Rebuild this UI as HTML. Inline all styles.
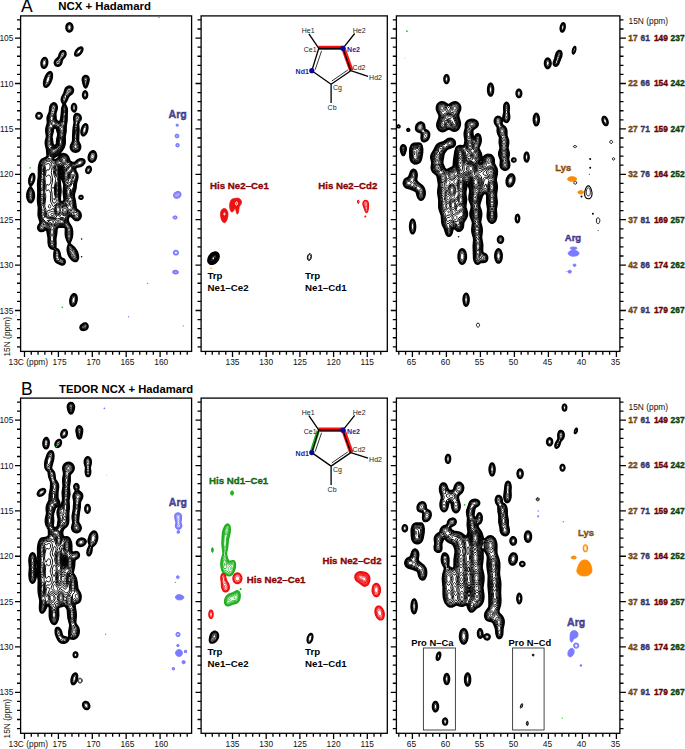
<!DOCTYPE html><html><head><meta charset="utf-8"><style>html,body{margin:0;padding:0;background:#fff;overflow:hidden}svg{display:block}.t{font-family:"Liberation Sans", sans-serif;font-size:8.4px;fill:#111}.tb{font-family:"Liberation Sans", sans-serif;font-size:8.4px;font-weight:bold}.h{font-family:"Liberation Sans", sans-serif;font-size:11.4px;font-weight:bold;fill:#000}.L{font-family:"Liberation Sans", sans-serif;font-size:17.5px;fill:#000}.lab{font-family:"Liberation Sans", sans-serif;font-size:10.5px;font-weight:bold}.lab2{font-family:"Liberation Sans", sans-serif;font-size:9.5px;font-weight:bold}.lab3{font-family:"Liberation Sans", sans-serif;font-size:9.4px;font-weight:bold;fill:#000}.lab4{font-family:"Liberation Sans", sans-serif;font-size:9.7px;font-weight:bold}.sm{font-family:"Liberation Sans", sans-serif;font-size:7px;fill:#222}.smb{font-family:"Liberation Sans", sans-serif;font-size:7px;font-weight:bold;fill:#1a1aa8}</style></head><body>
<svg width="685" height="749" viewBox="0 0 685 749">
<rect width="685" height="749" fill="#fff"/>
<rect x="20.60" y="15.90" width="171.00" height="335.50" fill="none" stroke="#000" stroke-width="1.3"/>
<rect x="201.10" y="15.90" width="186.20" height="335.50" fill="none" stroke="#000" stroke-width="1.3"/>
<rect x="396.40" y="15.90" width="223.50" height="335.50" fill="none" stroke="#000" stroke-width="1.3"/>
<path d="M17.00 19.94H20.60M17.00 29.02H20.60M15.00 38.10H20.60M17.00 47.18H20.60M17.00 56.26H20.60M17.00 65.34H20.60M17.00 74.42H20.60M15.00 83.50H20.60M17.00 92.58H20.60M17.00 101.66H20.60M17.00 110.74H20.60M17.00 119.82H20.60M15.00 128.90H20.60M17.00 137.98H20.60M17.00 147.06H20.60M17.00 156.14H20.60M17.00 165.22H20.60M15.00 174.30H20.60M17.00 183.38H20.60M17.00 192.46H20.60M17.00 201.54H20.60M17.00 210.62H20.60M15.00 219.70H20.60M17.00 228.78H20.60M17.00 237.86H20.60M17.00 246.94H20.60M17.00 256.02H20.60M15.00 265.10H20.60M17.00 274.18H20.60M17.00 283.26H20.60M17.00 292.34H20.60M17.00 301.42H20.60M15.00 310.50H20.60M17.00 319.58H20.60M17.00 328.66H20.60M17.00 337.74H20.60M17.00 346.82H20.60M197.50 19.94H201.10M197.50 29.02H201.10M195.50 38.10H201.10M197.50 47.18H201.10M197.50 56.26H201.10M197.50 65.34H201.10M197.50 74.42H201.10M195.50 83.50H201.10M197.50 92.58H201.10M197.50 101.66H201.10M197.50 110.74H201.10M197.50 119.82H201.10M195.50 128.90H201.10M197.50 137.98H201.10M197.50 147.06H201.10M197.50 156.14H201.10M197.50 165.22H201.10M195.50 174.30H201.10M197.50 183.38H201.10M197.50 192.46H201.10M197.50 201.54H201.10M197.50 210.62H201.10M195.50 219.70H201.10M197.50 228.78H201.10M197.50 237.86H201.10M197.50 246.94H201.10M197.50 256.02H201.10M195.50 265.10H201.10M197.50 274.18H201.10M197.50 283.26H201.10M197.50 292.34H201.10M197.50 301.42H201.10M195.50 310.50H201.10M197.50 319.58H201.10M197.50 328.66H201.10M197.50 337.74H201.10M197.50 346.82H201.10M392.80 19.94H396.40M392.80 29.02H396.40M390.80 38.10H396.40M392.80 47.18H396.40M392.80 56.26H396.40M392.80 65.34H396.40M392.80 74.42H396.40M390.80 83.50H396.40M392.80 92.58H396.40M392.80 101.66H396.40M392.80 110.74H396.40M392.80 119.82H396.40M390.80 128.90H396.40M392.80 137.98H396.40M392.80 147.06H396.40M392.80 156.14H396.40M392.80 165.22H396.40M390.80 174.30H396.40M392.80 183.38H396.40M392.80 192.46H396.40M392.80 201.54H396.40M392.80 210.62H396.40M390.80 219.70H396.40M392.80 228.78H396.40M392.80 237.86H396.40M392.80 246.94H396.40M392.80 256.02H396.40M390.80 265.10H396.40M392.80 274.18H396.40M392.80 283.26H396.40M392.80 292.34H396.40M392.80 301.42H396.40M390.80 310.50H396.40M392.80 319.58H396.40M392.80 328.66H396.40M392.80 337.74H396.40M392.80 346.82H396.40M619.90 19.94H623.50M619.90 29.02H623.50M619.90 38.10H625.90M619.90 47.18H623.50M619.90 56.26H623.50M619.90 65.34H623.50M619.90 74.42H623.50M619.90 83.50H625.90M619.90 92.58H623.50M619.90 101.66H623.50M619.90 110.74H623.50M619.90 119.82H623.50M619.90 128.90H625.90M619.90 137.98H623.50M619.90 147.06H623.50M619.90 156.14H623.50M619.90 165.22H623.50M619.90 174.30H625.90M619.90 183.38H623.50M619.90 192.46H623.50M619.90 201.54H623.50M619.90 210.62H623.50M619.90 219.70H625.90M619.90 228.78H623.50M619.90 237.86H623.50M619.90 246.94H623.50M619.90 256.02H623.50M619.90 265.10H625.90M619.90 274.18H623.50M619.90 283.26H623.50M619.90 292.34H623.50M619.90 301.42H623.50M619.90 310.50H625.90M619.90 319.58H623.50M619.90 328.66H623.50M619.90 337.74H623.50M619.90 346.82H623.50M187.22 351.40V354.80M180.44 351.40V354.80M173.66 351.40V354.80M166.88 351.40V354.80M160.10 351.40V357.00M153.32 351.40V354.80M146.54 351.40V354.80M139.76 351.40V354.80M132.98 351.40V354.80M126.20 351.40V357.00M119.42 351.40V354.80M112.64 351.40V354.80M105.86 351.40V354.80M99.08 351.40V354.80M92.30 351.40V357.00M85.52 351.40V354.80M78.74 351.40V354.80M71.96 351.40V354.80M65.18 351.40V354.80M58.40 351.40V357.00M51.62 351.40V354.80M44.84 351.40V354.80M38.06 351.40V354.80M31.28 351.40V354.80M24.50 351.40V357.00M380.78 351.40V354.80M374.04 351.40V354.80M367.30 351.40V357.00M360.56 351.40V354.80M353.82 351.40V354.80M347.08 351.40V354.80M340.34 351.40V354.80M333.60 351.40V357.00M326.86 351.40V354.80M320.12 351.40V354.80M313.38 351.40V354.80M306.64 351.40V354.80M299.90 351.40V357.00M293.16 351.40V354.80M286.42 351.40V354.80M279.68 351.40V354.80M272.94 351.40V354.80M266.20 351.40V357.00M259.46 351.40V354.80M252.72 351.40V354.80M245.98 351.40V354.80M239.24 351.40V354.80M232.50 351.40V357.00M225.76 351.40V354.80M219.02 351.40V354.80M212.28 351.40V354.80M205.54 351.40V354.80M616.40 351.40V357.00M609.60 351.40V354.80M602.80 351.40V354.80M596.00 351.40V354.80M589.20 351.40V354.80M582.40 351.40V357.00M575.60 351.40V354.80M568.80 351.40V354.80M562.00 351.40V354.80M555.20 351.40V354.80M548.40 351.40V357.00M541.60 351.40V354.80M534.80 351.40V354.80M528.00 351.40V354.80M521.20 351.40V354.80M514.40 351.40V357.00M507.60 351.40V354.80M500.80 351.40V354.80M494.00 351.40V354.80M487.20 351.40V354.80M480.40 351.40V357.00M473.60 351.40V354.80M466.80 351.40V354.80M460.00 351.40V354.80M453.20 351.40V354.80M446.40 351.40V357.00M439.60 351.40V354.80M432.80 351.40V354.80M426.00 351.40V354.80M419.20 351.40V354.80M412.40 351.40V357.00M405.60 351.40V354.80M398.80 351.40V354.80" stroke="#000" stroke-width="1.3" fill="none"/>
<text x="13.4" y="41.20" text-anchor="end" class="t">105</text>
<text x="13.4" y="86.60" text-anchor="end" class="t">110</text>
<text x="13.4" y="132.00" text-anchor="end" class="t">115</text>
<text x="13.4" y="177.40" text-anchor="end" class="t">120</text>
<text x="13.4" y="222.80" text-anchor="end" class="t">125</text>
<text x="13.4" y="268.20" text-anchor="end" class="t">130</text>
<text x="13.4" y="313.60" text-anchor="end" class="t">135</text>
<text x="8.5" y="365.20" class="t">13C (ppm)</text>
<text x="59.60" y="365.20" text-anchor="middle" class="t">175</text>
<text x="93.50" y="365.20" text-anchor="middle" class="t">170</text>
<text x="127.40" y="365.20" text-anchor="middle" class="t">165</text>
<text x="161.30" y="365.20" text-anchor="middle" class="t">160</text>
<text x="232.50" y="365.20" text-anchor="middle" class="t">135</text>
<text x="266.20" y="365.20" text-anchor="middle" class="t">130</text>
<text x="299.90" y="365.20" text-anchor="middle" class="t">125</text>
<text x="333.60" y="365.20" text-anchor="middle" class="t">120</text>
<text x="367.30" y="365.20" text-anchor="middle" class="t">115</text>
<text x="411.50" y="365.20" text-anchor="middle" class="t">65</text>
<text x="445.50" y="365.20" text-anchor="middle" class="t">60</text>
<text x="479.50" y="365.20" text-anchor="middle" class="t">55</text>
<text x="513.50" y="365.20" text-anchor="middle" class="t">50</text>
<text x="547.50" y="365.20" text-anchor="middle" class="t">45</text>
<text x="581.50" y="365.20" text-anchor="middle" class="t">40</text>
<text x="615.50" y="365.20" text-anchor="middle" class="t">35</text>
<text transform="translate(9.5,356.60) rotate(-90)" class="t">15N (ppm)</text>
<text x="628.5" y="23.90" class="t">15N (ppm)</text>
<text x="628.3" y="41.00" class="tb" fill="#b06408" stroke="#3a2000" stroke-width="0.35">17</text>
<text x="640.5" y="41.00" class="tb" fill="#50509e" stroke="#15153a" stroke-width="0.35">61</text>
<text x="653.9" y="41.00" class="tb" fill="#a00000" stroke="#2a0000" stroke-width="0.35">149</text>
<text x="670.6" y="41.00" class="tb" fill="#0a640a" stroke="#002000" stroke-width="0.35">237</text>
<text x="628.3" y="86.40" class="tb" fill="#b06408" stroke="#3a2000" stroke-width="0.35">22</text>
<text x="640.5" y="86.40" class="tb" fill="#50509e" stroke="#15153a" stroke-width="0.35">66</text>
<text x="653.9" y="86.40" class="tb" fill="#a00000" stroke="#2a0000" stroke-width="0.35">154</text>
<text x="670.6" y="86.40" class="tb" fill="#0a640a" stroke="#002000" stroke-width="0.35">242</text>
<text x="628.3" y="131.80" class="tb" fill="#b06408" stroke="#3a2000" stroke-width="0.35">27</text>
<text x="640.5" y="131.80" class="tb" fill="#50509e" stroke="#15153a" stroke-width="0.35">71</text>
<text x="653.9" y="131.80" class="tb" fill="#a00000" stroke="#2a0000" stroke-width="0.35">159</text>
<text x="670.6" y="131.80" class="tb" fill="#0a640a" stroke="#002000" stroke-width="0.35">247</text>
<text x="628.3" y="177.20" class="tb" fill="#b06408" stroke="#3a2000" stroke-width="0.35">32</text>
<text x="640.5" y="177.20" class="tb" fill="#50509e" stroke="#15153a" stroke-width="0.35">76</text>
<text x="653.9" y="177.20" class="tb" fill="#a00000" stroke="#2a0000" stroke-width="0.35">164</text>
<text x="670.6" y="177.20" class="tb" fill="#0a640a" stroke="#002000" stroke-width="0.35">252</text>
<text x="628.3" y="222.60" class="tb" fill="#b06408" stroke="#3a2000" stroke-width="0.35">37</text>
<text x="640.5" y="222.60" class="tb" fill="#50509e" stroke="#15153a" stroke-width="0.35">81</text>
<text x="653.9" y="222.60" class="tb" fill="#a00000" stroke="#2a0000" stroke-width="0.35">169</text>
<text x="670.6" y="222.60" class="tb" fill="#0a640a" stroke="#002000" stroke-width="0.35">257</text>
<text x="628.3" y="268.00" class="tb" fill="#b06408" stroke="#3a2000" stroke-width="0.35">42</text>
<text x="640.5" y="268.00" class="tb" fill="#50509e" stroke="#15153a" stroke-width="0.35">86</text>
<text x="653.9" y="268.00" class="tb" fill="#a00000" stroke="#2a0000" stroke-width="0.35">174</text>
<text x="670.6" y="268.00" class="tb" fill="#0a640a" stroke="#002000" stroke-width="0.35">262</text>
<text x="628.3" y="313.40" class="tb" fill="#b06408" stroke="#3a2000" stroke-width="0.35">47</text>
<text x="640.5" y="313.40" class="tb" fill="#50509e" stroke="#15153a" stroke-width="0.35">91</text>
<text x="653.9" y="313.40" class="tb" fill="#a00000" stroke="#2a0000" stroke-width="0.35">179</text>
<text x="670.6" y="313.40" class="tb" fill="#0a640a" stroke="#002000" stroke-width="0.35">267</text>
<rect x="20.60" y="398.10" width="171.00" height="335.20" fill="none" stroke="#000" stroke-width="1.3"/>
<rect x="201.10" y="398.10" width="186.20" height="335.20" fill="none" stroke="#000" stroke-width="1.3"/>
<rect x="396.40" y="398.10" width="223.50" height="335.20" fill="none" stroke="#000" stroke-width="1.3"/>
<path d="M17.00 402.06H20.60M17.00 411.13H20.60M15.00 420.20H20.60M17.00 429.27H20.60M17.00 438.34H20.60M17.00 447.41H20.60M17.00 456.48H20.60M15.00 465.55H20.60M17.00 474.62H20.60M17.00 483.69H20.60M17.00 492.76H20.60M17.00 501.83H20.60M15.00 510.90H20.60M17.00 519.97H20.60M17.00 529.04H20.60M17.00 538.11H20.60M17.00 547.18H20.60M15.00 556.25H20.60M17.00 565.32H20.60M17.00 574.39H20.60M17.00 583.46H20.60M17.00 592.53H20.60M15.00 601.60H20.60M17.00 610.67H20.60M17.00 619.74H20.60M17.00 628.81H20.60M17.00 637.88H20.60M15.00 646.95H20.60M17.00 656.02H20.60M17.00 665.09H20.60M17.00 674.16H20.60M17.00 683.23H20.60M15.00 692.30H20.60M17.00 701.37H20.60M17.00 710.44H20.60M17.00 719.51H20.60M17.00 728.58H20.60M197.50 402.06H201.10M197.50 411.13H201.10M195.50 420.20H201.10M197.50 429.27H201.10M197.50 438.34H201.10M197.50 447.41H201.10M197.50 456.48H201.10M195.50 465.55H201.10M197.50 474.62H201.10M197.50 483.69H201.10M197.50 492.76H201.10M197.50 501.83H201.10M195.50 510.90H201.10M197.50 519.97H201.10M197.50 529.04H201.10M197.50 538.11H201.10M197.50 547.18H201.10M195.50 556.25H201.10M197.50 565.32H201.10M197.50 574.39H201.10M197.50 583.46H201.10M197.50 592.53H201.10M195.50 601.60H201.10M197.50 610.67H201.10M197.50 619.74H201.10M197.50 628.81H201.10M197.50 637.88H201.10M195.50 646.95H201.10M197.50 656.02H201.10M197.50 665.09H201.10M197.50 674.16H201.10M197.50 683.23H201.10M195.50 692.30H201.10M197.50 701.37H201.10M197.50 710.44H201.10M197.50 719.51H201.10M197.50 728.58H201.10M392.80 402.06H396.40M392.80 411.13H396.40M390.80 420.20H396.40M392.80 429.27H396.40M392.80 438.34H396.40M392.80 447.41H396.40M392.80 456.48H396.40M390.80 465.55H396.40M392.80 474.62H396.40M392.80 483.69H396.40M392.80 492.76H396.40M392.80 501.83H396.40M390.80 510.90H396.40M392.80 519.97H396.40M392.80 529.04H396.40M392.80 538.11H396.40M392.80 547.18H396.40M390.80 556.25H396.40M392.80 565.32H396.40M392.80 574.39H396.40M392.80 583.46H396.40M392.80 592.53H396.40M390.80 601.60H396.40M392.80 610.67H396.40M392.80 619.74H396.40M392.80 628.81H396.40M392.80 637.88H396.40M390.80 646.95H396.40M392.80 656.02H396.40M392.80 665.09H396.40M392.80 674.16H396.40M392.80 683.23H396.40M390.80 692.30H396.40M392.80 701.37H396.40M392.80 710.44H396.40M392.80 719.51H396.40M392.80 728.58H396.40M619.90 402.06H623.50M619.90 411.13H623.50M619.90 420.20H625.90M619.90 429.27H623.50M619.90 438.34H623.50M619.90 447.41H623.50M619.90 456.48H623.50M619.90 465.55H625.90M619.90 474.62H623.50M619.90 483.69H623.50M619.90 492.76H623.50M619.90 501.83H623.50M619.90 510.90H625.90M619.90 519.97H623.50M619.90 529.04H623.50M619.90 538.11H623.50M619.90 547.18H623.50M619.90 556.25H625.90M619.90 565.32H623.50M619.90 574.39H623.50M619.90 583.46H623.50M619.90 592.53H623.50M619.90 601.60H625.90M619.90 610.67H623.50M619.90 619.74H623.50M619.90 628.81H623.50M619.90 637.88H623.50M619.90 646.95H625.90M619.90 656.02H623.50M619.90 665.09H623.50M619.90 674.16H623.50M619.90 683.23H623.50M619.90 692.30H625.90M619.90 701.37H623.50M619.90 710.44H623.50M619.90 719.51H623.50M619.90 728.58H623.50M187.22 733.30V736.70M180.44 733.30V736.70M173.66 733.30V736.70M166.88 733.30V736.70M160.10 733.30V738.90M153.32 733.30V736.70M146.54 733.30V736.70M139.76 733.30V736.70M132.98 733.30V736.70M126.20 733.30V738.90M119.42 733.30V736.70M112.64 733.30V736.70M105.86 733.30V736.70M99.08 733.30V736.70M92.30 733.30V738.90M85.52 733.30V736.70M78.74 733.30V736.70M71.96 733.30V736.70M65.18 733.30V736.70M58.40 733.30V738.90M51.62 733.30V736.70M44.84 733.30V736.70M38.06 733.30V736.70M31.28 733.30V736.70M24.50 733.30V738.90M380.78 733.30V736.70M374.04 733.30V736.70M367.30 733.30V738.90M360.56 733.30V736.70M353.82 733.30V736.70M347.08 733.30V736.70M340.34 733.30V736.70M333.60 733.30V738.90M326.86 733.30V736.70M320.12 733.30V736.70M313.38 733.30V736.70M306.64 733.30V736.70M299.90 733.30V738.90M293.16 733.30V736.70M286.42 733.30V736.70M279.68 733.30V736.70M272.94 733.30V736.70M266.20 733.30V738.90M259.46 733.30V736.70M252.72 733.30V736.70M245.98 733.30V736.70M239.24 733.30V736.70M232.50 733.30V738.90M225.76 733.30V736.70M219.02 733.30V736.70M212.28 733.30V736.70M205.54 733.30V736.70M616.40 733.30V738.90M609.60 733.30V736.70M602.80 733.30V736.70M596.00 733.30V736.70M589.20 733.30V736.70M582.40 733.30V738.90M575.60 733.30V736.70M568.80 733.30V736.70M562.00 733.30V736.70M555.20 733.30V736.70M548.40 733.30V738.90M541.60 733.30V736.70M534.80 733.30V736.70M528.00 733.30V736.70M521.20 733.30V736.70M514.40 733.30V738.90M507.60 733.30V736.70M500.80 733.30V736.70M494.00 733.30V736.70M487.20 733.30V736.70M480.40 733.30V738.90M473.60 733.30V736.70M466.80 733.30V736.70M460.00 733.30V736.70M453.20 733.30V736.70M446.40 733.30V738.90M439.60 733.30V736.70M432.80 733.30V736.70M426.00 733.30V736.70M419.20 733.30V736.70M412.40 733.30V738.90M405.60 733.30V736.70M398.80 733.30V736.70" stroke="#000" stroke-width="1.3" fill="none"/>
<text x="13.4" y="423.30" text-anchor="end" class="t">105</text>
<text x="13.4" y="468.65" text-anchor="end" class="t">110</text>
<text x="13.4" y="514.00" text-anchor="end" class="t">115</text>
<text x="13.4" y="559.35" text-anchor="end" class="t">120</text>
<text x="13.4" y="604.70" text-anchor="end" class="t">125</text>
<text x="13.4" y="650.05" text-anchor="end" class="t">130</text>
<text x="13.4" y="695.40" text-anchor="end" class="t">135</text>
<text x="8.5" y="747.10" class="t">13C (ppm)</text>
<text x="59.60" y="747.10" text-anchor="middle" class="t">175</text>
<text x="93.50" y="747.10" text-anchor="middle" class="t">170</text>
<text x="127.40" y="747.10" text-anchor="middle" class="t">165</text>
<text x="161.30" y="747.10" text-anchor="middle" class="t">160</text>
<text x="232.50" y="747.10" text-anchor="middle" class="t">135</text>
<text x="266.20" y="747.10" text-anchor="middle" class="t">130</text>
<text x="299.90" y="747.10" text-anchor="middle" class="t">125</text>
<text x="333.60" y="747.10" text-anchor="middle" class="t">120</text>
<text x="367.30" y="747.10" text-anchor="middle" class="t">115</text>
<text x="411.50" y="747.10" text-anchor="middle" class="t">65</text>
<text x="445.50" y="747.10" text-anchor="middle" class="t">60</text>
<text x="479.50" y="747.10" text-anchor="middle" class="t">55</text>
<text x="513.50" y="747.10" text-anchor="middle" class="t">50</text>
<text x="547.50" y="747.10" text-anchor="middle" class="t">45</text>
<text x="581.50" y="747.10" text-anchor="middle" class="t">40</text>
<text x="615.50" y="747.10" text-anchor="middle" class="t">35</text>
<text transform="translate(9.5,738.50) rotate(-90)" class="t">15N (ppm)</text>
<text x="628.5" y="409.90" class="t">15N (ppm)</text>
<text x="628.3" y="423.10" class="tb" fill="#b06408" stroke="#3a2000" stroke-width="0.35">17</text>
<text x="640.5" y="423.10" class="tb" fill="#50509e" stroke="#15153a" stroke-width="0.35">61</text>
<text x="653.9" y="423.10" class="tb" fill="#a00000" stroke="#2a0000" stroke-width="0.35">149</text>
<text x="670.6" y="423.10" class="tb" fill="#0a640a" stroke="#002000" stroke-width="0.35">237</text>
<text x="628.3" y="468.45" class="tb" fill="#b06408" stroke="#3a2000" stroke-width="0.35">22</text>
<text x="640.5" y="468.45" class="tb" fill="#50509e" stroke="#15153a" stroke-width="0.35">66</text>
<text x="653.9" y="468.45" class="tb" fill="#a00000" stroke="#2a0000" stroke-width="0.35">154</text>
<text x="670.6" y="468.45" class="tb" fill="#0a640a" stroke="#002000" stroke-width="0.35">242</text>
<text x="628.3" y="513.80" class="tb" fill="#b06408" stroke="#3a2000" stroke-width="0.35">27</text>
<text x="640.5" y="513.80" class="tb" fill="#50509e" stroke="#15153a" stroke-width="0.35">71</text>
<text x="653.9" y="513.80" class="tb" fill="#a00000" stroke="#2a0000" stroke-width="0.35">159</text>
<text x="670.6" y="513.80" class="tb" fill="#0a640a" stroke="#002000" stroke-width="0.35">247</text>
<text x="628.3" y="559.15" class="tb" fill="#b06408" stroke="#3a2000" stroke-width="0.35">32</text>
<text x="640.5" y="559.15" class="tb" fill="#50509e" stroke="#15153a" stroke-width="0.35">76</text>
<text x="653.9" y="559.15" class="tb" fill="#a00000" stroke="#2a0000" stroke-width="0.35">164</text>
<text x="670.6" y="559.15" class="tb" fill="#0a640a" stroke="#002000" stroke-width="0.35">252</text>
<text x="628.3" y="604.50" class="tb" fill="#b06408" stroke="#3a2000" stroke-width="0.35">37</text>
<text x="640.5" y="604.50" class="tb" fill="#50509e" stroke="#15153a" stroke-width="0.35">81</text>
<text x="653.9" y="604.50" class="tb" fill="#a00000" stroke="#2a0000" stroke-width="0.35">169</text>
<text x="670.6" y="604.50" class="tb" fill="#0a640a" stroke="#002000" stroke-width="0.35">257</text>
<text x="628.3" y="649.85" class="tb" fill="#b06408" stroke="#3a2000" stroke-width="0.35">42</text>
<text x="640.5" y="649.85" class="tb" fill="#50509e" stroke="#15153a" stroke-width="0.35">86</text>
<text x="653.9" y="649.85" class="tb" fill="#a00000" stroke="#2a0000" stroke-width="0.35">174</text>
<text x="670.6" y="649.85" class="tb" fill="#0a640a" stroke="#002000" stroke-width="0.35">262</text>
<text x="628.3" y="695.20" class="tb" fill="#b06408" stroke="#3a2000" stroke-width="0.35">47</text>
<text x="640.5" y="695.20" class="tb" fill="#50509e" stroke="#15153a" stroke-width="0.35">91</text>
<text x="653.9" y="695.20" class="tb" fill="#a00000" stroke="#2a0000" stroke-width="0.35">179</text>
<text x="670.6" y="695.20" class="tb" fill="#0a640a" stroke="#002000" stroke-width="0.35">267</text>
<text x="20.9" y="11.8" class="L">A</text>
<text x="58.2" y="10.3" class="h">NCX + Hadamard</text>
<text x="20.9" y="394.5" class="L">B</text>
<text x="59.1" y="392.6" class="h" style="font-size:11.25px">TEDOR NCX + Hadamard</text>
<g fill="none" stroke="#000" stroke-linejoin="round">
<path d="M70.5 31.5 69.0 31.8 68.0 31.4 66.7 30.0 66.2 28.5 66.2 26.5 66.6 25.0 67.5 23.8 69.0 23.0 70.5 23.3 71.5 24.0 72.2 25.0 72.6 26.5 72.7 28.0 72.3 29.5 71.5 30.8 70.5 31.5ZM78.0 55.6 76.5 55.9 75.4 55.5 75.0 55.0 74.9 54.0 75.4 52.0 76.6 50.0 78.5 48.2 80.5 47.3 81.5 47.3 82.0 47.5 82.5 48.1 82.7 49.0 82.6 50.0 82.1 51.5 81.1 53.0 80.3 54.0 79.0 55.0 78.0 55.6ZM58.0 66.1 56.5 65.9 55.2 65.0 54.6 63.5 54.5 62.5 54.8 61.5 55.6 60.0 58.3 57.5 58.8 56.5 59.7 53.5 60.7 52.0 61.5 51.3 62.5 50.8 64.0 50.9 65.0 51.5 65.6 52.5 65.8 54.0 65.5 55.5 64.6 57.0 62.5 59.5 62.0 60.5 61.5 63.0 60.7 64.5 59.5 65.5 58.0 66.1ZM44.5 68.0 43.5 68.1 43.0 67.9 42.0 67.0 41.3 65.0 41.2 63.0 41.6 61.0 42.5 59.1 43.5 58.1 44.0 57.9 45.0 57.7 46.0 58.2 47.0 59.5 47.4 61.0 47.5 62.5 47.2 64.5 46.5 66.2 45.5 67.5 44.5 68.0ZM46.0 87.1 45.0 86.9 44.6 86.5 43.9 85.0 43.8 82.5 44.4 79.5 45.8 76.0 47.4 73.5 49.0 72.1 50.0 71.8 50.5 71.9 51.5 72.6 51.9 73.5 52.2 74.5 52.1 77.0 51.6 79.5 50.4 82.5 49.0 84.8 47.5 86.4 46.0 87.1ZM86.0 87.6 85.5 87.8 85.0 87.5 84.2 86.5 83.2 83.5 82.5 80.0 82.6 78.5 83.3 77.0 84.5 76.0 85.5 75.7 87.0 76.0 88.0 76.8 88.7 78.0 88.9 79.5 88.7 81.5 87.4 85.5 86.6 87.0 86.0 87.6ZM63.0 264.7 62.0 264.8 61.0 264.6 57.0 262.7 56.0 262.0 55.0 260.5 54.4 258.5 54.1 256.5 54.1 254.0 54.5 250.5 54.4 249.5 54.0 249.1 52.0 248.8 51.0 248.4 50.0 247.5 49.0 245.9 48.4 243.0 48.3 237.5 47.0 230.5 46.5 229.5 46.0 229.4 45.5 229.7 43.0 231.1 41.5 231.4 40.5 231.2 39.5 230.8 38.7 230.0 38.1 229.0 37.9 228.0 38.1 226.5 38.5 225.5 39.9 223.5 40.2 222.5 40.1 221.5 38.7 217.0 38.3 214.5 38.6 207.5 37.8 202.0 37.7 199.5 38.1 192.5 37.8 184.0 38.6 176.0 38.7 167.5 39.1 165.0 39.6 163.0 40.5 161.1 41.5 159.8 42.5 159.1 45.8 157.5 46.9 156.5 47.2 156.0 47.2 155.0 46.7 149.0 45.8 145.5 45.5 143.5 45.6 141.0 46.5 137.5 46.7 136.0 46.0 131.5 46.0 129.5 46.3 127.5 47.6 123.0 47.3 119.0 47.4 117.5 47.8 116.0 49.5 112.0 49.9 108.0 50.2 106.5 50.7 105.5 51.5 104.3 53.0 103.2 54.0 103.0 55.0 103.3 56.3 104.5 56.9 106.0 57.1 107.5 56.8 109.5 55.6 113.5 55.9 119.0 56.5 120.3 57.5 121.3 58.0 121.6 59.0 121.7 60.0 121.3 60.5 120.5 61.0 118.2 61.5 114.5 61.9 108.5 63.2 104.5 63.0 103.5 62.0 102.0 61.6 101.0 61.5 99.5 61.7 98.0 62.3 96.5 64.0 93.5 65.0 90.0 65.6 88.5 66.5 87.5 67.5 86.8 68.5 86.4 69.5 86.3 71.0 86.7 72.1 87.5 73.0 89.0 73.3 90.5 72.9 92.0 72.4 93.0 71.4 94.0 69.4 95.5 68.5 96.5 67.0 100.0 65.0 103.5 65.1 104.5 66.3 106.5 66.8 108.0 67.2 111.0 66.9 115.0 66.8 120.5 66.0 125.5 65.8 131.5 64.9 136.5 65.1 142.0 64.7 145.0 64.2 146.5 63.3 148.5 60.0 153.2 57.5 155.4 53.8 157.5 53.4 158.0 53.3 158.5 53.4 159.0 53.9 159.5 54.5 159.7 55.5 159.6 56.5 159.3 58.0 158.3 59.8 155.5 60.5 154.7 62.0 154.0 64.0 153.8 66.0 154.5 67.4 155.5 68.6 157.5 69.9 161.0 70.5 161.6 72.0 162.3 73.5 162.8 74.5 162.7 78.0 159.8 79.5 159.2 81.0 158.9 82.5 159.0 83.6 159.5 84.5 160.5 84.7 161.5 84.6 162.5 84.1 163.5 82.9 165.0 80.5 166.4 76.5 167.1 76.0 167.5 75.7 168.0 75.4 169.5 75.7 171.0 77.3 174.0 77.6 175.5 77.7 177.0 77.4 179.0 76.4 182.5 75.7 188.5 74.2 194.0 74.1 196.5 75.2 201.5 76.0 208.0 76.5 209.0 76.9 209.5 79.0 211.0 80.3 212.5 80.9 214.5 81.0 216.0 80.8 217.0 80.1 218.5 79.5 219.3 78.5 220.0 77.5 220.4 76.0 220.3 74.5 219.6 71.5 216.5 70.5 216.0 69.5 216.3 69.0 216.7 68.5 217.5 68.0 219.0 68.1 220.5 68.6 222.5 71.4 227.0 72.0 229.0 72.4 231.5 72.4 234.5 72.1 237.0 71.3 239.5 69.7 243.0 69.8 243.5 70.6 244.5 74.5 247.8 76.4 250.5 77.4 252.5 78.1 255.0 78.3 257.0 78.2 258.5 77.6 260.0 77.0 260.8 76.0 261.3 75.0 261.3 74.0 261.1 72.5 260.2 71.0 258.8 69.7 257.0 68.4 254.5 67.6 251.5 67.4 249.5 67.5 248.0 68.8 243.5 67.0 240.3 65.9 237.0 65.5 234.0 65.6 229.0 65.4 228.0 65.0 227.4 64.0 227.1 59.5 227.0 58.5 227.1 57.8 227.5 57.3 228.0 56.8 229.5 56.5 233.5 55.6 238.5 55.8 243.5 55.6 247.5 55.7 248.0 56.0 248.3 58.0 249.5 59.0 250.9 59.8 253.0 60.4 256.5 60.9 257.5 61.5 258.0 63.7 259.0 64.2 259.5 64.8 260.5 65.0 262.0 64.8 263.0 64.0 264.1 63.0 264.7ZM85.5 98.5 84.5 98.5 83.9 98.0 83.2 97.0 82.8 95.5 82.9 94.0 83.4 92.5 84.0 91.6 85.0 91.0 86.0 91.3 86.5 91.9 87.1 93.0 87.4 94.5 87.3 96.0 87.0 97.0 86.3 98.0 85.5 98.5ZM74.5 111.7 73.5 111.5 72.5 110.6 71.9 109.5 71.6 108.0 71.7 106.5 72.2 105.0 73.0 104.0 74.0 103.7 75.0 104.0 75.8 105.0 76.2 106.0 76.4 107.5 76.3 109.0 75.8 110.5 75.0 111.5 74.5 111.7ZM75.5 152.0 73.5 151.6 71.9 150.5 70.9 149.0 70.5 147.0 70.9 145.0 72.5 142.0 72.9 140.5 72.9 136.5 73.4 128.0 74.4 122.5 73.9 119.0 74.0 117.0 74.5 115.5 75.1 114.5 76.0 113.8 77.0 113.7 78.5 114.1 79.8 115.0 80.5 116.0 81.0 117.5 80.9 119.0 80.6 120.0 78.9 122.5 78.4 124.0 78.8 129.5 78.3 140.5 78.6 142.0 80.0 144.5 80.4 146.0 80.5 147.0 80.1 149.0 79.0 150.6 77.5 151.6 75.5 152.0ZM84.0 135.5 83.5 135.6 82.7 135.5 81.7 134.5 81.2 132.5 81.3 130.5 82.2 127.5 83.3 125.5 84.5 124.3 85.5 123.9 86.0 124.0 87.0 124.7 87.5 125.9 87.7 127.5 87.5 129.5 87.0 131.5 86.1 133.5 85.0 134.8 84.0 135.5ZM56.1 145.0 56.6 144.0 56.9 140.0 57.9 135.5 58.0 134.0 56.5 128.5 56.0 127.9 55.0 127.7 54.0 128.2 53.4 129.0 52.8 132.5 51.9 136.0 51.8 137.5 53.0 144.6 53.5 145.1 54.5 145.4 55.5 145.3 56.1 145.0ZM92.5 162.0 91.0 162.0 89.6 161.0 88.7 159.5 88.4 157.5 88.9 155.0 89.9 153.0 90.5 152.2 91.5 151.5 93.0 151.0 94.5 151.5 95.5 152.5 96.1 154.0 96.4 156.0 96.0 158.0 95.1 160.0 94.0 161.2 92.5 162.0ZM30.5 186.1 29.5 184.3 29.1 183.0 29.0 181.0 29.2 178.5 29.9 176.5 31.0 174.6 32.0 173.7 33.0 173.6 33.5 173.8 34.0 174.4 34.4 175.5 34.6 177.5 34.4 179.5 33.8 181.5 33.0 183.2 31.5 185.4 31.0 185.9 30.5 186.1ZM63.1 201.5 64.0 200.5 64.2 199.5 63.4 192.0 64.0 186.0 64.0 184.5 63.6 183.0 62.2 180.0 61.0 177.0 60.5 176.6 60.0 177.7 59.8 179.5 60.8 189.5 60.7 192.5 60.1 198.0 60.1 199.5 60.5 201.0 61.0 201.6 62.0 202.0 63.1 201.5ZM31.5 202.3 31.0 202.5 30.0 202.4 29.0 201.8 28.5 201.2 27.5 199.0 27.0 196.5 27.1 193.5 27.8 191.0 29.0 188.7 30.0 187.4 30.5 187.0 31.0 187.3 31.5 187.9 33.2 190.5 33.9 192.5 34.2 194.5 34.2 197.0 33.6 199.5 32.5 201.5 31.5 202.3ZM73.0 306.1 72.0 306.0 71.5 305.7 70.6 304.5 70.1 302.5 70.1 300.0 70.7 297.5 71.7 295.5 73.0 294.2 74.0 293.9 74.5 293.9 75.5 294.3 76.5 295.8 76.9 297.5 76.9 300.0 76.3 302.5 75.5 304.2 74.5 305.4 73.0 306.1ZM84.5 330.1 83.0 330.2 81.5 329.8 80.5 328.8 80.2 327.5 80.5 326.2 81.5 324.9 83.5 323.4 85.0 323.1 86.0 323.3 87.0 324.0 87.6 325.0 87.9 326.5 87.7 327.5 87.0 328.8 86.0 329.6 84.5 330.1Z" stroke-width="1.9"/>
<path d="M39.5 119.1 38.5 119.1 37.2 118.5 36.3 117.5 36.0 116.5 36.0 115.0 36.4 114.0 37.4 113.0 38.5 112.5 40.0 112.7 41.0 113.3 41.9 114.5 42.1 115.5 42.1 116.5 41.5 117.8 40.5 118.7 39.5 119.1ZM89.0 173.2 88.0 173.4 86.8 173.0 86.0 172.0 85.8 170.5 86.1 169.0 87.0 167.4 88.0 166.6 89.5 166.3 90.5 166.8 90.9 167.5 91.2 168.5 91.3 169.5 91.1 170.5 90.5 171.8 89.9 172.5 89.0 173.2ZM61.6 170.0 62.0 169.2 62.1 168.0 62.0 167.5 61.5 167.1 61.0 167.6 60.9 169.0 61.0 170.0 61.5 170.3 61.6 170.0ZM82.0 199.0 81.5 199.2 80.5 199.2 79.4 198.5 79.1 198.0 79.0 197.0 79.5 196.0 80.0 195.6 80.5 195.4 81.5 195.4 82.5 196.0 82.8 196.5 83.0 197.0 82.9 198.0 82.0 199.0Z" stroke-width="1.52"/>
<path d="M70.0 31.1 69.0 31.2 67.8 30.5 67.0 29.5 66.6 28.0 66.6 26.5 67.2 25.0 68.0 24.1 69.0 23.6 70.0 23.7 71.0 24.2 71.6 25.0 72.2 26.5 72.2 28.0 71.8 29.5 71.0 30.6 70.0 31.1ZM78.0 55.1 76.5 55.3 76.0 55.1 75.5 54.5 75.5 53.0 76.1 51.5 77.5 49.6 79.0 48.4 80.5 47.9 81.5 48.0 82.0 48.5 82.2 49.5 81.6 51.5 80.0 53.7 78.0 55.1ZM58.0 65.6 56.5 65.3 55.5 64.5 55.0 63.0 55.2 61.5 56.2 60.0 58.2 58.5 59.0 57.6 59.9 54.0 61.0 52.3 62.5 51.3 63.5 51.3 64.0 51.4 64.7 52.0 65.2 53.0 65.4 54.0 65.0 55.5 64.1 57.0 61.7 59.5 61.2 62.5 60.5 64.0 59.5 65.0 58.0 65.6ZM45.0 67.1 44.0 67.4 42.9 67.0 42.0 65.8 41.6 64.0 41.7 62.0 42.2 60.5 43.3 59.0 44.5 58.4 45.5 58.6 46.4 59.5 46.8 60.5 47.0 62.0 46.9 63.5 46.5 65.0 46.0 66.0 45.0 67.1ZM47.0 86.0 46.0 86.3 45.5 86.2 45.0 85.8 44.5 85.0 44.2 83.0 44.7 80.0 45.8 77.0 47.5 74.1 49.0 72.9 50.0 72.7 50.5 72.8 51.2 73.5 51.7 75.0 51.7 77.0 51.3 79.0 50.7 81.0 49.5 83.4 48.3 85.0 47.0 86.0ZM86.0 87.1 85.5 87.2 85.0 87.0 84.3 86.0 83.4 83.0 82.8 80.0 83.0 78.5 83.5 77.4 84.5 76.5 85.5 76.2 86.5 76.3 87.5 77.0 88.2 78.0 88.5 79.5 88.3 81.5 87.3 85.0 86.6 86.5 86.0 87.1ZM64.5 102.6 64.0 102.8 63.5 102.7 62.7 102.0 62.1 101.0 61.9 99.5 62.2 97.5 64.5 93.5 65.4 90.0 66.1 88.5 67.0 87.6 68.0 87.0 69.5 86.8 70.5 87.0 71.5 87.5 72.6 89.0 72.8 90.5 72.5 91.9 71.4 93.5 69.0 95.2 68.2 96.0 66.5 100.2 65.5 101.7 64.5 102.6ZM53.5 248.0 52.0 248.1 51.0 247.7 50.0 246.8 49.1 245.0 48.7 243.0 48.7 237.5 47.8 233.0 47.5 229.3 47.0 228.2 46.5 228.1 46.0 228.3 44.2 230.0 43.4 230.5 42.5 230.9 41.5 231.0 40.5 230.8 39.5 230.3 38.7 229.5 38.3 228.5 38.2 227.5 38.4 226.5 38.9 225.5 40.4 223.5 40.7 222.5 40.5 221.5 39.1 217.5 38.7 215.5 38.6 213.0 38.9 208.0 38.1 202.0 37.9 199.0 38.4 192.5 38.0 183.5 38.8 176.0 38.8 169.5 39.2 166.0 40.2 162.5 41.5 160.5 42.5 159.8 45.0 158.9 46.7 158.0 48.1 157.0 48.3 156.5 47.4 153.0 47.1 149.0 46.1 145.5 45.8 143.5 46.0 141.0 47.2 136.5 47.1 135.0 46.4 131.5 46.3 129.0 46.7 127.0 47.9 124.0 48.1 123.0 47.7 119.0 47.8 117.5 48.2 116.0 49.9 112.0 50.5 107.0 51.1 105.5 52.0 104.4 53.0 103.7 54.0 103.6 55.0 103.9 55.8 104.5 56.3 105.5 56.6 106.5 56.6 109.0 55.4 112.5 55.2 114.0 55.5 119.0 55.9 120.0 56.5 120.9 58.0 122.1 59.0 122.2 60.0 121.9 60.7 121.0 61.0 120.0 61.7 115.0 62.2 108.5 63.0 106.3 64.0 105.2 64.5 105.1 65.5 106.0 66.4 107.5 66.8 109.0 66.9 111.0 66.6 115.0 66.6 119.0 65.7 125.5 65.6 131.5 64.6 136.5 64.8 143.0 64.1 146.0 62.5 149.0 60.0 152.3 58.0 154.3 56.5 155.4 52.1 157.5 51.8 158.0 52.1 159.0 53.0 160.2 54.0 160.8 55.0 160.7 57.0 160.0 57.9 159.5 58.5 158.9 59.9 156.5 61.0 155.3 62.5 154.5 64.0 154.3 65.5 154.7 67.0 155.7 68.2 157.5 69.6 161.5 70.5 162.3 72.5 163.0 73.5 163.3 74.5 163.4 75.0 163.2 77.0 161.1 78.0 160.3 79.0 159.7 80.5 159.3 82.0 159.4 83.0 159.7 83.8 160.5 84.2 161.5 84.1 162.5 83.6 163.5 82.8 164.5 81.5 165.5 79.5 166.3 76.0 166.6 75.3 167.5 74.9 169.5 75.1 171.0 76.5 173.1 77.1 174.5 77.4 177.0 77.2 178.5 76.1 182.5 75.5 188.5 73.8 194.0 73.7 196.5 75.1 202.5 75.7 208.5 76.5 209.8 78.9 211.5 80.0 212.9 80.6 215.0 80.3 217.0 79.9 218.0 79.0 219.1 78.0 219.7 77.0 219.9 75.5 219.6 74.5 219.0 72.0 216.0 71.0 215.3 70.5 215.1 69.5 215.4 68.5 216.4 67.8 217.5 67.5 218.5 67.5 219.5 68.0 223.0 68.4 224.0 70.0 225.7 71.2 227.5 71.8 229.5 72.2 232.0 72.1 235.0 71.6 237.5 70.5 240.0 69.5 241.1 69.0 241.3 68.0 240.7 67.0 239.1 66.3 237.0 65.8 234.0 66.0 228.5 65.9 227.5 65.7 227.0 65.0 226.7 62.0 226.8 59.0 226.6 58.0 226.8 57.0 227.5 56.4 229.0 56.1 233.5 55.2 238.0 55.4 243.0 55.1 245.5 54.5 247.3 53.5 248.0ZM76.0 151.5 74.0 151.3 72.5 150.5 71.4 149.0 70.9 147.0 71.3 145.0 72.7 142.5 73.2 141.0 73.1 136.5 73.7 127.5 74.8 122.5 74.3 119.0 74.4 117.0 74.7 116.0 75.5 114.9 76.0 114.5 77.0 114.3 78.5 114.6 79.5 115.2 80.4 116.5 80.6 117.5 80.6 118.5 80.4 119.5 79.9 120.5 78.3 122.5 77.9 124.0 78.5 129.0 77.9 141.0 78.4 142.5 79.5 144.5 80.0 146.0 80.1 147.0 79.8 148.5 78.9 150.0 77.5 151.1 76.0 151.5ZM84.5 134.5 83.5 134.9 82.5 134.4 81.8 133.0 81.7 131.0 82.1 129.0 83.0 126.8 84.0 125.5 85.0 124.8 85.5 124.7 86.0 124.8 86.5 125.2 87.0 126.0 87.3 127.5 87.2 129.0 86.8 131.0 86.1 132.5 85.5 133.5 84.5 134.5ZM55.9 145.5 56.5 145.0 56.8 144.0 57.2 139.5 58.4 134.5 58.2 133.0 56.8 128.5 56.5 127.8 56.0 127.4 55.5 127.3 54.0 127.7 53.2 128.5 52.4 132.5 51.4 136.0 51.3 137.0 52.1 141.0 52.4 144.0 52.7 145.0 53.3 145.5 54.0 145.7 55.0 145.7 55.9 145.5ZM93.0 161.2 91.5 161.4 90.5 161.0 90.0 160.6 89.1 159.0 88.9 157.5 89.2 155.5 90.1 153.5 91.5 152.0 93.0 151.6 94.2 152.0 95.2 153.0 95.8 154.5 96.0 156.0 95.6 158.0 95.0 159.4 94.0 160.6 93.0 161.2ZM62.6 202.5 64.1 201.5 64.5 200.9 64.8 200.0 63.7 192.5 63.8 190.0 64.4 186.0 64.5 184.5 64.1 183.0 62.2 179.0 61.7 177.5 61.3 175.0 61.4 173.0 62.7 169.0 62.9 167.5 62.5 166.7 62.0 166.2 61.5 165.9 61.0 165.9 60.5 167.0 60.4 173.5 59.5 177.5 59.4 179.0 60.3 186.0 60.5 189.5 60.4 193.0 59.7 199.5 60.0 201.0 60.6 202.0 61.5 202.6 62.6 202.5ZM31.0 184.6 30.5 184.5 30.0 184.0 29.5 182.8 29.3 181.0 29.4 179.0 30.0 176.9 31.0 175.1 32.0 174.3 33.0 174.2 33.8 175.0 34.2 176.0 34.3 177.5 34.1 179.5 33.0 182.5 32.0 183.9 31.0 184.6ZM31.5 201.7 31.0 201.8 30.0 201.8 28.9 201.0 27.8 199.0 27.3 196.5 27.4 194.0 28.0 191.5 29.0 189.6 30.0 188.6 30.5 188.5 31.5 189.0 32.7 190.5 33.5 192.5 33.9 194.5 33.8 197.0 33.4 199.0 32.5 200.7 31.5 201.7ZM76.0 260.5 74.5 260.6 73.5 260.2 72.5 259.6 70.5 257.5 69.1 255.0 68.1 252.0 67.9 249.5 68.4 247.0 69.0 246.0 69.5 245.6 70.0 245.5 71.0 245.8 73.5 247.5 75.3 249.5 76.7 252.0 77.7 255.0 77.8 257.5 77.2 259.5 76.0 260.5ZM63.5 264.0 62.5 264.4 61.0 264.1 59.0 262.9 56.5 261.7 55.5 260.5 54.6 258.0 54.4 255.0 55.0 251.3 55.5 250.2 56.0 249.8 56.5 249.6 57.5 249.9 58.2 250.5 58.8 251.5 59.5 253.3 60.0 256.5 60.5 257.8 61.0 258.3 63.5 259.3 64.4 260.5 64.7 261.5 64.6 262.5 64.0 263.5 63.5 264.0ZM74.0 305.1 73.0 305.5 72.5 305.5 71.5 304.9 70.7 303.5 70.4 301.0 70.7 298.5 71.5 296.6 72.5 295.3 73.0 294.9 74.0 294.5 75.0 294.7 76.0 295.8 76.5 297.3 76.6 299.0 76.4 301.0 75.9 302.5 75.0 304.2 74.0 305.1Z" stroke-width="1.3"/>
<path d="M85.5 98.0 84.5 98.0 84.0 97.6 83.4 96.5 83.1 95.5 83.2 94.0 83.5 93.0 84.2 92.0 85.0 91.6 86.0 92.0 86.4 92.5 86.9 93.5 87.1 94.5 87.0 96.0 86.6 97.0 86.0 97.8 85.5 98.0ZM74.0 111.0 73.0 110.5 72.5 109.8 72.0 108.5 71.9 107.5 72.0 106.5 72.5 105.2 73.0 104.6 74.0 104.2 75.0 104.6 75.5 105.2 76.0 106.5 76.1 107.5 75.9 109.0 75.5 110.0 75.0 110.7 74.0 111.0ZM39.5 118.6 38.5 118.6 37.5 118.2 36.8 117.5 36.4 116.5 36.3 115.5 36.6 114.5 37.4 113.5 38.5 113.0 39.5 113.0 40.6 113.5 41.4 114.5 41.7 115.5 41.6 116.5 41.2 117.5 40.5 118.2 39.5 118.6ZM89.0 172.7 88.0 172.9 87.0 172.6 86.3 171.5 86.1 170.5 86.4 169.0 87.0 168.0 88.0 167.1 89.0 166.8 89.8 167.0 90.4 167.5 90.8 168.5 90.9 169.5 90.7 170.5 90.3 171.5 89.0 172.7ZM81.0 199.0 80.5 199.0 79.7 198.5 79.3 197.5 79.4 196.5 79.9 196.0 81.0 195.6 82.1 196.0 82.5 196.5 82.7 197.5 82.2 198.5 81.5 199.0 81.0 199.0ZM85.0 329.6 83.5 329.9 82.0 329.8 80.9 329.0 80.6 328.5 80.4 327.5 80.6 326.5 81.5 325.3 83.0 324.1 84.5 323.5 85.5 323.6 86.5 324.1 87.2 325.0 87.5 326.0 87.4 327.0 87.0 328.1 86.2 329.0 85.0 329.6Z" stroke-width="1.04"/>
<path d="M58.0 65.0 57.0 64.9 56.3 64.5 55.9 64.0 55.5 63.0 55.8 61.5 57.0 60.0 59.8 58.5 60.0 58.0 60.2 55.0 60.4 54.0 61.0 53.0 61.5 52.5 62.5 51.9 63.7 52.0 64.4 52.5 64.8 53.5 64.8 54.5 64.5 55.5 63.5 56.9 61.1 58.5 60.7 59.0 60.8 61.5 60.5 63.0 59.5 64.4 58.0 65.0ZM47.0 85.2 46.0 85.4 45.5 85.1 45.0 84.3 44.7 82.5 45.1 80.0 46.0 77.5 47.5 75.0 49.0 73.7 50.0 73.6 50.5 73.9 50.9 74.5 51.2 75.5 51.2 77.0 50.9 79.0 50.2 81.0 49.2 83.0 48.0 84.5 47.0 85.2ZM86.0 86.6 85.5 86.7 85.0 86.5 84.4 85.5 83.8 83.5 83.3 80.5 83.4 79.0 83.7 78.0 84.5 77.1 85.5 76.8 86.5 76.9 87.3 77.5 87.9 78.5 88.1 79.5 88.0 81.0 87.2 84.5 86.6 86.0 86.0 86.6ZM64.5 101.7 63.5 101.7 62.8 101.0 62.4 100.0 62.4 98.5 63.0 96.8 65.2 93.5 65.7 90.5 66.1 89.5 67.0 88.2 68.0 87.6 69.5 87.3 70.5 87.5 71.5 88.2 72.2 89.5 72.3 90.5 72.0 91.9 71.0 93.2 68.5 94.8 67.8 95.5 66.1 100.0 65.5 100.8 64.5 101.7ZM52.0 156.5 51.0 156.6 50.0 156.3 49.0 155.4 48.2 154.0 47.7 152.0 47.5 148.8 46.5 145.5 46.1 142.5 46.4 140.5 47.7 136.5 47.7 135.5 46.8 132.0 46.6 130.0 47.0 127.5 48.5 123.5 48.5 122.0 48.1 119.0 48.3 117.0 48.8 115.5 50.3 112.5 50.5 111.5 50.7 108.0 51.1 106.5 51.6 105.5 52.5 104.6 53.0 104.3 54.0 104.2 54.9 104.5 55.5 105.0 56.0 106.0 56.2 107.0 56.1 109.0 54.9 112.5 54.7 113.5 55.1 119.0 55.4 120.0 56.0 121.0 57.5 122.4 58.5 122.8 60.0 122.5 60.5 122.2 61.0 121.5 61.3 120.0 62.0 114.7 62.4 109.0 63.0 107.2 63.5 106.5 64.0 106.1 64.5 106.0 65.0 106.2 65.5 106.7 66.0 107.5 66.5 109.0 66.6 111.0 66.3 115.0 66.4 119.0 66.2 121.0 65.4 125.5 65.3 131.5 64.3 136.5 64.6 141.0 64.5 143.0 63.8 146.0 62.7 148.0 61.3 150.0 57.5 154.1 55.0 155.7 52.0 156.5ZM76.0 151.1 75.0 151.1 74.0 150.8 72.7 150.0 71.7 148.5 71.4 147.0 71.6 145.5 73.2 142.5 73.6 141.0 73.4 136.5 73.8 132.0 73.9 128.0 74.2 126.0 75.4 122.5 74.7 119.0 74.7 117.5 75.0 116.5 75.6 115.5 76.5 114.9 77.5 114.8 78.5 115.1 79.5 115.9 80.1 117.0 80.2 118.0 80.1 119.0 79.7 120.0 77.6 122.5 77.4 123.5 78.2 128.5 77.5 141.0 77.9 142.5 79.4 145.5 79.6 147.0 79.3 148.5 78.5 149.8 77.5 150.6 76.0 151.1ZM84.5 133.6 83.5 133.9 82.8 133.5 82.3 132.5 82.3 130.5 82.8 128.5 83.5 127.0 84.5 125.9 85.5 125.7 86.0 125.9 86.5 126.7 86.7 127.5 86.7 129.0 86.0 131.7 85.5 132.6 84.5 133.6ZM55.5 146.0 56.5 145.5 57.0 144.6 57.4 139.5 58.8 134.5 58.6 133.0 57.0 127.8 56.5 127.1 55.5 126.9 54.0 127.2 52.9 128.0 52.6 129.0 52.1 132.5 50.8 136.0 50.7 137.0 51.7 141.0 52.2 145.0 52.5 145.5 53.4 146.0 55.5 146.0ZM93.0 160.6 92.5 160.7 91.5 160.7 90.5 160.1 89.7 159.0 89.4 157.5 89.7 155.5 90.5 153.7 91.5 152.7 93.0 152.3 94.0 152.6 94.9 153.5 95.3 154.5 95.5 156.0 95.3 157.5 94.7 159.0 94.0 159.9 93.0 160.6ZM53.5 247.1 52.5 247.4 51.0 247.0 50.0 245.9 49.4 244.5 49.1 242.5 49.3 238.0 48.2 233.0 48.2 228.5 47.9 227.5 47.0 226.9 46.0 227.0 44.5 229.0 43.5 229.9 42.5 230.4 41.5 230.6 40.5 230.4 39.5 229.8 38.9 229.0 38.6 228.0 38.7 227.0 39.0 226.2 41.1 223.5 41.2 222.5 41.0 221.5 39.6 218.0 39.0 215.5 38.9 213.0 39.2 207.5 38.2 200.5 38.2 198.0 38.7 192.5 38.2 184.0 39.1 176.5 39.1 170.0 39.3 167.0 39.8 164.5 40.5 162.6 41.5 161.2 42.5 160.5 45.0 159.9 47.5 158.8 49.0 158.5 50.0 158.8 50.5 159.1 53.5 162.0 54.5 162.0 58.5 160.3 60.3 157.0 61.5 155.6 63.0 154.9 64.5 154.9 66.0 155.5 67.4 157.0 68.1 158.5 68.9 161.5 69.5 162.4 73.0 163.8 75.0 164.9 76.7 162.0 77.7 161.0 79.0 160.2 80.5 159.8 82.0 159.9 83.0 160.5 83.5 161.5 83.5 162.5 82.7 164.0 81.5 165.0 80.5 165.5 79.5 165.8 78.0 165.9 77.0 165.7 75.5 165.0 75.0 165.5 74.4 169.5 74.4 170.5 74.6 171.5 76.0 173.2 76.7 174.5 77.0 175.5 77.1 177.0 76.8 178.5 75.9 182.0 75.2 188.5 73.4 194.0 73.3 196.5 74.7 202.5 75.1 208.0 75.5 209.5 76.3 210.5 78.0 211.5 79.1 212.5 79.9 214.0 80.1 216.0 79.6 217.5 79.0 218.4 78.0 219.1 77.0 219.3 76.0 219.2 74.8 218.5 73.8 217.5 72.0 214.9 71.0 214.3 70.0 214.3 69.0 214.9 68.0 216.0 67.1 217.5 66.9 219.0 67.3 225.0 67.5 225.3 69.5 226.2 70.5 227.3 71.3 229.0 71.8 231.5 71.8 234.0 71.4 236.5 70.5 238.8 69.5 239.9 69.0 240.1 68.5 239.9 67.9 239.5 67.0 237.9 66.4 236.0 66.2 234.0 66.2 232.0 66.8 226.0 66.5 225.7 66.0 225.7 62.0 226.4 58.5 226.1 57.5 226.4 56.7 227.0 56.0 228.5 55.8 233.0 54.7 238.0 54.9 242.5 54.8 244.5 54.4 246.0 53.5 247.1ZM63.1 203.0 64.6 202.0 65.1 201.5 65.4 200.5 65.3 199.0 64.3 195.0 64.1 192.5 64.2 189.5 65.0 184.5 64.7 183.0 62.6 179.0 62.2 177.5 61.9 175.5 62.1 172.5 63.5 168.5 63.6 167.0 63.0 166.0 62.0 165.3 61.0 164.8 60.4 165.0 60.1 166.0 59.9 173.0 58.9 178.5 59.0 180.5 60.1 186.5 60.3 189.5 60.2 193.0 59.3 198.5 59.3 200.0 59.7 201.5 60.8 203.0 61.5 203.3 62.0 203.4 63.1 203.0ZM31.5 183.5 31.0 183.7 30.5 183.5 30.0 182.8 29.7 181.5 29.7 179.5 30.1 177.5 30.9 176.0 31.5 175.2 32.5 174.8 33.1 175.0 33.7 176.0 34.0 177.0 33.9 178.5 33.7 180.0 33.1 181.5 32.5 182.6 31.5 183.5ZM31.0 201.2 30.0 201.1 28.8 200.0 28.0 198.2 27.7 196.0 27.8 193.5 28.5 191.5 29.5 189.9 30.5 189.5 31.5 189.8 32.5 191.0 33.3 193.0 33.6 195.0 33.5 197.0 32.9 199.0 32.0 200.5 31.0 201.2ZM76.0 259.6 75.5 259.8 74.5 259.9 73.5 259.6 72.5 258.9 71.0 257.4 69.5 255.0 68.7 252.5 68.4 250.0 68.5 249.0 69.0 247.7 69.5 247.0 70.0 246.7 70.5 246.7 71.5 246.9 73.5 248.2 75.0 249.9 76.3 252.0 77.1 254.5 77.3 256.5 76.9 258.5 76.0 259.6ZM63.0 263.8 62.0 263.9 61.0 263.6 59.0 262.0 56.5 260.9 55.5 259.6 54.8 257.0 54.8 254.5 55.5 251.7 56.0 251.0 56.5 250.7 57.5 250.8 58.6 252.0 59.1 253.5 59.8 257.5 60.2 258.5 61.0 259.0 63.0 259.5 64.0 260.5 64.3 261.5 64.1 262.5 63.5 263.4 63.0 263.8ZM73.5 304.6 72.5 304.7 71.5 303.9 70.9 302.5 70.8 300.5 71.2 298.5 72.0 296.7 73.0 295.6 74.0 295.3 75.0 295.6 75.7 296.5 76.2 298.0 76.2 299.5 76.0 301.0 75.5 302.5 74.5 303.9 73.5 304.6ZM47.0 84.2 46.5 84.3 46.0 84.1 45.5 83.3 45.3 82.0 45.6 80.0 46.3 78.0 47.4 76.0 48.5 75.0 49.5 74.7 50.1 75.0 50.6 76.0 50.6 77.5 50.4 79.0 49.9 80.5 49.0 82.3 48.0 83.6 47.0 84.2ZM86.0 86.0 85.5 86.2 85.0 85.9 84.5 85.0 84.1 83.5 83.7 81.0 83.8 79.5 84.1 78.5 84.5 78.0 85.5 77.5 86.5 77.7 87.0 78.1 87.5 79.0 87.6 80.0 87.0 84.0 86.5 85.4 86.0 86.0ZM64.5 100.7 64.0 100.8 63.4 100.5 63.0 99.6 63.0 98.5 63.3 97.5 64.0 96.4 66.0 94.5 66.1 91.5 66.5 89.9 67.0 89.0 68.0 88.2 69.5 87.9 70.5 88.2 71.0 88.5 71.6 89.5 71.8 90.5 71.5 91.7 70.9 92.5 70.0 93.3 67.3 94.5 66.7 95.0 66.4 97.5 66.0 98.9 65.4 100.0 64.5 100.7ZM54.0 155.6 52.5 155.9 51.0 155.8 50.0 155.3 48.8 154.0 48.1 152.0 48.0 148.5 46.9 145.5 46.5 143.0 46.6 141.5 47.0 140.1 48.8 136.5 47.3 132.5 47.0 130.0 47.4 127.5 48.9 124.5 49.2 123.5 49.2 122.5 48.6 119.5 48.6 117.5 49.3 115.5 51.0 112.5 51.2 111.5 51.1 108.5 51.5 106.8 52.5 105.4 53.2 105.0 54.0 104.9 55.1 105.5 55.6 106.5 55.8 107.5 55.5 109.5 54.1 113.0 54.7 119.5 55.5 121.0 57.0 122.7 58.0 123.4 59.0 123.4 60.0 123.2 61.0 122.6 61.3 122.0 61.6 121.0 62.4 114.5 62.7 109.5 63.0 108.2 63.5 107.3 64.0 106.9 64.5 106.8 65.0 107.0 65.5 107.5 66.1 109.0 66.3 111.0 66.0 115.0 66.0 120.0 65.1 125.5 65.1 130.5 63.9 136.5 64.3 141.5 63.9 144.5 62.8 147.0 59.9 151.0 56.5 154.3 55.0 155.2 54.0 155.6ZM76.0 150.5 74.5 150.4 73.0 149.5 72.3 148.5 71.9 147.0 72.2 145.5 73.8 142.5 74.1 141.5 73.7 136.5 74.2 132.0 74.2 128.0 74.5 126.4 75.0 125.1 75.5 124.3 76.0 123.9 76.5 124.0 77.0 124.7 77.5 126.2 77.8 128.0 77.4 137.0 77.0 141.5 77.3 142.5 78.8 145.5 79.1 147.0 78.7 148.5 78.0 149.5 77.0 150.2 76.0 150.5ZM56.5 146.0 57.2 145.0 57.7 139.5 59.2 135.0 59.3 134.0 57.1 127.0 56.5 126.4 56.0 126.3 53.5 126.9 52.6 127.5 52.2 128.5 51.6 132.5 49.7 136.5 51.2 140.5 51.5 142.0 51.7 145.0 52.0 145.8 52.5 146.2 53.5 146.4 55.5 146.4 56.5 146.0ZM52.5 246.6 51.5 246.5 51.0 246.2 50.4 245.5 49.8 244.0 49.6 242.0 49.9 238.0 48.7 233.0 48.7 231.0 49.0 228.0 48.5 226.7 48.0 226.3 47.0 225.8 46.0 225.8 45.5 226.0 45.0 226.5 43.7 229.0 43.0 229.6 42.0 230.0 41.0 230.0 40.0 229.6 39.5 229.0 39.1 228.0 39.2 227.0 39.5 226.3 40.1 225.5 41.7 224.0 42.0 223.0 41.8 222.0 40.0 218.0 39.4 215.5 39.3 213.0 39.6 208.0 38.5 200.5 38.5 198.0 39.0 192.5 38.5 184.0 39.4 176.5 39.3 170.0 39.6 167.0 40.0 165.0 40.5 163.5 41.5 162.0 42.5 161.3 45.0 161.0 48.0 159.9 49.0 159.9 50.5 160.5 53.0 163.5 53.5 163.7 56.5 162.0 57.5 161.8 59.0 162.0 60.1 158.5 61.0 157.0 62.5 155.7 63.5 155.4 64.5 155.5 66.0 156.1 67.2 157.5 67.8 159.0 68.3 162.0 68.7 163.0 69.5 163.4 72.0 164.0 73.0 164.5 73.9 165.5 74.2 167.0 73.8 172.0 74.1 172.5 75.5 173.5 76.0 174.0 76.6 175.5 76.6 177.5 75.5 182.0 75.1 187.0 74.5 189.5 73.0 193.5 72.8 195.0 72.8 196.5 74.4 203.0 74.7 208.5 74.9 210.0 75.6 211.0 77.5 212.0 78.7 213.0 79.4 214.5 79.5 216.0 79.2 217.0 78.5 218.0 77.5 218.5 76.2 218.5 75.2 218.0 74.5 217.3 72.9 214.5 72.0 213.6 71.0 213.2 70.0 213.3 68.5 214.5 66.9 216.5 66.4 217.5 66.2 218.5 66.5 222.5 66.4 223.5 65.9 224.5 65.0 225.2 63.5 225.7 61.5 225.9 58.5 225.5 57.5 225.7 56.4 226.5 55.7 227.5 55.4 228.5 55.3 233.0 54.2 237.5 54.1 239.0 54.4 242.5 54.3 244.0 54.0 245.2 53.5 246.0 52.5 246.6ZM62.5 204.0 65.5 202.4 66.0 202.0 66.4 201.0 66.2 200.0 64.8 195.5 64.4 192.5 64.6 189.5 65.6 185.0 65.6 183.5 63.1 179.0 62.6 177.5 62.3 175.5 62.3 174.0 62.7 172.0 64.7 167.0 64.6 166.5 64.3 166.0 60.0 163.3 59.7 163.5 59.5 164.5 59.7 170.0 59.6 172.5 58.4 178.5 58.5 180.0 59.7 185.5 60.0 189.5 59.8 193.5 58.7 200.0 59.0 201.5 60.0 203.1 61.2 204.0 62.0 204.1 62.5 204.0ZM31.5 200.1 30.5 200.4 29.5 200.0 28.6 198.5 28.1 196.5 28.1 194.5 28.6 192.5 29.5 190.9 30.5 190.4 31.5 190.8 32.1 191.5 32.8 193.0 33.1 194.5 33.1 196.5 32.8 198.0 32.1 199.5 31.5 200.1ZM69.5 238.8 69.0 239.0 68.5 238.8 67.5 237.7 66.9 236.0 66.6 234.0 66.6 231.5 67.0 229.1 67.5 227.8 68.0 227.1 68.5 226.9 69.5 227.2 70.5 228.4 71.1 230.0 71.4 232.0 71.4 234.5 71.0 236.4 70.5 237.7 69.5 238.8ZM75.0 259.0 73.5 258.8 72.3 258.0 71.0 256.5 69.9 254.5 69.1 252.0 69.1 250.0 69.5 248.6 70.0 248.0 70.5 247.8 71.0 247.7 72.0 248.0 73.5 249.0 75.0 250.8 76.0 252.7 76.6 255.0 76.6 257.0 76.0 258.4 75.0 259.0ZM63.0 263.1 62.5 263.3 61.5 263.2 61.0 262.9 60.2 262.0 59.5 260.5 59.0 260.4 57.5 260.5 56.5 259.9 56.0 259.3 55.4 257.5 55.2 255.0 55.6 253.0 56.0 252.3 56.5 251.8 57.0 251.7 57.5 251.8 58.0 252.3 58.6 253.5 59.0 255.0 59.5 259.9 60.0 260.0 62.0 259.8 63.0 260.2 63.5 260.8 63.7 262.0 63.5 262.6 63.0 263.1ZM74.0 303.5 73.0 303.9 72.2 303.5 71.5 302.5 71.3 301.0 71.4 299.5 72.0 297.8 73.0 296.5 74.0 296.1 74.5 296.2 75.2 297.0 75.6 298.0 75.7 299.0 75.3 301.5 74.8 302.5 74.0 303.5ZM54.0 155.1 52.5 155.3 51.0 155.1 50.0 154.5 49.0 153.2 48.6 151.5 48.7 148.0 47.5 145.6 47.0 144.0 47.0 142.5 47.2 141.0 47.9 139.5 48.5 138.9 49.0 138.6 49.5 138.8 50.2 139.5 50.8 141.0 51.1 142.5 51.1 145.5 51.5 146.4 52.0 146.7 53.0 146.9 55.5 146.7 56.5 146.5 57.2 146.0 57.5 145.4 57.9 139.5 58.5 137.7 59.9 135.0 59.9 134.0 58.4 130.0 57.5 126.0 57.0 125.4 53.0 126.4 52.0 127.0 51.7 128.0 51.5 131.0 51.0 132.7 50.5 133.6 50.0 134.1 49.5 134.4 49.0 134.2 48.5 133.8 48.0 132.9 47.6 131.5 47.5 129.0 48.2 127.0 49.7 125.0 50.1 123.5 49.9 122.0 49.1 119.5 49.1 117.5 49.5 116.2 50.3 115.0 51.5 113.7 52.5 113.1 53.0 113.7 53.9 116.0 54.2 119.5 54.5 120.5 57.5 124.4 58.5 124.3 61.0 123.6 61.5 123.0 62.0 121.5 62.2 118.0 62.8 114.5 63.1 109.5 63.5 108.3 64.0 107.8 64.5 107.6 65.0 107.8 65.5 108.5 65.8 109.5 66.0 111.0 65.6 114.5 65.7 120.0 64.7 125.0 64.8 130.5 64.4 132.5 63.3 136.0 63.9 141.0 63.7 144.0 63.2 145.5 62.5 146.7 59.6 150.5 56.5 153.8 55.5 154.5 54.0 155.1ZM76.5 149.7 75.0 149.8 74.0 149.5 73.0 148.5 72.6 147.0 72.7 146.0 73.0 145.1 74.7 142.5 75.0 141.5 74.3 138.5 74.2 137.0 74.6 132.0 74.6 128.5 75.0 126.4 75.5 125.6 76.0 125.3 76.5 125.5 77.0 126.3 77.4 128.5 77.0 133.0 76.9 137.5 76.0 141.5 76.4 142.5 78.2 145.5 78.4 147.0 78.0 148.5 77.5 149.1 76.5 149.7ZM66.5 164.6 66.0 164.8 65.0 164.9 63.5 164.5 61.9 163.5 60.7 162.0 60.4 160.5 60.8 158.5 61.8 157.0 63.0 156.2 64.5 156.1 65.5 156.5 66.5 157.4 67.1 158.5 67.5 160.0 67.5 162.0 67.2 163.5 66.5 164.6ZM52.5 245.5 51.5 245.5 51.0 245.0 50.5 244.1 50.2 243.0 50.3 241.5 50.7 238.0 49.5 234.0 49.2 232.0 49.9 228.0 49.8 227.0 49.2 226.0 48.0 225.3 46.0 224.8 44.0 224.8 43.5 224.5 43.1 223.0 40.9 219.0 40.1 217.0 39.8 215.5 39.6 213.5 40.0 207.5 39.0 203.0 38.7 200.5 38.8 198.0 39.3 192.5 38.8 186.5 38.8 184.0 39.7 176.5 39.6 169.5 40.1 166.0 41.0 163.5 42.0 162.4 43.0 162.1 45.5 162.3 47.5 161.4 48.5 161.3 49.5 161.5 50.0 161.8 51.0 162.9 51.7 164.5 52.1 166.5 52.1 167.5 51.5 170.5 51.3 172.5 51.5 174.0 52.5 177.5 52.6 180.0 52.3 182.5 51.3 186.5 51.2 188.5 52.1 194.0 52.2 200.0 52.8 202.0 53.5 203.1 54.0 203.3 55.0 202.9 56.1 201.5 56.4 200.5 54.8 195.5 54.3 192.5 54.6 186.0 55.7 179.5 55.5 178.5 54.2 175.5 53.8 174.0 53.2 168.5 53.6 166.5 54.6 164.5 56.0 163.2 57.0 162.9 57.5 162.9 58.0 163.2 58.5 163.9 59.0 165.7 59.3 169.0 59.2 172.0 58.8 174.5 57.7 178.0 57.6 179.0 57.7 180.0 58.8 183.0 59.4 185.5 59.7 188.0 59.8 191.0 59.3 195.0 57.8 200.5 58.1 201.5 58.8 202.5 60.0 204.0 61.0 204.8 61.5 205.0 62.5 204.8 64.5 203.8 67.0 203.1 67.6 202.5 67.7 201.0 65.7 197.0 64.9 194.0 64.8 191.0 65.5 187.5 66.5 184.9 67.5 183.1 69.0 183.1 69.5 182.8 70.5 181.5 72.0 178.8 73.2 175.5 73.7 174.5 74.5 174.0 75.0 174.2 75.8 175.0 76.2 176.0 76.2 177.0 75.1 181.5 74.7 187.0 74.2 189.0 72.4 193.5 72.1 196.5 72.4 198.0 73.5 201.1 74.0 203.5 74.2 206.0 74.0 211.9 74.5 212.2 76.5 212.5 77.5 213.0 78.5 214.0 78.8 215.0 78.7 216.0 78.3 217.0 77.5 217.6 76.5 217.7 75.5 217.2 74.6 216.0 74.1 214.5 73.7 212.5 71.5 212.0 70.0 212.1 69.0 212.8 65.6 217.0 65.3 218.0 65.9 222.0 65.6 223.5 65.0 224.3 64.0 225.0 62.5 225.4 61.0 225.4 58.5 224.9 57.6 225.0 56.5 225.6 55.5 226.5 54.7 228.0 54.7 233.0 53.3 238.0 53.8 242.0 53.8 243.5 53.2 245.0 52.5 245.5ZM67.5 182.9 67.0 182.7 65.5 181.6 64.5 180.5 63.6 179.0 63.1 177.5 62.8 176.0 62.9 173.0 64.0 170.1 67.5 165.2 69.0 164.4 71.0 164.3 72.5 165.0 73.3 166.0 73.6 167.5 73.4 169.5 72.6 171.5 71.0 173.0 70.3 174.0 69.0 179.5 67.5 182.9ZM30.5 199.5 29.6 199.0 29.0 198.1 28.7 197.0 28.5 195.5 29.0 192.9 29.5 192.0 30.0 191.5 30.5 191.4 31.0 191.5 31.5 191.8 32.0 192.5 32.5 194.0 32.7 195.5 32.5 197.0 32.0 198.5 31.5 199.1 30.5 199.5ZM69.5 237.6 69.0 237.8 68.5 237.6 68.0 237.2 67.3 235.5 67.0 233.5 67.1 231.5 67.5 229.6 68.0 228.7 68.5 228.2 69.0 228.2 69.6 228.5 70.3 229.5 70.8 231.0 71.0 232.5 70.7 235.5 70.1 237.0 69.5 237.6ZM74.5 258.0 73.5 257.9 72.0 256.8 71.0 255.5 70.3 254.0 69.8 252.0 69.8 250.5 70.2 249.5 71.0 248.9 72.0 249.0 73.5 249.9 74.5 251.1 75.5 253.0 76.0 255.0 75.9 256.5 75.4 257.5 74.5 258.0ZM54.0 154.6 52.0 154.7 51.0 154.4 50.3 154.0 49.9 153.5 49.4 152.5 49.2 151.5 49.3 150.0 50.0 148.0 50.5 147.6 56.5 147.0 57.5 146.5 57.8 146.0 58.0 145.0 57.9 141.5 58.4 139.0 59.5 136.9 61.2 135.0 60.7 133.5 58.9 130.0 58.5 128.5 58.4 126.5 58.5 126.0 59.0 125.3 61.5 124.3 62.3 123.5 62.6 122.5 62.6 118.5 63.3 114.5 63.4 110.5 63.9 109.0 64.5 108.7 65.0 109.0 65.4 110.5 65.1 114.5 65.3 119.5 65.0 121.2 64.2 123.5 64.0 124.5 64.4 129.0 64.3 131.0 63.7 133.0 62.3 135.5 63.5 140.5 63.6 142.0 63.4 143.5 63.0 144.9 62.4 146.0 58.5 151.0 56.1 153.5 54.0 154.6ZM54.0 125.5 52.5 125.5 51.6 125.0 51.4 124.5 50.9 122.0 49.8 119.5 49.6 118.0 49.9 117.0 50.5 115.9 51.5 115.1 52.0 115.0 52.5 115.2 53.0 115.8 53.5 117.5 53.6 120.5 53.9 121.0 55.5 122.7 56.0 123.5 56.0 124.5 55.5 125.0 54.0 125.5ZM75.5 138.9 74.9 138.0 74.7 136.0 75.4 132.5 75.2 128.5 75.5 127.2 76.0 126.8 76.5 127.2 76.7 129.0 76.1 132.5 76.4 137.0 76.0 138.4 75.5 138.9ZM52.5 236.1 52.0 236.3 51.5 236.1 51.0 235.5 50.4 234.5 50.0 233.0 50.0 231.0 51.2 227.5 50.9 226.5 50.1 225.5 49.4 225.0 45.5 223.5 44.0 222.4 41.3 218.5 40.5 216.7 40.1 215.0 40.1 212.5 40.5 208.0 40.3 206.5 39.4 203.0 39.1 200.5 39.1 198.0 39.7 192.5 39.1 186.5 39.1 184.0 40.1 176.5 39.9 170.5 40.1 167.5 40.5 165.8 41.0 164.5 41.5 163.8 42.5 163.1 43.5 163.2 46.0 164.4 48.0 163.5 48.8 163.5 49.5 164.0 50.1 165.0 50.2 167.0 49.6 169.0 49.0 169.9 48.5 170.1 47.0 169.8 46.5 170.2 46.0 171.5 45.6 175.0 46.0 176.5 46.5 176.6 47.6 175.5 48.5 175.0 49.0 175.0 49.7 175.5 50.5 176.9 51.0 178.5 51.0 181.2 50.5 183.1 49.5 184.7 48.5 185.1 47.0 184.5 46.5 184.7 46.0 186.0 45.9 189.5 46.0 190.3 46.5 190.7 48.5 189.9 49.5 190.7 50.0 191.6 50.5 193.2 50.7 195.0 50.5 200.0 50.6 201.0 51.1 202.5 52.5 205.4 53.0 206.3 53.5 206.6 56.0 203.7 57.0 202.9 57.5 202.9 58.0 203.1 60.5 205.5 61.5 206.0 62.5 205.7 65.0 204.6 67.5 204.7 68.0 204.6 68.5 204.1 69.1 202.5 69.1 201.0 68.8 200.0 66.5 197.2 65.6 195.0 65.2 192.0 65.6 189.0 66.1 187.5 67.0 186.0 68.0 185.2 69.5 184.7 70.5 183.5 72.8 179.5 74.0 176.1 74.5 175.6 75.0 175.7 75.4 176.5 75.4 177.5 74.5 181.0 74.5 185.0 74.3 187.0 73.7 189.0 72.1 192.5 71.4 196.5 71.5 198.5 73.0 201.6 73.5 204.0 73.5 207.0 73.0 209.3 72.5 210.1 72.0 210.3 70.0 210.6 69.5 210.9 67.0 214.2 66.0 215.1 65.0 215.7 64.0 215.9 62.0 214.6 61.5 214.5 60.5 215.0 59.8 216.0 59.8 217.0 60.5 217.5 63.0 217.6 64.0 218.1 64.6 219.0 65.1 220.5 65.2 222.0 65.0 223.0 64.0 224.2 62.5 224.8 61.0 224.8 58.5 224.1 57.5 224.2 56.5 224.7 54.4 226.5 53.7 227.5 53.6 228.0 54.1 231.0 54.0 233.1 53.5 234.6 52.5 236.1ZM57.0 176.8 56.5 176.9 56.0 176.6 55.0 174.8 54.3 172.0 54.2 169.5 54.4 167.5 55.0 165.5 56.0 164.3 57.0 163.9 57.8 164.5 58.4 165.5 58.8 167.5 59.0 170.0 58.8 172.0 58.4 174.0 57.9 175.5 57.0 176.8ZM67.0 180.6 66.5 180.8 65.5 180.5 64.5 179.5 63.9 178.5 63.2 176.0 63.2 174.5 63.4 173.0 63.9 171.5 64.5 170.5 65.5 169.3 67.0 168.0 68.6 166.0 69.5 165.3 71.0 165.1 72.0 165.6 72.7 166.5 73.0 167.5 72.9 169.0 72.5 170.0 72.0 170.9 69.9 173.0 69.5 174.1 68.5 178.5 67.7 180.0 67.0 180.6ZM57.5 198.0 57.0 198.1 56.5 197.7 55.8 196.5 55.2 194.5 54.9 191.5 54.9 188.5 55.4 185.0 56.0 182.9 56.5 182.0 57.0 181.7 57.5 181.9 58.0 182.5 58.6 184.0 59.2 186.5 59.5 189.5 59.4 192.0 59.0 194.7 58.5 196.4 58.0 197.5 57.5 198.0ZM55.9 217.5 56.5 217.0 56.4 216.0 53.5 208.7 53.0 208.4 50.6 210.0 48.0 210.5 47.5 210.8 46.9 212.0 46.6 214.0 46.9 215.5 47.6 216.5 49.0 217.2 51.0 217.6 54.5 217.7 55.9 217.5ZM62.5 133.5 62.0 133.6 61.5 133.2 59.8 131.0 59.0 129.0 58.9 127.5 59.1 126.5 59.5 125.9 62.5 124.9 63.0 124.9 63.5 125.7 64.0 127.8 64.1 129.5 63.7 132.0 63.0 133.2 62.5 133.5ZM54.5 154.1 52.5 154.4 51.5 154.2 50.5 153.5 49.8 152.5 49.6 151.5 50.0 149.5 50.5 148.8 51.5 148.1 53.5 147.7 57.0 147.4 57.7 147.0 58.3 146.0 58.2 141.5 58.7 139.0 59.2 138.0 60.0 137.0 61.0 136.6 61.5 136.7 62.0 137.1 62.5 137.9 63.1 140.0 63.3 142.5 62.8 144.5 62.0 146.0 59.8 148.5 57.1 152.0 56.0 153.1 54.5 154.1ZM53.5 226.2 52.5 226.3 49.5 224.3 46.1 223.0 45.0 222.3 43.5 220.7 41.8 218.5 41.0 217.0 40.5 215.1 40.4 212.5 41.0 208.0 40.8 206.5 39.7 203.0 39.3 200.5 39.3 198.0 40.0 192.5 39.4 186.5 39.3 184.0 40.4 177.0 40.1 170.5 40.4 167.5 41.2 165.0 42.0 164.0 42.5 163.8 43.5 164.0 44.5 165.0 45.3 166.5 45.4 167.5 45.4 169.5 44.7 176.0 45.4 182.5 44.7 190.5 44.9 192.5 45.7 195.5 45.8 197.0 44.7 206.0 44.9 207.0 45.9 209.5 46.0 215.0 46.3 216.0 46.9 217.0 47.5 217.5 50.0 218.2 54.0 218.4 57.5 218.8 61.5 218.5 63.0 218.7 64.0 219.4 64.7 221.0 64.7 222.0 64.4 223.0 64.0 223.5 63.0 224.2 61.5 224.4 58.5 223.4 57.5 223.4 53.5 226.2ZM57.0 175.6 56.5 175.7 56.2 175.5 55.5 174.5 54.9 172.5 54.6 170.0 54.8 168.0 55.4 166.0 56.0 165.1 56.5 164.8 57.0 164.8 57.5 165.1 58.2 166.5 58.5 168.0 58.7 170.0 58.5 172.0 58.2 173.5 57.5 175.1 57.0 175.6ZM67.0 179.7 66.5 179.9 65.5 179.7 64.8 179.0 64.1 178.0 63.5 175.5 63.8 173.0 64.4 171.5 65.1 170.5 67.5 168.7 69.5 166.1 70.0 165.9 71.0 165.8 72.0 166.4 72.3 167.0 72.5 168.0 72.3 169.0 71.5 170.5 70.0 171.8 69.5 172.5 68.3 177.5 67.6 179.0 67.0 179.7ZM69.5 198.6 68.5 198.3 67.5 197.6 66.7 196.5 66.2 195.5 65.7 194.0 65.6 192.5 65.8 189.5 66.4 188.0 67.0 187.0 68.0 186.2 69.5 185.7 70.0 185.4 72.5 181.4 73.0 180.9 73.5 180.9 73.9 182.0 74.1 183.5 74.1 185.5 73.9 187.0 73.5 188.3 71.7 192.0 70.4 197.5 70.0 198.4 69.5 198.6ZM57.5 196.9 57.0 197.0 56.5 196.5 56.0 195.5 55.4 193.5 55.2 191.0 55.3 188.0 55.7 185.5 56.4 183.5 57.0 182.9 57.5 183.0 58.0 183.6 58.5 184.6 59.1 187.0 59.3 189.5 59.2 192.0 58.9 194.0 58.2 196.0 57.5 196.9ZM58.5 215.6 58.0 215.7 57.5 215.5 56.5 214.4 55.6 212.5 54.8 210.0 54.6 208.5 54.7 207.5 55.3 206.0 56.0 204.9 57.0 204.0 58.0 204.0 59.0 204.7 60.5 206.3 61.5 206.8 62.0 206.8 64.0 205.6 65.0 205.3 66.0 205.3 68.5 206.1 69.0 205.8 69.3 205.0 70.5 200.9 71.0 200.5 71.5 200.7 72.5 202.1 73.1 204.0 73.1 206.5 72.4 208.5 72.0 209.0 71.5 209.2 70.0 209.1 69.5 209.2 67.0 213.4 65.5 214.7 64.5 214.8 64.0 214.7 62.0 213.4 61.5 213.3 60.5 213.8 58.5 215.6ZM59.0 147.6 58.4 143.0 58.5 140.5 59.0 139.0 59.5 138.2 60.0 137.7 61.0 137.4 61.5 137.6 62.0 138.1 62.6 139.5 63.0 141.5 62.9 143.0 62.4 144.5 61.5 145.9 60.5 146.9 59.0 147.6ZM54.5 153.6 53.5 153.9 52.5 154.0 51.5 153.7 50.7 153.0 50.1 151.5 50.2 150.5 50.7 149.5 52.0 148.5 53.5 148.1 58.5 147.8 58.7 148.0 58.5 149.0 57.4 151.0 56.0 152.6 54.5 153.6ZM53.5 225.1 53.0 225.2 52.0 224.9 49.5 223.4 47.0 222.5 45.5 221.6 42.0 217.8 41.3 216.5 40.9 215.0 40.8 213.5 40.9 212.0 41.8 208.0 41.6 207.0 40.1 203.5 39.6 201.0 39.6 198.0 40.4 192.5 39.7 187.0 39.6 184.5 39.8 182.0 40.8 177.0 40.4 171.0 40.5 168.5 41.2 166.0 41.8 165.0 42.5 164.6 43.5 165.0 44.0 165.6 44.5 167.0 44.7 168.5 44.6 171.0 44.0 176.5 44.7 183.5 44.0 191.5 44.1 193.0 44.7 196.5 44.8 199.0 44.6 201.5 43.5 207.0 45.2 211.0 45.4 215.5 45.7 217.0 46.5 218.0 47.5 218.5 50.0 219.1 53.0 219.0 54.5 219.2 56.0 219.8 57.5 220.9 58.0 221.0 60.0 219.7 62.0 219.3 63.0 219.6 63.5 220.0 64.0 221.0 63.9 222.5 63.0 223.5 62.0 223.8 60.5 223.5 59.6 223.0 58.0 221.6 57.5 221.8 55.0 224.3 53.5 225.1ZM56.5 174.5 56.0 174.0 55.5 172.9 55.2 171.5 55.1 169.5 55.2 168.0 55.8 166.5 56.5 165.7 57.0 165.7 57.5 166.1 58.0 167.2 58.3 169.0 58.3 170.5 58.1 172.5 57.7 173.5 57.0 174.5 56.5 174.5ZM66.5 179.0 65.5 178.9 65.0 178.4 64.4 177.5 63.9 175.5 64.0 174.0 64.2 173.0 64.7 172.0 65.5 171.0 68.0 169.8 69.5 167.3 70.0 166.8 70.5 166.6 71.0 166.7 71.5 167.0 71.7 167.5 71.8 168.0 71.6 169.0 71.0 169.9 69.5 170.8 69.0 171.4 68.0 177.0 67.5 178.1 66.5 179.0ZM69.0 197.1 68.5 197.1 67.5 196.6 66.5 195.0 65.9 192.5 66.0 191.0 66.3 189.5 67.0 188.0 67.5 187.5 68.5 187.0 70.0 186.7 70.5 186.4 72.0 183.5 72.5 182.9 73.0 182.8 73.5 184.0 73.5 186.5 73.0 187.9 71.5 190.5 70.0 196.1 69.5 196.8 69.0 197.1ZM57.5 195.9 57.0 195.9 56.6 195.5 56.1 194.5 55.7 193.0 55.5 191.0 55.6 188.5 55.8 186.5 56.5 184.5 57.0 184.0 57.5 184.0 58.0 184.6 58.4 185.5 59.0 189.0 59.0 191.5 58.7 193.5 58.0 195.4 57.5 195.9ZM58.0 214.5 57.0 213.9 56.5 213.2 55.8 211.5 55.3 209.5 55.4 208.0 55.6 207.0 56.1 206.0 57.0 205.0 57.5 204.8 58.5 205.1 61.0 207.8 61.5 208.0 62.0 207.9 64.0 206.3 65.0 206.0 66.0 206.1 67.3 207.0 68.1 208.5 68.0 210.0 67.3 212.0 66.0 213.5 65.0 214.0 64.0 213.8 62.0 212.1 61.5 211.9 61.0 212.1 59.0 214.2 58.0 214.5ZM60.0 146.1 59.5 145.9 59.0 144.7 58.7 142.5 58.7 141.0 59.0 139.9 59.5 138.9 60.0 138.4 61.0 138.2 61.9 139.0 62.3 140.0 62.6 141.0 62.6 142.5 62.2 144.0 61.6 145.0 61.0 145.7 60.0 146.1ZM42.5 205.4 42.0 205.5 41.5 205.2 40.5 203.5 40.0 201.5 39.8 199.5 40.0 197.2 40.9 192.5 40.8 191.0 40.0 187.2 39.9 185.0 40.1 182.0 41.4 177.0 40.8 171.5 40.8 169.0 41.0 167.7 41.5 166.3 42.0 165.7 42.5 165.5 43.0 165.7 43.6 166.5 44.0 167.5 44.2 169.0 44.0 172.0 43.2 176.5 43.2 178.0 43.9 181.5 44.1 184.0 43.9 187.0 43.2 192.0 44.1 197.0 44.3 199.0 44.1 201.0 43.7 203.0 43.0 204.8 42.5 205.4ZM57.5 194.9 57.0 194.8 56.3 193.5 56.0 192.0 55.9 190.0 56.0 187.9 56.5 186.0 57.0 185.2 57.5 185.1 58.0 185.7 58.4 187.0 58.7 190.0 58.4 193.0 58.0 194.3 57.5 194.9ZM69.0 195.7 68.5 195.9 67.5 195.5 66.7 194.0 66.4 192.5 66.5 190.8 67.0 189.3 67.5 188.6 68.5 188.1 70.0 188.5 70.4 189.0 70.6 190.0 70.4 192.0 70.0 194.0 69.5 195.2 69.0 195.7ZM59.0 213.1 58.0 213.5 57.5 213.3 56.5 212.0 56.1 210.5 55.9 209.0 56.2 207.5 56.7 206.5 57.5 205.9 58.0 205.9 59.0 206.5 60.0 208.0 60.5 209.5 60.4 211.0 59.9 212.0 59.0 213.1ZM44.0 217.9 43.5 217.9 42.5 217.2 41.7 216.0 41.3 214.5 41.3 213.0 41.5 211.5 42.0 210.4 42.5 209.8 43.0 209.6 43.5 209.9 44.0 210.5 44.6 212.5 44.7 214.5 44.5 217.0 44.4 217.5 44.0 217.9ZM53.5 224.1 53.0 224.2 52.0 223.8 50.0 222.3 47.6 221.0 47.4 220.5 50.0 220.3 53.0 219.9 54.0 220.0 55.0 220.5 55.7 221.5 55.5 222.5 54.7 223.5 53.5 224.1ZM42.5 174.4 42.0 174.4 41.5 173.2 41.1 170.5 41.5 167.7 42.0 166.9 42.5 166.7 43.0 167.0 43.4 168.0 43.6 170.0 43.3 172.5 43.0 173.6 42.5 174.4ZM42.0 190.8 41.5 190.5 40.9 189.0 40.4 187.0 40.2 185.0 40.3 183.0 40.7 181.5 41.5 179.5 42.0 179.0 42.5 179.3 43.0 180.5 43.5 182.5 43.6 184.5 43.5 186.5 43.1 188.5 42.5 190.2 42.0 190.8ZM42.0 204.1 41.5 203.9 41.1 203.5 40.6 202.5 40.2 201.0 40.1 199.5 40.3 197.5 40.7 196.0 41.5 194.1 42.0 193.7 42.5 194.1 43.1 195.5 43.5 197.0 43.7 199.0 43.6 201.0 43.2 202.5 42.5 203.9 42.0 204.1Z" stroke-width="0.95"/>
<path d="M69.5 30.5 68.5 30.3 67.7 29.5 67.2 28.5 67.1 27.5 67.3 26.0 67.9 25.0 68.5 24.5 69.5 24.3 70.5 24.7 71.0 25.1 71.5 26.1 71.7 27.5 71.6 28.5 71.0 29.7 70.5 30.1 69.5 30.5ZM78.0 54.5 77.0 54.6 76.5 54.5 76.2 54.0 76.0 53.0 76.6 51.5 77.7 50.0 79.0 49.0 80.0 48.6 81.0 48.7 81.5 49.3 81.6 50.0 81.1 51.5 79.6 53.5 78.0 54.5ZM44.0 66.6 43.0 66.2 42.5 65.5 42.1 64.0 42.1 62.5 42.5 61.2 43.2 60.0 44.0 59.4 45.0 59.3 45.5 59.6 46.2 60.5 46.5 61.5 46.5 63.0 46.2 64.5 45.5 65.7 45.0 66.2 44.0 66.6ZM85.0 97.5 84.5 97.3 84.0 96.8 83.6 96.0 83.5 95.0 83.6 94.0 84.0 93.0 84.5 92.5 85.0 92.3 85.5 92.3 86.2 93.0 86.6 94.0 86.7 95.0 86.6 96.0 86.1 97.0 85.5 97.4 85.0 97.5ZM74.5 110.2 74.0 110.3 73.5 110.2 73.0 109.7 72.6 109.0 72.3 108.0 72.3 107.0 72.6 106.0 73.0 105.3 73.5 104.9 74.0 104.8 74.5 104.9 75.0 105.3 75.4 106.0 75.7 107.0 75.5 109.0 75.0 109.8 74.5 110.2ZM39.5 118.1 38.5 118.1 38.0 117.9 37.5 117.5 36.9 116.5 36.8 115.5 37.2 114.5 37.6 114.0 38.5 113.5 39.5 113.5 40.4 114.0 40.8 114.5 41.2 115.5 40.9 117.0 40.5 117.5 39.5 118.1ZM89.0 172.2 88.0 172.4 87.5 172.3 86.8 171.5 86.6 170.5 86.7 169.5 87.2 168.5 88.0 167.7 89.0 167.4 89.5 167.6 90.0 168.0 90.5 169.5 90.1 171.0 89.0 172.2ZM81.5 198.6 80.5 198.6 79.8 198.0 79.6 197.0 79.8 196.5 80.5 196.0 81.5 196.0 82.2 196.5 82.4 197.0 82.2 198.0 81.5 198.6ZM84.0 329.5 82.5 329.6 81.5 329.2 81.0 328.7 80.7 328.0 80.7 327.0 81.5 325.7 83.0 324.6 84.5 324.0 85.5 324.1 86.1 324.5 86.9 325.5 87.0 327.0 86.5 328.0 86.1 328.5 85.0 329.2 84.0 329.5ZM69.5 29.6 69.0 29.5 68.3 29.0 68.0 28.5 67.8 27.5 68.1 26.0 68.6 25.5 69.5 25.2 70.0 25.4 70.7 26.0 71.0 27.5 70.5 29.0 70.0 29.4 69.5 29.6ZM78.5 53.5 77.5 53.7 77.1 53.5 76.9 53.0 77.0 52.0 77.6 51.0 78.5 50.0 79.5 49.5 80.2 49.5 80.7 50.0 80.7 50.5 80.5 51.5 79.5 52.8 78.5 53.5ZM62.5 56.8 61.5 56.9 61.1 56.5 60.8 55.0 61.1 54.0 61.5 53.4 62.0 52.9 63.0 52.6 63.5 52.8 64.0 53.3 64.2 54.5 63.5 56.0 62.5 56.8ZM45.0 65.0 44.0 65.5 43.5 65.3 43.0 64.6 42.7 63.5 42.8 62.5 43.1 61.5 44.0 60.5 44.5 60.3 45.0 60.4 45.5 61.0 45.8 62.0 45.8 63.5 45.0 65.0ZM58.5 64.2 57.5 64.3 56.9 64.0 56.4 63.5 56.2 62.5 56.5 61.5 57.0 60.9 58.0 60.2 59.0 60.1 59.7 60.5 59.9 61.0 60.0 62.0 59.5 63.4 58.5 64.2ZM85.5 96.6 85.0 96.7 84.5 96.5 84.0 95.4 84.1 94.0 84.5 93.3 85.0 93.1 85.5 93.2 85.8 93.5 86.2 94.5 86.0 96.0 85.5 96.6ZM74.5 109.3 74.0 109.5 73.5 109.3 73.0 108.6 72.8 108.0 73.0 106.5 73.5 105.8 74.0 105.6 74.7 106.0 75.1 107.0 75.1 108.5 74.5 109.3ZM40.0 117.1 39.0 117.4 37.9 117.0 37.6 116.5 37.5 115.5 38.1 114.5 39.0 114.2 40.0 114.5 40.5 115.4 40.5 116.0 40.0 117.1ZM77.0 121.7 76.5 121.8 76.0 121.3 75.6 120.5 75.2 119.0 75.1 118.0 75.3 117.0 75.9 116.0 76.5 115.6 77.5 115.4 78.5 115.7 79.3 116.5 79.7 117.5 79.7 118.5 79.0 120.1 78.0 121.1 77.0 121.7ZM84.5 132.5 84.0 132.7 83.4 132.5 83.0 131.8 82.9 130.5 83.5 128.3 84.1 127.5 85.0 126.9 85.5 127.0 85.9 127.5 86.1 129.0 85.5 131.2 84.5 132.5ZM93.0 159.8 92.0 160.0 91.0 159.6 90.3 158.5 90.0 157.5 90.1 156.0 90.7 154.5 91.5 153.6 92.5 153.1 93.5 153.2 94.0 153.5 94.6 154.5 94.9 155.5 94.9 156.5 94.5 158.0 93.9 159.0 93.0 159.8ZM80.0 165.1 78.5 165.3 77.5 165.0 76.9 164.5 76.7 164.0 76.9 163.0 77.9 161.5 79.0 160.8 80.5 160.3 81.8 160.5 82.5 161.0 82.8 161.5 82.9 162.0 82.7 163.0 81.5 164.4 80.0 165.1ZM88.5 171.7 88.0 171.7 87.5 171.4 87.1 170.5 87.2 170.0 87.5 169.0 88.0 168.5 89.0 168.2 89.5 168.5 89.8 169.0 89.9 170.0 89.4 171.0 88.5 171.7ZM70.7 178.5 71.0 178.4 71.5 177.6 72.0 176.2 72.2 174.5 72.0 174.0 71.5 174.1 71.0 174.6 70.5 176.0 70.4 178.0 70.5 178.6 70.7 178.5ZM31.5 182.7 31.0 182.7 30.3 182.0 30.1 181.0 30.0 179.5 30.4 178.0 31.0 176.6 31.5 176.0 32.0 175.6 32.5 175.6 33.1 176.0 33.5 177.0 33.5 179.0 33.1 180.5 32.6 181.5 32.0 182.3 31.5 182.7ZM53.1 188.5 53.3 187.0 53.0 186.8 52.9 188.0 53.0 188.7 53.1 188.5ZM81.5 198.1 81.0 198.3 80.5 198.2 80.0 197.5 80.0 197.0 80.5 196.4 81.0 196.3 81.5 196.4 81.9 197.0 82.0 197.5 81.5 198.1ZM54.5 200.0 54.5 199.3 54.0 198.2 54.0 199.9 54.5 200.0ZM53.4 215.5 53.8 215.0 53.8 214.5 53.5 213.6 53.0 213.2 52.0 213.2 50.9 214.0 50.7 214.5 51.0 215.1 52.0 215.6 53.4 215.5ZM84.0 329.2 82.5 329.3 81.7 329.0 80.9 328.0 80.9 327.0 81.5 326.1 82.5 325.3 84.0 324.7 85.0 324.6 85.8 325.0 86.2 325.5 86.4 326.0 86.4 327.0 85.5 328.3 84.0 329.2ZM62.5 55.2 62.2 55.0 62.2 54.5 62.5 54.1 63.0 54.5 62.5 55.2ZM58.0 63.1 57.5 62.8 57.5 62.0 58.0 61.6 58.5 61.6 58.8 62.0 58.7 62.5 58.5 62.9 58.0 63.1ZM47.5 82.8 47.0 82.9 46.4 82.5 46.1 81.5 46.3 80.0 46.8 78.5 47.5 77.2 48.5 76.2 49.0 76.1 49.5 76.3 49.8 77.0 49.7 79.0 49.0 81.0 48.3 82.0 47.5 82.8ZM86.0 85.3 85.5 85.5 85.0 85.0 84.5 83.7 84.3 82.0 84.5 79.5 85.0 78.7 85.5 78.4 86.0 78.4 86.5 78.8 86.9 79.5 87.1 80.5 86.8 83.5 86.5 84.5 86.0 85.3ZM68.5 93.0 67.8 93.0 67.2 92.5 66.9 91.5 67.0 90.5 67.5 89.5 68.0 89.0 68.5 88.7 69.5 88.6 70.4 89.0 70.8 89.5 71.0 90.0 71.0 91.0 70.5 92.0 70.0 92.4 68.5 93.0ZM64.5 99.2 64.1 99.0 64.0 98.4 64.5 97.5 65.0 97.4 65.1 98.5 64.5 99.2ZM53.0 111.8 52.5 111.7 52.0 110.6 51.7 109.0 51.8 108.0 52.5 106.4 53.0 106.0 54.0 105.8 54.5 106.1 55.0 106.9 55.1 108.5 54.5 110.1 53.0 111.8ZM74.0 107.6 74.0 107.4 74.0 107.6ZM77.0 120.5 76.5 120.3 76.0 119.6 75.8 118.0 76.0 117.1 76.4 116.5 77.5 116.1 78.4 116.5 78.8 117.0 79.0 117.5 79.1 118.5 78.7 119.5 78.2 120.0 77.5 120.4 77.0 120.5ZM93.0 158.7 92.0 158.9 91.5 158.7 91.0 158.0 90.7 157.0 90.9 156.0 91.3 155.0 92.0 154.3 92.5 154.1 93.0 154.1 93.6 154.5 94.0 155.0 94.2 156.0 94.0 157.5 93.0 158.7ZM79.5 164.6 78.5 164.5 77.9 164.0 77.7 163.5 78.0 162.5 78.5 161.9 79.5 161.3 80.5 161.0 81.5 161.3 82.0 162.0 81.8 163.0 80.9 164.0 79.5 164.6ZM88.5 170.2 88.5 169.8 88.5 170.2ZM31.5 181.6 31.0 181.5 30.7 181.0 30.5 180.0 30.6 179.0 31.0 177.7 31.5 177.0 32.0 176.6 32.5 176.7 33.0 177.5 33.0 179.1 32.5 180.6 32.0 181.3 31.5 181.6ZM54.6 216.5 55.0 216.0 55.1 215.5 55.0 214.5 54.0 212.2 53.5 211.6 53.0 211.3 52.0 211.4 49.0 212.4 48.5 212.8 48.0 213.5 48.0 215.0 49.1 216.0 50.4 216.5 52.0 216.8 53.5 216.8 54.6 216.5ZM42.5 229.2 41.5 229.5 40.3 229.0 39.7 228.0 39.8 227.0 40.4 226.0 41.0 225.5 43.5 224.5 43.8 225.0 43.8 227.5 43.3 228.5 42.5 229.2ZM57.5 259.1 57.0 259.0 56.5 258.6 56.0 257.6 55.8 256.5 56.0 254.1 56.5 253.2 57.0 252.9 57.5 253.1 58.0 253.7 58.5 255.7 58.4 258.0 58.0 258.9 57.5 259.1ZM62.5 262.4 62.0 262.4 61.4 262.0 61.2 261.5 61.5 260.9 62.0 260.8 62.6 261.0 62.9 261.5 62.8 262.0 62.5 262.4ZM73.5 302.7 73.0 302.7 72.5 302.4 72.2 302.0 72.0 301.0 72.0 300.0 72.2 299.0 72.7 298.0 73.5 297.3 74.0 297.3 74.5 297.6 75.0 298.5 75.0 300.0 74.5 301.7 73.5 302.7ZM83.0 329.0 82.0 328.8 81.5 328.4 81.2 327.5 81.5 326.6 82.0 326.1 83.0 325.6 84.0 325.3 85.0 325.5 85.5 326.0 85.7 326.5 85.4 327.5 84.4 328.5 83.0 329.0ZM86.0 84.1 85.5 84.4 85.0 83.5 84.9 83.0 85.0 81.0 85.5 80.0 86.0 80.2 86.4 81.5 86.3 83.0 86.0 84.1ZM69.0 91.6 68.5 91.5 68.2 91.0 68.5 90.2 69.0 89.9 69.5 90.0 69.8 90.5 69.5 91.3 69.0 91.6ZM53.5 109.1 53.0 109.0 52.9 108.5 53.0 107.9 53.5 107.4 54.0 108.0 53.9 108.5 53.5 109.1ZM77.5 119.0 77.0 118.9 76.8 118.5 77.0 117.6 77.5 117.4 78.0 118.0 78.0 118.5 77.5 119.0ZM50.0 132.7 49.5 132.9 49.0 132.8 48.5 132.2 48.1 131.0 48.0 130.0 48.5 128.0 49.0 127.3 50.0 126.8 50.5 127.1 50.7 127.5 51.0 129.5 50.7 131.5 50.0 132.7ZM49.5 146.3 49.0 146.2 48.3 145.5 47.8 144.5 47.6 143.5 47.6 142.5 48.0 141.0 48.5 140.3 49.0 140.1 49.5 140.2 50.0 140.8 50.5 142.5 50.5 144.0 50.1 145.5 49.5 146.3ZM76.0 149.0 75.0 149.0 74.0 148.5 73.5 147.7 73.3 147.0 73.5 146.0 74.0 144.9 75.0 143.9 75.5 143.8 76.0 143.9 77.0 144.9 77.6 146.5 77.3 148.0 77.0 148.5 76.0 149.0ZM92.5 156.6 92.5 156.4 92.5 156.6ZM65.0 163.7 64.0 163.7 62.5 163.0 61.6 162.0 61.2 161.0 61.2 159.5 61.5 158.5 62.5 157.3 63.5 156.8 64.5 156.8 65.5 157.3 66.4 158.5 66.7 159.5 66.8 161.0 66.5 162.3 66.0 163.1 65.0 163.7ZM32.0 179.0 32.0 178.9 32.0 179.0ZM31.0 198.2 30.5 198.3 29.9 198.0 29.5 197.4 29.2 196.0 29.2 195.0 29.5 193.6 30.0 192.9 30.5 192.6 31.0 192.7 31.5 193.2 32.1 195.0 31.8 197.0 31.5 197.8 31.0 198.2ZM77.0 216.2 76.5 216.2 75.9 215.5 75.9 214.5 76.5 214.2 77.0 214.3 77.5 215.0 77.5 215.7 77.0 216.2ZM41.5 228.6 41.0 228.4 40.7 228.0 40.6 227.5 41.0 226.7 41.5 226.4 42.0 226.4 42.5 226.6 42.7 227.5 42.5 228.0 42.0 228.5 41.5 228.6ZM69.5 236.1 69.0 236.4 68.4 236.0 67.9 235.0 67.6 233.5 67.6 232.0 68.0 230.6 68.5 229.8 69.0 229.6 69.5 229.9 70.0 230.6 70.4 232.5 70.3 234.5 70.0 235.4 69.5 236.1ZM52.0 244.0 51.5 243.7 51.2 242.5 51.5 240.8 52.0 240.4 52.5 240.8 52.9 242.5 52.5 243.8 52.0 244.0ZM74.5 256.5 74.0 256.7 73.0 256.4 72.0 255.5 71.4 254.5 70.9 253.5 70.7 252.0 70.9 251.0 71.5 250.3 72.0 250.3 73.0 250.7 73.8 251.5 74.5 252.6 75.0 254.0 75.1 255.0 74.9 256.0 74.5 256.5ZM57.0 256.5 57.0 255.4 57.2 256.0 57.0 256.5ZM83.0 328.6 82.2 328.5 81.7 328.0 81.6 327.5 81.7 327.0 82.5 326.3 83.5 326.1 84.0 326.2 84.5 326.5 84.6 327.0 84.5 327.5 84.0 328.1 83.0 328.6ZM64.5 112.9 64.0 112.4 63.9 111.5 64.0 110.5 64.5 110.0 64.9 111.0 64.5 112.9ZM63.5 122.1 63.0 120.5 63.0 118.9 63.5 116.4 64.0 115.3 64.5 115.8 64.9 119.0 64.5 121.2 64.0 122.0 63.5 122.1ZM52.0 121.1 50.8 120.0 50.5 119.5 50.2 118.5 50.5 117.0 51.0 116.4 51.5 116.1 52.0 116.1 52.5 116.5 52.8 117.5 52.9 118.5 52.5 120.8 52.0 121.1ZM55.0 124.6 54.5 124.9 53.5 125.0 52.5 124.4 52.2 124.0 52.1 123.0 52.1 122.0 52.5 121.1 54.5 122.4 55.0 123.0 55.3 124.0 55.0 124.6ZM49.5 131.7 49.0 131.5 48.6 130.0 49.0 128.6 49.5 128.2 50.1 128.5 50.4 130.0 50.0 131.4 49.5 131.7ZM49.5 144.5 49.0 144.7 48.7 144.5 48.2 143.5 48.3 142.0 48.5 141.6 49.0 141.3 49.5 141.5 49.9 142.5 49.9 143.5 49.5 144.5ZM76.0 148.2 75.5 148.3 74.7 148.0 74.1 147.0 74.1 146.5 74.5 145.5 75.0 145.1 75.5 144.9 76.0 145.1 76.5 145.5 76.9 146.5 76.7 147.5 76.0 148.2ZM65.5 162.5 64.5 163.0 63.5 162.9 62.5 162.2 62.0 161.5 61.7 160.5 61.8 159.5 62.2 158.5 63.0 157.7 63.5 157.4 64.5 157.4 65.4 158.0 66.0 158.8 66.3 160.0 66.3 161.0 66.0 161.8 65.5 162.5ZM30.5 197.1 30.0 196.6 29.8 195.5 30.0 194.4 30.5 193.9 31.0 194.1 31.4 195.5 31.0 196.9 30.5 197.1ZM50.0 208.0 49.0 207.9 48.5 207.5 48.4 207.0 48.6 205.5 49.0 204.8 49.5 204.5 50.0 204.8 50.5 205.4 50.8 206.5 50.6 207.5 50.0 208.0ZM52.0 234.7 51.5 234.5 51.0 233.8 50.6 232.0 51.0 230.4 51.5 229.7 52.0 229.3 52.5 229.4 53.0 230.0 53.4 232.0 53.0 233.9 52.5 234.5 52.0 234.7ZM69.0 234.9 68.5 234.5 68.2 233.0 68.5 231.5 69.0 231.1 69.5 231.5 69.8 233.0 69.5 234.5 69.0 234.9ZM73.5 255.3 72.8 255.0 72.0 254.0 71.7 252.5 72.0 251.8 72.5 251.7 73.0 252.0 73.5 252.5 74.0 253.5 74.0 254.9 73.5 255.3ZM83.0 328.2 82.2 328.0 82.0 327.5 82.2 327.0 83.0 326.6 83.5 326.7 83.8 327.0 83.8 327.5 83.4 328.0 83.0 328.2ZM64.0 119.3 64.0 118.7 64.0 119.3ZM63.0 132.1 62.5 132.4 62.0 132.4 61.5 132.0 59.9 130.0 59.5 128.7 59.5 127.6 60.0 126.7 60.5 126.4 61.5 126.2 62.5 126.2 63.2 127.0 63.6 128.0 63.7 129.5 63.5 131.0 63.0 132.1ZM64.5 162.1 63.5 162.0 63.0 161.6 62.4 160.5 62.5 159.5 62.7 159.0 63.5 158.3 64.0 158.2 64.9 158.5 65.5 159.5 65.5 161.1 65.0 161.8 64.5 162.1ZM71.5 207.3 70.8 207.0 70.6 206.5 70.5 205.5 70.9 203.5 71.5 203.0 72.0 203.4 72.4 205.0 72.2 206.5 72.0 206.9 71.5 207.3ZM62.5 131.0 62.0 131.0 61.5 130.7 61.0 130.0 60.5 129.0 60.6 128.0 61.2 127.5 62.0 127.4 62.5 127.7 63.0 128.5 63.0 130.0 62.5 131.0ZM53.0 153.5 51.5 153.1 50.8 152.0 50.8 150.5 51.5 149.5 53.0 148.7 54.5 148.4 56.5 148.5 57.3 149.0 57.4 149.5 57.1 150.5 56.0 152.0 54.5 153.2 53.0 153.5ZM64.0 160.4 63.9 160.0 64.0 159.8 64.2 160.0 64.0 160.4ZM57.0 173.2 56.5 173.2 56.0 172.5 55.6 170.0 56.0 167.5 56.5 166.9 57.0 166.9 57.5 167.4 57.7 168.0 58.0 170.0 57.7 172.0 57.5 172.6 57.0 173.2ZM66.5 178.0 66.0 178.1 65.5 177.9 65.0 177.3 64.5 176.0 64.4 175.0 64.5 173.9 65.0 172.6 65.5 172.0 66.5 171.4 67.1 171.5 67.6 172.0 67.9 174.0 67.5 176.7 67.0 177.6 66.5 178.0ZM65.0 213.0 64.0 212.7 63.2 212.0 62.6 211.0 62.4 210.0 62.6 209.0 63.2 208.0 64.0 207.3 65.0 206.9 65.8 207.0 66.5 207.5 67.1 208.5 67.2 209.5 67.0 210.9 66.5 212.0 66.0 212.6 65.0 213.0ZM62.5 222.8 61.5 223.0 60.6 222.5 60.2 222.0 60.1 221.5 60.3 221.0 61.0 220.5 61.5 220.3 62.5 220.5 63.0 221.0 63.2 221.5 63.0 222.3 62.5 222.8ZM60.5 145.1 60.0 145.1 59.5 144.5 59.2 143.5 59.0 142.0 59.5 139.8 60.0 139.2 60.5 139.0 61.0 139.1 61.8 140.0 62.2 142.0 62.0 143.0 61.6 144.0 61.0 144.8 60.5 145.1ZM54.5 152.6 53.0 152.9 52.0 152.6 51.5 152.0 51.4 151.0 52.0 150.0 53.0 149.3 54.5 148.9 55.6 149.0 56.3 149.5 56.4 150.5 55.8 151.5 54.5 152.6ZM57.0 171.3 56.5 171.2 56.3 170.0 56.5 168.8 57.0 168.7 57.3 170.0 57.0 171.3ZM66.5 176.6 66.0 176.8 65.5 176.5 65.1 175.5 65.2 174.0 65.5 173.4 66.0 172.9 66.6 173.0 67.0 173.4 67.1 174.0 67.1 175.5 66.5 176.6ZM57.5 193.6 57.0 193.5 56.5 192.5 56.3 190.0 56.6 187.5 57.0 186.6 57.5 186.5 58.1 187.5 58.4 190.0 58.1 192.5 57.5 193.6ZM68.5 194.4 68.0 194.4 67.5 193.9 67.1 192.0 67.5 190.2 68.0 189.7 68.5 189.6 69.2 190.0 69.6 191.5 69.2 193.5 69.0 194.0 68.5 194.4ZM58.5 212.1 58.0 212.2 57.5 212.0 57.0 211.3 56.7 210.0 56.6 209.0 57.0 207.7 57.5 207.2 58.0 207.1 58.5 207.3 59.0 207.9 59.5 209.5 59.3 211.0 58.5 212.1ZM65.5 211.6 65.0 211.8 64.5 211.7 64.0 211.2 63.7 210.5 63.7 209.5 63.8 209.0 64.5 208.3 65.0 208.1 65.9 208.5 66.3 209.5 66.0 211.0 65.5 211.6ZM43.0 215.7 42.5 215.4 42.3 215.0 42.0 213.5 42.4 212.0 43.0 211.8 43.6 212.5 43.8 214.0 43.5 215.4 43.0 215.7ZM53.5 222.6 53.0 222.6 52.5 222.2 52.5 221.5 53.0 221.3 53.7 221.5 54.0 222.0 53.5 222.6ZM60.5 144.0 60.0 143.9 59.8 143.5 59.4 142.0 59.8 140.5 60.5 140.0 61.0 140.2 61.2 140.5 61.6 142.0 61.1 143.5 60.5 144.0ZM53.5 152.1 52.9 152.0 52.4 151.5 52.4 151.0 52.7 150.5 53.3 150.0 54.0 149.8 55.0 149.9 55.3 150.5 55.1 151.0 54.5 151.7 53.5 152.1ZM42.5 171.7 42.0 171.5 41.8 170.0 42.0 168.9 42.5 168.7 42.8 170.0 42.5 171.7ZM42.0 188.5 41.5 188.4 41.0 187.4 40.7 185.0 41.0 182.4 41.5 181.4 42.0 181.1 42.6 182.0 43.1 184.5 42.8 187.0 42.5 187.8 42.0 188.5ZM57.5 191.6 57.0 191.2 56.9 190.0 57.0 188.9 57.5 188.5 57.8 190.0 57.5 191.6ZM42.0 202.8 41.5 202.6 41.0 201.9 40.6 199.5 41.0 197.0 41.5 196.1 42.0 195.9 42.5 196.3 43.0 197.5 43.2 199.5 42.9 201.5 42.5 202.3 42.0 202.8ZM42.0 185.2 41.8 185.0 41.8 184.5 42.0 184.3 42.0 185.2ZM42.0 200.7 41.5 200.6 41.3 199.5 41.5 198.4 42.0 198.2 42.3 199.5 42.0 200.7Z" stroke-width="0.76"/>
</g>
<g fill="none" stroke="#7b7bff" stroke-linejoin="round">
<path d="M177.5 126.1 176.6 126.0 176.3 125.5 176.2 125.0 176.5 124.5 177.0 124.2 177.9 124.5 178.2 125.0 178.0 125.8 177.5 126.1ZM177.5 137.7 176.5 137.7 176.0 137.5 175.3 136.5 175.3 135.5 175.5 135.0 176.5 134.3 177.5 134.3 178.0 134.5 178.7 135.5 178.7 136.5 178.5 137.0 177.5 137.7ZM178.0 146.7 177.5 146.8 176.6 146.5 175.9 145.5 176.1 144.5 176.5 144.0 177.0 143.7 178.0 143.7 178.6 144.0 179.0 144.7 179.1 145.5 178.9 146.0 178.0 146.7ZM177.5 198.1 176.0 198.1 174.5 197.4 173.8 196.5 173.6 195.0 174.3 193.5 175.4 192.5 177.0 191.7 178.5 191.6 179.5 192.0 180.5 193.0 180.9 194.0 180.8 195.0 180.5 196.0 179.7 197.0 178.5 197.8 177.5 198.1ZM176.5 218.5 175.5 219.0 174.5 218.9 173.9 218.5 173.5 218.0 173.5 217.0 173.9 216.5 174.5 216.1 175.5 216.0 176.0 216.2 176.5 216.5 177.0 217.5 176.9 218.0 176.5 218.5ZM177.0 254.8 175.5 255.0 174.5 254.6 173.8 254.0 173.6 253.5 173.4 252.5 173.8 251.5 174.5 250.8 175.5 250.4 176.5 250.5 177.5 250.9 178.0 251.5 178.4 252.5 178.2 253.5 178.0 254.0 177.0 254.8ZM177.0 273.7 175.5 273.9 174.0 273.5 173.2 273.0 172.9 272.5 173.0 271.5 173.5 270.9 174.5 270.5 175.5 270.4 177.0 270.7 178.0 271.5 178.2 272.5 178.0 273.0 177.0 273.7Z" stroke-width="1.2"/>
<path d="M177.5 125.8 177.0 125.8 176.6 125.5 176.5 125.0 177.0 124.5 177.5 124.6 177.8 125.0 177.8 125.5 177.5 125.8ZM178.0 137.1 177.0 137.5 175.9 137.0 175.5 136.0 176.0 134.9 177.0 134.5 178.1 135.0 178.5 136.0 178.0 137.1ZM177.5 146.5 177.0 146.4 176.5 146.0 176.2 145.0 176.5 144.4 177.0 144.0 177.5 143.9 178.0 144.0 178.5 144.4 178.8 145.0 178.5 146.0 178.0 146.4 177.5 146.5ZM178.0 197.6 176.5 197.8 175.4 197.5 174.3 196.5 174.0 195.5 174.4 194.0 175.3 193.0 176.5 192.2 178.0 191.9 179.0 192.0 180.0 192.7 180.5 193.5 180.6 194.5 180.4 195.5 179.8 196.5 179.0 197.1 178.0 197.6ZM176.0 218.5 175.0 218.7 174.4 218.5 173.9 218.0 173.7 217.5 174.0 216.8 175.0 216.3 176.0 216.5 176.5 217.0 176.7 217.5 176.5 218.0 176.0 218.5ZM176.0 254.6 175.0 254.4 174.4 254.0 174.0 253.3 173.9 252.5 174.0 252.0 174.5 251.3 175.0 251.0 176.0 250.8 176.7 251.0 177.5 251.5 177.9 252.5 177.7 253.5 177.4 254.0 176.5 254.5 176.0 254.6ZM176.5 273.6 175.0 273.7 174.0 273.3 173.2 272.5 173.1 272.0 173.2 271.5 174.0 270.8 175.0 270.6 176.0 270.6 177.1 271.0 177.6 271.5 177.9 272.5 177.5 273.1 176.5 273.6Z" stroke-width="0.88"/>
<path d="M177.0 137.0 176.5 136.9 176.1 136.5 176.0 136.0 176.1 135.5 176.5 135.1 177.0 135.0 177.5 135.1 177.9 135.5 178.0 136.0 177.9 136.5 177.5 136.9 177.0 137.0ZM177.5 146.1 177.0 146.0 176.6 145.5 176.6 145.0 177.0 144.4 177.5 144.3 178.0 144.4 178.4 145.0 178.4 145.5 178.0 146.0 177.5 146.1ZM178.5 197.0 177.0 197.4 176.0 197.2 174.9 196.5 174.5 195.5 174.6 194.5 175.3 193.5 176.5 192.6 177.5 192.2 178.5 192.2 179.3 192.5 179.8 193.0 180.3 194.0 180.3 195.0 180.0 195.6 179.5 196.3 178.5 197.0ZM176.0 218.0 175.5 218.3 174.5 218.1 174.2 217.5 174.4 217.0 175.0 216.7 176.0 217.0 176.2 217.5 176.0 218.0ZM176.0 254.0 175.0 253.7 174.5 253.0 174.7 252.0 175.5 251.4 176.5 251.5 177.1 252.0 177.3 252.5 177.0 253.5 176.0 254.0ZM175.5 273.5 174.0 273.1 173.5 272.5 173.4 272.0 173.5 271.6 174.0 271.1 175.5 270.8 176.5 271.0 177.3 271.5 177.5 272.0 177.5 272.5 177.2 273.0 176.5 273.4 175.5 273.5ZM178.5 196.6 177.5 196.9 176.5 196.9 175.7 196.5 175.3 196.0 175.0 195.0 175.4 194.0 176.0 193.3 177.0 192.7 178.5 192.6 179.4 193.0 179.8 193.5 179.9 194.0 179.9 195.0 179.3 196.0 178.5 196.6ZM176.5 273.1 175.5 273.3 174.4 273.0 173.8 272.5 173.7 272.0 173.9 271.5 175.0 271.0 176.5 271.3 177.1 272.0 177.1 272.5 176.5 273.1ZM178.5 196.1 177.0 196.4 176.1 196.0 175.8 195.5 175.7 195.0 176.0 194.1 177.0 193.2 177.5 193.0 178.5 193.0 179.0 193.2 179.5 194.0 179.5 195.0 178.5 196.1ZM176.5 272.5 176.0 272.8 175.0 272.9 174.3 272.5 174.1 272.0 174.5 271.5 175.5 271.3 176.1 271.5 176.5 271.9 176.5 272.5ZM178.0 195.6 177.0 195.6 176.5 195.0 176.6 194.5 176.9 194.0 177.5 193.6 178.0 193.5 178.5 193.6 178.9 194.0 179.0 194.5 178.5 195.4 178.0 195.6ZM175.5 272.2 174.9 272.0 175.5 271.9 175.7 272.0 175.5 272.2ZM178.0 194.7 177.5 194.5 178.0 194.4 178.0 194.7Z" stroke-width="0.72"/>
</g>
<circle cx="81.6" cy="239" r="0.8" fill="#000"/>
<circle cx="81.6" cy="256.8" r="0.8" fill="#000"/>
<circle cx="147.5" cy="283.4" r="0.7" fill="#7b7bff"/>
<circle cx="183.2" cy="325.9" r="0.7" fill="#7b7bff"/>
<circle cx="128.5" cy="316.7" r="0.7" fill="#7b7bff"/>
<circle cx="159" cy="17.5" r="0.7" fill="#7b7bff"/>
<circle cx="172.5" cy="217" r="0.5" fill="#7b7bff"/>
<circle cx="80.3" cy="121.2" r="0.8" fill="#22cc22"/>
<circle cx="30.1" cy="167.9" r="0.8" fill="#22cc22"/>
<circle cx="54" cy="170" r="0.8" fill="#22cc22"/>
<circle cx="62.3" cy="307.4" r="0.8" fill="#22cc22"/>
<circle cx="16" cy="315.5" r="0.6" fill="#ff8c00"/>
<text x="168.6" y="118.2" class="lab" fill="#5a4ac0" stroke="#202050" stroke-width="0.35">Arg</text>
<g fill="none" stroke="#000" stroke-linejoin="round">
<path d="M563.0 31.5 562.0 31.8 561.5 31.7 561.0 31.1 560.5 29.7 560.4 28.0 560.8 26.0 561.5 24.3 562.5 23.2 563.5 23.0 564.3 23.5 564.8 24.5 565.0 27.0 564.4 29.5 563.9 30.5 563.0 31.5ZM555.5 66.0 554.5 65.7 553.7 64.5 553.5 63.5 553.7 62.0 555.0 58.5 555.8 55.0 556.5 53.0 557.2 52.0 558.0 51.2 559.0 50.7 560.0 50.7 561.1 51.5 561.7 53.0 561.7 54.5 561.4 56.5 558.4 64.0 557.0 65.5 555.5 66.0ZM548.5 68.1 548.0 68.3 547.0 68.2 546.0 67.4 545.2 66.0 544.7 64.0 544.8 62.0 545.4 60.0 546.5 58.7 547.5 58.3 548.5 58.5 549.7 59.5 550.4 61.0 550.9 63.0 550.8 64.5 550.3 66.0 549.5 67.3 548.5 68.1ZM447.5 83.0 446.5 83.4 445.5 83.0 444.5 81.5 444.2 80.0 444.2 78.0 444.6 76.5 445.5 75.2 446.5 74.8 447.5 75.2 448.0 75.7 448.5 76.7 448.8 78.0 448.9 79.5 448.7 81.0 448.3 82.0 447.5 83.0ZM491.5 95.6 491.0 95.8 490.0 95.8 489.0 94.8 488.2 93.0 487.8 90.5 487.9 88.0 488.5 85.5 489.5 83.8 490.5 83.3 491.5 83.6 492.5 85.0 493.0 86.5 493.4 88.5 493.3 91.0 493.0 92.8 492.4 94.5 491.5 95.6ZM520.0 97.0 519.0 97.4 518.0 97.2 517.0 96.1 516.4 94.5 516.3 93.0 516.6 91.5 517.5 90.0 518.5 89.4 519.5 89.5 520.3 90.0 521.0 91.0 521.3 92.0 521.5 93.5 521.3 95.0 520.9 96.0 520.0 97.0ZM442.5 131.5 440.5 131.1 439.0 130.0 437.9 128.5 437.1 126.5 437.0 125.0 437.2 123.0 439.0 118.0 439.3 116.0 439.0 114.5 437.4 111.5 436.6 109.5 436.6 107.0 437.2 105.0 438.0 103.9 439.0 103.0 440.0 102.4 441.5 102.0 443.0 102.1 444.0 102.3 447.5 104.4 448.5 104.7 449.5 104.4 452.0 102.8 453.5 102.2 455.5 102.0 457.5 102.7 458.6 103.5 459.5 104.6 460.2 106.0 460.5 107.5 460.3 110.0 458.8 113.5 458.4 115.0 458.6 117.0 459.8 121.0 460.2 123.0 460.1 125.0 459.3 127.5 458.5 128.8 457.5 129.9 456.5 130.5 455.5 130.9 454.5 131.0 453.0 130.8 449.5 129.0 448.5 128.8 447.5 129.3 444.5 131.1 442.5 131.5ZM507.0 122.1 506.0 122.2 504.5 121.5 503.2 120.0 502.8 119.0 503.2 116.5 504.1 112.0 503.9 107.5 504.1 105.5 504.4 104.5 505.0 103.4 505.5 102.9 506.5 102.5 507.5 102.9 508.0 103.4 508.6 104.5 508.9 105.5 509.1 107.5 508.8 112.0 509.5 116.5 509.4 118.5 508.9 120.0 508.0 121.4 507.0 122.1ZM537.0 125.3 536.0 125.5 535.5 125.3 534.8 124.5 534.0 122.9 533.5 120.5 533.6 118.0 534.0 116.0 535.0 114.2 536.0 113.5 537.0 113.7 538.0 114.7 538.7 116.5 539.1 118.5 539.1 120.5 538.7 122.5 538.0 124.3 537.0 125.3ZM505.5 170.0 503.5 169.7 502.0 168.8 500.9 167.5 500.3 165.5 500.7 160.5 500.5 159.5 499.2 156.0 498.9 154.0 499.1 152.0 500.0 149.0 500.2 147.5 499.4 142.5 499.7 137.5 499.4 136.5 498.1 134.0 497.6 132.5 497.4 131.0 497.5 128.0 497.3 127.0 495.3 124.0 494.8 123.0 494.5 121.5 494.6 120.0 495.1 118.5 496.0 117.3 497.5 116.5 499.0 116.6 500.0 117.1 501.5 118.5 502.1 119.5 502.2 120.5 501.9 123.0 502.0 124.1 502.5 125.0 505.0 127.0 506.2 129.0 506.7 131.0 506.7 135.5 508.4 140.5 508.5 143.0 507.8 147.5 508.0 149.0 509.0 153.0 509.0 155.0 508.4 158.5 508.4 159.5 509.4 163.0 509.5 165.5 509.2 167.0 508.4 168.5 507.0 169.6 505.5 170.0ZM607.0 125.1 606.0 125.4 605.0 125.0 603.9 124.0 602.8 122.0 602.3 120.0 602.3 118.5 602.7 117.5 603.5 116.7 604.5 116.7 605.5 117.2 606.5 118.3 607.4 120.0 607.8 121.5 607.9 123.0 607.5 124.5 607.0 125.1ZM478.0 264.0 476.5 263.8 475.5 263.0 474.4 261.0 473.8 258.5 473.4 246.0 473.9 239.5 473.6 237.5 472.3 233.0 472.0 230.5 472.1 228.0 472.6 224.5 472.7 223.0 472.4 221.5 470.6 217.0 470.2 215.0 470.2 212.5 471.4 208.0 471.5 206.5 471.2 205.0 469.8 201.5 469.2 199.5 469.2 196.5 469.9 192.0 469.9 190.5 469.5 188.4 468.5 185.7 468.0 184.8 467.5 184.3 467.0 185.1 465.9 190.0 465.6 192.5 465.6 194.0 466.4 199.5 465.6 206.5 465.9 208.0 467.2 212.5 467.3 215.0 466.9 216.5 466.3 218.0 463.8 222.0 463.5 223.4 463.2 226.5 462.8 228.0 462.0 229.4 461.0 230.4 460.0 230.9 459.0 231.1 458.0 231.0 457.0 230.6 454.5 228.6 453.5 228.2 452.9 229.0 451.9 233.0 450.9 235.0 450.0 235.8 449.0 236.1 448.0 235.9 447.5 235.5 446.6 234.5 446.1 233.5 444.5 228.7 442.7 225.0 442.1 223.0 441.5 215.5 439.5 210.0 439.0 207.0 439.0 200.0 437.9 192.5 438.1 190.0 438.7 185.5 438.5 183.0 437.5 177.2 437.0 175.7 436.0 174.5 433.0 172.0 432.3 171.0 431.7 169.5 431.4 167.5 432.0 162.5 430.9 157.5 431.1 155.5 431.7 154.0 434.1 150.0 436.0 146.1 437.5 144.3 439.5 143.1 443.5 141.9 447.0 139.4 448.5 138.7 450.5 138.4 452.5 138.9 454.0 140.0 454.9 141.5 455.2 143.5 454.9 145.0 454.2 146.0 453.0 146.9 448.5 148.5 447.5 149.0 446.5 149.9 445.5 151.2 444.3 153.0 443.7 154.5 442.5 162.0 442.9 164.0 444.5 167.9 445.2 169.0 446.0 169.7 446.5 169.8 447.5 169.7 452.5 167.0 453.0 166.5 453.5 165.0 453.8 160.5 455.1 151.5 456.1 148.0 457.0 146.8 458.5 146.0 460.0 145.8 462.5 146.0 463.5 145.8 464.0 145.4 464.6 144.0 465.1 142.0 465.2 140.5 464.5 135.5 464.4 133.5 464.7 131.5 465.6 128.0 465.5 124.5 465.9 123.0 466.9 121.5 468.0 120.6 469.5 119.9 471.5 119.5 474.0 119.7 475.8 120.5 477.4 122.0 478.0 123.5 477.9 125.0 477.1 126.5 476.0 127.5 473.5 129.2 473.0 129.8 472.7 130.5 472.6 132.0 473.0 136.0 473.5 137.7 474.0 137.9 474.5 137.3 475.6 135.5 476.5 134.5 477.0 134.2 478.0 133.9 479.0 134.3 479.7 135.0 480.4 136.5 480.8 138.0 481.0 140.0 480.8 142.5 480.1 144.5 478.9 147.0 478.7 148.0 478.9 149.0 480.9 153.0 481.4 155.0 481.9 158.0 481.8 158.5 479.7 161.5 479.5 162.5 479.6 163.0 480.5 163.4 481.7 163.0 482.0 162.5 482.2 161.5 482.2 158.5 483.5 157.0 485.0 155.7 486.5 154.9 488.0 154.5 489.5 154.6 491.0 155.0 492.5 156.2 493.6 158.0 494.0 159.5 494.2 163.5 494.6 164.5 496.7 168.5 497.2 171.5 497.1 174.0 496.0 179.0 496.0 180.5 496.8 184.0 497.1 186.5 497.0 189.0 496.2 194.5 497.0 202.0 496.9 204.0 496.0 209.5 496.5 214.5 496.5 216.5 496.2 218.5 495.5 220.5 494.5 221.8 493.5 222.6 492.5 223.0 491.5 223.0 490.5 222.6 489.5 221.8 488.5 220.5 487.9 219.0 487.5 217.5 487.4 215.5 487.9 209.0 486.9 202.5 487.0 196.0 486.6 194.5 486.0 193.5 485.5 193.2 484.5 193.3 483.5 194.0 482.5 195.4 481.8 197.0 479.7 204.0 479.5 205.5 479.8 207.0 481.2 211.0 481.5 213.5 481.4 216.0 480.4 221.5 480.6 223.0 481.7 227.0 482.0 229.5 482.0 232.0 481.3 237.5 482.5 244.5 482.4 251.5 483.0 252.8 485.5 254.0 486.5 254.9 487.3 256.5 487.5 258.0 487.4 259.0 487.0 260.2 486.5 261.0 485.5 261.8 484.0 262.2 481.5 262.0 480.5 262.5 479.0 263.6 478.0 264.0ZM424.5 141.5 423.5 141.5 422.5 141.2 421.7 140.0 421.3 138.0 421.5 134.0 421.3 133.0 420.7 132.5 418.5 131.9 417.5 131.4 416.5 130.5 415.8 129.0 415.8 127.0 416.5 125.0 418.0 123.3 419.0 122.7 420.0 122.3 421.0 122.2 422.0 122.4 423.5 123.5 424.3 125.0 424.8 128.5 425.0 129.2 425.5 129.7 428.0 131.0 428.8 132.0 429.4 133.5 429.4 136.0 428.5 138.5 427.5 139.9 426.5 140.7 425.5 141.3 424.5 141.5ZM417.0 163.6 415.0 163.8 413.5 163.3 412.0 162.1 411.0 160.6 410.4 159.0 410.1 157.0 409.9 152.0 410.0 149.5 410.4 147.5 411.0 146.0 411.6 145.0 412.5 144.1 414.0 143.5 419.5 143.3 420.5 143.6 421.0 144.1 421.9 146.0 422.5 149.0 422.4 152.5 421.4 158.5 420.7 160.5 420.1 161.5 419.2 162.5 418.0 163.2 417.0 163.6ZM404.0 155.1 403.5 155.4 403.0 155.3 402.2 154.5 401.3 152.5 400.6 149.5 400.7 148.0 401.1 146.5 402.0 145.4 403.0 145.0 404.0 145.1 405.0 145.8 405.7 147.0 406.0 148.0 406.0 149.5 405.7 151.0 404.7 154.0 404.0 155.1ZM527.5 161.5 526.5 161.9 525.5 161.3 524.8 160.0 524.3 158.0 524.4 156.0 524.8 154.0 525.5 152.9 526.5 152.3 527.5 152.7 528.0 153.3 528.5 154.5 528.8 156.0 528.9 158.0 528.6 159.5 528.0 160.9 527.5 161.5ZM421.0 200.0 419.5 199.5 418.2 198.0 417.4 196.0 416.5 192.5 416.0 191.5 415.5 191.1 411.0 189.1 407.5 188.2 406.0 187.6 404.5 186.2 403.7 184.5 403.5 183.5 403.6 182.0 404.4 180.0 405.5 178.8 408.0 177.5 409.0 176.6 410.8 171.5 412.0 170.0 413.0 169.5 414.0 169.5 415.0 170.0 416.0 171.1 416.6 172.5 417.0 175.0 416.4 179.5 416.7 181.0 418.0 182.4 422.5 186.0 423.9 188.0 424.6 190.0 424.9 191.5 425.0 193.5 424.7 195.5 424.3 197.0 423.0 199.1 422.0 199.8 421.0 200.0ZM510.0 186.6 508.5 186.5 507.5 185.7 507.0 185.0 506.4 183.0 506.4 180.5 507.1 178.0 508.5 175.7 510.0 174.4 511.0 174.1 512.0 174.1 513.4 175.0 514.3 176.5 514.7 178.5 514.6 180.5 514.0 182.5 512.9 184.5 511.5 186.0 510.0 186.6ZM518.0 222.4 517.5 222.5 517.0 222.4 516.5 222.0 515.8 220.5 515.5 219.0 515.6 217.5 516.0 215.9 516.5 215.0 517.5 214.5 518.0 214.6 518.8 215.5 519.2 216.5 519.5 218.0 519.2 220.5 518.8 221.5 518.0 222.4ZM413.0 233.6 412.0 233.5 411.5 233.1 410.8 232.0 410.2 230.0 409.8 227.0 409.9 224.5 410.5 221.7 411.5 219.9 412.5 219.3 413.5 219.7 414.5 221.2 415.1 223.5 415.4 226.0 415.3 228.5 414.8 231.0 414.0 232.7 413.0 233.6ZM499.5 262.7 499.0 262.9 498.0 262.9 497.2 262.5 496.5 261.7 495.5 259.5 495.0 257.0 495.1 254.0 495.8 251.5 497.0 249.7 497.5 249.3 498.5 249.0 499.5 249.3 500.7 250.5 501.5 252.5 502.0 255.0 501.9 257.5 501.5 259.6 500.7 261.5 499.5 262.7ZM463.5 263.6 462.0 264.0 461.0 263.7 460.2 263.0 459.0 261.0 458.3 258.0 458.3 255.0 459.0 252.0 459.8 250.5 460.5 249.7 461.0 249.3 462.0 249.0 463.5 249.4 464.6 250.5 465.6 252.5 466.1 255.0 466.2 257.5 465.7 260.0 464.9 262.0 463.5 263.6ZM467.0 305.7 466.0 306.0 465.5 305.9 464.6 305.0 463.9 303.5 463.4 301.0 463.3 298.5 463.8 296.0 464.9 294.0 466.0 293.4 467.0 293.7 468.0 295.0 468.5 296.5 468.9 298.5 468.8 301.0 468.5 303.0 467.9 304.5 467.0 305.7Z" stroke-width="1.9"/>
<path d="M574.0 53.5 573.5 53.9 573.0 53.8 572.7 53.5 572.4 52.5 572.4 51.0 572.9 49.0 573.5 47.7 574.5 46.6 575.0 46.5 575.5 46.9 575.7 47.5 575.8 49.5 575.0 52.0 574.0 53.5ZM399.0 127.7 398.0 127.7 397.3 127.0 397.3 126.0 397.5 125.5 398.0 125.1 399.0 125.1 399.5 125.3 399.9 126.0 399.9 127.0 399.5 127.5 399.0 127.7ZM409.0 131.1 408.0 131.3 407.5 131.1 407.0 130.5 407.0 129.5 407.5 128.8 408.5 128.5 409.0 128.7 409.5 129.2 409.7 130.0 409.6 130.5 409.0 131.1ZM514.0 162.1 513.0 161.9 512.3 161.5 511.8 161.0 511.6 160.0 512.0 159.0 512.4 158.5 513.0 158.1 514.0 157.9 515.3 158.5 515.7 159.0 516.0 160.0 515.7 161.0 515.3 161.5 514.0 162.1ZM501.0 243.2 499.5 243.1 498.6 242.5 497.9 241.5 497.5 240.0 497.5 239.0 498.0 237.5 499.0 236.5 500.0 236.0 501.0 236.0 502.0 236.5 503.0 237.5 503.5 239.0 503.4 240.5 503.0 241.5 502.0 242.7 501.0 243.2Z" stroke-width="1.52"/>
<path d="M562.5 31.2 562.0 31.2 561.5 31.0 561.0 30.2 560.7 29.0 560.8 27.5 561.1 26.0 561.8 24.5 562.5 23.8 563.0 23.6 563.5 23.6 564.1 24.0 564.5 25.0 564.6 27.5 564.2 29.0 563.8 30.0 563.0 30.9 562.5 31.2ZM556.0 65.5 555.0 65.4 554.2 64.5 553.9 63.0 554.2 61.5 555.4 58.5 556.3 54.5 556.9 53.0 557.6 52.0 558.5 51.3 559.5 51.1 560.0 51.2 560.9 52.0 561.3 53.0 561.4 54.5 561.2 56.0 558.3 63.5 557.1 65.0 556.0 65.5ZM548.5 67.6 547.5 67.8 547.0 67.6 546.2 67.0 545.4 65.5 545.0 64.0 545.1 62.0 545.6 60.5 546.5 59.3 547.5 58.8 548.5 59.0 549.5 60.0 550.0 61.0 550.4 62.5 550.5 64.0 550.1 65.5 549.5 66.7 548.5 67.6ZM491.0 95.2 490.0 95.1 489.0 93.9 488.3 92.0 488.1 90.0 488.2 88.0 488.7 86.0 489.5 84.5 490.5 84.0 491.5 84.3 492.3 85.5 492.8 87.0 493.1 89.0 493.0 91.0 492.6 93.0 492.0 94.3 491.0 95.2ZM443.0 131.0 441.0 130.8 439.5 129.9 438.4 128.5 437.6 126.5 437.4 125.0 437.6 123.0 439.5 118.0 439.8 116.0 439.5 114.2 437.7 111.0 437.1 109.5 437.0 107.5 437.5 105.5 438.1 104.5 439.1 103.5 440.5 102.8 441.5 102.5 443.0 102.6 444.2 103.0 445.5 103.7 447.5 105.4 448.5 105.7 449.5 105.4 452.0 103.4 453.5 102.7 455.5 102.5 457.0 103.0 458.0 103.6 459.0 104.7 459.7 106.0 460.0 107.5 459.8 110.0 458.2 113.5 457.8 115.0 458.0 116.5 459.3 121.0 459.7 123.0 459.6 125.5 458.8 127.5 457.5 129.3 456.5 130.0 455.5 130.4 454.5 130.5 453.0 130.3 452.0 129.8 449.5 128.2 448.5 128.0 447.5 128.5 445.0 130.4 443.0 131.0ZM506.5 121.6 505.5 121.4 504.4 120.5 503.6 119.0 503.5 117.5 504.5 112.0 504.2 107.5 504.4 105.5 504.7 104.5 505.4 103.5 506.0 103.1 506.5 103.0 507.5 103.4 508.0 104.0 508.7 106.0 508.8 108.0 508.5 112.0 509.1 115.5 509.2 117.0 509.0 118.5 508.5 120.0 507.5 121.2 506.5 121.6ZM537.0 124.7 536.0 124.8 535.0 124.1 534.2 122.5 533.8 120.5 533.8 118.5 534.2 116.5 535.0 114.9 536.0 114.2 537.0 114.3 537.7 115.0 538.4 116.5 538.8 118.5 538.8 120.5 538.4 122.5 537.7 124.0 537.0 124.7ZM505.5 169.6 504.0 169.5 502.3 168.5 501.2 167.0 500.8 165.5 500.8 164.0 501.2 160.5 501.0 159.5 499.6 156.0 499.3 154.0 499.5 152.0 500.7 148.0 500.6 146.5 499.8 142.5 500.2 137.5 499.9 136.5 498.4 133.5 497.9 132.0 497.8 130.5 498.0 127.5 497.8 126.5 495.7 124.0 495.2 123.0 494.9 121.5 495.0 120.0 495.5 118.6 496.5 117.5 497.5 117.0 499.0 117.1 500.0 117.8 500.7 118.5 501.3 119.5 501.5 120.5 501.3 124.0 501.5 124.9 502.0 125.5 504.5 127.1 505.8 129.0 506.3 131.5 506.2 135.5 507.7 139.5 508.1 141.0 508.1 143.0 507.3 147.5 507.5 149.0 508.5 152.0 508.7 154.0 507.8 159.5 509.0 163.5 509.1 165.5 508.8 167.0 508.0 168.3 507.0 169.1 505.5 169.6ZM606.5 124.7 605.5 124.7 604.5 124.1 603.2 122.0 602.7 120.5 602.7 119.0 603.0 118.0 603.5 117.4 604.5 117.2 605.5 117.8 606.5 119.0 607.0 120.0 607.5 121.5 607.5 123.0 607.2 124.0 606.5 124.7ZM478.5 263.3 477.0 263.4 475.7 262.5 474.8 261.0 474.1 258.5 474.1 251.5 473.8 246.0 474.3 239.0 474.1 237.5 472.8 233.5 472.3 230.5 472.5 228.0 473.2 223.0 472.9 221.5 471.1 217.0 470.6 214.5 470.8 212.0 471.9 208.0 472.0 206.5 471.7 205.0 470.2 201.5 469.7 199.5 469.6 196.5 470.3 192.0 470.4 190.0 470.0 188.4 468.0 182.3 467.5 181.4 467.0 181.1 466.5 182.0 466.2 186.5 465.1 192.5 465.2 194.0 465.9 199.5 465.2 206.5 465.4 208.0 466.7 212.0 466.9 213.5 466.8 215.0 466.4 216.5 465.8 218.0 463.8 221.0 463.3 222.0 462.9 226.0 462.6 227.5 461.8 229.0 461.0 229.9 460.0 230.5 459.0 230.7 458.0 230.5 457.0 230.1 454.0 227.4 453.5 227.2 453.0 227.3 452.5 228.1 451.9 232.0 451.1 234.0 450.0 235.3 449.5 235.5 448.5 235.5 447.5 235.0 446.4 233.5 444.7 228.0 442.9 224.0 442.3 221.5 442.0 215.5 441.6 214.0 440.1 210.5 439.5 208.0 439.2 205.5 439.4 199.5 438.6 195.0 438.3 192.5 438.4 190.5 439.1 186.0 439.2 184.5 437.8 176.5 437.4 175.5 436.7 174.5 434.1 172.5 433.0 171.3 432.3 170.0 431.9 168.0 432.0 166.5 432.6 163.0 432.5 162.0 431.4 158.0 431.5 156.0 432.1 154.0 434.5 150.3 436.2 146.5 437.5 144.9 439.0 143.8 443.5 142.4 447.5 139.5 448.5 139.1 450.0 138.8 452.0 139.1 453.0 139.7 453.8 140.5 454.4 141.5 454.6 142.5 454.7 143.5 454.4 144.5 453.8 145.5 452.5 146.6 451.0 147.3 448.0 148.2 447.0 148.8 446.0 149.8 444.4 152.0 443.5 153.5 443.2 154.5 442.7 158.0 442.1 161.0 442.0 162.5 442.4 164.0 444.2 168.5 445.0 169.8 446.0 170.5 446.5 170.6 447.5 170.4 450.5 168.6 452.8 167.5 453.4 167.0 453.9 165.5 454.2 160.0 455.4 152.0 456.0 149.5 457.0 147.7 458.5 146.6 460.5 146.3 463.5 146.7 464.0 146.5 464.5 145.9 465.1 144.0 465.7 141.0 465.6 139.5 464.9 136.0 464.8 134.0 465.0 132.0 466.1 128.0 466.0 125.0 466.2 123.5 467.0 122.0 468.1 121.0 469.5 120.3 471.5 119.9 474.0 120.2 475.7 121.0 477.1 122.5 477.5 124.0 477.1 125.5 476.5 126.4 475.5 127.3 473.0 128.9 472.3 130.0 472.2 131.5 472.5 136.5 473.0 138.7 473.5 139.3 474.0 139.4 476.2 135.5 477.0 134.7 478.0 134.5 479.0 134.9 479.6 135.5 480.3 137.0 480.6 138.5 480.7 141.0 480.3 143.0 479.5 145.0 477.9 147.5 477.9 148.0 478.3 149.0 480.3 152.5 480.8 154.0 481.0 156.0 480.9 157.5 480.5 158.5 478.4 162.0 478.2 163.0 478.5 163.5 479.0 164.2 480.0 164.8 481.0 164.7 482.0 164.3 483.0 163.0 483.3 159.0 483.7 158.0 484.4 157.0 486.0 155.6 487.5 155.0 489.0 154.9 490.5 155.3 492.0 156.3 493.2 158.0 493.5 159.5 493.6 163.0 493.8 164.0 496.3 168.5 496.7 170.0 496.9 171.5 496.7 174.0 495.5 179.0 495.6 180.5 496.4 184.0 496.8 186.5 496.7 189.0 495.7 194.5 495.8 196.0 496.5 200.0 496.7 202.0 496.5 204.0 495.6 209.0 496.2 214.5 496.2 216.5 495.9 218.5 495.3 220.0 494.5 221.2 493.5 222.0 492.5 222.4 491.5 222.4 490.5 222.0 489.5 221.2 488.3 219.0 487.9 217.5 487.7 215.5 488.4 209.0 487.4 204.0 487.2 202.0 487.6 195.5 487.0 193.4 486.0 192.1 485.5 191.9 484.5 192.0 483.5 192.7 482.5 194.0 481.5 196.3 479.1 204.5 479.0 205.5 479.2 207.0 480.6 210.5 481.2 213.5 481.1 216.0 479.9 221.5 480.1 223.0 481.3 227.0 481.7 229.5 481.6 232.0 480.8 237.5 481.0 239.0 481.9 243.0 482.1 245.0 481.9 252.0 482.5 253.2 483.0 253.5 485.0 254.2 486.1 255.0 487.0 256.5 487.2 258.0 486.7 260.0 486.0 261.0 485.5 261.4 484.0 261.8 482.0 261.4 481.1 261.5 478.5 263.3ZM425.5 140.7 424.5 140.9 423.5 140.8 423.0 140.5 422.2 139.5 421.8 137.5 422.2 133.0 422.0 132.0 421.5 131.8 419.0 131.5 418.0 131.1 417.0 130.3 416.3 129.0 416.2 127.5 416.7 125.5 418.0 123.9 419.5 123.0 420.5 122.7 421.5 122.8 422.5 123.3 423.0 123.7 423.5 124.5 424.0 126.0 424.1 130.0 424.5 130.3 426.5 130.9 427.5 131.4 428.2 132.0 428.8 133.0 429.1 135.0 428.6 137.5 427.3 139.5 426.5 140.2 425.5 140.7ZM417.0 163.2 415.0 163.3 414.0 163.0 413.0 162.5 412.0 161.5 411.4 160.5 410.6 158.0 410.2 152.0 410.3 150.0 410.6 148.0 411.2 146.5 412.0 145.2 413.0 144.4 414.0 144.0 418.5 144.0 420.0 144.3 420.8 145.0 421.4 146.0 422.1 148.5 422.2 150.0 422.1 152.0 420.7 159.5 419.9 161.0 419.1 162.0 418.0 162.8 417.0 163.2ZM403.5 155.0 403.0 155.0 402.5 154.6 401.9 153.5 401.2 151.0 400.9 149.0 401.1 147.5 401.5 146.5 402.5 145.6 403.5 145.4 404.5 145.8 405.1 146.5 405.5 147.5 405.7 149.0 405.3 151.5 404.7 153.5 404.0 154.7 403.5 155.0ZM527.0 161.2 526.5 161.3 526.0 161.1 525.5 160.6 525.0 159.5 524.6 157.5 524.7 156.0 525.0 154.5 525.6 153.5 526.5 152.9 527.0 153.0 527.5 153.4 527.9 154.0 528.3 155.0 528.6 156.5 528.5 158.0 528.2 159.5 527.7 160.5 527.0 161.2ZM422.0 199.1 421.5 199.3 420.5 199.3 419.5 198.8 418.7 198.0 417.8 196.0 416.8 192.0 416.0 190.8 415.0 190.2 411.0 188.7 406.5 187.4 405.0 186.2 404.1 184.5 403.9 182.5 404.6 180.5 405.9 179.0 408.5 177.8 409.3 177.0 410.9 172.0 412.0 170.5 413.0 170.0 414.0 170.0 415.0 170.5 415.8 171.5 416.4 173.0 416.7 175.5 416.0 179.5 416.1 181.0 417.4 182.5 422.5 186.7 423.5 188.2 424.3 190.0 424.7 193.0 424.4 195.5 423.5 197.7 422.9 198.5 422.0 199.1ZM509.5 186.0 508.5 185.7 508.0 185.3 507.1 184.0 506.7 182.0 506.9 180.0 507.8 177.5 509.0 175.9 510.5 174.9 512.0 174.9 513.1 175.5 513.9 177.0 514.3 179.0 514.0 181.0 513.3 183.0 512.3 184.5 511.0 185.6 509.5 186.0ZM413.5 232.5 413.0 232.9 412.5 232.9 411.5 232.3 410.6 230.5 410.2 228.0 410.2 225.0 410.6 222.5 411.5 220.7 412.5 220.1 413.0 220.1 413.5 220.5 414.0 221.2 414.7 223.0 415.0 225.0 415.1 227.5 414.8 229.5 414.2 231.5 413.5 232.5ZM463.0 263.0 462.5 263.2 461.5 263.1 460.2 262.0 459.1 260.0 458.7 257.5 458.8 254.5 459.5 252.1 460.5 250.6 461.0 250.2 462.0 249.8 463.0 250.0 463.5 250.2 464.5 251.4 465.3 253.0 465.7 255.5 465.7 258.0 465.1 260.5 464.0 262.3 463.0 263.0ZM499.0 262.2 498.0 262.2 497.5 261.9 496.5 260.8 495.8 259.0 495.4 256.5 495.5 254.0 496.1 252.0 497.0 250.5 497.5 250.1 498.5 249.7 499.5 250.1 500.7 251.5 501.4 253.5 501.6 255.5 501.5 257.5 501.0 259.8 500.0 261.5 499.0 262.2ZM466.5 305.3 465.5 305.2 464.5 304.0 463.9 302.5 463.6 300.5 463.7 298.0 464.2 296.0 465.0 294.6 466.0 294.1 467.0 294.4 467.8 295.5 468.3 297.0 468.6 299.0 468.5 301.0 468.1 303.0 467.5 304.4 466.5 305.3Z" stroke-width="1.3"/>
<path d="M573.5 53.2 573.0 53.0 572.8 52.5 572.7 51.5 572.9 50.0 573.4 48.5 574.0 47.7 574.5 47.3 575.0 47.2 575.5 48.5 575.3 50.5 574.5 52.3 574.0 52.9 573.5 53.2ZM447.0 82.7 446.0 82.7 445.5 82.4 444.7 81.0 444.4 79.5 444.5 78.0 445.0 76.5 445.5 75.8 446.5 75.4 447.5 75.8 448.0 76.5 448.6 78.5 448.5 80.0 448.3 81.0 447.8 82.0 447.0 82.7ZM519.5 96.7 518.5 96.8 517.5 96.1 516.9 95.0 516.7 94.0 516.7 92.5 517.0 91.5 517.7 90.5 518.5 90.0 519.5 90.1 520.0 90.4 520.8 91.5 521.1 92.5 521.1 94.0 520.9 95.0 520.4 96.0 519.5 96.7ZM398.5 127.5 398.0 127.4 397.5 126.5 397.5 126.0 397.9 125.5 398.5 125.3 399.3 125.5 399.7 126.0 399.7 126.5 399.5 127.1 399.0 127.5 398.5 127.5ZM408.5 131.0 408.0 131.0 407.5 130.7 407.2 130.0 407.5 129.1 408.0 128.8 409.0 129.0 409.4 129.5 409.5 130.0 409.3 130.5 408.5 131.0ZM514.5 161.6 513.5 161.7 513.0 161.5 512.4 161.0 512.2 160.5 512.2 159.5 513.0 158.6 513.5 158.4 514.5 158.4 515.0 158.7 515.5 159.4 515.6 160.5 515.0 161.3 514.5 161.6ZM518.0 221.8 517.5 222.0 517.0 221.8 516.5 221.3 516.0 220.2 515.8 219.0 515.8 217.5 516.1 216.5 516.7 215.5 517.5 215.0 518.0 215.2 518.5 215.7 519.0 216.8 519.2 218.0 519.0 220.2 518.5 221.3 518.0 221.8ZM501.5 242.5 500.5 242.8 499.5 242.6 498.5 241.8 497.9 240.5 497.8 239.0 498.1 238.0 499.0 236.9 500.0 236.4 501.0 236.4 502.0 236.9 502.6 237.5 503.0 238.5 503.2 240.0 502.9 241.0 502.2 242.0 501.5 242.5Z" stroke-width="1.04"/>
<path d="M556.0 65.0 555.0 64.8 554.5 64.1 554.3 63.0 554.4 62.0 555.7 58.5 556.5 55.0 557.0 53.5 558.0 52.2 558.5 51.8 559.5 51.6 560.3 52.0 560.9 53.0 561.1 54.5 560.9 56.0 558.0 63.4 557.0 64.6 556.0 65.0ZM548.0 67.1 547.0 67.0 546.0 66.0 545.6 65.0 545.4 63.5 545.5 62.0 546.0 60.7 546.5 60.0 547.5 59.4 548.5 59.7 549.3 60.5 549.8 61.5 550.1 63.0 550.0 64.5 549.5 65.8 549.0 66.5 548.0 67.1ZM491.5 94.0 491.0 94.4 490.5 94.5 490.0 94.3 489.5 93.8 488.9 92.5 488.5 90.5 488.5 88.5 488.9 86.5 489.5 85.4 490.0 84.9 490.5 84.7 491.0 84.8 491.5 85.2 492.0 85.9 492.4 87.0 492.7 88.5 492.7 90.5 492.5 91.9 492.0 93.3 491.5 94.0ZM442.5 130.5 441.0 130.2 439.5 129.2 438.5 127.8 437.9 126.0 437.8 124.5 438.1 123.0 440.1 118.0 440.5 116.0 440.4 115.0 440.2 114.0 438.3 111.0 437.7 109.5 437.5 107.5 438.1 105.5 439.0 104.4 440.2 103.5 441.5 103.1 443.0 103.2 444.5 103.8 445.5 104.5 448.0 107.3 448.5 107.5 449.0 107.3 451.5 104.5 453.0 103.5 455.0 103.1 456.0 103.2 457.0 103.6 458.0 104.4 458.9 105.5 459.3 106.5 459.5 108.0 459.2 110.0 457.5 113.5 457.2 114.5 457.4 116.5 458.9 121.0 459.2 123.0 459.1 125.5 458.3 127.5 457.5 128.5 456.5 129.3 455.5 129.8 454.0 129.9 452.5 129.5 449.5 127.3 448.5 127.0 447.5 127.6 445.0 129.8 444.0 130.3 442.5 130.5ZM507.5 120.5 506.5 121.0 506.0 120.9 505.2 120.5 504.2 119.0 504.0 117.5 504.1 116.0 504.9 112.0 504.5 108.0 504.6 106.0 505.0 104.8 505.5 104.0 506.5 103.5 507.0 103.6 507.9 104.5 508.3 105.5 508.5 107.0 508.1 112.0 508.8 115.5 508.8 117.5 508.5 119.0 507.5 120.5ZM536.5 124.1 536.0 124.1 535.5 123.8 534.9 123.0 534.3 121.5 534.1 119.5 534.3 117.5 534.9 116.0 535.5 115.2 536.0 114.9 536.5 114.9 537.4 115.5 538.0 116.5 538.4 118.0 538.5 119.5 538.4 121.0 538.0 122.5 537.4 123.5 536.5 124.1ZM505.5 169.1 504.0 169.0 502.5 168.0 501.7 167.0 501.2 165.5 501.2 164.0 501.8 161.0 501.8 160.0 500.2 156.5 499.7 154.0 500.0 152.0 501.2 148.0 501.2 147.0 500.3 142.5 500.3 141.0 500.8 138.0 500.7 137.0 500.3 136.0 498.8 133.5 498.3 132.0 498.2 130.0 498.9 127.0 498.8 126.0 496.3 124.0 495.7 123.0 495.3 121.5 495.4 120.0 495.8 119.0 496.5 118.1 497.5 117.6 498.5 117.6 499.5 118.0 500.0 118.5 500.7 119.5 501.0 121.5 500.3 125.0 500.5 125.5 504.0 127.4 505.3 129.0 505.8 130.5 505.9 131.5 505.5 135.0 505.7 136.0 507.1 139.0 507.6 141.0 507.6 143.5 506.7 147.5 507.0 149.0 508.0 152.0 508.3 154.0 508.1 155.5 507.3 158.5 507.2 159.5 507.4 160.5 508.4 163.0 508.7 165.0 508.5 166.5 508.0 167.5 507.0 168.5 505.5 169.1ZM478.5 262.6 477.5 262.8 477.0 262.7 476.0 262.0 475.1 260.5 474.5 258.5 474.4 256.5 474.5 251.5 474.2 246.0 474.9 239.0 474.6 237.5 473.1 233.0 472.7 230.0 472.9 227.5 473.7 224.0 473.8 222.5 473.3 221.0 471.7 217.5 471.1 214.5 471.3 212.0 472.4 208.0 472.6 206.5 472.3 205.0 470.7 201.5 470.1 199.5 470.0 196.5 470.8 192.0 470.8 190.0 468.5 181.2 468.0 179.9 467.5 179.3 467.0 179.2 466.3 179.5 465.8 180.5 465.7 186.5 464.7 192.5 464.7 194.0 465.4 198.0 465.5 200.0 465.4 202.0 464.7 205.5 464.7 207.0 466.2 212.0 466.4 213.5 466.3 215.0 465.5 217.5 463.0 221.5 462.7 222.5 462.5 226.0 462.2 227.5 461.5 228.8 460.5 229.7 459.5 230.1 458.5 230.2 457.5 229.9 456.5 229.2 454.0 226.5 453.0 226.1 452.5 226.4 452.0 227.4 451.7 231.0 451.0 233.4 450.0 234.7 449.5 234.9 448.5 235.0 447.5 234.3 446.6 233.0 445.1 227.5 443.3 223.5 442.8 221.0 442.7 216.5 442.5 215.0 440.4 210.0 439.9 208.0 439.6 205.5 439.8 199.5 438.9 194.5 438.7 192.0 438.8 190.0 439.6 186.0 439.7 184.5 438.2 176.0 437.4 174.5 434.5 172.2 433.4 171.0 432.6 169.5 432.4 168.0 433.1 162.5 432.0 158.5 432.0 156.0 432.7 154.0 435.0 150.5 436.8 146.5 437.6 145.5 439.0 144.3 440.5 143.7 444.0 142.8 447.5 140.0 448.5 139.6 450.0 139.2 451.0 139.3 452.0 139.6 453.2 140.5 454.0 142.0 454.2 143.0 454.0 144.0 453.1 145.5 452.0 146.3 450.5 146.9 447.5 147.8 446.5 148.4 443.8 152.0 443.0 153.4 442.7 154.5 442.2 158.0 441.4 161.5 441.4 162.5 441.8 164.0 444.0 169.5 445.0 170.8 446.0 171.3 446.5 171.4 447.5 171.2 450.5 169.2 453.0 168.2 453.9 167.5 454.3 166.0 454.6 160.0 455.8 152.0 456.3 150.0 456.7 149.0 457.5 148.0 459.0 147.0 460.0 146.9 461.0 146.9 464.0 147.8 464.5 147.6 464.8 147.0 465.5 144.5 466.1 141.0 466.1 139.5 465.3 136.0 465.2 134.0 465.4 132.0 466.7 128.0 466.7 124.0 467.3 122.5 468.3 121.5 470.0 120.6 471.5 120.3 473.5 120.5 475.5 121.4 476.5 122.5 476.9 124.0 476.7 125.0 476.2 126.0 475.1 127.0 472.5 128.6 472.0 129.2 471.7 130.0 472.1 137.5 472.5 139.4 473.5 140.8 474.0 140.9 474.5 140.5 476.0 136.5 477.0 135.4 478.0 135.0 479.0 135.5 479.5 136.1 480.0 137.2 480.3 138.5 480.4 141.0 479.8 143.5 478.5 145.5 476.8 146.5 476.4 147.0 476.7 148.0 478.6 150.5 479.6 152.0 480.2 153.5 480.5 155.0 480.4 156.5 480.0 158.0 479.5 159.0 477.3 162.0 477.2 163.0 477.6 164.0 478.5 165.2 479.0 165.6 480.0 166.0 481.5 165.8 483.0 165.0 483.5 164.4 483.9 163.5 483.9 159.5 484.2 158.5 484.7 157.5 485.6 156.5 487.0 155.7 488.5 155.4 490.0 155.6 491.6 156.5 492.6 158.0 493.1 160.0 493.0 163.0 493.1 164.0 495.8 168.5 496.3 170.0 496.5 171.5 496.3 174.0 495.1 179.0 495.2 180.5 496.3 185.0 496.4 187.0 496.2 189.5 495.3 194.5 495.3 196.0 496.1 200.0 496.3 202.0 496.1 204.0 495.2 209.0 495.2 210.5 495.8 214.5 495.9 216.5 495.6 218.0 495.0 219.7 494.5 220.5 493.5 221.4 492.5 221.9 491.5 221.9 490.5 221.4 490.0 221.0 489.2 220.0 488.5 218.5 488.2 217.0 488.1 215.0 488.8 209.0 487.8 204.0 487.6 201.5 488.2 196.5 488.2 195.0 487.5 192.8 487.0 191.9 486.0 190.6 485.5 190.4 484.5 190.6 483.0 191.9 482.0 193.2 481.3 195.0 480.1 200.0 478.5 204.5 478.4 205.5 478.7 207.0 480.2 210.5 480.8 213.5 480.7 216.0 479.5 220.5 479.3 222.0 479.7 223.5 480.9 227.0 481.3 229.5 481.2 232.0 480.2 237.5 480.4 239.0 481.4 243.0 481.7 245.0 481.4 252.5 481.8 253.5 482.2 254.0 485.0 254.7 486.0 255.5 486.6 256.5 486.8 258.0 486.5 259.6 486.0 260.4 485.3 261.0 484.0 261.3 482.0 260.8 481.0 260.8 478.5 262.6ZM421.5 130.7 420.0 130.9 418.5 130.6 417.5 129.9 416.8 128.5 416.8 127.0 417.5 125.2 418.5 124.1 420.0 123.4 421.5 123.4 422.4 124.0 423.1 125.0 423.4 126.0 423.5 127.5 423.1 129.0 422.5 130.1 421.5 130.7ZM425.5 140.1 424.0 140.1 423.0 139.5 422.5 138.5 422.3 137.0 422.5 134.9 423.4 132.5 424.5 131.7 425.5 131.5 427.0 131.8 427.8 132.5 428.4 133.5 428.6 135.0 428.4 136.5 427.8 138.0 427.0 139.1 425.5 140.1ZM417.0 162.6 415.0 162.8 414.0 162.5 413.0 161.9 412.2 161.0 411.6 160.0 410.9 157.5 410.5 152.0 410.9 148.5 411.4 147.0 412.0 145.9 413.0 145.0 414.0 144.7 418.5 144.7 419.5 144.9 420.7 146.0 421.2 147.0 421.6 148.5 421.8 150.0 421.7 152.0 420.3 159.0 419.7 160.5 419.0 161.4 418.0 162.2 417.0 162.6ZM403.5 154.6 403.0 154.6 402.5 154.1 402.0 153.2 401.4 151.0 401.2 149.0 401.5 147.5 402.0 146.6 402.5 146.1 403.5 145.9 404.5 146.4 404.9 147.0 405.3 148.0 405.4 149.0 405.2 151.0 404.7 153.0 404.0 154.3 403.5 154.6ZM421.5 198.6 420.5 198.6 420.0 198.4 419.4 198.0 418.7 197.0 418.0 195.4 417.1 191.5 416.5 190.5 415.5 189.9 411.0 188.2 406.8 187.0 405.4 186.0 404.6 184.5 404.3 182.5 405.0 180.6 405.5 180.0 406.5 179.2 409.0 178.1 409.5 177.7 410.0 176.8 411.1 172.5 412.0 171.2 413.0 170.6 414.0 170.6 415.0 171.2 415.6 172.0 416.2 173.5 416.3 176.0 415.4 180.0 415.5 181.0 415.7 181.5 416.7 182.5 422.0 187.0 423.0 188.2 423.8 190.0 424.3 192.5 423.9 195.5 423.0 197.5 422.5 198.1 421.5 198.6ZM510.5 185.1 509.5 185.2 509.0 185.1 508.0 184.3 507.4 183.0 507.3 181.0 507.7 179.0 508.8 177.0 510.0 175.9 511.5 175.5 512.5 176.0 513.3 177.0 513.7 178.5 513.7 180.0 513.2 182.0 512.5 183.4 511.5 184.5 510.5 185.1ZM412.5 232.1 412.0 231.9 411.5 231.3 411.0 230.3 410.6 228.5 410.4 226.5 410.6 224.5 411.0 222.7 411.5 221.7 412.0 221.1 412.5 220.9 413.0 221.0 413.5 221.4 414.1 222.5 414.6 224.5 414.8 226.5 414.6 228.5 414.1 230.5 413.5 231.6 413.0 232.0 412.5 232.1ZM463.0 262.1 462.5 262.3 461.5 262.2 460.5 261.4 459.5 259.5 459.1 257.5 459.2 255.0 459.7 253.0 460.6 251.5 461.5 250.8 462.0 250.7 463.0 250.9 464.0 251.8 464.9 253.5 465.3 255.5 465.3 257.5 464.9 259.5 464.0 261.2 463.0 262.1ZM499.5 261.0 499.0 261.3 498.0 261.3 497.0 260.5 496.2 259.0 495.8 257.0 495.9 254.5 496.4 252.5 497.5 251.0 498.5 250.6 499.5 251.0 500.3 252.0 500.9 253.5 501.2 255.0 501.2 257.0 500.9 258.5 500.3 260.0 499.5 261.0ZM466.0 304.6 465.1 304.0 464.5 303.0 464.1 301.5 463.9 299.5 464.1 298.0 464.5 296.4 465.0 295.5 465.5 295.0 466.0 294.8 466.5 294.9 467.0 295.3 467.5 296.0 468.0 297.5 468.3 299.5 468.1 301.5 467.5 303.4 467.0 304.1 466.5 304.5 466.0 304.6ZM556.5 64.3 556.0 64.4 555.2 64.0 554.8 63.0 554.9 62.0 556.2 58.5 556.7 55.5 557.2 54.0 557.8 53.0 558.4 52.5 559.5 52.2 560.0 52.5 560.6 53.5 560.7 54.5 560.5 55.9 558.9 59.5 558.0 62.5 557.4 63.5 556.5 64.3ZM490.5 93.6 490.0 93.3 489.4 92.5 488.9 91.0 488.8 89.5 489.3 87.0 489.9 86.0 490.5 85.6 491.3 86.0 491.9 87.0 492.4 89.5 492.2 91.0 491.8 92.5 491.0 93.5 490.5 93.6ZM444.0 129.6 443.0 129.9 442.0 129.9 440.5 129.3 439.2 128.0 438.4 126.0 438.3 124.5 438.6 123.0 440.8 118.0 441.2 115.5 441.2 114.5 440.8 113.5 439.0 111.0 438.3 109.5 438.1 107.5 438.6 106.0 439.5 104.8 441.0 103.9 442.5 103.8 444.0 104.3 445.0 105.0 446.2 106.5 447.5 110.4 448.5 110.8 449.3 110.5 449.7 110.0 450.6 107.0 451.1 106.0 452.0 105.0 453.0 104.3 454.0 103.9 455.5 103.8 456.5 104.1 457.5 104.8 458.1 105.5 458.6 106.5 458.9 107.5 458.9 108.5 458.6 110.0 456.9 113.0 456.5 114.5 456.8 116.5 458.2 120.5 458.7 122.5 458.7 124.5 458.2 126.5 457.5 127.7 456.5 128.6 455.5 129.1 454.0 129.3 453.0 129.0 452.1 128.5 449.5 126.1 448.5 125.7 447.5 126.4 445.5 128.7 444.0 129.6ZM507.0 120.1 506.0 120.2 505.1 119.5 504.6 118.5 504.4 117.0 504.6 115.5 505.5 112.0 504.9 108.5 504.9 106.5 505.5 104.8 506.0 104.3 506.5 104.1 507.0 104.3 507.6 105.0 508.2 107.0 508.1 108.5 507.5 112.0 508.3 115.5 508.4 117.5 508.0 119.0 507.0 120.1ZM536.5 123.3 536.0 123.2 535.5 122.9 535.0 122.1 534.7 121.0 534.5 119.5 534.7 118.0 535.0 116.9 535.5 116.1 536.0 115.8 536.5 115.7 537.0 116.0 537.6 117.0 538.1 119.5 537.6 122.0 537.0 123.0 536.5 123.3ZM477.5 262.0 476.5 261.6 475.9 261.0 475.2 259.5 474.9 258.0 475.0 252.0 474.7 245.5 475.7 239.0 475.4 237.5 473.6 233.0 473.2 230.0 473.4 227.5 474.4 224.0 474.6 222.5 474.3 221.5 472.2 217.5 471.8 216.0 471.5 214.0 471.8 211.5 473.3 207.5 473.4 206.5 473.0 205.0 471.2 201.5 470.6 199.5 470.5 196.5 471.3 192.0 471.4 190.0 469.8 184.5 469.0 180.5 468.5 179.0 468.0 178.2 467.5 177.9 466.5 177.9 465.5 178.7 465.0 180.0 465.2 186.5 464.2 193.0 465.0 198.0 465.1 200.5 464.2 205.5 464.1 207.0 464.3 208.0 465.7 212.0 465.9 214.5 465.6 216.0 465.0 217.5 462.8 220.5 462.3 221.5 462.2 225.5 461.7 227.5 461.0 228.7 460.0 229.4 459.0 229.7 458.0 229.5 456.4 228.5 454.0 225.6 453.0 225.1 452.5 225.1 452.0 225.3 451.5 226.2 451.3 231.0 450.7 233.0 450.0 233.9 449.5 234.3 448.5 234.3 448.0 234.1 447.1 233.0 446.7 232.0 445.5 227.0 443.7 223.0 443.3 220.5 443.1 215.0 442.6 213.5 440.9 210.0 440.2 207.5 440.1 205.0 440.4 199.5 439.3 194.5 439.1 192.0 439.4 189.5 440.2 186.0 440.3 184.5 439.2 180.0 438.6 175.5 437.9 174.0 434.5 171.5 433.7 170.5 433.2 169.5 432.9 168.5 432.9 167.0 433.8 163.5 433.8 162.5 432.7 159.0 432.4 157.5 432.5 156.0 433.0 154.5 435.4 151.0 437.1 147.0 438.3 145.5 439.5 144.7 440.5 144.3 444.2 143.5 445.0 143.0 447.0 141.0 448.0 140.3 449.0 139.9 450.5 139.7 452.0 140.2 453.2 141.5 453.6 143.0 453.1 144.5 452.3 145.5 451.0 146.2 447.5 147.1 446.5 147.5 445.5 148.6 443.1 152.0 442.2 154.0 441.8 157.5 440.9 161.0 440.7 162.5 443.3 169.5 443.8 170.5 444.5 171.4 446.0 172.3 447.0 172.3 448.0 171.8 450.5 169.8 453.5 168.9 454.0 168.6 454.5 168.0 454.8 166.5 454.8 161.0 456.3 151.5 456.8 150.0 457.4 149.0 458.0 148.3 459.0 147.7 460.0 147.5 461.0 147.6 462.1 148.0 463.6 149.0 464.8 150.5 466.0 154.9 467.4 157.5 468.0 158.2 469.0 158.8 470.0 159.0 470.5 158.8 470.9 158.0 470.9 157.0 470.5 155.0 470.1 154.0 469.3 153.0 466.4 150.5 465.7 149.0 465.8 146.0 466.7 140.5 466.5 139.0 465.7 136.0 465.6 134.0 466.0 131.6 467.5 128.0 467.2 125.0 467.5 123.5 468.0 122.5 469.0 121.6 470.0 121.1 471.5 120.8 473.0 120.9 474.5 121.4 475.7 122.5 476.2 123.5 476.1 125.0 475.5 125.9 474.5 126.7 471.6 128.5 471.2 129.0 471.0 130.0 471.5 133.5 471.5 138.0 471.8 139.5 472.5 140.8 474.8 144.0 474.9 146.5 475.3 148.0 476.0 148.8 478.0 150.6 478.7 151.5 479.5 153.0 479.9 154.5 479.9 156.5 479.4 158.0 478.5 159.3 476.8 161.0 476.2 162.0 476.3 163.0 476.7 164.0 478.0 166.1 478.5 166.6 479.5 167.1 481.0 167.1 483.6 166.0 484.5 165.2 484.9 164.5 484.9 163.0 484.5 160.0 484.7 159.0 485.1 158.0 486.0 156.9 487.5 156.1 489.0 155.9 490.0 156.2 491.3 157.0 492.3 158.5 492.6 160.0 492.3 164.0 492.8 165.0 494.5 167.1 495.3 168.5 495.8 170.0 496.1 171.5 495.9 174.0 494.5 179.0 494.6 180.5 495.8 184.5 496.0 187.0 495.8 189.5 494.7 194.5 494.8 196.0 495.7 200.0 495.8 202.0 495.7 204.0 494.6 209.0 495.5 215.5 495.3 217.5 494.6 219.5 494.0 220.3 493.0 221.1 491.5 221.2 490.5 220.8 490.0 220.3 489.4 219.5 488.8 218.0 488.5 216.5 488.5 215.0 489.4 209.0 488.3 204.0 488.1 201.5 488.9 195.0 488.5 193.5 488.0 192.2 486.6 189.5 486.0 188.9 485.5 188.6 485.0 188.6 484.0 189.2 482.5 190.9 481.4 192.5 480.7 194.5 479.6 200.0 477.7 205.0 477.7 206.0 477.9 207.0 479.7 210.5 480.4 213.5 480.1 216.5 478.8 220.5 478.6 222.0 478.7 223.0 480.4 227.0 480.8 229.5 480.7 232.5 479.7 236.5 479.5 238.0 479.7 239.5 480.9 243.0 481.2 245.0 481.3 247.0 480.8 251.0 480.8 253.0 481.3 254.5 481.9 255.0 484.0 255.0 485.0 255.3 485.5 255.7 486.1 256.5 486.4 258.0 486.1 259.5 485.0 260.6 484.5 260.7 483.5 260.7 481.5 259.8 481.0 259.8 478.5 261.8 477.5 262.0ZM505.5 168.5 504.5 168.5 503.5 168.1 502.7 167.5 502.0 166.4 501.7 165.5 501.7 164.0 502.5 161.0 502.5 160.0 502.1 159.0 500.7 156.5 500.2 154.5 500.4 152.0 502.0 148.0 502.0 147.0 501.0 144.0 500.8 142.5 500.9 140.5 501.5 137.0 501.2 136.0 499.2 133.0 498.8 132.0 498.7 130.5 499.0 129.0 499.5 127.9 500.0 127.3 501.0 127.0 502.5 127.2 503.5 127.7 504.4 128.5 505.0 129.5 505.3 130.5 505.4 132.0 504.8 135.0 504.8 136.0 506.7 139.5 507.2 141.5 507.1 143.5 506.0 147.5 506.1 148.5 507.6 152.0 507.8 154.5 507.6 156.0 506.6 158.5 506.4 159.5 506.7 160.5 508.0 163.3 508.2 165.0 508.1 166.0 507.5 167.3 506.5 168.2 505.5 168.5ZM477.5 145.1 476.5 144.9 475.3 144.0 475.1 143.5 475.0 142.0 475.4 139.5 476.0 137.5 477.0 136.1 478.0 135.7 479.0 136.2 479.5 137.0 480.0 138.5 480.1 140.5 479.9 142.0 479.4 143.5 478.5 144.6 477.5 145.1ZM417.0 162.1 416.0 162.3 415.0 162.2 413.4 161.5 412.1 160.0 411.3 157.5 410.9 152.5 411.1 149.0 411.6 147.5 412.2 146.5 413.0 145.7 414.0 145.3 418.5 145.5 419.5 145.8 420.6 147.0 421.2 149.0 421.2 152.0 419.8 159.0 419.4 160.0 418.6 161.0 417.0 162.1ZM403.5 154.2 403.0 154.1 402.2 153.0 401.8 151.5 401.6 149.5 401.6 148.5 402.0 147.4 402.5 146.8 403.5 146.5 404.0 146.7 404.7 147.5 405.0 148.5 405.1 149.5 404.6 152.5 404.0 153.7 403.5 154.2ZM422.0 197.6 421.5 197.9 420.5 197.9 419.5 197.2 419.0 196.5 418.4 195.0 417.6 191.0 417.0 190.0 416.2 189.5 413.5 188.7 411.0 187.6 407.0 186.5 406.0 185.8 405.1 184.5 404.8 183.5 404.8 182.5 405.4 181.0 406.5 179.8 409.5 178.6 410.0 178.3 410.5 177.1 410.9 174.5 411.3 173.0 412.0 171.9 413.0 171.2 414.0 171.2 415.0 171.9 415.6 173.0 415.9 174.0 415.9 176.5 414.6 180.0 414.6 181.0 414.9 181.5 419.5 185.9 422.0 187.9 422.8 189.0 423.5 190.5 423.8 192.5 423.7 194.5 423.0 196.5 422.0 197.6ZM511.0 184.0 510.0 184.4 509.0 184.1 508.1 183.0 507.8 181.5 508.1 179.5 508.8 178.0 510.0 176.8 511.0 176.4 512.0 176.7 512.5 177.2 513.0 178.2 513.2 179.5 513.0 181.0 512.5 182.2 512.0 183.0 511.0 184.0ZM412.5 231.0 412.0 230.8 411.3 229.5 410.9 228.0 410.8 226.5 410.9 225.0 411.3 223.5 412.0 222.2 412.5 222.0 413.0 222.1 413.4 222.5 413.9 223.5 414.4 226.5 413.9 229.5 413.4 230.5 413.0 230.9 412.5 231.0ZM463.0 261.0 462.0 261.2 461.0 260.7 460.3 259.5 459.7 257.5 459.7 255.5 460.3 253.5 461.0 252.3 462.0 251.8 463.0 252.0 463.6 252.5 464.3 254.0 464.7 255.5 464.7 257.5 464.3 259.0 463.9 260.0 463.0 261.0ZM499.0 260.3 498.0 260.3 497.2 259.5 496.5 258.0 496.3 256.5 496.4 254.5 496.9 253.0 497.5 252.1 498.5 251.6 499.4 252.0 500.0 252.8 500.5 254.0 500.7 255.5 500.7 257.0 500.3 258.5 499.8 259.5 499.0 260.3ZM466.5 303.6 466.0 303.7 465.5 303.4 465.0 302.8 464.4 300.5 464.4 299.0 464.6 297.5 465.1 296.5 465.5 296.0 466.0 295.7 466.5 295.8 467.1 296.5 467.6 297.5 467.8 299.0 467.8 300.5 467.5 302.0 467.0 303.1 466.5 303.6ZM556.5 63.4 556.0 63.4 555.6 63.0 555.5 62.0 556.8 59.0 557.4 55.0 557.8 54.0 558.5 53.2 559.0 53.0 559.5 53.1 560.1 54.0 560.0 55.9 558.2 59.5 557.5 62.1 557.0 63.0 556.5 63.4ZM443.5 129.1 442.0 129.2 440.5 128.5 439.6 127.5 439.0 126.0 438.9 124.5 439.2 123.0 441.4 118.5 441.9 116.5 442.2 114.5 442.1 113.5 441.8 113.0 440.0 111.1 439.1 109.5 438.8 108.0 439.1 106.5 440.0 105.3 441.0 104.7 442.5 104.5 443.7 105.0 444.9 106.0 445.4 107.0 445.8 108.5 445.8 110.5 446.2 111.5 447.2 112.0 449.0 112.1 450.5 111.6 450.9 111.0 451.4 107.5 451.8 106.5 452.6 105.5 453.5 104.9 454.5 104.5 455.5 104.6 456.5 104.9 457.6 106.0 458.1 107.0 458.2 108.0 457.8 110.0 455.8 113.0 455.5 114.0 455.9 116.0 457.6 120.5 458.1 122.5 458.2 124.5 457.5 126.5 456.8 127.5 456.0 128.2 455.0 128.6 453.5 128.5 451.9 127.5 449.5 124.4 448.5 123.8 448.0 124.0 447.5 124.4 446.1 127.0 445.3 128.0 444.5 128.7 443.5 129.1ZM478.0 261.0 477.0 260.9 476.1 260.0 475.6 258.5 475.4 257.0 475.6 252.0 475.2 247.0 475.3 245.0 475.7 243.0 476.9 239.5 477.1 238.5 474.5 234.0 474.0 232.5 473.7 230.5 473.8 228.5 474.1 227.0 476.0 222.5 475.9 222.0 474.0 219.6 473.0 218.0 472.4 216.5 472.0 214.5 472.1 212.5 472.5 211.0 473.1 209.5 474.5 207.0 474.7 206.0 472.0 202.1 471.1 199.5 470.9 196.5 471.9 192.0 472.0 190.0 470.3 184.5 469.5 179.5 469.0 178.0 468.0 176.9 467.5 176.7 466.5 176.7 465.8 177.0 465.0 177.8 464.5 178.5 464.2 179.5 464.8 186.0 464.6 188.0 463.8 191.5 463.6 193.0 464.5 198.0 464.7 200.0 464.5 202.0 463.6 205.5 463.4 207.0 463.7 208.5 465.2 212.0 465.4 214.5 465.1 216.0 464.5 217.2 462.3 220.0 461.7 221.0 461.6 222.0 461.7 225.5 461.4 227.0 460.9 228.0 460.0 228.8 459.0 229.1 458.0 228.9 456.5 227.8 454.0 224.6 452.5 223.9 451.5 224.2 450.8 225.0 450.6 226.0 450.9 230.0 450.5 232.0 450.0 233.0 449.5 233.5 448.5 233.5 447.8 233.0 447.2 232.0 446.8 230.5 446.1 226.5 444.7 223.5 444.1 222.0 443.9 219.5 444.0 215.5 443.7 214.0 441.5 210.0 440.7 207.5 440.6 205.0 441.0 199.5 439.9 194.5 439.6 192.0 439.8 190.0 440.9 186.0 441.0 185.0 440.8 183.5 439.6 179.5 439.2 175.0 438.9 174.0 438.5 173.5 435.0 171.2 433.8 169.5 433.5 168.5 433.5 167.0 434.6 163.5 434.7 162.5 434.4 161.5 433.3 159.0 433.0 157.5 433.1 156.0 433.5 154.8 436.3 151.0 437.6 147.5 438.7 146.0 440.5 144.9 442.0 144.7 444.0 144.6 445.0 144.3 446.8 142.0 448.0 141.0 449.0 140.5 450.5 140.3 452.0 141.0 452.8 142.0 452.9 143.5 452.4 144.5 451.5 145.3 450.5 145.8 449.0 146.1 447.0 146.2 446.0 146.6 445.5 147.1 444.1 149.5 442.3 152.0 441.5 153.7 441.1 158.0 439.9 161.5 439.9 162.5 440.1 163.5 441.8 167.0 442.8 170.5 443.9 172.0 445.5 173.1 446.5 173.4 447.0 173.4 448.0 172.8 450.5 170.6 452.0 170.0 454.0 169.7 454.5 169.5 455.0 169.0 455.4 167.5 455.1 163.0 455.2 161.0 456.7 152.5 457.5 149.9 458.2 149.0 459.0 148.5 460.0 148.2 461.0 148.3 462.0 148.8 463.0 149.7 463.8 151.0 465.0 154.6 466.0 156.9 467.0 158.6 467.9 159.5 468.7 160.0 470.0 160.3 471.5 160.2 472.2 160.0 472.4 159.5 472.4 159.0 471.0 153.5 470.3 152.5 467.8 150.5 466.8 149.0 466.5 148.0 466.4 145.5 467.3 141.5 467.4 140.0 466.3 136.0 466.1 134.5 466.3 132.5 466.9 131.0 468.0 129.6 469.2 128.5 469.0 128.3 468.1 125.5 468.0 124.5 468.2 123.5 468.9 122.5 469.5 122.1 470.5 121.6 471.5 121.4 473.0 121.5 474.2 122.0 475.2 123.0 475.5 124.0 475.3 125.0 474.4 126.0 473.5 126.6 469.6 128.5 469.5 129.0 470.5 131.4 471.0 133.5 470.8 139.0 471.2 140.0 473.4 144.0 474.1 147.5 474.5 148.7 475.2 149.5 477.0 150.6 478.0 151.5 479.0 153.0 479.4 155.0 479.3 156.5 478.5 158.2 477.0 159.7 474.9 161.0 474.8 161.5 475.3 163.0 477.5 166.9 478.5 168.1 479.0 168.5 480.0 168.6 482.0 168.0 485.2 166.5 486.3 165.5 486.5 164.5 485.6 162.0 485.3 160.5 485.4 159.0 485.9 158.0 487.0 157.0 488.0 156.6 489.0 156.5 490.0 156.8 491.3 158.0 491.9 159.5 491.9 161.0 491.3 163.5 491.3 164.5 494.5 168.1 495.2 169.5 495.6 171.5 495.6 173.0 495.3 174.5 493.8 179.0 494.0 180.5 495.3 184.5 495.6 187.0 495.4 189.5 494.2 193.5 494.0 195.0 494.2 196.5 495.2 200.0 495.3 202.0 495.0 204.5 494.1 207.5 493.8 209.0 495.0 215.0 494.9 217.0 494.2 219.0 493.0 220.3 492.5 220.5 491.5 220.5 490.5 220.0 490.0 219.4 489.2 217.5 489.0 216.0 489.0 214.5 490.1 210.0 490.2 209.0 488.8 204.0 488.6 201.5 489.7 195.0 489.3 193.5 486.8 187.5 486.0 184.0 485.5 184.2 483.7 187.5 480.7 192.0 480.2 193.5 479.6 197.5 479.1 200.0 478.3 202.0 476.4 205.5 476.3 206.0 476.8 207.0 478.0 208.5 479.2 210.5 479.7 212.0 479.9 213.5 479.8 215.5 479.5 217.0 478.9 218.5 477.1 222.0 477.2 222.5 479.0 225.2 479.6 226.5 480.1 228.0 480.3 229.5 480.3 231.0 480.0 233.0 478.3 237.5 478.1 238.5 479.8 242.0 480.6 244.5 480.7 247.0 480.1 251.5 480.2 254.0 481.0 256.8 481.5 257.1 482.9 256.0 483.5 255.8 484.5 255.8 485.5 256.6 485.9 258.0 485.7 259.0 485.4 259.5 484.6 260.0 484.0 260.1 482.8 259.5 481.9 258.5 481.5 257.9 481.0 257.7 479.3 260.0 478.0 261.0ZM503.0 135.6 502.0 135.3 501.0 134.5 500.0 133.3 499.4 132.0 499.3 130.5 499.5 129.5 500.1 128.5 501.0 127.9 502.5 127.9 503.5 128.5 504.3 129.5 504.7 130.5 504.8 132.0 504.5 133.3 503.5 135.3 503.0 135.6ZM478.0 144.0 477.0 143.9 476.5 143.5 476.0 142.5 475.8 141.0 476.0 139.0 476.5 137.7 477.0 136.9 477.5 136.6 478.0 136.5 478.5 136.6 479.2 137.5 479.6 138.5 479.8 140.0 479.6 141.5 479.3 142.5 478.7 143.5 478.0 144.0ZM506.0 167.7 505.0 167.9 504.0 167.7 503.1 167.0 502.5 166.0 502.3 165.0 502.4 163.5 503.9 160.0 503.7 159.5 501.5 156.9 501.0 155.8 500.7 154.5 500.7 153.0 501.0 151.9 501.5 150.8 503.2 148.0 503.3 147.5 502.0 144.9 501.5 143.5 501.4 141.0 501.8 139.5 502.5 138.0 503.0 137.4 503.5 137.2 504.5 137.7 505.5 138.7 506.2 140.0 506.6 141.5 506.6 143.0 506.4 144.0 504.7 147.5 504.8 148.0 506.8 151.5 507.3 153.5 507.3 155.0 507.0 156.0 505.1 159.5 505.1 160.0 507.2 163.0 507.7 164.5 507.6 165.5 507.3 166.5 506.5 167.4 506.0 167.7ZM416.5 161.6 415.0 161.6 413.5 160.9 412.4 159.5 411.7 157.0 411.3 152.5 411.5 149.5 412.0 148.0 412.5 147.1 413.0 146.6 414.0 146.1 418.0 146.4 419.0 146.6 420.0 147.4 420.6 149.0 420.7 151.5 419.1 159.0 418.6 160.0 418.0 160.7 416.5 161.6ZM421.0 197.0 420.0 196.6 419.2 195.5 418.7 194.0 418.2 190.5 418.0 189.8 417.5 189.1 417.0 188.9 414.0 188.2 411.0 186.9 407.5 186.1 406.5 185.5 405.5 184.0 405.4 183.0 405.5 182.0 406.5 180.6 407.5 180.0 410.0 179.5 410.9 179.0 411.2 178.0 411.2 175.5 411.5 174.0 412.0 172.8 413.0 171.9 414.0 171.9 414.5 172.2 415.1 173.0 415.5 174.5 415.5 175.8 415.2 177.0 413.3 180.5 413.6 181.5 414.5 182.5 417.2 184.5 419.2 187.0 421.5 188.5 422.5 189.7 423.0 190.8 423.3 193.0 423.0 195.0 422.5 196.0 422.0 196.6 421.0 197.0ZM444.0 128.1 442.5 128.5 441.0 128.0 440.0 126.8 439.5 125.0 439.9 123.0 442.1 119.0 443.2 115.5 443.9 114.0 444.5 113.4 445.5 113.1 449.9 113.0 453.0 112.5 453.5 112.8 457.2 121.5 457.5 124.0 457.0 126.1 456.3 127.0 455.5 127.5 454.5 127.8 453.5 127.6 452.0 126.5 449.8 123.0 449.0 122.4 448.0 122.3 447.3 122.5 446.8 123.0 445.5 126.5 444.7 127.5 444.0 128.1ZM469.0 139.1 468.5 138.7 467.5 137.2 467.0 136.0 466.7 134.5 467.0 132.5 467.5 131.7 468.5 131.0 469.0 131.0 469.5 131.5 470.1 132.5 470.4 134.0 470.3 135.5 470.0 137.2 469.5 138.5 469.0 139.1ZM476.0 159.1 474.5 159.1 473.5 158.3 472.6 156.5 471.6 152.0 471.2 151.5 469.5 150.6 468.5 149.8 467.8 149.0 467.3 148.0 467.1 146.5 467.2 144.5 468.0 142.1 469.0 140.0 469.5 140.0 470.5 141.0 471.5 142.1 472.4 143.5 473.0 145.5 473.4 149.0 473.8 150.0 477.0 151.5 478.0 152.5 478.5 153.5 478.8 155.0 478.4 157.0 477.5 158.3 476.0 159.1ZM449.0 232.6 448.5 232.5 448.0 232.0 447.6 231.0 447.1 226.0 445.4 223.0 444.8 221.0 444.7 219.0 445.3 214.5 445.1 213.5 442.5 210.3 441.6 208.5 441.2 207.0 441.2 204.5 441.9 199.5 441.6 198.0 440.5 194.5 440.2 191.5 440.7 189.0 442.1 186.0 442.4 185.0 442.1 184.0 440.7 181.0 440.2 179.5 440.0 177.5 440.0 173.6 439.7 173.0 439.0 172.5 436.5 171.4 435.5 170.7 434.6 169.5 434.2 168.0 434.5 166.0 435.8 163.5 436.0 162.5 435.9 162.0 434.5 159.9 433.9 158.5 433.7 157.0 433.9 155.5 434.8 154.0 437.1 151.5 438.0 148.5 438.8 147.0 440.0 146.0 441.5 145.6 442.5 145.6 443.5 146.0 443.9 146.5 444.0 147.5 443.2 149.5 440.8 152.5 440.6 153.5 440.6 156.5 440.4 158.0 439.8 159.5 438.7 161.5 438.5 162.5 438.6 163.0 440.3 165.5 441.0 167.0 441.4 168.5 441.7 171.0 442.0 171.7 442.8 172.5 446.5 174.9 447.0 175.0 447.5 174.9 449.5 172.4 451.0 171.2 452.5 170.8 455.0 170.8 455.5 170.4 455.7 170.0 456.0 168.0 455.6 164.0 455.6 161.5 457.2 152.5 457.7 151.0 458.3 150.0 459.0 149.4 460.0 149.0 461.5 149.4 462.6 150.5 463.3 152.0 465.0 156.6 467.0 160.2 467.5 160.6 468.5 161.1 472.0 161.6 473.5 162.2 474.5 163.3 475.4 164.5 477.5 168.9 478.5 170.3 479.5 170.6 480.5 170.4 486.3 167.5 488.5 166.2 489.5 165.8 491.5 166.3 493.5 167.8 494.6 169.5 495.1 171.5 495.1 173.0 494.7 174.5 492.9 178.5 492.7 179.5 493.0 180.5 494.7 184.0 495.2 187.0 494.8 190.0 492.8 195.0 493.0 196.0 494.4 199.5 494.7 201.5 494.7 203.0 494.4 204.5 492.4 209.0 494.0 212.7 494.5 215.0 494.4 217.0 494.1 218.0 493.5 219.0 492.5 219.7 491.5 219.7 491.0 219.4 490.0 218.2 489.5 216.5 489.5 215.0 489.8 213.5 491.6 209.0 489.8 205.0 489.2 202.5 489.5 199.5 490.8 196.0 490.9 195.0 490.6 194.0 488.5 190.0 487.7 187.0 487.8 184.5 488.9 180.5 488.7 179.5 487.5 178.7 486.5 178.5 485.5 178.8 484.5 179.7 484.0 180.9 483.3 184.5 482.7 186.5 481.9 188.0 480.2 190.5 479.6 192.0 479.3 193.5 479.1 197.5 478.3 200.5 477.5 202.2 476.5 203.4 476.0 203.8 475.0 204.0 474.0 203.5 473.0 202.5 472.1 201.0 471.6 199.5 471.4 198.0 471.5 196.5 472.6 192.0 472.7 190.5 472.4 189.0 470.7 184.0 469.9 178.0 469.5 177.0 468.6 176.0 467.5 175.5 466.5 175.5 465.5 176.0 464.4 177.0 463.5 178.5 463.3 179.5 464.2 184.0 464.3 186.0 464.1 188.0 463.1 191.5 462.9 193.0 463.1 194.5 464.0 198.0 464.2 200.0 463.9 202.5 462.4 206.5 462.3 207.5 464.5 212.0 464.8 214.0 464.6 215.5 463.6 217.5 461.6 219.5 461.0 220.5 460.8 221.5 461.1 224.5 461.1 226.0 460.8 227.0 460.0 228.0 459.0 228.4 458.0 228.2 457.5 227.9 456.6 227.0 454.6 224.0 453.0 222.9 451.5 222.7 450.8 223.0 450.2 223.5 449.6 224.5 449.4 225.5 450.2 229.0 450.2 230.5 449.7 232.0 449.0 232.6ZM417.0 160.5 415.5 160.9 414.0 160.3 413.0 159.2 412.4 157.5 411.8 153.0 411.9 150.0 412.7 148.0 413.2 147.5 414.0 147.1 415.0 147.1 418.5 147.7 419.5 148.5 419.9 149.5 419.9 151.5 419.1 154.5 418.5 158.5 418.0 159.6 417.0 160.5ZM505.0 157.7 504.0 157.9 503.0 157.5 501.8 156.0 501.3 154.5 501.3 153.0 502.0 151.3 503.0 150.1 504.0 149.7 505.0 150.1 505.8 151.0 506.5 152.3 506.7 153.5 506.7 155.0 506.3 156.0 505.7 157.0 505.0 157.7ZM447.6 188.0 450.0 184.9 451.5 183.7 452.0 183.7 453.0 184.0 455.5 185.9 456.0 186.1 456.5 185.7 458.4 181.0 458.8 179.5 458.5 178.1 457.6 177.0 457.0 176.7 456.5 176.6 456.0 176.9 453.5 179.6 452.5 180.2 452.0 180.4 451.0 180.1 448.5 178.5 448.0 178.4 447.5 178.6 444.3 184.0 444.1 185.0 444.4 186.0 446.0 187.9 447.0 188.4 447.6 188.0ZM416.0 187.6 414.5 187.5 411.0 185.9 408.5 185.6 407.5 185.3 406.6 184.5 406.1 183.5 406.2 182.5 406.5 181.7 407.5 180.8 408.5 180.6 409.5 180.6 410.7 181.0 412.5 182.6 415.1 184.0 416.4 185.0 417.0 186.0 417.1 186.5 417.0 187.0 416.0 187.6ZM448.8 202.0 449.5 201.2 450.6 199.5 451.0 198.5 451.1 197.5 450.6 196.5 449.0 194.7 448.0 194.0 447.5 194.0 446.9 194.5 446.0 196.3 445.6 198.0 445.7 199.0 446.0 200.0 447.0 201.6 448.0 202.3 448.8 202.0ZM477.0 219.8 476.0 220.0 475.5 219.8 474.5 219.0 473.2 217.0 472.6 215.0 472.6 213.0 473.1 211.0 474.5 208.8 475.5 208.2 476.5 208.3 478.0 209.7 478.8 211.0 479.3 213.0 479.4 215.0 479.0 216.7 478.0 218.7 477.0 219.8ZM477.5 235.6 476.5 235.4 475.5 234.3 474.6 232.5 474.3 230.5 474.4 228.5 475.0 226.6 476.0 225.2 477.0 224.9 478.0 225.4 479.0 226.8 479.6 228.5 479.8 230.0 479.6 232.0 479.1 233.5 478.5 234.7 477.5 235.6ZM478.0 259.7 477.5 259.8 477.0 259.5 476.5 258.9 476.1 257.5 476.1 256.0 476.4 252.0 475.9 246.5 476.0 245.0 476.5 243.2 477.3 242.0 478.0 241.7 478.5 242.0 479.0 242.5 479.5 243.4 479.9 245.0 480.0 246.5 479.2 252.0 479.5 256.5 479.5 257.5 479.0 258.7 478.0 259.7ZM443.5 127.6 442.0 127.8 441.0 127.2 440.2 126.0 440.1 124.5 440.7 122.5 442.8 119.5 443.6 116.5 444.4 115.0 445.5 114.2 448.0 113.7 451.5 113.8 453.0 114.4 454.5 116.5 456.7 121.5 457.0 123.0 457.0 124.0 456.8 125.0 456.3 126.0 455.9 126.5 455.0 127.0 454.0 127.1 453.5 126.9 452.9 126.5 452.0 125.5 450.7 123.0 450.0 122.1 449.0 121.5 447.5 121.4 447.0 121.5 446.3 122.0 445.8 123.0 445.1 126.0 444.4 127.0 443.5 127.6ZM471.0 150.1 470.0 149.9 469.0 149.3 468.3 148.5 467.7 147.0 467.6 145.5 468.0 143.8 468.5 142.7 469.0 142.1 469.5 141.8 470.5 142.1 471.4 143.0 472.0 144.1 472.4 145.5 472.6 147.5 472.3 149.0 472.0 149.6 471.0 150.1ZM438.0 160.7 437.5 160.9 436.5 160.9 435.0 159.5 434.3 158.0 434.2 157.0 434.4 156.0 434.8 155.0 435.5 154.2 438.3 152.0 438.6 151.0 438.7 149.0 439.3 147.5 440.5 146.5 442.0 146.4 442.8 147.0 443.0 148.0 442.6 149.0 442.0 149.9 439.6 152.0 439.5 153.0 440.0 156.0 439.9 157.5 439.1 159.5 438.0 160.7ZM416.5 160.0 415.0 160.2 414.0 159.6 413.2 158.5 412.8 157.0 412.2 153.0 412.3 150.5 413.0 148.6 414.0 147.9 415.0 147.9 418.0 148.7 418.5 149.0 419.1 150.0 419.0 151.5 418.1 154.5 418.0 158.0 417.5 159.1 416.5 160.0ZM459.5 227.6 458.5 227.8 457.5 227.2 455.0 223.5 454.0 222.7 452.5 221.9 451.5 221.7 450.5 221.8 448.0 223.8 447.0 223.5 446.0 222.3 445.5 221.0 445.4 219.5 445.5 218.1 446.0 216.5 446.5 215.8 447.0 215.4 449.0 215.1 450.0 214.7 450.9 213.5 451.1 212.0 450.8 211.0 450.0 209.7 449.0 208.3 448.5 207.9 448.0 208.1 446.5 210.3 445.5 211.2 445.0 211.2 444.0 210.9 443.0 209.9 442.5 209.2 441.8 207.5 441.6 205.0 442.0 202.6 442.8 200.0 442.9 199.0 441.0 194.5 440.7 192.0 441.0 190.0 441.5 188.7 442.0 187.9 443.0 187.1 443.5 187.1 444.5 187.8 446.3 190.0 446.8 191.0 446.8 192.0 444.6 197.5 444.4 199.0 444.8 200.0 446.5 202.5 447.5 203.8 448.0 204.1 448.5 204.0 451.0 200.2 452.5 198.7 453.5 198.8 455.5 199.7 456.0 199.7 456.5 199.5 457.0 198.9 458.6 195.5 459.2 194.0 459.3 192.5 457.3 188.5 457.2 187.0 457.9 184.0 459.8 179.5 459.8 178.5 459.5 178.0 458.0 176.0 457.0 175.1 456.5 174.9 456.0 175.1 454.4 177.5 453.5 178.5 452.5 179.1 451.5 179.2 450.5 178.7 449.6 178.0 448.9 177.0 448.6 176.0 448.8 175.0 449.5 173.5 450.3 172.5 451.0 171.9 452.5 171.5 455.5 172.3 456.0 171.9 456.4 170.5 456.6 169.0 455.8 163.5 456.0 160.5 458.0 151.5 459.0 150.1 460.0 149.7 461.0 149.9 462.2 151.0 462.7 152.0 464.6 157.0 466.0 159.9 467.0 161.3 468.0 161.8 472.0 162.3 473.0 162.7 474.4 164.0 475.9 166.5 477.5 171.0 478.5 172.2 479.5 172.6 480.5 172.3 482.8 170.5 484.4 169.5 488.5 167.3 489.5 166.9 490.5 166.9 492.0 167.3 493.5 168.5 494.3 170.0 494.7 172.0 494.6 173.5 494.0 175.3 493.0 176.9 491.5 178.6 491.0 178.9 490.5 178.8 488.0 177.5 486.0 177.1 484.5 177.4 483.5 178.2 483.0 179.6 482.6 183.5 482.2 185.5 481.3 187.5 479.6 190.0 478.9 191.5 478.7 193.0 478.7 197.0 478.2 199.5 477.6 201.0 477.0 202.0 476.0 202.9 475.5 203.1 474.5 203.0 473.5 202.3 472.5 200.8 471.9 199.0 471.8 197.5 471.9 196.0 473.1 192.0 473.3 190.5 472.9 189.0 471.7 186.0 471.0 184.0 470.7 182.0 470.5 178.0 470.0 176.5 469.5 175.9 468.5 175.2 467.5 174.8 466.5 174.7 465.0 175.5 462.8 178.0 462.3 179.0 462.3 179.5 463.6 183.5 463.9 186.0 463.6 188.5 462.3 192.0 462.1 193.0 462.3 194.0 463.4 197.0 463.7 198.5 463.8 200.5 463.6 202.0 462.5 204.7 461.5 205.9 461.0 206.2 460.5 206.3 458.5 205.6 458.0 205.6 457.5 205.9 456.8 207.5 456.3 209.5 456.5 210.6 457.0 211.0 457.5 211.1 458.5 210.7 460.5 209.2 461.5 209.0 462.5 209.6 463.2 210.5 464.0 212.0 464.3 213.0 464.2 215.0 463.6 216.5 462.8 217.5 460.6 219.5 460.1 220.5 460.1 221.5 460.6 224.0 460.7 225.5 460.2 227.0 459.5 227.6ZM440.0 171.3 438.5 171.4 437.0 171.0 435.6 170.0 435.0 169.0 434.7 167.5 435.0 166.4 436.0 164.8 437.0 164.0 438.0 164.1 439.0 164.8 439.9 166.0 440.4 167.0 440.7 168.0 440.8 169.5 440.5 170.8 440.0 171.3ZM443.5 182.8 443.0 182.9 442.0 182.2 441.0 180.5 440.6 179.0 440.5 177.5 440.7 175.5 441.3 174.0 442.0 173.6 443.0 173.7 444.5 174.5 445.6 175.5 446.4 177.0 446.3 178.5 445.5 180.5 444.5 182.0 443.5 182.8ZM492.5 193.1 492.0 193.3 491.5 193.3 491.0 192.9 490.0 191.8 489.0 189.9 488.3 187.5 488.3 185.5 488.8 183.5 490.0 181.3 491.0 180.4 491.5 180.4 492.0 180.7 493.5 182.5 494.3 184.0 494.8 186.0 494.8 188.0 494.4 190.0 493.5 191.8 492.5 193.1ZM452.5 196.1 451.5 195.9 450.0 194.6 448.3 192.5 447.6 191.5 447.6 191.0 448.2 189.0 449.5 186.5 451.0 185.0 452.0 184.7 453.0 185.0 454.3 186.0 455.4 187.5 455.8 189.0 455.4 191.5 454.6 193.5 453.5 195.4 452.5 196.1ZM492.0 206.6 491.5 206.5 490.5 205.2 490.0 204.0 489.7 202.0 489.9 200.0 490.5 198.5 491.5 197.2 492.0 197.1 492.5 197.3 493.5 198.7 494.0 200.0 494.3 202.0 494.0 203.9 493.5 205.2 493.0 206.0 492.5 206.5 492.0 206.6ZM476.5 219.0 475.5 218.9 474.3 218.0 473.5 216.5 473.0 214.5 473.1 212.5 473.9 210.5 475.0 209.3 476.0 209.1 477.0 209.5 478.0 210.5 478.7 212.0 479.0 213.5 478.9 215.5 478.4 217.0 477.5 218.4 476.5 219.0ZM492.0 219.1 491.0 218.7 490.5 218.0 490.1 217.0 489.9 215.5 490.0 214.5 490.5 212.9 491.0 212.0 491.5 211.5 492.0 211.3 492.5 211.5 493.0 212.0 493.5 212.9 494.0 214.5 494.1 215.5 493.9 217.0 493.5 218.0 493.0 218.7 492.0 219.1ZM478.0 234.0 477.5 234.3 477.0 234.4 476.0 233.8 475.2 232.5 474.8 231.0 474.8 229.0 475.3 227.5 476.0 226.4 477.0 226.0 478.0 226.5 478.5 227.1 479.0 228.3 479.2 229.5 479.1 232.0 478.5 233.4 478.0 234.0ZM478.0 251.1 477.5 250.8 477.0 249.4 476.6 246.5 477.0 244.3 477.5 243.6 478.0 243.4 478.5 243.6 479.0 244.4 479.3 246.5 479.0 248.8 478.0 251.1ZM442.5 127.0 441.5 126.6 441.0 126.0 440.7 125.0 440.8 124.0 441.3 123.0 442.0 122.1 444.1 120.5 444.2 117.5 444.5 116.5 445.0 115.7 445.5 115.2 446.5 114.7 448.5 114.4 451.0 114.5 452.5 115.2 453.9 117.0 456.0 121.5 456.4 123.0 456.3 124.0 455.8 125.5 455.2 126.0 454.5 126.2 453.5 126.0 452.6 125.0 451.4 122.5 450.5 121.4 449.5 120.8 448.5 120.5 446.2 120.5 444.7 121.0 444.8 124.0 444.5 125.5 443.5 126.7 442.5 127.0ZM416.0 159.2 415.0 159.2 414.5 158.9 413.8 158.0 413.3 156.5 412.9 153.5 412.8 151.5 413.1 150.0 413.5 149.3 414.0 148.9 415.0 149.0 415.9 149.5 416.8 150.5 417.0 151.0 416.8 154.0 417.1 157.5 416.8 158.5 416.0 159.2ZM475.5 202.2 474.5 202.1 473.5 201.4 472.9 200.5 472.4 199.0 472.2 197.5 472.4 196.0 473.9 192.0 474.1 190.5 473.8 189.5 472.1 186.0 471.4 184.0 471.1 181.5 471.0 177.5 470.6 176.0 470.0 175.3 468.8 174.5 467.5 174.0 466.5 173.9 465.0 174.6 462.0 177.2 461.0 177.5 460.0 176.9 458.7 175.5 457.6 174.0 457.3 173.0 457.0 168.5 456.2 163.5 456.2 161.0 458.5 152.0 459.0 151.1 460.0 150.6 461.0 150.8 462.0 152.0 463.7 156.5 465.8 161.0 466.4 162.0 467.5 162.5 471.5 162.8 472.5 163.1 473.7 164.0 474.9 165.5 475.6 167.0 476.1 169.0 476.6 171.5 477.0 172.7 478.0 173.8 480.6 175.5 481.3 176.5 481.6 178.0 481.8 181.0 481.6 184.5 480.6 187.0 478.5 190.0 477.9 191.5 478.2 196.5 478.1 198.0 477.7 199.5 476.6 201.5 475.5 202.2ZM491.5 177.1 490.5 177.3 489.5 177.0 486.5 175.6 484.0 174.9 483.4 174.5 483.1 174.0 483.1 173.5 483.4 172.5 484.7 171.0 488.2 168.5 490.0 167.8 491.5 167.8 492.7 168.5 493.8 170.0 494.2 171.5 494.1 173.5 493.6 175.0 492.5 176.4 491.5 177.1ZM461.0 191.8 460.5 191.7 460.0 191.3 458.7 189.5 458.2 188.0 458.0 186.5 458.3 184.5 459.0 182.8 460.0 181.3 461.0 180.7 461.5 180.8 462.0 181.3 462.7 182.5 463.3 184.0 463.5 186.0 463.2 188.0 462.7 189.5 462.0 190.8 461.0 191.8ZM492.0 192.1 491.0 191.8 490.0 190.7 489.2 189.0 488.8 187.0 488.9 185.5 489.5 183.6 490.5 182.3 491.5 181.9 492.5 182.3 493.5 183.5 494.1 185.0 494.4 186.5 494.3 188.5 493.8 190.0 493.0 191.4 492.0 192.1ZM452.5 194.7 451.5 194.7 450.0 193.5 449.1 192.0 448.8 190.5 449.2 188.5 450.0 187.0 451.0 186.0 452.0 185.6 453.0 185.9 454.1 187.0 454.7 188.0 455.0 189.5 454.7 191.5 454.1 193.0 453.5 194.0 452.5 194.7ZM443.5 196.3 443.0 196.2 442.0 195.1 441.5 193.9 441.3 192.5 441.4 191.0 441.7 190.0 442.4 189.0 443.0 188.6 443.5 188.6 444.5 189.3 445.2 190.5 445.5 191.5 445.4 193.0 445.0 194.3 444.4 195.5 443.5 196.3ZM459.5 226.7 459.0 227.0 458.0 226.7 457.3 226.0 455.7 223.0 454.5 222.1 452.0 220.6 451.0 220.2 450.0 220.1 448.5 221.2 447.5 221.5 446.9 221.0 446.5 219.5 446.7 218.5 447.5 217.6 449.5 217.3 450.5 216.5 452.2 214.0 452.8 212.5 452.6 211.5 450.4 208.5 449.6 206.5 449.6 204.5 450.5 202.2 451.5 200.8 452.5 200.1 453.0 200.0 454.0 200.2 456.5 201.5 457.0 201.2 459.0 196.3 460.0 194.8 460.5 194.3 461.0 194.3 462.0 195.3 463.2 198.0 463.4 200.5 462.9 202.5 462.0 204.2 461.0 204.9 460.0 204.8 457.5 203.6 457.1 204.0 454.8 211.0 454.9 211.5 455.5 212.1 456.5 212.6 457.5 212.6 458.5 212.2 460.5 210.6 461.5 210.4 462.5 210.9 463.1 211.5 463.5 212.5 463.7 214.5 463.2 216.0 462.4 217.0 460.0 218.7 459.2 220.0 459.1 221.5 460.1 225.0 459.9 226.0 459.5 226.7ZM445.0 209.7 444.0 209.6 443.3 209.0 442.5 207.6 442.2 206.5 442.2 205.0 442.5 203.5 443.0 202.3 443.5 201.7 444.0 201.6 444.5 201.7 445.5 202.7 446.3 204.0 446.8 205.5 446.8 206.5 446.4 208.0 445.9 209.0 445.0 209.7ZM476.5 218.1 475.5 218.0 474.5 217.2 473.8 216.0 473.5 214.5 473.5 213.0 474.0 211.5 475.0 210.3 476.0 210.0 477.0 210.4 477.6 211.0 478.2 212.0 478.5 213.5 478.5 215.0 478.0 216.5 477.5 217.4 476.5 218.1ZM455.0 124.6 454.5 124.9 454.0 124.8 453.5 124.5 452.2 121.5 451.2 120.5 450.0 120.0 447.0 119.3 446.0 118.9 445.5 118.2 445.4 117.5 445.7 116.5 446.1 116.0 447.5 115.3 449.0 115.1 450.5 115.3 452.0 116.1 453.1 117.5 455.2 122.0 455.4 123.5 455.0 124.6ZM476.5 190.3 476.0 190.5 475.0 189.7 473.5 187.6 472.2 185.0 471.7 183.5 471.5 181.5 471.7 176.5 471.4 175.5 470.9 175.0 467.5 173.1 466.0 172.9 465.0 173.5 462.5 175.7 461.5 176.1 461.0 176.1 459.5 175.2 458.4 173.5 458.0 172.0 457.6 168.5 456.6 164.5 456.5 162.0 456.8 160.0 458.9 153.0 459.5 152.1 460.0 151.8 460.8 152.0 461.5 152.8 464.2 159.0 465.5 162.4 466.0 163.2 467.0 163.6 470.0 163.2 471.5 163.4 473.0 164.1 474.0 165.1 474.8 166.5 475.3 168.0 475.6 169.5 475.7 172.5 476.0 173.5 476.8 174.5 479.2 176.5 480.2 178.0 480.7 179.5 481.0 181.5 480.9 183.5 480.6 185.0 480.0 186.5 479.0 187.9 476.5 190.3ZM491.5 176.0 490.5 176.2 488.8 175.5 486.9 174.0 486.4 173.0 486.4 172.0 487.3 170.5 489.0 169.0 490.5 168.5 491.5 168.6 492.5 169.2 493.2 170.0 493.7 171.5 493.7 173.0 493.1 174.5 492.5 175.4 491.5 176.0ZM461.0 190.1 460.5 190.0 460.0 189.7 459.5 189.1 459.0 188.0 458.7 186.5 458.9 185.0 459.4 183.5 460.0 182.7 461.0 182.2 461.5 182.3 462.0 182.7 462.5 183.5 462.8 184.5 463.0 186.0 462.4 188.5 461.8 189.5 461.0 190.1ZM492.5 190.7 491.5 190.9 490.5 190.1 489.8 189.0 489.5 187.5 489.5 186.0 489.9 184.5 490.5 183.6 491.5 183.1 492.5 183.4 493.0 183.9 493.6 185.0 493.9 186.5 493.9 188.0 493.6 189.0 493.0 190.2 492.5 190.7ZM476.0 201.0 475.0 201.3 474.0 200.9 473.1 199.5 472.7 197.5 473.1 195.5 474.0 193.6 475.0 192.3 475.5 191.9 476.0 191.9 476.5 192.5 477.2 194.0 477.6 195.5 477.7 197.0 477.5 198.4 477.1 199.5 476.6 200.5 476.0 201.0ZM461.0 203.7 460.0 203.6 459.1 203.0 458.5 202.0 458.3 201.0 458.5 199.5 459.2 197.5 460.0 196.4 460.5 196.0 461.0 196.0 461.8 196.5 462.4 197.5 462.7 198.5 462.9 200.0 462.7 201.5 462.3 202.5 461.5 203.5 461.0 203.7ZM453.5 209.5 452.5 209.4 451.5 208.5 450.6 207.0 450.3 205.5 450.5 204.0 451.2 202.5 452.0 201.5 453.0 201.1 454.0 201.3 454.9 202.0 455.5 203.0 455.8 204.0 455.7 205.5 455.1 207.5 454.5 208.6 453.5 209.5ZM457.0 221.8 456.0 221.6 454.5 221.0 452.5 219.5 452.2 219.0 451.9 218.0 452.0 217.0 452.4 216.0 453.0 215.0 454.0 214.1 455.0 213.9 457.0 214.1 458.0 214.0 458.5 213.8 460.5 212.0 461.5 211.7 462.0 211.9 462.6 212.5 463.0 213.5 462.9 214.5 462.6 215.5 461.5 216.5 460.0 217.1 459.0 217.9 458.3 219.0 457.5 221.2 457.0 221.8ZM476.5 188.5 475.5 188.4 474.0 187.2 473.0 185.7 472.3 184.0 472.0 182.0 472.0 180.2 473.0 175.5 473.0 175.0 472.5 174.5 469.5 173.2 467.0 171.9 466.0 171.6 465.0 172.0 462.7 174.5 461.5 175.0 460.5 174.8 460.0 174.4 459.1 173.0 458.2 168.5 457.0 164.5 456.9 162.0 457.6 159.0 459.5 154.7 460.0 154.1 460.5 154.0 461.0 154.5 463.3 158.5 464.3 161.0 465.0 164.2 465.5 165.1 466.0 165.2 466.5 165.1 469.0 164.0 471.0 163.9 472.0 164.2 473.0 164.8 474.2 166.5 474.8 168.0 474.9 169.5 474.8 171.0 474.2 174.0 474.4 174.5 477.0 176.0 478.7 177.5 479.7 179.5 480.1 181.5 480.0 184.0 479.3 186.0 478.0 187.7 476.5 188.5ZM462.0 173.5 461.0 173.6 460.5 173.3 459.9 172.5 458.9 168.5 457.6 165.0 457.3 163.5 457.4 161.5 458.0 159.4 459.5 157.0 460.0 156.6 460.5 156.5 461.5 157.2 462.8 159.0 463.5 161.0 463.9 163.0 464.2 170.0 463.4 172.0 462.7 173.0 462.0 173.5ZM473.0 172.5 472.5 172.8 471.5 173.0 470.0 172.6 468.1 171.5 466.7 170.0 466.3 169.0 466.5 167.5 467.4 166.0 468.5 165.1 470.0 164.6 471.5 164.7 472.5 165.2 473.6 166.5 474.1 168.0 474.3 169.5 473.8 171.5 473.0 172.5ZM477.0 187.1 476.0 187.3 475.5 187.2 474.5 186.6 473.5 185.4 472.7 183.5 472.5 181.5 472.7 179.5 473.5 177.6 474.5 176.7 475.0 176.6 476.0 176.8 477.3 177.5 478.5 178.9 479.1 180.5 479.4 182.5 479.0 184.5 478.3 186.0 477.0 187.1ZM461.5 171.2 461.0 170.9 458.5 165.7 458.0 164.3 457.8 163.0 457.9 161.5 458.5 159.8 459.5 158.5 460.5 158.2 461.5 158.7 462.1 159.5 462.8 161.0 463.1 162.5 463.0 164.5 462.2 170.0 462.0 170.7 461.5 171.2ZM476.5 186.0 475.5 186.0 474.5 185.4 473.8 184.5 473.3 183.0 473.2 181.0 473.5 179.6 474.0 178.7 475.0 178.0 476.0 178.0 477.0 178.6 478.0 180.0 478.5 181.5 478.5 183.0 478.0 184.5 477.5 185.3 476.5 186.0Z" stroke-width="0.95"/>
<path d="M562.5 30.5 562.0 30.5 561.5 30.0 561.1 29.0 561.1 27.5 561.5 26.0 562.0 25.0 562.5 24.5 563.0 24.3 563.5 24.4 564.0 24.9 564.3 26.0 564.3 27.0 564.0 28.5 563.6 29.5 563.0 30.2 562.5 30.5ZM574.0 52.2 573.5 52.3 573.3 52.0 573.2 50.5 573.7 49.0 574.0 48.4 574.5 48.1 575.0 48.5 575.0 50.0 574.5 51.5 574.0 52.2ZM447.0 82.0 446.5 82.1 446.0 82.0 445.5 81.6 445.0 80.5 444.8 79.5 444.9 78.0 445.3 77.0 446.0 76.2 446.5 76.1 447.0 76.2 447.5 76.6 447.9 77.5 448.2 78.5 448.0 80.5 447.5 81.5 447.0 82.0ZM519.5 96.1 518.5 96.2 518.0 95.9 517.4 95.0 517.1 94.0 517.1 93.0 517.3 92.0 517.9 91.0 518.5 90.6 519.0 90.6 519.8 91.0 520.6 92.5 520.6 94.5 520.1 95.5 519.5 96.1ZM606.0 124.1 605.5 124.1 604.5 123.4 603.4 121.5 603.1 119.5 603.4 118.5 604.0 117.9 604.5 117.9 605.5 118.4 606.3 119.5 606.8 120.5 607.1 122.0 607.0 123.0 606.5 123.9 606.0 124.1ZM399.0 127.1 398.5 127.2 398.0 126.9 397.8 126.5 398.0 125.9 398.5 125.6 399.0 125.7 399.3 126.0 399.4 126.5 399.0 127.1ZM408.5 130.7 408.0 130.6 407.5 130.0 407.6 129.5 408.0 129.2 408.5 129.1 409.0 129.5 409.0 130.3 408.5 130.7ZM469.3 156.5 469.4 155.5 469.0 154.6 468.4 154.0 467.5 153.6 467.2 154.0 467.6 155.5 468.5 156.6 469.0 156.8 469.3 156.5ZM527.0 160.4 526.5 160.5 526.0 160.3 525.5 159.6 525.0 157.5 525.1 156.0 525.3 155.0 526.0 154.0 526.5 153.7 527.0 153.8 527.5 154.3 528.0 155.4 528.2 156.5 528.0 158.8 527.5 159.9 527.0 160.4ZM514.5 161.1 513.5 161.2 512.7 160.5 512.8 159.5 513.2 159.0 514.0 158.8 514.5 158.9 515.1 159.5 515.1 160.5 514.5 161.1ZM518.0 221.1 517.5 221.3 516.9 221.0 516.5 220.5 516.1 219.0 516.2 217.5 516.5 216.5 517.0 215.9 517.5 215.7 518.0 215.9 518.5 216.5 518.9 218.0 518.7 220.0 518.0 221.1ZM501.5 242.0 500.5 242.4 499.5 242.1 498.8 241.5 498.3 240.5 498.1 239.5 498.5 238.1 499.0 237.4 500.0 236.9 501.0 236.9 501.5 237.1 502.1 237.5 502.7 238.5 502.8 239.5 502.7 240.5 502.1 241.5 501.5 242.0ZM562.5 29.6 562.0 29.4 561.7 29.0 561.6 27.5 562.0 26.0 562.5 25.4 563.0 25.2 563.5 25.5 563.7 26.0 563.8 27.5 563.2 29.0 562.5 29.6ZM548.5 66.2 548.0 66.4 547.0 66.2 546.3 65.5 545.9 64.0 545.9 62.5 546.2 61.5 546.8 60.5 547.5 60.2 548.5 60.4 549.0 61.0 549.6 62.5 549.5 64.5 549.1 65.5 548.5 66.2ZM447.0 81.1 446.5 81.2 446.0 81.1 445.5 80.3 445.3 79.5 445.5 77.9 446.0 77.2 446.5 77.0 447.0 77.2 447.3 77.5 447.6 78.5 447.6 80.0 447.0 81.1ZM519.5 95.2 519.0 95.4 518.5 95.3 518.0 94.8 517.7 94.0 517.8 92.5 518.0 92.0 518.5 91.5 519.0 91.4 519.5 91.6 520.1 92.5 520.1 94.0 519.5 95.2ZM499.5 124.0 499.0 124.4 498.5 124.5 497.5 124.2 496.5 123.3 496.0 122.3 495.8 121.0 496.0 119.8 496.5 118.9 497.5 118.2 498.5 118.2 499.0 118.4 499.7 119.0 500.2 120.0 500.3 122.0 500.0 123.2 499.5 124.0ZM606.0 123.1 605.5 123.2 605.0 123.0 604.5 122.5 604.0 121.5 603.7 120.5 603.8 119.5 604.0 119.1 604.5 118.8 605.0 118.9 605.5 119.3 606.2 120.5 606.5 122.0 606.0 123.1ZM420.5 130.1 419.0 130.1 418.0 129.5 417.4 128.5 417.3 127.5 417.7 126.0 418.4 125.0 419.5 124.2 420.5 124.0 421.5 124.2 422.4 125.0 422.8 126.0 422.8 127.0 422.7 128.0 422.2 129.0 421.5 129.7 420.5 130.1ZM426.0 139.1 425.0 139.4 424.0 139.2 423.3 138.5 422.9 137.0 423.0 135.5 423.5 134.0 424.5 132.8 425.5 132.4 426.5 132.5 427.3 133.0 427.9 134.0 428.1 135.0 428.0 136.0 427.5 137.4 427.0 138.2 426.0 139.1ZM527.0 159.3 526.5 159.5 526.0 159.1 525.5 157.5 525.5 156.5 525.8 155.5 526.0 155.1 526.5 154.7 527.1 155.0 527.5 155.6 527.7 156.5 527.5 158.5 527.0 159.3ZM514.0 160.3 513.6 160.0 514.0 159.7 514.2 160.0 514.0 160.3ZM518.0 220.2 517.5 220.5 517.0 220.2 516.5 219.0 516.7 217.5 517.0 216.8 517.5 216.5 518.0 216.8 518.5 218.0 518.5 219.0 518.0 220.2ZM501.0 241.7 500.0 241.8 499.5 241.5 499.0 241.0 498.6 240.0 498.8 238.5 499.5 237.6 500.0 237.4 501.0 237.4 501.5 237.6 502.0 238.2 502.4 239.0 502.2 240.5 501.5 241.5 501.0 241.7ZM547.5 65.5 546.9 65.0 546.4 63.5 546.6 62.0 547.0 61.4 547.5 61.1 548.0 61.1 548.5 61.5 549.0 62.5 549.1 63.5 548.5 65.1 548.0 65.5 547.5 65.5ZM491.0 92.3 490.5 92.4 490.0 92.1 489.5 91.0 489.4 90.0 489.6 88.0 490.0 87.1 490.5 86.8 491.0 86.9 491.4 87.5 491.8 89.0 491.7 91.0 491.0 92.3ZM506.5 110.6 506.0 110.2 505.5 109.1 505.3 107.5 505.5 105.9 506.0 105.1 506.5 104.9 507.0 105.1 507.5 105.9 507.7 107.5 507.5 109.1 507.0 110.2 506.5 110.6ZM507.0 119.1 506.5 119.3 505.8 119.0 505.4 118.5 505.1 117.5 505.0 116.5 505.4 115.0 506.0 113.8 506.5 113.5 507.0 113.9 507.5 114.8 507.9 116.5 507.7 118.0 507.0 119.1ZM536.5 122.1 536.0 122.1 535.5 121.6 535.1 119.5 535.5 117.4 536.0 116.9 536.5 116.9 537.0 117.3 537.3 118.0 537.5 119.5 537.3 121.0 537.0 121.7 536.5 122.1ZM499.0 123.1 498.5 123.4 497.5 123.2 497.0 122.7 496.6 122.0 496.5 120.4 496.9 119.5 497.5 119.1 498.5 119.1 499.1 119.5 499.5 120.1 499.7 121.5 499.5 122.3 499.0 123.1ZM420.5 129.1 419.5 129.2 418.9 129.0 418.4 128.5 418.1 127.5 418.3 126.5 418.9 125.5 419.5 125.1 420.5 124.9 421.0 125.0 421.6 125.5 421.9 126.0 422.0 127.0 421.5 128.4 420.5 129.1ZM426.0 138.1 425.0 138.4 424.5 138.3 424.0 137.9 423.7 137.0 423.6 136.0 424.0 134.8 424.6 134.0 425.5 133.5 426.5 133.6 427.0 134.2 427.3 135.0 427.3 136.0 427.0 136.8 426.0 138.1ZM403.5 153.6 403.0 153.6 402.5 152.9 402.1 151.5 401.9 150.0 402.0 149.0 402.3 148.0 403.0 147.2 403.5 147.2 404.0 147.5 404.5 148.4 404.7 150.0 404.3 152.5 404.0 153.1 403.5 153.6ZM510.5 183.1 509.5 183.1 509.0 182.6 508.7 181.5 508.7 180.5 508.9 179.5 509.5 178.5 510.0 178.0 511.0 177.6 511.5 177.7 512.0 178.2 512.3 179.0 512.4 180.0 512.2 181.0 511.7 182.0 511.0 182.8 510.5 183.1ZM456.3 183.5 457.1 182.0 457.5 180.0 457.2 179.0 456.5 178.7 455.5 179.2 454.8 180.0 454.0 181.0 453.7 182.0 454.1 183.0 455.0 183.8 455.5 184.0 456.0 183.8 456.3 183.5ZM447.6 186.0 449.0 184.5 450.1 182.5 449.9 181.5 449.5 181.0 448.5 180.5 448.0 180.5 447.0 181.5 446.2 183.0 445.9 184.0 445.9 185.0 446.4 186.0 447.0 186.3 447.6 186.0ZM448.7 200.0 449.5 198.8 449.5 197.5 449.0 196.6 448.5 196.2 448.0 196.1 447.5 196.4 447.1 197.0 446.9 198.0 447.0 198.9 447.6 200.0 448.0 200.2 448.7 200.0ZM413.0 229.5 412.5 229.7 412.0 229.3 411.5 228.0 411.4 227.0 411.6 224.5 412.0 223.7 412.5 223.3 413.0 223.5 413.5 224.3 413.8 226.0 413.7 228.0 413.5 228.7 413.0 229.5ZM501.0 241.0 500.0 241.1 499.5 240.7 499.2 240.0 499.2 239.0 499.5 238.5 500.0 238.1 501.0 238.1 501.5 238.5 501.8 239.0 501.8 240.0 501.5 240.6 501.0 241.0ZM498.5 259.1 498.0 259.0 497.5 258.4 497.0 257.0 496.9 256.0 497.0 255.0 497.5 253.6 498.0 253.0 498.5 252.9 499.0 253.0 499.5 253.6 500.0 255.0 500.1 256.0 500.0 257.0 499.5 258.4 499.0 259.0 498.5 259.1ZM463.0 259.5 462.5 259.8 462.0 259.8 461.5 259.6 461.0 259.0 460.5 257.5 460.4 256.0 460.8 254.5 461.4 253.5 462.0 253.2 462.5 253.2 463.0 253.5 463.5 254.2 463.9 255.5 463.9 257.5 463.5 258.8 463.0 259.5ZM466.0 302.5 465.5 302.2 465.2 301.5 464.9 299.5 465.1 298.0 465.5 297.2 466.0 296.9 466.5 297.0 467.0 297.8 467.3 299.5 467.0 301.6 466.5 302.4 466.0 302.5ZM558.5 56.7 558.1 56.5 558.0 55.5 558.5 54.5 559.0 54.4 559.3 55.0 559.2 55.5 559.0 56.2 558.5 56.7ZM443.5 111.3 442.5 111.4 441.5 111.0 440.5 110.2 439.9 109.0 439.7 108.0 440.0 106.9 440.7 106.0 441.5 105.6 442.5 105.6 443.5 106.0 444.0 106.5 444.5 107.5 444.6 108.5 444.5 109.7 444.0 110.9 443.5 111.3ZM454.0 112.0 453.5 112.1 453.0 111.4 452.7 110.5 452.3 109.0 452.5 107.5 453.0 106.5 453.5 106.0 454.5 105.6 455.5 105.6 456.5 106.2 457.1 107.0 457.3 108.0 457.2 109.0 456.7 110.0 456.0 110.8 455.0 111.6 454.0 112.0ZM506.5 108.6 506.1 108.0 506.0 107.5 506.0 106.9 506.5 106.3 507.0 106.9 507.0 107.5 506.9 108.0 506.5 108.6ZM506.5 117.6 506.0 117.0 506.0 116.5 506.5 115.9 506.9 116.5 506.9 117.0 506.5 117.6ZM498.0 121.6 497.7 121.0 498.0 120.6 498.4 121.0 498.0 121.6ZM471.5 126.5 470.5 126.6 469.5 126.1 469.0 125.0 469.0 124.0 469.6 123.0 470.5 122.4 472.0 122.1 473.0 122.3 474.1 123.0 474.4 123.5 474.4 124.5 473.5 125.7 471.5 126.5ZM420.0 127.4 419.8 127.0 420.0 126.7 420.3 127.0 420.0 127.4ZM503.0 133.8 502.5 134.0 501.5 133.7 500.7 133.0 500.2 132.0 500.0 131.0 500.2 130.0 500.5 129.4 501.5 128.8 502.5 128.8 503.0 129.1 503.5 129.6 504.0 130.5 504.1 131.5 503.9 132.5 503.5 133.3 503.0 133.8ZM425.5 136.3 425.2 136.0 425.5 135.5 425.7 136.0 425.5 136.3ZM478.5 142.6 478.0 142.9 477.5 142.9 477.0 142.6 476.4 141.0 476.5 139.6 476.8 138.5 477.5 137.6 478.0 137.4 478.7 138.0 479.2 139.5 479.1 141.5 478.5 142.6ZM504.5 145.1 504.0 145.3 503.5 145.1 503.0 144.7 502.5 144.0 502.1 142.5 502.3 140.5 502.9 139.5 503.5 139.1 504.0 139.0 505.0 139.6 505.6 140.5 505.9 141.5 505.9 142.5 505.7 143.5 505.0 144.7 504.5 145.1ZM450.5 145.0 449.5 145.3 448.5 145.3 447.6 145.0 447.0 144.5 447.0 143.5 447.5 142.5 448.0 141.9 449.0 141.3 450.0 141.0 451.0 141.3 451.5 141.6 452.0 142.4 452.1 143.0 451.8 144.0 450.5 145.0ZM403.5 152.9 403.0 152.8 402.8 152.5 402.5 151.7 402.3 150.5 402.5 149.0 403.0 148.2 403.5 148.2 404.1 149.0 404.3 150.5 404.0 152.0 403.5 152.9ZM489.0 163.5 488.0 163.3 487.0 162.5 486.4 161.5 486.1 160.5 486.1 159.5 486.5 158.5 487.5 157.6 488.5 157.3 489.5 157.5 490.3 158.0 491.0 159.0 491.2 160.0 491.0 161.1 490.5 162.3 489.5 163.4 489.0 163.5ZM505.5 167.0 504.5 167.0 504.0 166.8 503.3 166.0 503.0 165.0 503.1 164.0 503.5 163.0 504.0 162.4 504.5 162.1 505.0 162.0 506.0 162.6 506.6 163.5 506.9 164.5 506.7 166.0 506.3 166.5 505.5 167.0ZM413.5 178.1 413.0 178.2 412.5 178.0 412.2 177.5 411.9 175.5 412.0 174.5 412.4 173.5 413.0 172.9 413.5 172.7 414.0 172.9 414.5 173.4 415.0 175.0 414.9 176.0 414.5 177.0 413.5 178.1ZM421.5 195.7 421.0 195.9 420.2 195.5 419.4 194.0 419.2 192.5 419.2 191.0 419.5 189.8 420.0 189.3 420.5 189.3 421.5 189.8 422.0 190.5 422.5 191.7 422.6 193.0 422.5 194.0 422.0 195.3 421.5 195.7ZM456.3 198.0 457.5 196.2 458.0 195.0 458.3 193.5 458.0 191.9 457.5 191.1 457.0 190.9 456.5 191.2 456.0 192.1 454.2 196.5 454.4 197.5 454.9 198.0 455.5 198.3 456.3 198.0ZM449.2 212.5 449.3 212.0 449.3 211.5 449.0 211.0 448.5 210.9 447.9 211.5 448.0 212.5 448.5 212.8 449.2 212.5ZM500.5 239.8 500.3 239.5 500.5 239.3 500.7 239.5 500.5 239.8ZM484.5 259.0 484.0 259.0 483.5 258.6 483.2 258.0 483.5 257.1 484.0 256.9 484.5 256.9 485.0 257.5 485.0 258.4 484.5 259.0ZM443.0 109.8 442.5 110.0 442.0 110.0 441.5 109.7 440.9 109.0 440.7 108.0 440.8 107.5 441.5 106.7 442.5 106.6 443.0 106.9 443.4 107.5 443.6 108.0 443.5 109.0 443.0 109.8ZM455.0 110.1 454.5 110.1 454.0 109.9 453.5 109.2 453.3 108.5 453.5 107.6 453.9 107.0 454.5 106.6 455.0 106.5 456.0 107.0 456.4 108.0 456.0 109.3 455.0 110.1ZM472.0 125.6 471.0 125.7 470.5 125.5 470.1 125.0 470.0 124.0 470.3 123.5 471.0 123.0 472.5 122.9 473.0 123.2 473.5 123.9 473.5 124.5 473.1 125.0 472.0 125.6ZM503.0 132.5 502.5 132.9 502.0 132.9 501.5 132.7 500.9 132.0 500.7 131.0 500.8 130.5 501.5 129.7 502.0 129.6 502.5 129.7 503.2 130.5 503.4 131.5 503.0 132.5ZM469.0 136.7 468.5 136.8 468.0 136.4 467.5 135.5 467.3 134.5 467.6 133.0 468.0 132.4 468.5 132.2 469.0 132.3 469.5 133.0 469.8 134.0 469.7 135.5 469.5 136.1 469.0 136.7ZM478.0 141.9 477.5 141.8 477.0 140.5 477.3 139.0 477.5 138.6 478.0 138.4 478.5 138.8 478.8 140.0 478.5 141.4 478.0 141.9ZM504.5 143.7 504.0 143.9 503.5 143.7 503.0 143.1 502.8 142.5 503.0 141.0 503.5 140.4 504.0 140.3 504.5 140.5 505.1 141.5 505.0 143.0 504.5 143.7ZM449.5 144.5 448.9 144.5 448.2 144.0 448.0 143.5 448.1 143.0 449.0 142.0 450.0 141.8 450.5 141.9 451.2 142.5 451.2 143.5 450.5 144.2 449.5 144.5ZM403.5 152.1 403.0 152.0 402.7 150.5 403.0 149.3 403.5 149.2 403.9 150.5 403.5 152.1ZM504.5 157.0 503.5 157.0 502.5 156.2 501.9 155.0 501.7 154.0 502.0 152.5 502.5 151.6 503.1 151.0 504.0 150.6 504.9 151.0 505.5 151.6 506.0 152.5 506.3 153.5 506.2 154.5 506.0 155.5 505.3 156.5 504.5 157.0ZM476.5 158.2 475.5 158.4 474.5 158.1 473.8 157.5 473.3 156.5 472.9 155.0 472.9 153.0 473.2 152.0 473.8 151.5 475.0 151.4 476.5 151.9 477.3 152.5 478.0 153.5 478.4 155.0 478.1 156.5 477.5 157.5 476.5 158.2ZM489.0 162.2 488.0 162.0 487.5 161.7 486.9 160.5 486.9 159.5 487.1 159.0 487.5 158.5 488.5 158.0 489.0 158.1 489.8 158.5 490.2 159.0 490.4 160.0 490.0 161.4 489.5 161.9 489.0 162.2ZM505.5 166.1 504.5 166.1 503.9 165.5 503.8 165.0 503.9 164.0 504.5 163.3 505.0 163.2 505.5 163.3 506.0 164.0 506.2 165.0 506.0 165.6 505.5 166.1ZM414.0 176.5 413.5 176.9 413.0 176.9 412.5 176.0 412.6 174.5 413.0 173.9 413.5 173.7 414.1 174.0 414.4 175.0 414.0 176.5ZM411.0 184.5 409.0 185.0 407.5 184.5 406.9 183.5 407.0 182.2 407.5 181.7 408.0 181.4 409.5 181.5 410.3 182.0 411.0 183.0 411.4 184.0 411.0 184.5ZM415.5 186.1 415.0 186.5 414.0 186.2 413.2 185.5 413.1 185.0 414.0 184.8 414.8 185.0 415.4 185.5 415.5 186.1ZM421.0 194.6 420.5 194.4 419.9 193.0 420.0 191.6 420.5 190.9 421.0 190.9 421.5 191.3 421.9 192.5 421.7 194.0 421.5 194.4 421.0 194.6ZM449.0 231.4 448.5 231.2 448.1 230.0 448.1 229.0 448.5 228.0 449.0 228.1 449.5 229.5 449.5 230.7 449.0 231.4ZM478.0 258.2 477.5 258.3 477.2 258.0 476.8 257.0 477.0 255.0 477.5 253.6 478.0 253.6 478.5 255.5 478.6 257.0 478.0 258.2ZM471.0 148.7 470.5 148.8 469.5 148.6 468.9 148.0 468.4 147.0 468.2 146.0 468.5 144.5 469.0 143.6 469.5 143.2 470.0 143.1 470.5 143.3 471.1 144.0 471.6 145.0 471.8 147.0 471.5 148.2 471.0 148.7ZM440.5 149.1 440.3 148.5 440.5 148.2 441.0 147.9 441.2 148.0 441.3 148.5 441.0 148.9 440.5 149.1ZM504.5 156.1 503.5 156.0 503.0 155.6 502.6 155.0 502.4 154.0 502.7 152.5 503.5 151.8 504.0 151.6 505.0 152.1 505.6 153.5 505.4 155.0 505.0 155.7 504.5 156.1ZM476.0 157.5 475.0 157.4 474.5 157.1 474.0 156.4 473.7 155.5 473.6 154.5 473.7 153.5 474.0 152.9 475.0 152.4 476.0 152.5 476.9 153.0 477.5 153.9 477.7 154.5 477.7 155.5 477.4 156.5 477.0 157.0 476.0 157.5ZM437.5 159.7 436.5 159.6 435.7 159.0 435.1 158.0 434.9 157.0 435.1 156.0 436.0 154.7 437.0 154.1 438.0 154.0 438.5 154.2 439.0 155.0 439.3 156.0 439.3 157.0 438.8 158.5 438.0 159.4 437.5 159.7ZM489.0 160.2 488.5 160.4 488.3 160.0 488.5 159.5 489.0 159.7 489.0 160.2ZM439.5 170.0 439.0 170.3 438.0 170.5 437.0 170.2 436.0 169.3 435.6 168.5 435.5 167.5 435.8 166.5 436.5 165.6 437.0 165.3 438.0 165.3 438.5 165.6 439.4 166.5 439.8 167.5 440.0 168.5 439.8 169.5 439.5 170.0ZM452.5 178.0 451.5 178.1 451.0 177.9 450.1 177.0 449.7 176.0 449.7 175.0 450.4 173.5 451.0 172.8 452.0 172.4 453.0 172.4 453.9 173.0 454.3 173.5 454.6 174.5 454.5 175.5 454.1 176.5 453.3 177.5 452.5 178.0ZM444.0 181.1 443.0 181.5 442.5 181.3 441.8 180.5 441.2 179.0 441.1 177.5 441.4 176.0 442.0 175.1 442.5 174.9 443.0 174.8 444.0 175.2 444.8 176.0 445.3 177.0 445.5 178.0 445.3 179.0 444.9 180.0 444.0 181.1ZM408.5 183.1 408.5 183.1ZM492.0 205.1 491.5 205.0 491.0 204.4 490.5 203.3 490.3 202.0 490.5 200.5 490.9 199.5 491.5 198.8 492.0 198.7 492.5 198.9 493.0 199.5 493.5 200.7 493.6 202.0 493.5 203.2 493.0 204.4 492.5 205.0 492.0 205.1ZM492.5 218.1 492.0 218.2 491.5 218.1 491.0 217.6 490.5 216.0 490.5 215.0 491.0 213.5 491.5 212.9 492.0 212.7 492.5 212.9 493.0 213.5 493.5 215.0 493.5 216.0 493.3 217.0 492.5 218.1ZM477.5 233.0 477.0 233.1 476.5 232.9 476.1 232.5 475.6 231.5 475.4 230.5 475.5 229.0 475.9 228.0 476.5 227.3 477.0 227.2 477.5 227.4 478.0 227.8 478.6 229.5 478.5 231.5 478.0 232.5 477.5 233.0ZM442.5 125.6 442.0 125.1 441.9 124.5 442.5 123.6 443.0 123.6 443.3 124.0 443.4 124.5 443.0 125.4 442.5 125.6ZM470.0 147.1 469.5 146.7 469.3 146.0 469.5 145.2 470.0 144.9 470.5 145.3 470.7 146.0 470.5 147.0 470.0 147.1ZM414.5 154.9 414.0 153.5 413.8 152.0 414.0 151.2 414.5 151.1 414.8 151.5 415.0 152.5 414.5 154.9ZM504.0 154.6 503.5 154.0 503.6 153.5 504.0 153.2 504.4 153.5 504.5 154.0 504.0 154.6ZM476.5 156.1 476.0 156.4 475.5 156.3 475.0 156.0 474.6 155.0 474.6 154.5 475.0 153.8 475.5 153.5 476.0 153.6 476.5 154.0 476.9 155.0 476.5 156.1ZM415.0 156.3 415.0 155.9 415.0 156.3ZM437.5 158.1 437.0 158.2 436.5 158.0 436.0 157.0 436.4 156.0 437.0 155.6 437.5 155.6 438.0 156.0 438.2 156.5 438.1 157.5 437.5 158.1ZM438.0 169.1 437.5 169.1 437.0 168.8 436.6 168.0 437.0 167.0 437.5 166.8 438.2 167.0 438.7 168.0 438.5 168.9 438.0 169.1ZM452.5 176.6 452.0 176.7 451.5 176.6 451.0 176.1 450.8 175.5 451.0 174.5 451.5 173.8 452.0 173.6 452.5 173.7 453.0 174.0 453.3 174.5 453.2 175.5 453.0 176.1 452.5 176.6ZM443.5 179.8 443.0 179.9 442.5 179.6 442.0 178.5 442.2 177.0 442.5 176.5 443.0 176.3 443.6 176.5 444.3 177.5 444.2 179.0 443.5 179.8ZM452.5 193.6 451.5 193.6 450.5 192.8 450.0 192.0 449.6 190.5 449.8 189.0 450.2 188.0 451.0 187.0 452.0 186.6 453.0 187.0 453.5 187.5 454.0 188.5 454.2 189.5 454.1 191.0 453.8 192.0 453.2 193.0 452.5 193.6ZM443.5 194.1 443.0 194.1 442.5 193.6 442.2 192.5 442.4 191.0 443.0 190.4 443.5 190.4 444.0 190.9 444.3 192.0 444.0 193.5 443.5 194.1ZM492.0 203.0 491.5 202.5 491.4 202.0 491.5 201.4 492.0 200.9 492.5 201.5 492.5 202.0 492.4 202.5 492.0 203.0ZM444.5 208.0 444.0 207.9 443.5 207.5 443.0 206.0 443.3 204.5 443.5 204.0 444.0 203.6 444.5 203.7 445.0 204.2 445.5 205.5 445.4 207.0 445.0 207.7 444.5 208.0ZM476.5 217.1 475.5 217.0 475.0 216.7 474.5 216.0 474.1 214.5 474.2 213.0 474.5 212.0 475.0 211.4 476.0 210.9 476.5 211.1 477.1 211.5 477.7 212.5 477.9 213.5 477.9 215.0 477.5 216.0 477.0 216.7 476.5 217.1ZM492.0 216.7 491.5 216.2 491.4 215.5 491.5 215.0 492.0 214.6 492.5 215.0 492.6 215.5 492.5 216.2 492.0 216.7ZM458.5 225.2 458.0 224.6 458.0 223.9 458.5 223.9 458.7 224.5 458.7 225.0 458.5 225.2ZM477.0 231.0 476.6 230.5 476.5 230.0 477.0 229.3 477.5 230.0 477.5 230.5 477.0 231.0ZM450.5 118.6 449.0 118.5 448.0 118.2 447.3 117.5 447.3 117.0 447.8 116.5 448.5 116.3 449.5 116.3 450.3 116.5 451.0 117.0 451.3 118.0 451.0 118.5 450.5 118.6ZM491.0 175.0 490.0 174.8 489.0 174.2 488.4 173.5 488.1 172.5 488.2 171.5 488.9 170.5 489.5 169.9 491.0 169.5 492.0 169.9 492.5 170.4 493.1 172.0 493.0 173.0 492.5 174.0 492.0 174.6 491.0 175.0ZM461.0 188.6 460.5 188.5 460.0 188.0 459.6 187.0 459.5 186.0 460.0 184.3 460.5 183.8 461.0 183.6 461.5 183.8 462.0 184.5 462.3 186.0 462.0 187.5 461.5 188.3 461.0 188.6ZM492.0 189.7 491.5 189.7 491.0 189.3 490.5 188.6 490.2 187.5 490.2 186.5 490.4 185.5 491.0 184.6 491.5 184.3 492.0 184.3 492.5 184.7 493.0 185.4 493.3 186.5 493.3 187.5 493.0 188.7 492.5 189.4 492.0 189.7ZM452.5 192.2 452.0 192.4 451.2 192.0 450.8 191.5 450.5 190.5 450.5 189.5 450.9 188.5 451.5 188.0 452.0 187.9 452.5 188.0 453.0 188.5 453.4 189.5 453.3 191.0 453.0 191.6 452.5 192.2ZM475.5 200.2 474.5 200.1 474.0 199.6 473.5 198.5 473.4 197.5 473.5 196.5 474.0 195.3 474.5 194.6 475.0 194.2 475.5 194.1 476.0 194.3 476.5 195.0 477.0 197.0 476.6 199.0 476.0 199.8 475.5 200.2ZM461.5 202.0 461.0 202.4 460.5 202.4 459.9 202.0 459.4 201.0 459.3 200.0 459.5 199.0 460.0 198.0 460.5 197.5 461.0 197.5 461.5 197.8 462.1 199.0 462.1 201.0 461.5 202.0ZM453.0 208.0 452.5 207.9 451.7 207.0 451.3 206.0 451.2 205.0 451.4 204.0 452.0 203.0 452.5 202.5 453.0 202.4 453.5 202.4 454.3 203.0 454.7 204.0 454.8 205.0 454.3 207.0 453.5 207.9 453.0 208.0ZM476.5 215.6 476.0 215.8 475.5 215.6 474.9 214.5 475.1 213.0 475.5 212.5 476.0 212.3 476.5 212.5 477.1 213.5 477.0 214.9 476.5 215.6ZM456.0 219.5 455.5 219.7 454.5 219.4 454.0 219.0 453.5 218.0 453.5 217.4 453.8 216.5 454.5 215.8 455.0 215.7 455.5 215.6 456.5 216.0 456.9 216.5 457.1 217.0 456.8 218.5 456.0 219.5ZM491.5 173.1 491.0 173.3 490.5 173.2 490.0 172.6 489.9 172.0 490.5 171.2 491.0 171.1 491.7 171.5 491.8 172.5 491.5 173.1ZM492.0 187.2 491.5 187.0 492.0 186.8 492.0 187.2ZM475.5 198.1 475.0 198.3 474.8 198.0 474.6 197.5 475.0 196.5 475.5 196.6 475.7 197.0 475.5 198.1ZM472.0 171.7 471.0 171.9 469.5 171.4 468.5 170.5 467.9 169.5 467.7 168.0 468.0 167.0 468.8 166.0 469.5 165.5 470.5 165.3 471.5 165.5 472.5 166.2 473.3 167.5 473.5 168.5 473.4 170.0 472.9 171.0 472.0 171.7ZM461.0 166.4 460.5 166.5 459.5 165.7 459.0 164.9 458.5 163.5 458.5 162.0 458.8 161.0 459.5 160.0 460.0 159.7 460.5 159.6 461.0 159.9 461.5 160.4 462.1 162.0 462.2 163.5 462.0 164.6 461.5 165.8 461.0 166.4ZM471.5 170.6 471.0 170.7 470.0 170.4 469.5 170.0 468.9 169.0 469.0 167.5 469.5 166.8 470.0 166.5 471.0 166.4 471.5 166.6 472.0 167.0 472.5 167.9 472.5 169.5 472.0 170.2 471.5 170.6ZM476.0 184.6 475.5 184.6 474.7 184.0 474.2 183.0 474.0 182.3 474.1 181.0 474.5 180.0 475.0 179.6 475.5 179.5 476.5 179.9 477.0 180.5 477.5 182.0 477.4 183.0 477.0 183.9 476.5 184.5 476.0 184.6ZM460.5 163.7 460.0 163.7 459.7 163.0 459.7 162.5 460.0 161.9 460.5 161.9 460.8 162.5 460.8 163.0 460.5 163.7Z" stroke-width="0.76"/>
</g>
<g fill="none" stroke="#000" stroke-linejoin="round">
<path d="M589.5 198.6 588.0 198.8 586.5 198.3 585.7 197.5 585.1 196.5 584.6 194.5 584.8 191.5 585.7 188.5 586.9 186.5 588.0 185.8 589.0 185.9 589.5 186.3 590.4 187.5 591.3 189.5 592.0 192.5 592.0 194.5 591.5 196.5 590.5 198.0 589.5 198.6Z" stroke-width="1.1"/>
<path d="M612.0 143.2 611.0 143.4 610.2 143.0 609.8 142.5 609.8 141.5 610.0 141.0 610.5 140.6 611.5 140.4 612.0 140.6 612.5 141.2 612.7 142.0 612.6 142.5 612.0 143.2ZM575.5 147.6 574.5 147.6 574.0 147.4 573.5 147.0 573.4 146.5 573.7 146.0 575.0 145.5 576.3 146.0 576.6 146.5 576.5 147.0 575.5 147.6ZM613.5 160.1 613.0 160.0 612.5 159.6 612.3 159.0 612.4 158.5 612.7 158.0 613.5 157.7 614.3 158.0 614.6 158.5 614.7 159.0 614.5 159.6 614.0 160.0 613.5 160.1ZM576.0 184.0 575.0 184.2 574.5 184.0 574.0 183.5 573.8 182.5 574.0 182.0 574.5 181.4 575.5 181.2 576.2 181.5 576.6 182.0 576.8 183.0 576.5 183.6 576.0 184.0ZM598.5 223.6 597.5 223.5 597.0 223.1 596.5 222.1 596.3 221.0 596.6 219.0 597.3 218.0 598.0 217.7 598.5 217.8 599.3 218.5 599.7 219.5 599.9 220.5 599.5 222.5 599.0 223.3 598.5 223.6ZM478.0 327.1 477.5 327.0 476.9 326.5 476.5 325.8 476.4 325.0 476.5 324.4 477.0 323.5 478.0 323.1 479.0 323.5 479.5 324.4 479.6 325.0 479.5 325.8 479.1 326.5 478.5 327.0 478.0 327.1Z" stroke-width="0.88"/>
<path d="M589.0 195.8 588.0 196.0 587.2 195.5 586.6 194.5 586.2 193.0 586.3 191.0 586.7 189.5 587.2 188.5 588.0 187.8 588.5 187.8 588.9 188.0 589.5 188.6 590.0 189.7 590.3 191.0 590.4 192.5 590.2 194.0 589.8 195.0 589.0 195.8Z" stroke-width="0.8"/>
</g>
<circle cx="590.2" cy="158.9" r="1" fill="#000"/>
<circle cx="590.2" cy="167.8" r="1" fill="#000"/>
<circle cx="589.3" cy="174.3" r="0.5" fill="#000"/>
<circle cx="581.5" cy="196.6" r="1" fill="#000"/>
<circle cx="592.9" cy="213.7" r="1" fill="#000"/>
<circle cx="598.1" cy="230.4" r="0.5" fill="#000"/>
<circle cx="458.6" cy="236.8" r="0.8" fill="#000"/>
<path d="M574.5 181.0 572.0 181.4 569.5 181.0 567.9 180.0 567.6 179.5 567.6 178.5 568.5 177.5 570.5 176.7 572.5 176.6 574.6 177.0 576.3 178.0 576.7 179.0 576.3 180.0 575.5 180.6 574.5 181.0ZM582.5 193.7 580.5 194.0 579.0 193.7 578.1 193.0 577.8 192.5 577.8 192.0 578.5 191.2 579.5 190.8 581.0 190.6 582.5 190.9 583.4 191.5 583.8 192.0 583.8 192.5 583.5 193.0 582.5 193.7Z" fill="#ff8c00" stroke="#ff8c00" stroke-width="0.8"/>
<path d="M575.5 256.1 573.0 256.3 571.0 255.9 569.1 255.0 568.3 254.0 568.1 253.0 568.3 252.5 569.2 251.5 570.5 250.8 573.1 250.0 571.0 249.1 570.2 248.5 570.2 248.0 570.6 247.5 572.5 247.0 574.5 247.0 576.0 247.3 576.6 247.5 577.0 248.0 576.9 248.5 576.5 248.9 574.1 250.0 576.5 250.7 578.0 251.5 578.9 252.5 579.1 253.5 578.6 254.5 578.1 255.0 577.0 255.7 575.5 256.1ZM574.5 266.5 574.0 266.4 573.3 266.0 573.0 265.5 573.0 265.0 573.5 264.2 574.5 263.9 575.5 264.2 576.0 265.0 576.0 265.5 575.7 266.0 575.0 266.4 574.5 266.5ZM570.5 273.0 570.0 273.2 569.0 273.1 568.2 272.5 567.9 271.5 568.5 270.6 569.0 270.3 570.0 270.2 570.8 270.5 571.3 271.0 571.5 272.0 571.2 272.5 570.5 273.0Z" fill="#7b7bff" stroke="#7b7bff" stroke-width="0.8"/>
<circle cx="566.6" cy="271.3" r="0.5" fill="#7b7bff"/>
<circle cx="406.9" cy="31.2" r="0.9" fill="#22cc22"/>
<circle cx="404.8" cy="58" r="0.6" fill="#9e9"/>
<text x="555.2" y="170.8" class="lab2" fill="#c87010" stroke="#402000" stroke-width="0.35">Lys</text>
<text x="564.8" y="240.7" class="lab2" fill="#5a4ac0" stroke="#202050" stroke-width="0.35">Arg</text>
<g fill="none" stroke="#000" stroke-linejoin="round">
<path d="M71.5 413.6 70.5 413.7 70.0 413.4 69.2 412.5 68.3 410.5 67.6 407.5 67.6 406.0 68.1 404.5 69.0 403.4 70.5 402.7 72.0 402.9 73.0 403.6 73.9 405.0 74.3 406.5 74.1 408.5 73.3 411.5 72.5 412.9 71.5 413.6ZM80.0 438.6 79.0 438.7 78.5 438.4 77.7 437.5 77.2 436.0 76.2 431.0 76.4 429.0 77.0 427.5 78.0 426.4 79.0 426.0 80.0 426.1 81.2 427.0 82.1 428.5 82.4 430.0 82.3 432.0 81.4 436.5 80.7 438.0 80.0 438.6ZM64.0 437.5 62.5 437.7 61.6 437.0 61.1 435.5 61.0 434.0 61.5 432.3 62.5 430.8 63.5 430.0 65.0 429.7 66.0 430.1 66.7 431.0 67.1 432.0 67.1 433.5 66.7 435.0 66.1 436.0 65.0 437.0 64.0 437.5ZM46.5 448.6 46.0 448.6 45.0 448.3 44.0 447.3 43.3 445.5 43.1 443.5 43.3 441.5 44.0 439.5 45.0 438.3 45.5 437.9 46.5 437.7 47.5 438.2 48.4 439.5 48.9 441.0 49.0 443.0 48.8 445.0 48.2 447.0 47.5 448.0 46.5 448.6ZM58.5 447.0 57.0 447.2 56.0 446.8 55.3 445.5 55.2 444.0 55.6 442.5 56.6 441.0 58.0 440.0 59.5 439.7 60.4 440.0 60.8 440.5 61.1 441.5 61.2 443.0 61.0 444.0 60.3 445.5 59.5 446.4 58.5 447.0ZM73.5 639.1 71.5 638.9 69.1 638.0 68.9 632.0 69.9 626.5 70.0 625.0 68.2 618.0 67.5 610.0 66.7 608.0 65.5 606.5 64.5 605.8 63.5 605.8 59.2 607.0 58.6 607.5 58.3 609.0 58.5 615.5 58.0 619.0 57.4 621.0 56.5 622.8 55.5 623.9 54.5 624.3 53.0 623.9 52.0 623.1 51.0 621.7 50.3 620.0 49.7 617.5 49.5 615.5 49.6 608.0 49.1 606.5 48.5 605.7 48.0 605.4 47.5 605.5 47.0 606.0 44.5 611.0 43.5 612.2 42.5 612.9 41.5 612.8 41.0 612.5 40.3 611.5 39.8 609.5 39.7 607.0 40.1 600.5 38.9 595.0 38.5 592.5 38.3 589.0 38.5 580.5 37.3 572.0 38.1 560.0 37.8 552.5 37.8 548.0 38.2 545.0 38.7 542.5 39.5 540.5 40.5 539.1 42.0 538.1 45.0 537.8 47.0 537.1 48.5 536.0 48.8 535.0 48.6 529.5 46.6 526.0 46.0 524.5 45.6 522.5 45.5 520.5 45.7 518.5 46.8 513.5 46.4 509.0 46.6 506.5 47.2 504.5 48.7 501.5 49.2 500.0 49.5 494.5 50.7 488.5 50.9 483.0 50.7 481.5 49.0 477.0 48.3 472.0 47.8 471.0 46.5 469.9 45.5 468.5 45.0 466.5 44.9 464.5 45.1 462.0 45.5 460.0 47.2 455.0 48.0 453.4 49.0 452.0 50.0 451.2 51.0 451.0 52.0 451.2 53.0 452.2 53.5 454.0 53.7 456.0 53.4 459.5 51.5 466.5 51.3 467.5 51.4 468.5 52.0 469.5 53.5 471.3 54.2 472.5 54.7 474.5 55.2 479.0 55.6 480.0 57.4 482.5 58.2 484.5 58.4 487.0 57.7 492.0 57.7 497.5 58.0 499.0 59.4 502.0 59.6 503.5 59.4 505.0 58.8 506.0 56.0 507.2 55.2 508.0 53.4 513.5 53.1 515.5 53.5 521.0 53.0 526.0 53.1 526.5 53.5 527.1 54.5 527.5 56.0 527.6 57.0 527.1 57.5 526.3 58.5 519.5 57.4 514.0 57.3 512.5 57.6 510.5 58.3 508.5 59.0 507.2 60.7 506.0 61.5 504.7 62.7 500.5 62.8 498.5 62.4 492.5 63.3 486.0 62.9 480.0 63.1 478.0 63.9 473.5 63.0 469.0 63.0 467.5 63.2 466.5 64.0 464.8 65.5 463.4 67.0 462.7 69.0 462.5 70.8 463.0 72.3 464.0 73.4 465.5 74.0 467.5 73.9 469.0 73.4 470.5 72.5 471.9 70.5 474.0 69.9 475.5 70.0 481.0 69.1 487.0 69.7 494.0 68.7 500.5 69.1 507.5 68.5 513.5 68.6 519.5 68.4 522.5 67.8 524.5 67.0 525.9 66.0 526.9 64.4 528.0 63.5 529.0 62.8 530.5 62.4 532.5 62.6 534.5 63.0 535.6 63.5 536.5 64.5 537.1 66.5 536.9 68.0 537.2 69.1 538.0 70.1 539.5 70.9 541.5 71.4 543.5 71.6 545.5 71.6 550.5 72.1 552.0 72.5 552.4 73.0 552.5 75.5 551.8 77.0 551.9 78.0 552.4 78.5 552.9 79.2 554.5 79.1 556.0 78.5 557.3 77.5 558.2 75.5 559.3 75.0 560.0 74.7 561.0 74.3 566.5 73.0 572.5 73.2 573.5 75.0 576.1 76.1 578.5 76.8 581.5 77.6 588.5 78.0 589.6 80.1 593.0 80.6 594.5 80.9 596.0 80.7 599.0 80.3 600.5 79.7 601.5 78.5 602.7 75.5 603.8 75.0 604.5 74.8 605.5 74.9 607.0 75.8 611.5 76.0 614.0 76.0 616.5 75.5 622.5 76.0 624.0 77.7 626.5 78.5 628.0 79.0 630.0 79.0 632.0 78.8 633.5 78.3 635.0 77.1 637.0 75.5 638.4 73.5 639.1ZM89.0 476.1 88.5 476.4 87.5 476.4 86.5 475.6 85.9 474.5 85.5 472.0 85.8 467.5 84.7 464.0 84.5 462.5 84.6 460.5 85.2 459.0 86.0 457.8 86.5 457.4 87.5 457.0 89.0 457.3 90.0 458.3 90.7 459.5 91.1 461.5 91.0 463.5 90.0 467.5 90.5 471.5 90.4 473.5 89.9 475.0 89.0 476.1ZM76.5 532.5 74.5 532.1 73.1 531.0 72.2 529.5 71.8 527.5 73.0 522.5 72.4 518.0 72.4 516.0 73.5 509.5 74.0 502.5 74.0 501.0 73.3 497.5 73.2 496.0 73.8 494.0 75.4 491.5 75.5 491.0 75.5 490.5 74.2 488.0 74.0 486.5 74.2 485.5 74.8 484.5 75.5 484.0 76.5 483.8 77.2 484.0 77.9 484.5 78.7 486.0 78.8 487.5 78.2 490.0 78.3 490.5 81.5 493.1 82.3 494.5 82.5 496.0 82.2 498.0 80.6 501.0 80.2 502.5 80.0 507.5 79.0 513.4 78.3 521.0 78.5 522.5 80.4 525.5 80.8 526.5 81.0 528.5 80.5 530.0 79.5 531.4 78.0 532.3 76.5 532.5ZM41.5 495.6 39.5 496.0 38.2 495.5 37.8 495.0 37.5 494.0 37.9 492.5 38.8 491.0 40.5 489.6 42.5 488.8 44.0 488.9 44.9 489.5 45.2 490.0 45.4 491.0 45.1 492.0 44.6 493.0 43.8 494.0 42.6 495.0 41.5 495.6ZM87.5 513.0 86.5 512.7 85.9 512.0 85.2 510.5 85.0 509.0 85.1 507.5 85.6 506.0 86.5 504.9 87.5 504.6 88.5 504.9 89.4 506.0 89.9 507.5 90.0 509.0 89.8 510.5 89.1 512.0 88.5 512.7 87.5 513.0ZM89.0 555.6 88.5 555.6 87.8 555.0 87.3 554.0 87.2 552.5 87.3 551.0 87.7 549.5 89.1 546.5 89.3 545.5 89.3 544.5 88.3 541.5 88.4 539.5 89.6 535.5 91.0 533.1 92.5 531.7 93.5 531.3 94.5 531.3 95.5 531.7 96.0 532.2 96.6 533.0 97.2 534.5 97.5 537.0 97.2 540.0 96.5 542.0 95.5 543.8 94.5 544.9 92.6 546.5 92.2 547.0 92.0 548.0 91.7 551.0 91.2 553.0 90.0 555.0 89.0 555.6ZM82.0 546.0 80.0 546.3 78.5 545.9 77.4 545.0 76.7 543.5 76.7 542.5 76.9 541.5 77.9 540.0 79.5 538.8 81.0 538.3 82.5 538.4 84.2 539.0 85.3 540.0 85.7 540.5 86.0 541.5 85.8 542.5 84.9 544.0 83.5 545.3 82.0 546.0ZM32.5 583.0 31.5 582.6 30.5 581.4 29.8 579.5 29.4 577.5 29.2 574.0 29.7 567.5 29.1 560.5 29.3 558.0 30.0 555.4 31.0 553.8 31.5 553.3 32.5 553.0 33.5 553.3 34.5 554.2 35.2 555.5 35.9 557.5 36.2 561.0 35.5 567.5 36.3 574.0 35.8 578.0 35.0 580.5 34.0 582.2 33.5 582.7 32.5 583.0ZM64.1 565.5 64.5 563.3 64.8 559.5 64.7 558.0 64.5 557.2 64.0 557.8 63.4 563.5 63.5 565.6 64.0 565.7 64.1 565.5ZM64.0 643.0 63.0 643.0 61.5 642.8 59.5 641.7 58.2 640.0 56.5 636.5 55.6 634.0 55.4 631.0 55.6 629.5 56.0 628.6 56.5 627.9 57.0 627.6 57.5 627.6 58.5 627.8 59.5 628.6 60.3 629.5 61.3 631.5 62.1 635.0 62.9 636.0 64.0 636.6 68.5 638.0 68.8 638.5 68.4 640.0 67.4 641.5 65.9 642.5 64.0 643.0ZM74.0 684.2 73.0 684.4 72.5 684.3 71.8 683.5 71.3 682.0 71.3 679.5 71.9 677.0 72.9 675.0 74.0 673.8 75.0 673.2 75.5 673.2 76.5 673.6 77.0 674.5 77.4 676.0 77.3 678.0 76.9 680.0 76.0 682.0 75.0 683.4 74.0 684.2ZM88.0 709.1 87.0 709.4 85.5 709.1 84.5 708.5 83.4 707.0 82.9 705.5 82.9 704.0 83.5 702.7 84.5 701.9 85.5 701.6 87.0 702.0 88.0 702.6 89.0 704.0 89.5 705.5 89.5 707.0 89.0 708.1 88.0 709.1Z" stroke-width="1.9"/>
<path d="M76.0 657.6 75.0 657.6 74.0 657.0 73.4 656.0 73.2 655.0 73.3 654.0 73.7 653.0 74.5 652.2 75.5 651.9 76.5 652.2 77.0 652.6 77.6 653.5 77.8 654.5 77.7 655.5 77.4 656.5 77.0 657.0 76.0 657.6Z" stroke-width="1.52"/>
<path d="M72.0 413.1 71.5 413.4 70.5 413.4 69.4 412.5 68.7 411.0 67.9 407.5 67.9 406.0 68.5 404.5 69.5 403.5 70.5 403.1 71.5 403.2 72.5 403.6 73.3 404.5 73.9 406.0 73.9 408.0 73.4 410.5 72.8 412.0 72.0 413.1ZM80.0 438.3 79.0 438.4 78.4 438.0 77.7 437.0 77.3 435.5 76.6 431.5 76.5 430.0 77.0 428.3 77.9 427.0 79.0 426.5 80.0 426.6 81.0 427.3 81.7 428.5 82.1 430.0 82.1 431.5 81.4 436.0 80.8 437.5 80.0 438.3ZM46.5 447.7 45.5 447.7 44.5 447.0 43.7 445.5 43.5 444.0 43.6 442.0 44.0 440.5 45.0 439.0 46.0 438.4 47.0 438.6 47.8 439.5 48.4 441.0 48.6 442.5 48.4 444.5 48.0 446.0 47.4 447.0 46.5 447.7ZM74.5 638.2 73.0 638.4 71.5 638.1 70.5 637.4 69.7 636.0 69.4 634.0 69.3 632.0 69.6 630.0 70.5 626.5 70.6 625.0 70.2 623.5 69.0 620.0 68.5 618.0 68.2 615.5 68.1 611.0 67.8 609.5 67.0 607.6 65.5 605.7 64.5 605.1 64.0 605.0 61.5 605.9 58.5 606.1 58.0 606.5 57.6 608.0 58.2 614.0 57.9 618.0 57.2 620.5 56.5 621.8 55.5 623.0 54.5 623.4 53.5 623.4 52.2 622.5 51.1 621.0 50.5 619.5 50.0 617.5 49.8 615.0 50.1 609.0 50.0 607.5 49.5 605.8 48.5 604.5 48.0 604.3 47.5 604.3 47.0 604.9 44.7 610.0 44.0 611.1 43.0 612.1 42.0 612.4 41.5 612.2 41.0 611.8 40.4 610.5 40.1 609.0 40.0 606.5 40.5 600.5 40.2 599.0 39.2 595.0 38.7 592.0 38.6 588.5 38.9 580.5 37.8 571.5 37.9 568.0 38.6 560.0 38.1 552.5 38.1 548.0 38.4 545.5 39.0 542.8 39.7 541.0 40.8 539.5 41.5 539.0 42.5 538.7 45.0 538.7 46.0 538.5 49.5 537.0 50.0 536.5 50.0 536.0 49.4 533.0 49.2 529.0 47.3 526.5 46.5 524.8 45.9 522.5 45.8 520.5 46.1 518.0 47.2 513.5 46.8 509.0 46.9 507.0 47.5 504.7 49.3 501.5 49.6 500.5 49.8 495.0 51.1 489.0 51.4 482.5 51.1 481.0 49.7 478.0 49.2 476.0 49.1 474.0 49.3 470.5 49.1 470.0 47.0 469.0 46.1 468.0 45.5 466.2 45.3 464.0 45.9 460.0 47.5 455.5 49.0 453.1 50.0 452.3 51.0 452.0 52.0 452.4 52.8 453.5 53.1 455.0 53.2 457.5 52.7 461.0 50.2 469.0 50.2 469.5 52.5 470.9 53.7 472.5 54.3 474.5 54.8 479.5 55.3 480.5 57.0 482.6 57.8 484.5 58.0 487.0 57.3 492.0 57.3 497.5 57.6 499.0 58.8 501.5 59.2 503.0 58.9 504.5 58.3 505.5 55.6 507.0 54.7 508.0 52.9 513.5 52.7 515.5 53.2 519.5 53.2 521.5 52.4 526.5 52.5 527.0 53.0 527.5 54.5 527.9 56.0 528.0 57.0 527.7 57.6 527.0 57.9 526.0 58.8 519.5 58.6 518.0 57.7 514.0 57.8 511.0 58.3 509.5 59.0 508.3 61.0 506.8 61.5 506.1 63.0 501.0 63.2 499.0 62.7 492.5 63.7 486.0 63.2 481.5 63.2 479.5 64.4 473.5 63.5 469.0 63.5 467.5 63.7 466.5 64.5 465.0 66.0 463.6 67.5 463.1 69.0 463.0 70.5 463.4 72.0 464.4 73.1 466.0 73.5 467.5 73.4 469.0 72.9 470.5 72.0 471.7 70.0 473.8 69.5 475.0 69.8 480.5 68.7 487.0 69.3 492.0 69.4 494.0 68.3 500.5 68.8 507.0 68.1 514.0 68.3 519.5 68.1 522.0 67.6 524.0 66.7 525.5 66.0 526.3 64.0 527.6 63.0 528.9 62.3 530.5 62.0 532.5 62.1 534.0 62.5 535.5 63.5 537.4 64.0 537.8 64.5 537.8 66.5 537.5 68.0 537.8 69.3 539.0 70.2 540.5 70.9 542.5 71.2 544.5 71.2 550.5 71.6 552.5 72.0 553.0 73.0 553.3 75.5 552.3 77.0 552.3 78.0 553.0 78.8 554.5 78.7 556.0 78.0 557.3 77.0 558.0 75.5 558.7 74.7 559.5 74.3 561.0 74.0 566.0 73.0 570.0 72.0 572.3 71.5 572.9 70.0 573.4 69.5 573.7 69.1 575.0 69.5 576.7 70.0 576.7 71.5 574.7 72.0 574.5 72.5 574.6 74.0 575.7 75.0 577.1 75.8 579.0 76.3 581.0 77.3 589.0 77.7 590.0 79.9 593.5 80.5 596.0 80.6 597.5 80.3 599.0 79.5 601.0 79.0 601.7 78.0 602.4 75.5 602.8 75.0 603.0 74.5 603.7 74.3 604.5 74.3 606.5 75.3 611.0 75.7 614.0 75.6 617.0 75.0 621.5 75.0 623.0 75.5 624.5 77.1 626.5 78.0 628.0 78.5 629.5 78.6 631.0 78.3 633.5 77.5 635.5 76.0 637.4 74.5 638.2ZM89.0 475.5 88.5 475.9 87.5 475.9 86.6 475.0 86.1 474.0 85.8 472.0 86.2 467.5 85.1 464.0 84.8 462.5 85.0 460.5 85.5 459.2 86.5 458.0 87.5 457.6 88.5 457.7 89.6 458.5 90.4 460.0 90.7 461.5 90.6 463.5 89.6 467.5 90.1 471.5 90.1 473.0 89.7 474.5 89.0 475.5ZM77.5 532.0 76.5 532.1 75.5 532.0 74.0 531.3 72.8 530.0 72.2 528.0 72.4 526.5 73.3 523.5 73.5 522.5 72.8 518.5 72.7 516.0 73.8 510.0 74.4 502.0 74.3 500.5 73.7 497.5 73.7 496.0 74.1 494.5 74.6 493.5 76.0 491.9 77.0 491.1 79.0 491.8 80.8 493.0 81.8 494.5 82.1 496.0 81.7 498.0 80.4 500.5 79.9 502.0 79.7 507.5 78.7 513.0 77.8 521.5 78.3 523.0 80.2 526.0 80.6 527.5 80.6 528.5 80.3 529.5 79.5 530.8 78.5 531.6 77.5 532.0ZM89.0 555.1 88.5 555.0 87.9 554.5 87.5 553.5 87.4 552.5 87.6 551.0 88.0 549.5 89.0 547.7 90.3 546.0 90.2 545.0 89.1 541.5 89.0 540.0 89.3 538.0 90.2 535.5 91.5 533.4 93.0 532.2 94.5 532.1 95.3 532.5 96.0 533.2 96.8 535.0 97.1 537.5 96.7 540.0 96.0 542.0 95.0 543.5 94.0 544.5 91.7 546.0 91.4 546.5 91.5 550.0 91.2 552.0 90.4 554.0 89.5 554.9 89.0 555.1ZM82.0 545.6 80.5 545.9 79.0 545.6 78.0 544.9 77.2 543.5 77.2 542.0 78.0 540.5 79.5 539.2 81.0 538.8 82.5 538.8 84.0 539.5 84.9 540.5 85.2 541.5 85.1 542.5 84.3 544.0 83.2 545.0 82.0 545.6ZM33.0 582.2 32.0 582.2 31.5 581.9 30.5 580.5 29.7 578.0 29.5 575.0 30.1 567.5 29.5 561.5 29.6 558.0 30.0 556.4 30.6 555.0 31.5 554.0 32.5 553.6 33.6 554.0 34.8 555.5 35.5 557.5 35.8 560.0 35.7 562.0 35.1 567.5 35.8 573.5 35.7 576.5 35.3 578.5 34.6 580.5 33.9 581.5 33.0 582.2ZM64.3 568.0 64.7 567.0 65.0 565.5 65.6 558.0 65.3 556.0 64.5 555.0 64.0 554.9 63.5 555.5 63.4 556.0 62.6 566.0 63.0 568.1 63.5 568.5 64.0 568.3 64.3 568.0ZM64.5 642.5 62.5 642.6 61.0 642.1 59.5 641.0 58.4 639.5 56.4 635.5 55.7 633.0 55.7 631.5 55.9 630.0 56.4 629.0 57.0 628.4 57.5 628.3 58.5 628.4 60.0 629.7 60.9 631.5 61.9 635.5 62.5 636.3 63.5 636.9 66.5 638.0 67.2 638.5 67.5 639.0 67.6 640.0 67.1 641.0 65.9 642.0 64.5 642.5ZM74.0 683.7 73.0 683.8 72.5 683.6 72.0 683.0 71.6 681.5 71.6 679.5 72.1 677.5 73.0 675.5 74.0 674.3 75.0 673.8 75.5 673.8 76.0 673.9 76.5 674.5 76.9 675.5 77.1 677.0 76.9 678.5 76.6 680.0 75.9 681.5 75.0 682.9 74.0 683.7Z" stroke-width="1.3"/>
<path d="M63.5 437.1 62.5 436.9 61.7 436.0 61.5 435.0 61.5 433.5 62.1 432.0 62.9 431.0 64.0 430.3 65.0 430.3 66.0 430.8 66.5 431.5 66.7 432.5 66.6 434.0 66.2 435.0 65.5 436.0 64.5 436.8 63.5 437.1ZM58.5 446.5 57.5 446.7 56.5 446.4 55.8 445.5 55.6 444.0 56.0 442.5 56.7 441.5 58.0 440.5 59.0 440.2 59.9 440.5 60.4 441.0 60.8 442.0 60.8 443.0 60.6 444.0 60.0 445.3 59.4 446.0 58.5 446.5ZM77.0 490.2 76.5 490.2 75.5 489.5 74.8 488.5 74.4 487.5 74.3 486.5 74.6 485.5 75.0 484.8 76.0 484.2 77.0 484.3 77.5 484.6 78.2 485.5 78.5 486.5 78.2 488.5 77.5 489.8 77.0 490.2ZM40.0 495.5 39.0 495.3 38.5 495.0 38.2 494.5 38.0 493.5 38.6 492.0 39.5 490.9 41.0 489.8 42.5 489.3 44.0 489.6 44.5 490.0 44.8 491.0 44.6 492.0 44.1 493.0 43.3 494.0 42.0 494.9 41.0 495.3 40.0 495.5ZM88.5 512.0 87.5 512.4 86.5 512.0 85.8 511.0 85.4 509.5 85.4 508.0 85.8 506.5 86.5 505.6 87.5 505.2 88.0 505.3 88.9 506.0 89.4 507.0 89.6 508.0 89.6 509.5 89.4 510.5 88.5 512.0ZM76.0 657.2 75.0 657.2 74.5 657.0 73.8 656.0 73.5 655.0 73.6 654.0 74.0 653.2 74.5 652.6 75.5 652.3 76.3 652.5 76.9 653.0 77.5 654.5 77.2 656.0 76.5 657.0 76.0 657.2ZM87.5 708.7 86.5 708.8 85.4 708.5 84.5 707.8 83.6 706.5 83.3 705.0 83.4 704.0 84.0 702.9 85.0 702.3 86.0 702.2 87.0 702.5 88.0 703.3 88.8 704.5 89.1 706.0 89.0 707.0 88.5 708.0 87.5 708.7Z" stroke-width="1.04"/>
<path d="M71.5 413.0 70.5 413.0 70.0 412.7 69.4 412.0 68.8 410.5 68.3 407.5 68.3 406.0 68.7 405.0 69.5 404.0 70.5 403.6 71.5 403.6 72.5 404.2 73.1 405.0 73.6 406.5 73.5 408.5 73.0 411.0 72.5 412.1 71.5 413.0ZM79.5 438.2 79.0 438.1 78.5 437.7 77.8 436.5 76.9 430.5 77.1 429.0 77.6 428.0 78.5 427.2 79.5 427.0 80.5 427.5 81.3 428.5 81.6 429.5 81.7 431.0 81.0 436.5 80.5 437.5 80.0 438.0 79.5 438.2ZM46.5 446.7 45.5 446.8 45.0 446.5 44.3 445.5 44.0 444.0 44.0 442.5 44.4 441.0 45.0 439.9 46.0 439.3 47.0 439.5 47.5 440.1 48.0 441.5 48.1 442.5 47.8 445.0 47.3 446.0 46.5 446.7ZM48.5 468.0 47.5 467.9 47.0 467.6 46.3 466.5 45.9 464.5 46.1 461.5 46.8 458.5 48.0 455.7 49.5 453.7 50.5 453.2 51.0 453.2 51.5 453.4 52.0 453.9 52.5 455.0 52.7 457.0 52.5 459.5 51.6 463.0 50.5 465.7 49.5 467.3 48.5 468.0ZM88.5 475.2 88.0 475.3 87.2 475.0 86.8 474.5 86.4 473.5 86.2 471.5 86.9 468.5 86.9 467.5 85.7 464.5 85.2 462.5 85.3 461.0 85.9 459.5 86.5 458.7 87.5 458.2 88.5 458.3 89.5 459.1 90.2 460.5 90.4 462.0 90.1 464.0 88.9 467.5 89.7 471.0 89.7 473.0 89.2 474.5 88.5 475.2ZM74.5 637.5 73.0 637.7 71.5 637.2 70.8 636.5 70.1 635.0 69.8 633.5 69.8 631.5 70.2 629.5 71.3 626.0 71.3 624.5 69.5 620.5 68.9 618.0 68.6 615.5 68.5 610.5 68.2 609.0 67.2 607.0 65.5 604.8 65.0 604.4 64.0 604.2 61.0 605.3 60.0 605.3 58.0 604.9 57.5 605.0 57.0 605.4 56.8 606.0 56.8 607.0 57.8 613.0 57.7 617.0 57.2 619.0 56.5 620.8 55.5 622.1 54.5 622.6 53.5 622.6 52.5 622.0 51.5 620.7 50.8 619.0 50.3 617.0 50.1 615.0 50.7 608.5 50.6 607.0 50.0 605.3 48.5 603.3 48.0 603.0 47.5 602.9 47.0 603.4 45.1 608.5 44.3 610.0 43.5 611.0 42.5 611.7 42.0 611.7 41.5 611.5 41.0 610.9 40.5 609.5 40.3 607.5 40.8 600.0 39.4 594.5 39.0 591.0 38.9 588.0 39.3 580.5 38.2 571.5 38.3 567.5 39.0 560.0 38.4 552.5 38.3 548.5 38.8 545.0 39.7 542.0 40.6 540.5 42.0 539.6 45.5 539.6 48.0 538.8 49.5 538.6 50.5 538.7 52.5 539.6 53.0 539.6 53.5 539.3 53.7 538.5 53.5 537.4 51.2 535.5 50.3 534.0 49.9 532.0 50.3 528.5 48.5 527.1 47.2 525.5 46.4 523.5 46.1 521.5 46.4 518.5 47.4 515.0 47.7 513.5 47.2 509.0 47.2 507.0 48.0 504.6 49.6 502.0 50.0 501.0 50.2 499.5 50.2 495.0 51.3 490.5 51.6 488.5 52.0 481.5 51.8 480.5 50.5 478.5 49.9 477.0 49.6 475.0 49.8 473.0 50.2 472.0 51.0 471.4 52.0 471.5 53.1 472.5 53.6 473.5 54.0 475.0 53.9 479.0 54.1 480.0 54.4 480.5 56.7 483.0 57.2 484.0 57.6 485.5 57.6 487.5 56.9 491.5 56.9 497.5 57.2 499.0 58.6 502.0 58.8 503.5 58.4 504.5 58.0 505.1 57.0 505.8 55.0 506.9 54.4 507.5 52.4 513.5 52.2 515.5 52.8 519.0 52.9 521.5 52.6 523.5 51.5 527.5 51.8 528.0 53.0 528.2 55.5 528.4 57.0 528.2 57.5 527.9 58.1 527.0 59.2 519.5 59.1 518.0 58.0 514.0 58.0 512.5 58.2 511.0 59.0 509.2 59.5 508.6 61.3 507.5 62.0 506.5 63.3 502.0 63.6 500.0 63.1 492.5 64.1 486.0 63.6 481.5 63.6 479.5 63.9 477.5 64.9 474.5 65.1 473.5 65.0 472.5 64.1 469.5 64.0 467.5 64.5 466.0 65.5 464.7 67.0 463.8 68.5 463.5 70.5 464.0 71.8 465.0 72.7 466.5 73.0 468.0 72.7 469.5 72.3 470.5 71.5 471.5 69.4 473.5 69.1 474.0 68.9 475.0 69.4 478.5 69.4 480.5 69.3 482.0 68.3 486.5 69.0 493.5 68.8 495.5 67.9 500.5 68.5 507.0 67.7 514.0 68.0 519.0 67.9 521.0 67.3 523.5 66.5 525.0 63.5 527.4 62.4 529.0 61.7 531.0 61.6 533.0 62.2 536.0 63.0 537.9 63.5 538.5 64.0 538.7 64.5 538.7 66.5 538.1 67.5 538.2 68.7 539.0 69.8 540.5 70.5 542.5 70.9 544.5 71.0 547.0 70.7 551.5 70.9 552.5 71.3 553.5 72.0 554.1 73.0 554.2 75.0 553.0 76.5 552.7 77.3 553.0 77.8 553.5 78.2 554.0 78.4 555.0 78.3 556.0 77.5 557.1 76.5 557.7 75.0 558.2 74.2 559.0 74.0 560.1 73.8 565.5 72.9 569.0 72.1 570.5 71.5 571.3 68.9 572.5 68.5 573.0 68.3 574.0 68.5 576.8 69.0 578.8 69.3 579.0 69.5 579.1 70.0 578.6 71.5 576.6 72.5 576.0 73.0 576.0 74.0 576.7 75.0 578.1 75.7 580.0 76.3 582.5 76.7 588.0 76.9 589.5 77.5 590.8 79.4 593.5 80.1 596.0 80.0 598.7 79.5 600.0 79.0 600.9 78.5 601.4 77.5 601.8 75.0 601.8 74.5 602.0 74.0 602.8 73.7 604.0 73.7 606.0 75.1 611.5 75.4 615.0 75.2 618.0 74.3 622.5 74.2 623.5 74.6 624.5 76.5 626.7 77.4 628.0 77.9 629.5 78.1 631.0 78.0 633.0 77.2 635.0 76.0 636.6 74.5 637.5ZM77.5 531.6 76.5 531.7 75.5 531.6 74.0 530.8 73.1 529.5 72.7 528.5 72.7 527.5 72.9 526.0 73.9 523.5 74.0 522.5 73.2 518.5 73.1 516.5 73.3 514.5 74.2 510.0 74.9 501.5 74.2 497.5 74.2 496.0 74.6 494.5 75.3 493.5 76.5 492.5 77.5 492.2 79.0 492.5 80.5 493.5 81.2 494.5 81.6 496.0 81.4 497.5 79.9 500.5 79.5 502.0 79.4 507.5 78.4 512.5 78.0 517.5 77.3 521.5 77.7 523.0 79.5 525.5 80.0 526.5 80.2 527.5 80.2 528.5 79.9 529.5 79.2 530.5 78.5 531.1 77.5 531.6ZM93.0 544.2 92.0 544.4 91.5 544.3 90.5 543.2 89.8 541.5 89.7 539.0 90.3 536.5 91.4 534.5 92.5 533.4 94.0 532.9 95.0 533.3 96.0 534.5 96.4 536.0 96.5 538.0 96.2 540.0 95.4 542.0 94.5 543.2 93.0 544.2ZM63.8 570.0 64.5 569.6 64.9 569.0 65.4 567.5 66.2 557.0 66.1 556.0 65.5 554.8 64.5 553.6 63.5 552.9 63.0 553.4 62.9 554.0 62.7 560.0 61.9 567.0 62.0 568.0 62.5 569.3 63.0 569.9 63.8 570.0ZM32.5 581.6 31.5 581.1 31.0 580.4 30.4 579.0 29.9 577.0 29.8 573.5 30.5 567.5 29.7 560.5 29.9 558.0 30.5 556.1 31.5 554.7 32.5 554.3 33.5 554.6 34.5 556.0 35.2 558.0 35.4 560.5 34.6 567.5 35.3 573.5 35.3 576.5 34.9 578.5 34.3 580.0 33.5 581.1 32.5 581.6ZM64.5 642.1 63.0 642.2 61.5 641.8 60.2 641.0 59.1 639.5 57.0 635.8 56.2 633.5 56.2 631.0 56.5 629.9 57.0 629.3 57.5 629.0 58.5 629.1 59.5 629.8 60.0 630.4 60.8 632.5 61.3 635.5 61.9 636.5 63.0 637.2 65.5 638.1 66.5 639.0 66.7 640.0 66.3 641.0 65.5 641.6 64.5 642.1ZM74.0 683.0 73.0 683.1 72.4 682.5 71.9 681.0 72.0 679.0 72.6 677.0 73.5 675.5 74.5 674.6 75.5 674.5 76.0 674.8 76.5 675.7 76.7 677.0 76.6 678.5 76.2 680.0 75.5 681.5 75.0 682.2 74.0 683.0ZM71.5 412.6 70.5 412.6 70.0 412.3 69.5 411.5 69.0 410.0 68.7 408.0 68.7 406.5 68.9 405.5 69.5 404.7 70.5 404.1 71.5 404.2 72.1 404.5 72.9 405.5 73.2 406.5 73.2 408.0 72.8 410.5 72.2 412.0 71.5 412.6ZM80.0 437.6 79.5 437.8 79.0 437.7 78.5 437.3 78.1 436.5 77.7 435.0 77.3 431.5 77.3 430.0 77.6 429.0 78.4 428.0 79.0 427.7 80.0 427.8 80.5 428.3 81.0 429.1 81.3 430.5 81.0 435.5 80.5 437.0 80.0 437.6ZM48.0 466.5 47.5 466.3 47.0 465.7 46.6 464.5 46.5 462.5 46.9 460.0 47.8 457.5 49.0 455.5 50.0 454.7 51.0 454.6 51.7 455.5 52.1 457.0 52.0 459.0 51.6 461.0 51.0 463.0 50.0 465.0 49.0 466.2 48.0 466.5ZM72.5 623.2 71.5 622.7 70.5 621.4 69.4 618.5 68.9 615.5 68.9 610.0 68.5 608.0 66.5 605.0 65.0 603.5 64.0 603.3 62.0 604.3 61.0 604.6 59.5 604.4 57.0 603.3 56.5 603.4 55.9 604.0 55.6 605.0 55.6 606.0 57.2 612.0 57.4 614.0 57.4 616.0 57.1 618.0 56.5 619.6 55.5 621.2 54.5 621.8 53.5 621.8 52.5 621.1 51.7 620.0 51.1 618.5 50.7 616.5 50.6 614.0 51.4 608.0 51.4 606.5 51.1 605.5 50.5 604.5 48.0 601.3 47.5 600.9 47.0 601.0 46.5 602.0 45.3 607.0 44.0 609.7 43.3 610.5 42.5 611.0 42.0 610.9 41.4 610.5 40.9 609.5 40.6 607.5 40.7 605.5 41.3 601.0 41.2 599.5 39.8 594.5 39.3 591.0 39.2 587.5 39.7 580.5 38.7 573.5 38.5 571.0 38.7 567.0 39.4 560.0 38.7 552.5 38.6 548.5 39.1 545.0 39.9 542.5 41.0 541.0 42.0 540.4 43.0 540.4 45.5 540.7 49.0 539.8 51.0 540.4 53.0 541.8 53.5 541.9 54.0 541.5 54.5 540.2 54.7 538.5 54.6 537.5 54.0 536.5 52.0 535.1 51.1 534.0 50.6 532.5 50.6 531.5 50.8 530.5 51.5 529.5 52.0 529.2 53.5 528.9 57.0 528.8 58.0 528.3 58.4 527.5 58.8 523.5 59.8 519.0 59.6 518.0 58.4 514.5 58.3 513.0 58.5 511.5 59.0 510.1 59.5 509.4 61.5 508.4 62.0 507.9 62.5 506.6 64.2 500.0 63.4 493.0 63.6 491.0 64.6 487.0 64.7 486.0 64.0 481.8 63.9 479.5 64.5 477.0 65.8 474.5 66.0 473.5 65.8 472.5 64.7 469.5 64.6 467.5 65.1 466.0 66.0 465.0 67.0 464.4 68.5 464.1 70.0 464.4 71.0 465.0 72.1 466.5 72.4 468.0 72.1 469.5 71.6 470.5 70.5 471.6 68.8 473.0 68.1 474.0 68.1 475.0 68.9 478.0 69.1 480.0 68.9 482.0 67.7 486.5 67.8 488.0 68.5 491.5 68.6 493.5 68.4 495.5 67.5 499.0 67.3 500.5 68.1 507.0 67.3 514.0 67.6 520.5 67.2 522.5 66.5 524.1 65.5 525.1 63.5 526.5 61.8 529.0 61.1 531.0 61.1 533.5 61.5 535.5 62.5 538.2 63.0 539.2 63.5 539.7 64.0 539.7 66.5 538.8 67.5 538.9 68.5 539.5 69.5 541.0 70.3 543.0 70.6 545.0 70.6 547.5 70.2 552.0 70.2 553.0 70.6 554.0 72.0 555.3 73.0 555.6 73.5 555.3 75.0 553.7 75.5 553.4 76.5 553.3 77.5 554.0 77.7 554.5 77.8 555.5 77.5 556.3 77.0 556.8 76.0 557.2 74.5 557.3 74.0 557.5 73.7 558.0 73.6 559.0 73.6 563.0 73.4 565.5 72.9 567.5 72.0 569.5 71.0 570.5 68.0 571.4 67.6 572.0 67.6 574.0 68.6 582.5 68.2 584.5 67.0 587.4 66.0 588.8 65.5 589.2 65.0 589.3 64.4 589.0 62.5 586.7 62.0 586.6 61.5 586.9 60.3 588.5 60.7 589.0 63.5 590.9 65.5 592.7 66.5 592.7 68.0 592.2 69.0 591.2 69.4 590.0 69.5 588.5 69.1 583.0 69.8 581.0 70.8 579.0 72.0 577.4 73.0 577.1 73.5 577.3 74.2 578.0 75.3 580.0 75.9 583.0 76.5 590.0 77.0 591.2 79.1 594.0 79.6 595.5 79.7 597.5 79.4 599.0 78.5 600.5 78.0 600.8 77.0 601.1 74.5 600.5 74.0 600.8 73.5 602.0 73.1 604.0 73.1 606.0 74.7 611.5 75.0 613.5 75.0 616.0 74.7 618.5 74.0 621.0 73.0 623.0 72.5 623.2ZM50.5 526.6 50.0 526.8 49.0 526.5 48.0 525.7 47.5 525.0 47.0 524.0 46.6 522.5 46.5 520.0 46.9 518.0 48.3 514.0 48.3 513.0 47.6 509.0 47.7 507.0 48.3 505.0 50.0 502.5 50.7 501.0 50.8 499.5 50.6 495.5 50.9 493.5 51.9 490.0 52.3 484.5 53.0 482.2 53.5 481.8 54.0 481.7 55.0 482.1 56.0 483.0 56.7 484.0 57.0 485.0 57.2 487.0 56.4 491.5 56.5 498.0 56.7 499.0 58.1 501.5 58.4 503.0 58.2 504.0 57.5 505.0 55.0 506.3 54.1 507.0 53.0 510.6 51.8 513.5 51.6 515.0 52.4 519.0 52.5 522.0 51.9 524.5 51.1 526.0 50.5 526.6ZM77.5 531.1 76.0 531.2 74.4 530.5 73.4 529.0 73.1 527.5 73.4 526.0 74.9 522.5 74.7 521.5 73.8 519.0 73.5 516.5 73.7 514.5 74.6 510.5 74.9 505.5 75.4 501.5 74.8 497.5 74.8 496.0 75.3 494.5 76.0 493.7 77.0 493.1 78.0 492.9 79.0 493.2 80.2 494.0 80.8 495.0 81.0 496.5 80.6 498.0 79.3 500.5 79.0 501.5 78.9 507.5 77.9 512.5 77.5 518.0 76.5 522.0 76.8 523.0 79.2 526.0 79.7 527.5 79.7 528.5 79.3 529.5 78.5 530.5 77.5 531.1ZM93.0 543.1 92.0 543.1 91.0 542.2 90.4 540.5 90.4 539.0 90.8 537.0 91.5 535.5 92.5 534.4 93.5 533.9 94.0 534.0 95.0 534.5 95.6 535.5 95.9 537.0 95.9 538.5 95.6 540.0 94.9 541.5 94.0 542.5 93.0 543.1ZM53.6 556.0 54.0 555.7 54.5 554.5 55.8 550.5 56.1 549.0 56.0 548.0 55.5 547.0 55.0 546.5 54.5 546.4 54.0 547.0 53.5 548.4 52.4 552.5 52.4 554.0 52.6 555.0 53.0 555.8 53.5 556.1 53.6 556.0ZM63.6 571.5 65.4 570.5 66.1 569.5 66.1 562.5 66.8 556.0 66.3 554.5 63.6 551.0 62.5 548.5 62.0 547.7 61.5 547.9 61.2 549.0 62.1 553.5 62.3 557.0 62.2 560.5 61.4 565.5 61.3 567.5 61.5 569.0 62.0 570.3 63.0 571.4 63.6 571.5ZM33.0 580.6 32.5 580.7 32.0 580.5 31.0 579.3 30.4 577.5 30.1 575.0 30.3 572.5 31.1 567.5 30.2 562.0 30.2 559.0 30.5 557.5 31.0 556.2 31.5 555.5 32.5 555.0 33.5 555.5 34.2 556.5 34.7 558.0 35.0 560.0 34.8 562.5 34.0 567.5 34.9 573.0 34.9 576.0 34.2 579.0 33.5 580.2 33.0 580.6ZM54.5 576.0 56.0 571.5 56.2 569.0 56.0 567.5 55.6 566.5 55.0 565.5 54.5 565.0 54.0 565.1 53.0 566.9 52.4 569.0 52.2 571.0 52.5 573.3 53.5 575.9 54.0 576.5 54.5 576.0ZM57.2 592.5 59.1 590.0 59.7 589.0 59.8 588.5 57.5 586.0 55.0 581.8 54.5 581.2 54.0 581.3 52.6 584.0 51.3 587.0 51.1 588.5 51.9 589.5 55.5 592.8 56.5 593.0 57.2 592.5ZM46.7 596.5 47.0 596.2 49.6 589.5 49.5 588.5 48.9 588.0 48.0 587.5 47.5 587.5 47.0 587.8 46.6 588.5 46.0 591.1 45.9 595.5 46.0 596.2 46.5 596.8 46.7 596.5ZM75.0 636.5 73.5 637.0 72.0 636.5 71.1 635.5 70.5 634.0 70.3 632.0 70.8 629.5 72.0 626.7 72.5 625.9 73.0 625.5 74.0 625.7 76.0 627.2 76.9 628.5 77.5 630.0 77.6 632.0 77.1 634.0 76.2 635.5 75.0 636.5ZM64.0 641.6 62.3 641.5 61.2 641.0 60.6 640.5 59.2 638.0 57.5 635.7 56.7 634.0 56.5 632.5 56.7 631.0 57.0 630.3 57.5 629.9 58.0 629.7 59.0 630.1 60.0 631.4 60.5 633.0 60.8 636.0 61.2 637.0 62.0 637.5 64.8 638.5 65.4 639.0 65.7 639.5 65.8 640.0 65.5 640.7 65.0 641.2 64.0 641.6ZM71.5 412.2 71.0 412.3 70.5 412.2 69.9 411.5 69.3 410.0 69.1 408.0 69.2 406.5 69.5 405.6 70.1 405.0 71.0 404.7 71.7 405.0 72.2 405.5 72.7 407.0 72.5 410.5 72.1 411.5 71.5 412.2ZM80.0 437.1 79.5 437.3 78.8 437.0 78.2 436.0 78.0 435.0 77.8 430.5 78.1 429.5 78.5 428.8 79.0 428.5 79.5 428.5 80.2 429.0 80.5 429.5 80.8 430.5 80.7 435.5 80.4 436.5 80.0 437.1ZM48.5 464.7 48.0 464.5 47.4 463.5 47.3 462.0 47.5 460.5 48.0 458.9 49.0 457.1 50.0 456.3 50.5 456.3 51.0 456.9 51.2 458.0 51.0 460.5 50.0 463.2 49.0 464.5 48.5 464.7ZM65.5 587.1 65.0 587.1 64.5 586.8 63.0 585.0 62.5 584.7 62.0 584.7 61.5 584.9 60.0 585.9 59.0 585.8 58.5 585.5 56.9 583.5 55.8 580.5 55.6 578.5 55.7 576.5 57.1 570.5 57.3 568.5 57.0 567.0 54.9 561.5 54.7 559.0 55.7 554.0 57.9 548.5 57.6 547.5 55.8 544.5 55.3 543.0 55.2 541.5 55.5 538.0 55.3 537.0 54.6 536.0 52.0 534.0 51.4 533.0 51.3 532.0 51.7 530.5 52.5 529.8 54.0 529.4 58.0 529.2 58.5 528.9 59.0 528.0 59.2 523.5 60.6 519.5 60.6 518.5 60.3 517.5 59.0 515.0 58.7 512.5 59.0 511.3 59.5 510.4 60.5 509.8 62.0 509.6 62.5 509.0 63.6 504.5 65.2 500.0 64.1 495.5 63.9 493.0 64.4 490.0 65.8 486.5 64.5 482.1 64.3 480.0 64.6 478.5 65.0 477.2 65.5 476.4 66.5 475.6 67.0 475.6 67.5 476.1 68.0 476.9 68.5 478.5 68.6 480.0 68.3 482.5 66.7 486.5 67.8 490.5 68.1 493.0 67.7 496.0 66.3 500.0 67.4 504.5 67.6 506.5 67.5 509.0 66.7 513.5 67.1 518.5 67.1 520.5 66.7 522.5 66.0 523.7 65.5 524.2 63.5 525.5 60.8 529.5 60.4 531.0 60.5 533.0 61.0 535.5 63.0 541.3 63.5 541.4 65.5 539.9 67.0 539.6 68.0 539.9 68.5 540.4 69.5 542.0 70.1 544.0 70.2 546.5 70.0 549.0 69.2 553.0 69.2 554.0 70.0 555.0 71.8 556.5 72.6 557.5 73.0 559.6 73.2 563.0 72.7 566.5 72.2 568.0 71.5 569.1 70.5 569.8 69.5 570.0 68.5 569.8 67.5 569.0 66.8 567.0 66.5 563.5 66.8 560.5 67.8 555.5 67.7 554.5 65.5 552.4 64.2 550.5 63.6 549.0 62.5 544.9 62.0 544.9 61.5 545.3 60.1 547.0 59.5 548.0 59.5 549.0 61.3 553.0 61.8 556.5 61.6 561.0 60.5 567.0 60.6 569.0 62.0 572.0 63.0 573.0 63.5 573.0 65.5 572.4 66.0 572.5 66.5 573.2 66.8 574.0 67.4 577.0 67.7 580.5 67.6 583.0 67.2 584.5 66.6 586.0 66.0 586.8 65.5 587.1ZM50.5 525.5 50.0 525.8 49.0 525.7 47.8 524.5 47.0 522.5 46.9 520.0 47.5 517.5 49.5 514.0 49.3 513.0 48.5 510.9 48.2 509.5 48.2 507.0 49.0 505.0 50.7 503.0 51.3 501.5 51.5 500.0 51.1 497.0 51.1 495.0 52.6 490.0 52.7 486.5 53.0 484.5 53.5 483.5 54.0 483.1 54.5 483.0 55.5 483.5 55.9 484.0 56.5 485.5 56.5 487.5 55.7 491.5 56.0 495.0 56.0 498.0 56.4 499.5 57.6 501.5 57.9 503.0 57.7 504.0 57.0 504.8 54.3 506.0 53.7 506.5 53.3 507.5 52.4 510.5 50.4 514.0 51.7 518.0 52.1 520.5 52.1 522.0 51.7 523.5 51.3 524.5 50.5 525.5ZM76.0 520.1 75.5 520.3 75.0 520.0 74.7 519.5 74.3 518.5 74.0 517.0 74.2 515.0 75.2 511.0 75.4 505.5 76.2 501.5 76.2 500.5 75.5 497.9 75.4 496.5 75.6 495.5 76.2 494.5 77.0 493.9 78.0 493.7 79.0 494.0 79.6 494.5 80.2 495.5 80.3 496.5 80.0 497.6 78.4 500.5 78.1 501.5 78.5 505.0 78.5 507.0 77.3 512.0 77.0 517.8 76.5 519.4 76.0 520.1ZM42.5 610.1 42.0 610.0 41.5 609.4 41.1 608.0 41.1 605.5 41.9 599.5 41.7 598.5 40.1 594.0 39.6 590.5 39.6 587.5 40.1 580.5 39.0 573.0 38.9 569.5 39.9 559.5 39.0 552.5 39.0 548.0 39.4 545.5 40.0 543.5 40.5 542.5 41.5 541.5 42.0 541.3 43.0 541.4 45.5 542.2 48.0 541.4 49.0 541.2 50.1 541.5 51.4 542.5 52.0 543.5 52.4 545.0 52.4 546.5 52.1 548.0 50.4 552.5 50.2 553.5 50.4 555.0 52.1 559.0 52.6 561.0 52.6 562.5 52.3 564.0 50.5 569.5 50.2 571.0 50.5 572.5 52.0 577.0 52.3 578.5 52.3 580.0 51.7 582.5 51.2 583.5 50.5 584.3 49.5 585.0 47.0 585.0 46.5 585.4 46.0 586.6 45.5 589.2 44.7 596.5 44.9 598.0 45.7 601.0 45.5 604.0 45.1 606.0 44.4 608.0 43.5 609.5 42.5 610.1ZM32.5 579.6 32.0 579.5 31.3 578.5 30.6 576.0 30.8 572.5 32.0 567.5 31.8 566.5 30.8 563.0 30.5 560.5 30.6 559.0 31.0 557.4 31.5 556.5 32.0 556.1 32.5 555.9 33.0 556.0 33.5 556.5 34.0 557.3 34.5 559.0 34.6 560.5 34.3 563.0 33.2 566.5 33.1 567.5 34.3 572.5 34.4 576.0 33.8 578.5 33.0 579.5 32.5 579.6ZM72.0 621.5 71.0 620.8 70.5 620.1 69.6 617.5 69.3 615.0 69.5 609.5 69.3 608.0 68.8 607.0 65.5 602.6 65.0 602.2 64.5 602.1 62.0 603.5 60.5 603.8 59.0 603.2 57.5 601.8 56.5 601.3 55.5 601.9 53.5 605.2 53.0 605.3 51.0 603.4 49.4 601.5 48.5 599.5 48.2 597.5 48.4 596.0 49.1 594.0 50.0 592.5 51.0 591.7 52.0 591.8 53.0 592.3 56.0 594.9 56.5 594.8 57.0 594.5 59.0 592.0 60.0 591.2 60.5 591.1 61.5 591.3 62.5 591.9 64.5 594.3 65.0 594.8 65.5 594.9 66.5 594.5 69.0 593.0 69.8 592.0 70.1 591.0 70.0 584.5 70.3 582.0 70.8 580.5 71.5 579.2 72.3 578.5 73.0 578.3 74.0 578.9 74.4 579.5 75.2 581.5 75.6 584.0 75.7 589.5 76.0 591.2 76.5 592.2 78.5 594.3 79.0 595.5 79.2 597.0 78.9 598.5 78.5 599.3 78.0 599.8 77.5 600.0 76.5 600.0 74.5 598.6 74.0 598.6 73.5 599.1 73.0 600.6 72.4 604.0 72.3 606.0 72.7 607.5 74.2 611.5 74.6 613.5 74.6 615.5 74.3 618.0 73.7 620.0 73.0 621.1 72.5 621.5 72.0 621.5ZM55.0 620.6 54.5 620.8 53.5 620.8 52.5 620.1 51.6 618.5 51.1 616.0 51.1 613.5 51.5 610.8 52.5 607.8 53.0 606.7 53.5 606.2 55.0 607.9 55.9 609.5 56.6 611.5 56.9 613.5 57.0 615.5 56.7 617.5 56.0 619.3 55.0 620.6ZM74.0 636.0 73.0 636.0 72.0 635.3 71.2 634.0 71.0 632.5 71.2 630.5 71.7 629.0 72.5 627.8 73.5 627.1 74.0 627.1 75.0 627.5 76.0 628.5 76.6 629.5 76.9 631.0 76.7 633.0 76.1 634.5 75.0 635.6 74.0 636.0ZM66.0 497.1 65.5 496.9 65.0 496.1 64.6 494.5 64.5 493.0 64.6 491.5 65.0 490.4 65.5 489.6 66.0 489.3 66.5 489.5 67.0 490.2 67.4 491.5 67.6 493.0 67.4 494.5 67.0 496.0 66.5 496.8 66.0 497.1ZM51.0 511.2 50.5 511.4 50.0 511.4 49.5 511.0 48.9 509.5 48.8 507.5 49.0 506.5 49.5 505.6 51.5 503.8 52.0 502.8 52.4 500.0 51.7 497.0 51.8 495.0 52.5 492.9 54.0 490.9 54.5 491.5 55.3 494.5 55.3 499.0 57.1 501.5 57.4 503.0 57.0 504.0 56.5 504.5 55.5 504.9 53.5 505.4 53.0 505.8 52.7 506.5 52.0 509.7 51.0 511.2ZM60.5 527.7 60.0 527.4 59.7 526.5 59.7 524.0 60.4 522.0 62.0 519.5 62.8 516.0 64.0 513.5 63.6 509.5 63.7 507.0 64.0 505.3 64.5 504.0 65.0 503.2 65.5 502.9 66.0 503.1 66.5 503.8 67.1 506.5 66.9 509.0 65.6 513.5 66.5 518.0 66.5 521.0 66.0 522.3 65.5 523.0 63.1 524.5 61.5 526.9 60.5 527.7ZM50.0 524.7 49.0 524.7 48.2 524.0 47.7 523.0 47.4 521.5 47.5 519.5 48.0 518.0 48.5 517.1 49.5 516.4 50.0 516.4 50.5 516.9 51.0 517.7 51.5 519.0 51.7 520.5 51.3 523.0 50.8 524.0 50.0 524.7ZM59.5 545.7 58.5 545.9 58.0 545.7 57.0 544.6 56.4 543.5 56.0 541.5 56.2 537.5 56.0 536.5 55.3 535.5 53.0 533.9 52.5 533.3 52.2 532.5 52.2 531.5 52.5 531.0 53.5 530.2 55.0 529.9 57.5 530.1 58.9 530.5 59.3 531.0 60.2 535.0 61.5 539.0 61.8 541.0 61.7 542.5 61.3 543.5 60.5 544.8 59.5 545.7ZM68.0 552.3 67.5 552.5 66.5 552.1 65.4 551.0 64.3 549.0 63.8 546.5 63.8 544.0 64.2 542.5 65.4 541.0 66.5 540.4 67.5 540.5 68.5 541.4 69.3 543.0 69.7 545.0 69.8 547.0 69.4 549.5 68.7 551.5 68.0 552.3ZM43.0 597.1 42.5 597.1 41.5 596.0 40.6 594.0 40.1 592.0 39.9 588.0 40.7 582.0 40.7 580.0 39.5 573.5 39.3 570.0 39.5 566.5 40.5 560.0 40.4 558.0 39.4 552.0 39.4 547.5 39.8 545.5 40.5 543.8 41.5 542.6 42.5 542.4 43.5 542.8 46.0 544.8 46.5 544.7 48.5 543.4 49.5 543.5 50.4 544.5 50.7 546.0 50.3 547.5 49.5 548.7 48.5 549.0 47.0 548.4 46.5 548.6 46.0 549.4 45.0 553.5 44.5 558.0 45.0 560.7 45.5 561.7 46.0 562.2 47.5 559.7 48.5 558.8 49.0 558.8 49.5 559.0 50.0 559.5 50.5 560.7 50.7 562.0 50.6 563.5 50.2 564.5 49.5 565.4 49.0 565.7 48.5 565.7 46.5 564.2 46.0 564.6 45.5 567.7 45.3 573.0 45.5 577.0 46.0 578.4 46.5 578.3 48.0 576.6 49.0 576.3 49.5 576.6 50.1 577.5 50.4 578.5 50.4 580.0 50.0 581.3 49.5 581.8 49.0 582.0 48.0 581.8 46.5 580.7 46.0 581.0 45.3 584.0 44.4 593.0 43.6 596.0 43.0 597.1ZM59.0 566.5 58.5 566.4 58.0 565.9 56.9 564.0 56.1 562.0 55.7 559.5 55.9 557.0 56.5 554.3 57.5 552.1 58.5 551.3 59.0 551.3 59.5 551.6 60.5 553.0 61.1 555.0 61.3 557.5 61.3 560.0 60.8 562.5 60.0 565.0 59.5 565.9 59.0 566.5ZM70.5 568.8 70.0 568.9 69.0 568.8 68.0 568.0 67.4 566.5 67.1 564.5 67.1 561.5 67.7 559.0 68.5 557.1 69.0 556.6 69.5 556.5 70.5 556.7 71.8 558.0 72.4 559.5 72.7 561.5 72.7 564.0 72.4 566.0 71.5 567.9 70.5 568.8ZM65.5 585.4 65.0 585.3 64.5 585.0 63.0 583.0 62.5 582.7 62.0 582.8 60.0 584.3 59.0 584.3 58.0 583.5 57.1 582.0 56.7 580.5 56.4 579.0 56.6 576.0 57.5 572.4 58.5 570.3 59.0 569.8 59.5 570.0 60.0 570.5 62.5 574.5 63.0 574.9 63.5 574.8 65.0 574.1 65.5 574.2 66.0 574.7 66.4 575.5 67.0 578.5 67.1 581.5 66.5 584.1 66.0 585.0 65.5 585.4ZM33.0 578.1 32.5 578.3 32.0 578.0 31.4 577.0 31.1 575.5 31.1 574.0 31.5 572.1 32.0 571.0 32.5 570.6 33.0 571.0 33.5 572.0 33.9 574.0 33.7 576.5 33.5 577.3 33.0 578.1ZM70.5 606.4 69.5 606.0 67.8 604.5 66.8 603.0 65.0 599.8 64.5 600.0 63.3 601.5 62.0 602.6 61.0 602.9 60.5 602.9 59.5 602.4 58.6 601.5 57.7 600.0 57.2 598.5 57.2 597.5 57.8 595.5 58.6 594.0 59.5 593.0 60.5 592.4 61.5 592.6 62.7 593.5 65.0 597.6 65.5 597.5 66.7 596.0 67.9 595.0 71.0 593.4 71.3 593.0 71.4 592.5 70.7 586.5 70.7 583.5 71.5 580.9 72.1 580.0 72.5 579.7 73.0 579.6 73.5 579.7 74.0 580.2 74.9 582.5 75.2 585.5 75.0 589.0 74.5 592.5 74.0 593.2 72.9 594.0 72.6 594.5 72.4 599.0 72.1 601.5 71.0 605.9 70.5 606.4ZM53.0 602.3 52.0 602.3 50.8 601.5 49.8 600.0 49.4 598.5 49.4 597.0 49.7 595.5 50.5 594.2 51.5 593.6 52.5 593.7 53.6 594.5 54.6 596.0 55.2 597.5 55.3 598.5 54.8 600.0 54.0 601.4 53.0 602.3ZM42.5 609.1 42.0 608.7 41.7 608.0 41.5 605.5 42.5 601.2 43.0 600.0 43.5 599.7 44.0 600.0 44.8 601.5 45.0 603.0 44.9 604.5 44.5 606.5 44.0 607.7 43.5 608.5 43.0 608.9 42.5 609.1ZM72.5 620.0 72.0 620.1 71.5 619.9 71.0 619.5 70.3 618.0 69.9 616.0 69.8 614.0 70.0 611.6 70.5 609.3 71.0 608.2 71.5 608.2 72.0 608.6 73.0 610.0 73.6 611.5 74.1 613.5 74.1 615.5 73.9 617.5 73.4 619.0 72.5 620.0ZM54.5 619.7 53.5 619.7 52.5 618.8 51.8 617.0 51.5 615.0 51.8 612.5 52.4 610.5 53.0 609.5 53.5 609.1 54.0 609.1 55.0 609.8 55.7 611.0 56.2 612.5 56.4 614.5 56.4 616.0 56.0 617.7 55.5 618.8 54.5 619.7ZM55.0 504.5 53.5 504.3 53.1 504.0 52.9 503.5 53.0 502.0 53.7 499.5 52.5 497.4 52.3 495.5 52.8 494.0 53.5 493.3 54.1 493.5 54.5 494.1 54.7 495.0 54.6 497.0 54.1 499.0 54.3 499.5 56.5 501.4 57.0 502.5 57.0 503.0 56.5 503.9 56.0 504.2 55.0 504.5ZM61.0 526.2 60.5 526.1 60.2 525.5 60.2 524.5 60.5 523.2 61.0 522.5 62.5 521.5 63.6 517.5 64.5 516.3 65.0 516.2 65.5 516.7 66.0 518.5 66.1 520.0 65.7 521.5 65.4 522.0 64.7 522.5 63.0 522.7 62.5 523.4 61.6 525.5 61.0 526.2ZM59.5 544.6 58.5 544.8 58.0 544.6 57.4 544.0 56.9 543.0 56.5 541.0 56.8 537.0 56.6 536.0 55.8 535.0 53.5 533.5 52.9 532.5 53.0 531.5 54.0 530.7 55.5 530.4 57.0 530.7 58.0 531.0 58.8 532.0 59.5 535.0 60.9 538.5 61.3 540.5 61.2 542.0 60.8 543.0 60.2 544.0 59.5 544.6ZM68.0 551.2 67.5 551.5 67.0 551.5 66.5 551.3 65.7 550.5 64.8 549.0 64.3 547.0 64.2 545.0 64.7 543.0 65.5 541.7 66.5 541.1 67.5 541.2 68.4 542.0 69.0 543.2 69.4 545.0 69.5 546.5 69.2 548.5 68.8 550.0 68.0 551.2ZM42.5 595.5 42.0 595.4 41.5 594.9 41.0 593.9 40.3 591.0 40.3 587.0 41.3 581.5 41.3 580.0 39.9 573.5 39.6 570.0 39.8 566.5 41.2 560.0 41.1 558.5 39.8 553.0 39.6 550.5 39.6 548.5 39.9 546.5 40.5 544.8 41.0 543.9 42.0 543.2 43.0 543.4 44.1 544.5 44.8 546.0 45.1 548.0 44.8 551.0 43.4 559.0 43.5 560.5 44.4 564.0 44.7 567.0 44.6 572.0 44.0 579.0 44.5 585.0 44.4 589.0 43.7 593.5 43.0 595.2 42.5 595.5ZM59.0 564.6 58.5 564.6 58.0 564.2 57.0 562.5 56.4 560.5 56.3 558.5 56.6 556.0 57.3 554.0 58.0 552.9 58.5 552.5 59.0 552.5 59.5 552.8 60.0 553.5 60.5 554.5 60.8 556.0 61.0 558.0 60.8 560.0 60.5 562.0 59.9 563.5 59.0 564.6ZM70.5 568.0 69.5 568.1 68.5 567.5 67.9 566.5 67.4 564.5 67.4 562.0 67.8 560.0 68.5 558.3 69.0 557.7 69.5 557.5 70.5 557.6 71.5 558.6 72.1 560.0 72.4 562.0 72.4 564.0 72.0 565.9 71.5 567.0 70.5 568.0ZM65.5 583.9 65.0 584.0 64.5 583.5 63.0 581.0 62.5 580.8 60.5 582.9 59.5 583.4 58.5 582.9 57.8 582.0 57.0 579.5 57.0 576.5 57.8 573.5 58.5 572.2 59.0 571.8 59.5 571.7 60.5 572.7 62.5 576.5 63.0 576.8 65.0 575.5 65.5 575.7 66.0 576.4 66.5 578.5 66.6 581.0 66.2 583.0 65.5 583.9ZM73.0 591.2 72.5 591.0 72.0 590.3 71.7 589.5 71.2 587.5 71.1 585.5 71.2 583.5 71.6 582.0 72.2 581.0 73.0 580.6 73.5 580.8 74.0 581.4 74.4 582.5 74.8 585.5 74.7 587.5 74.3 589.5 73.9 590.5 73.5 591.0 73.0 591.2ZM61.5 602.1 60.5 602.1 59.4 601.5 58.5 600.0 58.1 598.5 58.1 597.0 58.6 595.5 59.5 594.0 60.5 593.4 61.5 593.5 62.5 594.4 63.4 596.0 63.7 597.5 63.7 599.0 63.4 600.0 62.5 601.3 61.5 602.1ZM70.0 604.7 69.0 604.6 67.5 603.1 66.7 601.5 66.3 599.5 66.5 598.0 67.4 596.5 68.5 595.6 70.0 595.2 70.5 595.4 71.0 595.8 71.4 596.5 71.7 599.0 71.6 601.0 71.1 603.0 70.5 604.4 70.0 604.7ZM54.5 618.8 54.0 618.9 53.5 618.8 53.0 618.3 52.3 617.0 52.0 615.1 52.1 613.5 52.5 611.8 53.0 610.9 53.5 610.4 54.0 610.3 54.5 610.5 54.9 611.0 55.5 612.0 56.0 614.5 55.9 616.0 55.5 617.5 55.0 618.3 54.5 618.8ZM72.0 619.1 71.5 618.9 70.8 618.0 70.5 617.0 70.2 615.0 70.5 611.8 71.0 610.5 71.5 610.0 72.0 610.1 72.5 610.5 73.0 611.3 73.5 612.7 73.7 614.5 73.7 616.0 73.4 617.5 72.9 618.5 72.5 619.0 72.0 619.1ZM59.5 543.5 59.0 543.8 58.5 543.7 58.0 543.4 57.5 542.8 57.1 541.5 57.1 539.0 58.0 535.6 58.5 535.7 59.5 536.7 60.0 537.6 60.7 539.5 60.7 541.0 60.5 542.0 60.0 543.0 59.5 543.5ZM67.0 550.5 66.1 550.0 65.5 549.2 65.0 547.9 64.7 546.0 64.8 544.5 65.3 543.0 66.0 542.2 67.0 541.9 68.0 542.4 68.5 543.2 68.9 544.5 69.1 546.0 69.0 547.5 68.5 549.3 68.0 550.1 67.5 550.5 67.0 550.5ZM42.0 557.2 41.5 556.8 40.5 554.4 40.0 552.0 39.9 550.0 40.0 548.0 40.5 546.0 41.0 545.0 41.5 544.4 42.0 544.2 42.5 544.3 43.0 544.6 43.7 545.5 44.2 547.0 44.3 548.5 44.2 551.0 43.5 554.4 42.7 556.5 42.5 556.9 42.0 557.2ZM59.0 563.0 58.5 563.0 58.0 562.6 57.5 561.8 57.0 560.0 56.9 558.5 57.0 557.0 57.5 555.2 58.0 554.3 58.5 553.9 59.0 553.9 59.5 554.2 60.0 555.1 60.4 556.5 60.5 558.0 60.4 559.5 60.0 561.5 59.5 562.5 59.0 563.0ZM70.5 567.2 69.5 567.3 68.6 566.5 68.0 565.1 67.8 563.5 67.9 561.5 68.5 559.6 69.0 558.8 69.5 558.5 70.0 558.4 71.0 559.0 71.5 559.9 72.1 562.5 72.0 564.0 71.7 565.5 71.2 566.5 70.5 567.2ZM42.5 577.9 42.0 577.8 41.0 576.0 40.3 573.5 39.9 570.5 40.0 568.0 40.5 565.2 41.0 563.7 41.5 562.6 42.0 562.1 42.5 562.2 43.0 562.9 43.5 564.2 44.0 566.5 44.1 568.5 44.0 571.5 43.7 574.5 43.0 577.1 42.5 577.9ZM59.5 582.2 59.0 582.0 58.5 581.6 58.0 580.8 57.7 579.5 57.5 578.0 57.6 576.5 58.0 574.9 58.5 573.9 59.0 573.4 59.5 573.3 60.3 574.0 61.0 575.3 61.5 577.0 61.7 578.5 61.3 580.0 60.9 581.0 60.0 582.0 59.5 582.2ZM42.5 594.1 42.0 594.1 41.5 593.6 41.0 592.5 40.7 591.0 40.6 589.0 41.1 585.0 42.0 582.4 42.5 581.9 43.0 582.3 43.5 583.5 44.0 587.5 43.9 590.0 43.6 592.0 43.0 593.6 42.5 594.1ZM42.5 554.6 42.0 555.0 41.5 554.8 41.0 553.9 40.5 552.1 40.4 550.5 40.4 548.5 40.7 547.0 41.5 545.6 42.0 545.4 42.5 545.5 43.0 546.1 43.4 547.0 43.6 548.5 43.4 552.0 43.0 553.5 42.5 554.6ZM42.5 575.1 42.0 575.3 41.5 575.0 41.0 574.0 40.5 572.1 40.4 570.5 40.4 568.5 40.8 566.5 41.5 564.8 42.0 564.4 42.5 564.7 43.0 565.7 43.5 568.5 43.3 572.5 43.0 574.0 42.5 575.1ZM42.5 592.4 42.0 592.5 41.5 591.8 41.1 589.0 41.5 586.2 42.0 585.1 42.5 584.9 43.1 586.0 43.4 588.5 43.1 591.0 42.5 592.4Z" stroke-width="0.95"/>
<path d="M64.5 436.2 63.5 436.4 63.0 436.3 62.5 436.0 62.2 435.5 61.9 434.5 62.1 433.0 62.7 432.0 63.5 431.2 64.5 430.9 65.2 431.0 65.8 431.5 66.1 432.0 66.3 433.0 66.1 434.0 65.7 435.0 64.5 436.2ZM58.0 446.1 57.0 446.0 56.5 445.5 56.1 444.5 56.2 443.5 56.5 442.5 57.3 441.5 58.0 441.0 59.0 440.9 59.5 441.0 60.0 441.5 60.3 442.5 60.3 443.5 59.5 445.2 59.0 445.7 58.0 446.1ZM77.0 489.2 76.5 489.3 75.5 488.8 74.8 487.5 74.7 486.5 75.0 485.5 75.5 484.9 76.0 484.7 77.0 484.7 77.5 485.1 78.0 486.0 78.1 487.0 78.0 487.8 77.5 488.8 77.0 489.2ZM41.5 494.6 40.0 494.9 39.0 494.5 38.7 493.5 38.9 492.5 39.5 491.5 41.0 490.3 42.5 489.9 43.3 490.0 44.0 490.6 44.1 491.0 44.1 492.0 43.1 493.5 41.5 494.6ZM88.0 511.6 87.5 511.8 87.0 511.6 86.5 511.2 86.0 510.4 85.7 509.0 86.1 507.0 86.5 506.3 87.0 505.9 87.5 505.8 88.0 506.0 88.6 506.5 89.1 507.5 89.3 508.5 88.9 510.5 88.5 511.2 88.0 511.6ZM82.0 545.1 80.5 545.4 79.5 545.2 78.3 544.5 77.7 543.5 77.7 542.0 78.2 541.0 79.2 540.0 80.5 539.3 82.0 539.2 83.0 539.5 83.7 540.0 84.4 541.0 84.6 542.0 84.0 543.5 83.1 544.5 82.0 545.1ZM89.0 554.5 88.5 554.4 88.0 553.7 87.8 552.5 87.8 551.5 88.5 549.3 89.0 548.5 90.0 547.8 90.5 548.0 91.0 549.0 91.0 551.5 90.3 553.5 89.5 554.4 89.0 554.5ZM54.5 570.5 54.5 569.9 54.5 570.5ZM56.8 591.0 57.3 590.5 57.6 589.5 57.4 588.0 55.5 584.9 55.0 584.5 54.5 584.4 54.0 584.7 53.4 586.0 53.2 587.5 53.4 588.5 54.3 590.0 55.4 591.0 56.0 591.3 56.8 591.0ZM76.0 656.7 75.0 656.7 74.5 656.4 74.0 655.6 73.9 655.0 74.0 654.0 74.3 653.5 75.0 652.9 75.5 652.8 76.5 653.2 77.1 654.5 76.8 656.0 76.0 656.7ZM87.5 708.0 86.5 708.2 85.5 707.9 84.9 707.5 84.2 706.5 83.9 705.5 83.9 704.5 84.3 703.5 85.0 702.9 86.0 702.8 86.8 703.0 87.5 703.5 88.2 704.5 88.5 705.5 88.5 706.5 88.1 707.5 87.5 708.0ZM64.0 435.6 63.5 435.6 63.0 435.3 62.6 434.0 63.1 432.5 63.5 432.0 64.5 431.7 65.0 431.8 65.5 432.5 65.6 433.5 65.0 434.9 64.0 435.6ZM46.5 445.5 46.0 445.8 45.3 445.5 44.7 444.5 44.5 443.5 44.6 442.5 45.0 441.3 45.5 440.6 46.0 440.4 46.5 440.4 47.0 440.9 47.5 442.5 47.2 444.5 46.5 445.5ZM58.5 445.3 57.5 445.3 57.0 445.0 56.7 444.0 57.2 442.5 57.6 442.0 58.5 441.6 59.0 441.7 59.5 442.0 59.8 443.0 59.5 444.2 59.0 444.9 58.5 445.3ZM88.0 466.2 87.5 466.1 86.5 465.0 85.9 463.5 85.7 462.0 86.0 460.5 86.5 459.5 87.0 459.1 88.0 458.9 89.0 459.4 89.4 460.0 89.9 462.0 89.7 463.5 89.4 464.5 88.5 465.9 88.0 466.2ZM88.0 474.5 87.5 474.4 87.0 473.7 86.7 472.0 87.0 470.3 87.5 469.4 88.0 469.2 88.5 469.5 89.0 470.4 89.3 472.0 89.0 473.7 88.5 474.4 88.0 474.5ZM52.5 479.0 52.0 478.9 51.0 478.0 50.3 476.0 50.3 474.5 50.5 473.5 51.0 472.8 51.5 472.6 52.0 472.7 52.5 473.0 53.0 473.7 53.4 475.0 53.3 477.5 53.0 478.5 52.5 479.0ZM77.0 488.3 76.5 488.5 76.0 488.4 75.3 487.5 75.2 486.5 75.3 486.0 76.0 485.3 76.5 485.2 77.0 485.4 77.5 486.0 77.6 487.5 77.0 488.3ZM41.0 494.1 40.0 494.1 39.5 493.5 39.5 493.0 39.9 492.0 40.5 491.3 41.5 490.8 42.5 490.6 43.0 490.9 43.3 491.5 43.1 492.5 42.3 493.5 41.0 494.1ZM88.0 510.7 87.5 510.9 87.0 510.7 86.5 510.0 86.3 509.0 86.5 507.5 87.0 506.9 87.5 506.7 88.0 506.9 88.5 507.5 88.7 508.5 88.5 510.0 88.0 510.7ZM82.0 544.5 81.0 544.8 80.0 544.8 79.0 544.3 78.4 543.5 78.3 542.5 78.6 541.5 79.4 540.5 80.5 539.9 81.5 539.8 82.6 540.0 83.3 540.5 83.8 541.5 83.6 543.0 83.0 543.8 82.0 544.5ZM89.5 553.7 89.0 553.8 88.5 553.5 88.2 552.5 88.2 551.5 88.5 550.3 89.0 549.4 89.5 549.0 90.0 549.0 90.5 549.5 90.6 550.0 90.6 551.5 90.1 553.0 89.5 553.7ZM76.0 656.1 75.5 656.2 75.0 656.1 74.5 655.5 74.4 654.5 74.6 654.0 75.0 653.5 75.5 653.4 76.0 653.5 76.5 654.1 76.6 655.0 76.5 655.5 76.0 656.1ZM74.0 682.3 73.5 682.4 73.0 682.2 72.6 681.5 72.4 680.5 72.4 679.0 72.9 677.5 73.5 676.3 74.3 675.5 75.0 675.2 75.5 675.4 76.0 676.0 76.2 677.0 76.2 678.5 75.5 680.6 74.9 681.5 74.0 682.3ZM87.0 707.3 86.5 707.4 85.5 707.1 84.7 706.0 84.5 705.0 84.7 704.5 85.0 703.9 85.5 703.6 86.0 703.6 87.0 704.0 87.7 705.0 87.9 706.0 87.7 706.5 87.5 707.0 87.0 707.3ZM46.0 443.4 46.0 442.7 46.0 443.4ZM58.0 444.1 57.8 443.5 58.0 443.1 58.5 442.9 58.7 443.5 58.5 444.0 58.0 444.1ZM88.0 464.7 87.5 464.7 86.8 464.0 86.4 463.0 86.3 462.0 86.5 461.0 87.0 460.1 87.5 459.8 88.0 459.8 88.5 460.0 88.9 460.5 89.3 462.0 89.0 463.7 88.5 464.4 88.0 464.7ZM68.0 472.1 67.0 472.0 66.0 470.9 65.4 469.5 65.2 468.0 65.7 466.5 66.5 465.5 67.5 465.0 69.0 464.9 70.0 465.2 71.0 466.0 71.5 467.0 71.7 468.5 71.3 469.5 70.5 470.7 69.5 471.5 68.0 472.1ZM88.0 473.2 87.5 472.6 87.5 472.0 88.0 471.2 88.5 472.0 88.5 472.5 88.0 473.2ZM52.0 476.9 51.5 476.6 51.2 475.5 51.5 474.5 52.0 474.4 52.5 475.5 52.5 476.1 52.0 476.9ZM76.5 487.3 76.0 487.1 76.0 486.5 76.5 486.2 76.8 486.5 76.8 487.0 76.5 487.3ZM77.0 530.6 76.0 530.6 74.7 530.0 74.0 529.0 73.7 528.0 73.7 527.0 74.3 525.5 75.0 524.5 75.5 524.1 76.0 524.0 77.0 524.4 78.0 525.3 78.9 526.5 79.2 527.5 79.1 528.5 78.7 529.5 78.0 530.2 77.0 530.6ZM93.5 541.5 92.5 541.8 92.0 541.5 91.4 540.5 91.2 539.0 91.5 537.5 92.0 536.4 92.5 535.8 93.5 535.3 94.0 535.4 94.7 536.0 95.1 537.0 95.1 538.0 94.7 540.0 94.1 541.0 93.5 541.5ZM81.0 544.1 80.0 543.9 79.5 543.6 79.1 542.5 79.4 541.5 79.9 541.0 80.5 540.7 81.5 540.5 82.6 541.0 83.0 542.1 82.7 543.0 82.3 543.5 81.0 544.1ZM89.5 552.6 89.0 552.6 88.8 552.0 89.0 550.8 89.5 550.3 90.0 551.0 90.0 551.5 89.5 552.6ZM76.5 556.0 76.0 556.2 75.3 556.0 75.0 555.5 75.1 555.0 75.5 554.5 76.0 554.3 76.7 554.5 77.0 555.0 76.9 555.5 76.5 556.0ZM59.0 636.0 58.0 635.3 57.2 633.5 57.1 632.5 57.3 631.5 57.5 631.0 58.0 630.7 58.5 630.7 59.0 631.0 59.5 631.7 59.9 633.0 59.9 635.0 59.5 635.9 59.0 636.0ZM64.0 640.6 63.0 640.7 62.2 640.5 61.6 640.0 61.4 639.5 61.4 639.0 62.5 638.8 64.0 639.2 64.3 639.5 64.5 640.0 64.0 640.6ZM74.0 681.3 73.5 681.2 73.0 680.5 73.0 678.9 73.5 677.5 74.0 676.7 74.5 676.3 75.0 676.3 75.6 677.0 75.5 679.0 75.0 680.3 74.5 681.0 74.0 681.3ZM71.5 411.6 71.0 411.8 70.4 411.5 70.0 410.9 69.7 409.5 69.7 407.5 69.9 406.5 70.5 405.8 71.0 405.7 71.5 405.9 72.0 406.5 72.2 408.0 72.1 410.5 71.5 411.6ZM79.5 436.7 79.0 436.6 78.6 436.0 78.4 434.5 78.8 430.5 79.0 430.0 79.5 429.9 80.0 430.9 80.3 434.5 80.1 436.0 79.5 436.7ZM88.0 462.6 87.5 462.2 87.5 461.9 88.0 461.8 88.0 462.6ZM69.0 470.6 68.0 470.8 67.5 470.7 66.7 470.0 66.2 469.0 66.1 468.0 66.4 467.0 67.0 466.3 68.0 465.8 69.0 465.8 69.5 466.0 70.2 466.5 70.7 467.5 70.7 468.5 70.5 469.2 69.9 470.0 69.0 470.6ZM66.5 483.8 66.0 483.7 65.5 483.0 65.0 481.5 64.9 480.5 65.0 479.2 65.4 478.0 66.0 477.2 66.5 477.0 67.0 477.1 67.5 477.7 68.0 479.0 68.1 480.0 68.0 481.2 67.6 482.5 67.0 483.5 66.5 483.8ZM54.5 489.8 54.0 489.6 53.5 487.0 53.7 485.5 54.0 484.8 54.5 484.5 55.0 484.6 55.5 485.2 55.8 486.5 55.5 488.2 54.5 489.8ZM77.5 499.0 77.0 498.8 76.5 498.0 76.3 496.5 76.5 495.8 77.0 495.2 78.0 494.9 78.5 495.0 79.0 495.4 79.3 496.5 79.1 497.5 78.5 498.4 77.5 499.0ZM76.5 509.1 76.1 507.5 76.1 506.5 76.5 504.5 77.0 504.0 77.5 504.5 77.6 505.0 77.7 507.0 77.5 508.0 77.0 509.0 76.5 509.1ZM61.5 515.8 61.0 515.9 60.5 515.8 60.0 515.4 59.4 514.0 59.3 513.0 59.5 511.9 60.0 511.2 60.5 510.9 61.0 511.0 61.6 511.5 62.2 513.0 62.2 515.0 61.5 515.8ZM75.5 518.3 74.9 517.5 74.8 516.0 75.0 515.0 75.5 514.0 76.0 513.9 76.3 515.0 76.4 516.5 76.0 517.9 75.5 518.3ZM77.5 529.6 77.0 529.9 76.0 529.9 75.0 529.3 74.5 528.5 74.4 527.5 74.5 526.8 75.0 525.8 75.5 525.4 76.0 525.2 77.0 525.4 77.7 526.0 78.3 527.0 78.4 528.5 78.0 529.2 77.5 529.6ZM33.0 564.2 32.5 564.5 32.0 564.2 31.4 563.0 31.0 561.0 31.1 559.5 31.5 558.0 32.0 557.3 32.5 557.1 33.0 557.2 33.5 557.9 34.0 560.0 33.7 562.5 33.0 564.2ZM77.5 598.6 77.0 598.6 76.5 598.4 75.6 597.0 75.3 596.0 75.3 595.0 75.6 594.5 76.0 594.3 77.0 594.4 77.5 594.7 78.1 595.5 78.3 596.5 78.3 597.5 78.0 598.2 77.5 598.6ZM74.5 634.7 73.5 634.9 72.7 634.5 72.0 633.5 71.8 632.5 71.9 631.0 72.5 629.6 73.0 629.0 74.0 628.6 75.0 629.0 75.5 629.5 76.1 631.0 76.1 632.0 75.9 633.0 75.3 634.0 74.5 634.7ZM58.5 633.7 58.2 633.0 58.5 632.5 58.8 633.0 58.8 633.5 58.5 633.7ZM71.0 411.2 70.5 411.0 70.3 410.5 70.0 409.0 70.5 407.0 71.0 406.8 71.6 407.5 71.9 409.5 71.5 410.9 71.0 411.2ZM79.5 436.1 79.0 435.8 78.8 435.0 79.0 433.7 79.5 433.4 80.0 435.0 79.5 436.1ZM69.0 469.5 68.5 469.7 67.7 469.5 67.0 468.5 67.2 467.5 68.0 466.8 69.0 466.8 69.7 467.5 69.8 468.5 69.5 469.1 69.0 469.5ZM67.0 482.1 66.5 482.5 66.0 482.2 65.5 481.0 65.4 480.0 65.7 479.0 66.0 478.4 66.5 478.1 67.0 478.4 67.5 479.5 67.5 481.0 67.0 482.1ZM66.5 495.2 66.0 495.5 65.5 495.2 65.0 493.5 65.3 491.5 65.5 491.1 66.0 490.8 66.5 491.1 67.0 492.5 66.9 494.0 66.5 495.2ZM65.5 510.5 65.0 510.5 64.5 509.8 64.2 508.0 64.5 505.7 65.0 504.7 65.5 504.4 66.0 504.7 66.2 505.0 66.5 505.9 66.6 507.0 66.3 509.0 66.0 509.9 65.5 510.5ZM50.5 510.2 50.0 510.0 49.6 509.5 49.4 508.0 49.5 507.2 50.0 506.3 51.0 505.7 51.5 505.9 51.7 506.5 51.8 508.0 51.3 509.5 51.0 509.9 50.5 510.2ZM60.5 514.1 60.1 513.5 60.1 513.0 60.5 512.4 60.9 513.0 60.9 513.5 60.5 514.1ZM49.5 524.1 49.0 523.9 48.2 523.0 47.8 521.0 47.9 519.5 48.3 518.5 49.0 517.6 49.5 517.4 50.0 517.5 50.8 518.5 51.1 519.5 51.3 521.0 50.8 523.0 50.0 524.0 49.5 524.1ZM77.0 529.1 76.5 529.2 75.7 529.0 75.0 528.0 75.1 527.0 75.5 526.4 76.0 526.1 77.0 526.3 77.5 526.8 77.8 527.5 77.7 528.5 77.0 529.1ZM33.0 562.5 32.5 562.9 32.0 562.5 31.6 561.0 31.6 560.0 31.8 559.0 32.0 558.5 32.5 558.2 33.0 558.5 33.5 560.0 33.5 561.0 33.0 562.5ZM33.0 576.5 32.5 576.9 32.0 576.5 31.7 575.5 31.8 573.5 32.0 572.9 32.5 572.5 33.0 572.9 33.3 574.0 33.3 575.5 33.0 576.5ZM53.0 600.6 52.5 600.8 51.5 600.6 50.9 600.0 50.4 599.0 50.3 597.5 50.4 596.5 51.0 595.5 51.5 595.1 52.0 595.1 52.9 595.5 53.8 597.0 54.0 598.0 53.9 599.0 53.5 600.0 53.0 600.6ZM43.0 608.0 42.5 608.1 42.1 607.5 41.9 605.5 42.5 602.9 43.0 602.0 43.5 601.6 44.0 602.0 44.2 602.5 44.4 604.5 44.0 606.6 43.5 607.6 43.0 608.0ZM74.0 633.7 73.5 633.6 73.0 633.2 72.7 632.0 73.0 630.6 73.5 630.1 74.0 629.9 74.5 630.0 75.0 630.5 75.2 631.5 75.0 632.8 74.5 633.4 74.0 633.7ZM71.0 410.0 70.9 409.5 71.0 409.1 71.0 410.0ZM56.0 503.5 55.0 503.8 54.5 503.7 54.0 503.2 53.8 502.5 53.9 502.0 54.5 501.2 55.0 501.2 55.5 501.4 56.1 502.0 56.3 503.0 56.0 503.5ZM49.5 523.1 49.0 522.9 48.7 522.5 48.3 521.0 48.5 519.5 49.0 518.7 49.5 518.5 50.0 518.7 50.5 519.4 50.7 521.0 50.3 522.5 50.0 523.0 49.5 523.1ZM65.0 520.0 64.5 520.2 64.5 519.3 65.0 519.3 65.0 520.0ZM58.0 534.7 57.5 534.8 54.8 533.5 53.9 532.5 54.0 531.8 54.2 531.5 55.0 531.2 56.0 531.2 57.0 531.5 57.6 532.0 58.0 532.8 58.0 534.7ZM65.5 581.9 65.0 582.0 64.6 581.5 64.1 580.0 64.2 578.5 64.5 577.9 65.0 577.5 65.5 577.8 65.9 579.5 65.9 580.5 65.5 581.9ZM73.0 589.1 72.5 588.8 72.0 587.8 71.7 585.5 72.0 583.0 72.5 582.2 73.0 581.9 73.5 582.2 74.0 583.2 74.3 585.5 74.0 587.7 73.5 588.8 73.0 589.1ZM61.5 601.2 60.5 601.3 60.0 601.0 59.2 600.0 58.8 598.5 58.8 597.0 59.1 596.0 59.7 595.0 60.5 594.4 61.4 594.5 62.0 595.0 62.6 596.0 63.0 597.5 62.8 599.5 62.3 600.5 61.5 601.2ZM70.0 603.2 69.5 603.5 68.5 603.1 67.7 602.0 67.2 600.5 67.1 599.0 67.4 598.0 68.0 597.2 69.0 596.5 70.0 596.6 70.4 597.0 71.0 598.5 71.0 601.0 70.5 602.5 70.0 603.2ZM43.0 606.5 42.7 606.0 42.7 605.0 43.0 604.0 43.5 603.9 43.6 605.5 43.0 606.5ZM54.5 617.5 54.0 617.7 53.5 617.5 53.0 616.9 52.6 615.5 52.6 614.0 53.0 612.6 53.5 611.9 54.0 611.8 54.5 612.0 55.0 612.8 55.4 614.5 55.1 616.5 54.5 617.5ZM72.5 617.6 72.0 617.9 71.5 617.6 71.0 616.7 70.8 615.5 70.7 614.0 71.0 612.6 71.5 611.7 72.0 611.6 72.5 612.0 73.0 613.0 73.2 614.5 73.0 616.5 72.5 617.6ZM59.5 542.2 59.0 542.5 58.5 542.4 58.0 541.8 57.7 541.0 57.9 539.0 58.5 538.0 59.0 537.9 59.5 538.4 60.0 539.5 60.0 541.0 59.5 542.2ZM67.5 549.3 67.0 549.5 66.5 549.3 66.0 548.7 65.5 547.6 65.3 546.5 65.3 545.0 65.6 544.0 66.4 543.0 67.0 542.8 67.5 543.0 68.0 543.6 68.6 545.5 68.5 547.5 68.0 548.8 67.5 549.3ZM59.0 561.1 58.5 561.1 58.0 560.4 57.7 558.5 58.0 556.4 58.5 555.6 59.0 555.6 59.6 556.5 59.8 558.5 59.5 560.4 59.0 561.1ZM70.5 566.1 70.0 566.3 69.5 566.2 69.0 565.8 68.5 564.7 68.3 563.5 68.4 562.0 68.8 560.5 69.5 559.7 70.0 559.5 70.5 559.7 71.0 560.4 71.6 562.5 71.4 564.5 71.0 565.5 70.5 566.1ZM59.5 580.5 59.0 580.4 58.5 579.6 58.3 578.0 58.6 576.0 59.0 575.3 59.5 575.1 60.0 575.5 60.4 576.5 60.7 578.0 60.4 579.5 60.0 580.2 59.5 580.5ZM73.0 585.9 72.9 585.5 73.0 584.7 73.0 585.9ZM61.0 600.1 60.5 600.0 60.0 599.6 59.5 598.0 59.7 597.0 60.0 596.2 60.5 595.7 61.0 595.6 61.5 595.9 61.9 596.5 62.2 598.0 61.8 599.5 61.0 600.1ZM69.5 601.7 69.0 601.8 68.5 601.4 68.1 600.0 68.5 598.5 69.0 598.1 69.5 598.2 69.8 598.5 70.1 599.5 70.0 601.0 69.5 601.7ZM72.0 615.2 72.0 614.4 72.0 615.2ZM67.5 547.6 67.0 548.0 66.5 547.7 66.1 546.5 66.2 545.0 66.5 544.4 67.0 544.2 67.5 544.6 67.8 545.5 67.8 546.5 67.5 547.6ZM42.0 552.7 41.5 552.6 41.3 552.0 40.9 550.0 41.2 548.0 41.5 547.4 42.0 547.1 42.5 547.5 42.9 549.5 42.5 552.0 42.0 552.7ZM70.5 564.5 70.0 564.9 69.5 564.6 69.1 563.5 69.2 562.0 69.5 561.3 70.0 561.1 70.5 561.4 70.8 562.5 70.8 563.5 70.5 564.5ZM42.0 572.9 41.4 572.5 41.0 571.0 40.9 570.0 41.0 568.8 41.3 567.5 41.5 567.1 42.0 566.8 42.5 567.5 42.8 570.0 42.5 572.1 42.0 572.9Z" stroke-width="0.76"/>
</g>
<g fill="none" stroke="#000" stroke-linejoin="round">
<path d="M80.5 683.0 79.5 683.0 78.5 682.5 78.0 681.8 77.7 681.0 77.8 680.0 78.0 679.4 78.5 678.7 79.5 678.2 80.5 678.2 81.2 678.5 81.8 679.0 82.2 680.0 82.3 681.0 81.9 682.0 81.5 682.5 80.5 683.0Z" stroke-width="0.8"/>
<path d="M80.5 682.3 79.5 682.3 79.0 682.0 78.4 681.0 78.5 679.9 79.0 679.2 79.5 678.9 80.7 679.0 81.3 679.5 81.5 680.0 81.6 681.0 81.4 681.5 80.5 682.3Z" stroke-width="0.64"/>
</g>
<g fill="none" stroke="#7b7bff" stroke-linejoin="round">
<path d="M179.0 529.1 178.0 529.1 176.5 528.1 175.8 527.0 175.6 526.0 176.1 522.5 175.2 519.0 174.9 516.5 174.9 515.5 175.6 514.0 176.5 513.4 177.5 513.1 179.0 513.2 180.0 513.7 180.8 514.5 181.3 516.0 181.3 519.0 180.8 522.5 181.5 525.0 181.6 526.5 180.8 528.0 180.0 528.7 179.0 529.1Z" stroke-width="1.5"/>
<path d="M179.0 533.0 178.0 533.2 177.2 532.5 177.3 531.5 178.0 530.6 178.5 530.6 179.0 530.9 179.4 531.5 179.4 532.5 179.0 533.0ZM178.5 578.1 177.5 578.3 177.0 578.0 176.6 577.0 177.0 576.2 177.5 575.9 178.0 575.9 178.8 576.5 179.0 577.0 178.9 577.5 178.5 578.1ZM179.0 636.2 178.5 636.4 177.5 636.4 176.7 636.0 176.3 635.5 176.1 635.0 176.1 634.0 176.5 633.2 177.0 632.8 177.5 632.6 178.5 632.6 179.3 633.0 179.7 633.5 179.9 634.0 179.9 635.0 179.5 635.8 179.0 636.2ZM178.5 646.3 178.0 646.5 177.5 646.4 177.0 646.0 177.0 645.1 177.5 644.6 178.0 644.5 178.7 645.0 178.9 645.5 178.5 646.3ZM185.5 652.6 185.0 652.5 184.5 652.0 184.4 651.5 184.5 651.0 185.0 650.5 185.5 650.4 186.0 650.5 186.5 651.0 186.6 651.5 186.5 652.0 186.0 652.5 185.5 652.6ZM174.0 669.6 173.5 669.8 173.0 669.7 172.5 669.3 172.3 668.5 172.6 668.0 173.0 667.7 173.5 667.6 174.2 668.0 174.5 668.5 174.5 669.0 174.0 669.6Z" stroke-width="1.2"/>
<path d="M179.0 528.6 178.0 528.6 177.0 528.0 176.5 527.5 176.0 526.5 176.0 525.0 176.7 522.5 175.7 519.5 175.2 516.5 175.5 515.0 176.0 514.2 177.0 513.6 178.0 513.4 179.0 513.6 180.0 514.2 180.6 515.0 181.0 516.5 180.9 519.0 180.2 522.5 181.1 525.0 181.2 526.5 180.5 527.8 180.0 528.2 179.0 528.6Z" stroke-width="1.1"/>
<path d="M179.0 528.1 178.0 528.0 177.5 527.8 177.0 527.4 176.5 526.5 176.5 525.0 177.4 523.0 177.5 522.5 176.1 519.5 175.7 517.0 175.7 516.0 176.0 515.0 177.0 514.0 178.0 513.8 179.0 514.0 179.7 514.5 180.3 515.5 180.5 516.5 180.4 519.5 179.4 522.5 180.5 524.7 180.8 526.0 180.5 526.9 180.1 527.5 179.0 528.1Z" stroke-width="0.9"/>
<path d="M179.0 532.6 178.5 533.0 178.0 532.9 177.5 532.5 177.5 531.7 178.0 531.1 178.5 531.0 179.0 531.4 179.2 532.0 179.0 532.6ZM178.5 577.6 178.0 577.9 177.5 577.9 177.0 577.2 177.2 576.5 178.0 576.3 178.4 576.5 178.6 577.0 178.5 577.6ZM178.5 636.1 177.4 636.0 176.7 635.5 176.4 635.0 176.5 633.9 177.0 633.2 177.5 632.9 178.6 633.0 179.3 633.5 179.6 634.0 179.5 635.1 179.0 635.8 178.5 636.1ZM178.0 646.2 177.5 646.1 177.2 645.5 177.5 644.9 178.0 644.8 178.3 645.0 178.6 645.5 178.3 646.0 178.0 646.2ZM186.0 652.1 185.5 652.2 184.9 652.0 184.8 651.5 185.0 650.9 185.5 650.8 186.1 651.0 186.2 651.5 186.0 652.1ZM174.0 669.1 173.5 669.5 173.0 669.3 172.7 669.0 172.7 668.5 173.0 668.0 173.5 667.9 174.0 668.3 174.1 668.5 174.0 669.1Z" stroke-width="0.88"/>
<path d="M178.5 532.6 178.0 532.5 177.8 532.0 178.0 531.7 178.5 531.6 178.8 532.0 178.5 532.6ZM178.5 635.5 177.5 635.5 177.0 635.0 177.0 634.0 177.5 633.5 178.5 633.5 179.0 634.0 179.0 635.0 178.5 635.5ZM178.5 521.2 178.0 521.2 177.5 520.8 177.0 520.2 176.5 519.0 176.3 517.0 176.3 516.0 176.5 515.3 177.0 514.7 178.0 514.4 178.7 514.5 179.4 515.0 179.7 515.5 180.0 516.6 179.9 519.5 179.4 520.5 178.5 521.2ZM179.5 527.2 179.0 527.4 178.0 527.4 177.2 526.5 177.0 526.0 177.2 525.0 178.0 524.0 178.5 523.8 179.0 523.9 180.0 525.0 180.2 526.0 180.0 526.5 179.5 527.2ZM178.5 519.8 178.0 519.8 177.5 519.2 177.0 517.5 177.1 516.0 177.5 515.4 178.0 515.3 178.7 515.5 179.2 516.5 179.2 518.5 179.0 519.3 178.5 519.8ZM179.0 526.1 178.5 526.3 178.2 526.0 178.3 525.5 178.5 525.3 178.9 525.5 179.0 526.1Z" stroke-width="0.72"/>
</g>
<path d="M182.0 599.5 181.0 599.8 179.5 599.9 178.0 599.8 177.0 599.4 176.0 598.7 175.5 598.0 175.4 597.0 175.7 596.0 176.9 595.0 178.5 594.6 180.5 594.7 182.5 595.5 183.6 596.5 183.9 597.5 183.5 598.5 182.0 599.5ZM179.0 656.5 177.5 656.2 176.5 655.4 175.8 654.5 175.5 653.0 175.8 651.5 176.6 650.5 177.5 649.8 179.0 649.5 180.5 649.8 181.4 650.5 182.2 651.5 182.5 653.0 182.2 654.5 181.5 655.4 180.5 656.2 179.0 656.5ZM184.5 663.6 184.0 663.9 183.0 663.8 182.1 663.0 181.9 662.0 182.5 660.8 183.0 660.6 184.0 660.5 185.0 661.2 185.3 662.0 185.3 662.5 185.0 663.2 184.5 663.6Z" fill="#7b7bff" stroke="#7b7bff" stroke-width="0.8"/>
<circle cx="175.4" cy="582.4" r="0.7" fill="#7b7bff"/>
<circle cx="104.4" cy="408.3" r="0.9" fill="#7b7bff"/>
<circle cx="105.6" cy="634.2" r="0.7" fill="#7b7bff"/>
<circle cx="56.5" cy="446.5" r="0.8" fill="#22cc22"/>
<circle cx="46.6" cy="527.5" r="0.8" fill="#22cc22"/>
<circle cx="106.5" cy="475" r="0.6" fill="#9e9"/>
<text x="168.8" y="506.2" class="lab" fill="#5a4ac0" stroke="#202050" stroke-width="0.35">Arg</text>
<g fill="none" stroke="#000" stroke-linejoin="round">
<path d="M556.5 448.1 556.0 447.9 555.3 447.0 555.1 445.0 555.8 443.0 558.0 439.5 558.2 438.5 558.0 435.0 558.2 433.5 558.8 432.0 559.5 431.2 560.5 430.7 561.5 430.7 562.8 431.5 563.7 433.0 564.0 435.0 563.7 437.0 563.0 438.6 560.8 441.0 559.5 445.0 558.7 446.5 557.5 447.7 556.5 448.1ZM550.0 445.6 549.0 445.5 548.0 444.9 547.1 443.5 546.8 442.0 547.0 440.5 547.5 439.3 548.5 438.3 549.5 438.0 550.5 438.2 551.5 439.0 552.1 440.0 552.4 441.5 552.3 443.0 551.9 444.0 551.0 445.1 550.0 445.6ZM448.5 463.1 447.5 463.1 446.5 462.3 445.9 461.0 445.6 459.5 445.7 457.5 446.2 456.0 447.0 455.0 448.0 454.6 449.0 455.0 449.5 455.5 450.2 457.0 450.4 458.5 450.3 460.0 449.9 461.5 449.3 462.5 448.5 463.1ZM492.5 475.6 491.5 475.6 490.5 474.5 489.7 472.5 489.3 470.0 489.4 467.5 490.0 465.2 491.0 463.6 492.0 463.1 493.0 463.4 494.0 464.8 494.6 466.5 494.9 469.0 494.7 471.5 494.2 473.5 493.5 474.9 492.5 475.6ZM520.5 478.2 519.5 478.1 518.5 477.4 517.7 476.0 517.3 474.0 517.4 472.5 518.0 470.7 519.0 469.6 520.0 469.2 521.0 469.4 522.0 470.4 522.7 472.0 522.9 473.5 522.8 475.0 522.3 476.5 521.5 477.6 520.5 478.2ZM508.0 502.2 507.0 502.4 506.5 502.4 505.5 501.6 504.8 500.5 504.3 499.0 504.0 496.5 505.4 484.5 506.0 483.0 506.5 482.2 507.0 481.8 508.0 481.4 509.0 481.8 509.7 482.5 510.2 483.5 510.7 485.0 510.9 487.0 510.7 491.0 510.9 495.5 510.7 497.5 510.0 499.9 509.0 501.4 508.0 502.2ZM456.0 512.5 454.5 512.0 453.8 511.5 453.0 510.4 452.1 508.0 451.4 503.5 450.8 502.5 450.0 502.1 449.5 502.1 449.0 502.4 448.6 503.0 447.8 507.0 447.3 508.5 446.5 510.0 445.5 511.0 444.5 511.5 443.0 511.3 442.0 510.5 441.0 509.0 440.3 506.5 440.2 504.0 440.5 502.0 441.4 498.5 441.6 497.0 441.3 495.5 439.9 491.5 439.7 488.5 440.0 486.5 440.7 485.0 441.5 483.9 442.5 483.2 444.0 483.1 445.5 483.9 446.6 485.5 448.1 489.5 449.0 490.5 450.0 490.8 452.0 490.7 453.3 490.0 453.9 489.0 454.6 486.5 455.2 485.0 456.4 483.5 457.5 482.8 459.0 482.5 460.5 482.8 462.0 483.9 463.0 485.5 463.3 486.5 463.5 488.0 463.0 490.5 461.8 492.5 459.0 495.0 458.4 496.0 458.2 497.0 458.4 499.0 459.3 502.0 459.9 504.5 460.0 506.5 459.7 508.5 459.0 510.3 458.1 511.5 457.0 512.3 456.0 512.5ZM505.5 535.5 504.0 535.4 502.3 534.5 501.2 533.0 500.5 531.0 500.1 527.0 499.0 522.0 499.1 516.0 498.2 511.0 498.1 506.5 497.7 505.5 496.1 503.0 495.5 500.5 495.6 499.0 496.0 497.5 497.0 496.1 498.0 495.6 499.5 495.7 501.0 497.0 501.9 499.0 502.2 502.0 502.5 502.9 503.0 503.4 504.5 504.2 505.5 505.1 506.2 506.5 506.8 508.5 507.0 510.5 507.0 514.7 508.1 520.5 508.0 525.0 509.0 529.0 509.1 531.0 508.9 532.5 508.1 534.0 507.0 535.0 505.5 535.5ZM500.5 638.1 499.5 638.4 498.5 638.2 497.6 637.5 497.0 636.5 496.2 634.0 495.6 628.5 493.9 624.0 493.0 622.3 492.0 621.6 488.5 620.9 487.0 620.2 485.8 619.0 485.0 617.0 484.8 615.0 485.3 613.0 486.3 611.0 488.5 608.0 489.1 606.5 489.2 605.0 489.1 595.0 488.2 585.5 488.5 575.5 487.6 569.5 487.2 566.0 487.2 563.0 487.6 558.5 487.5 556.5 486.6 554.0 483.5 549.1 483.0 549.0 482.8 550.0 482.9 558.5 481.9 567.0 482.2 569.0 483.4 574.0 483.8 577.0 483.7 580.5 482.7 587.5 482.8 589.5 483.6 594.5 483.7 597.5 483.4 599.5 482.9 601.5 482.0 603.5 481.0 604.9 479.5 606.3 476.5 607.9 474.0 610.6 473.0 611.4 472.0 611.8 471.0 611.8 470.0 611.3 468.9 610.0 468.2 608.5 467.0 605.1 466.5 604.7 465.5 604.9 463.0 606.0 461.5 606.1 460.0 605.9 457.0 604.8 456.0 604.8 452.0 606.8 450.5 606.9 449.0 606.5 447.5 605.5 445.8 603.5 444.6 601.0 443.7 598.0 443.3 594.5 443.3 587.5 442.7 581.0 442.6 578.0 443.1 574.0 444.3 570.0 444.5 568.5 444.4 567.5 442.5 564.1 441.8 562.0 441.5 559.5 441.8 556.5 442.6 554.5 443.5 553.5 444.0 553.3 445.5 553.2 447.0 554.2 448.1 556.0 448.7 558.5 448.8 561.0 448.5 565.0 448.7 566.0 449.5 567.0 451.0 567.9 452.5 568.4 453.5 568.2 454.0 567.3 454.2 566.0 454.3 559.5 455.3 552.5 455.2 550.0 454.4 547.0 453.0 544.5 451.7 543.5 449.0 542.3 447.6 541.5 444.5 538.4 444.0 538.3 443.5 538.8 441.7 543.5 441.6 545.0 441.7 548.5 441.2 550.5 440.2 551.5 439.0 552.0 437.5 552.0 436.5 551.6 435.2 550.5 434.7 549.5 434.5 548.5 434.4 547.0 435.0 543.5 434.5 539.5 434.7 537.5 435.3 536.0 436.0 535.0 437.0 534.1 439.5 532.5 440.0 531.6 440.8 529.0 441.8 527.5 443.5 526.2 446.5 525.1 447.0 524.7 447.4 524.0 448.0 521.5 448.9 520.0 450.5 518.8 452.5 518.3 454.0 518.6 455.0 519.2 455.8 520.5 456.0 522.0 455.6 523.5 454.5 524.8 450.7 527.0 450.5 527.5 450.6 528.5 451.5 530.0 452.5 530.7 454.0 531.4 458.5 532.1 460.0 532.6 462.0 533.7 465.5 536.2 466.5 536.1 467.0 535.7 468.0 533.5 468.2 531.5 467.4 525.0 467.8 518.5 466.9 513.5 466.8 512.0 467.1 510.0 469.3 503.5 470.0 502.0 471.5 500.4 473.5 499.6 475.5 499.5 477.5 500.1 478.7 501.0 479.5 502.5 479.3 504.0 478.7 505.0 478.0 505.7 475.5 507.3 474.7 508.5 473.9 513.5 473.8 515.5 474.3 517.0 475.0 517.7 475.5 518.0 476.0 517.8 477.8 514.0 479.0 513.0 480.0 513.1 480.5 513.4 481.5 515.0 481.9 516.5 482.0 518.0 481.9 519.5 481.6 521.0 480.5 522.9 478.2 524.5 477.9 525.0 477.9 526.0 478.1 527.0 478.5 528.0 480.3 530.5 481.7 533.0 483.5 538.7 484.0 539.5 484.5 539.5 487.0 537.4 488.5 536.4 490.0 536.0 491.5 536.1 493.0 536.8 494.5 538.3 495.5 540.0 496.3 542.5 496.7 545.5 496.6 552.5 497.1 554.5 498.8 559.5 499.5 563.0 499.6 566.5 499.2 574.0 500.4 581.5 500.6 584.5 500.3 593.0 500.7 600.0 500.6 602.5 500.3 605.0 498.8 610.0 498.7 611.5 498.8 612.5 499.4 613.5 501.9 616.0 502.9 617.5 503.7 619.5 504.0 621.5 503.8 624.0 502.8 628.5 502.5 634.5 501.8 636.5 501.2 637.5 500.5 638.1ZM427.0 521.1 426.0 521.3 425.0 521.3 424.0 521.0 423.5 520.5 423.1 519.5 422.8 518.0 423.0 514.0 422.9 513.0 422.5 512.5 422.0 512.2 420.0 511.7 418.7 511.0 417.8 510.0 417.4 509.0 417.3 507.0 417.9 505.0 419.0 503.5 420.0 502.7 421.0 502.3 422.0 502.0 423.0 502.1 424.0 502.5 424.7 503.0 425.4 504.0 425.8 505.0 426.2 508.0 426.5 509.0 427.0 509.5 429.5 510.8 430.5 512.0 430.8 513.0 431.0 515.5 430.2 518.0 428.7 520.0 427.0 521.1ZM418.0 543.5 416.0 543.5 414.5 542.8 413.2 541.5 412.3 540.0 411.8 538.0 411.6 536.0 411.4 531.5 411.5 529.0 412.4 526.0 413.0 524.9 414.0 523.9 415.5 523.3 421.0 523.1 422.0 523.5 422.5 523.9 423.5 526.0 424.0 529.0 423.9 532.5 422.8 538.5 422.1 540.5 421.4 541.5 420.5 542.4 419.5 543.0 418.0 543.5ZM528.5 542.0 528.0 542.1 527.0 541.8 526.0 541.0 525.0 539.0 524.7 537.0 524.8 535.0 525.5 533.0 526.5 531.7 527.0 531.4 528.0 531.1 529.0 531.4 530.2 532.5 530.9 534.0 531.3 536.0 531.2 538.0 530.6 540.0 529.5 541.5 528.5 542.0ZM514.5 544.6 513.5 544.9 512.5 544.8 512.0 544.6 511.0 543.6 510.3 542.0 510.2 540.0 510.7 538.5 511.5 537.5 512.5 536.9 513.5 536.9 514.5 537.3 515.5 538.3 516.0 539.5 516.2 541.0 516.0 542.5 515.5 543.5 514.5 544.6ZM423.5 579.6 422.5 579.8 421.5 579.6 420.7 579.0 420.0 578.3 418.9 576.0 418.0 572.3 417.2 571.0 416.4 570.5 412.7 569.0 409.0 568.0 407.7 567.5 407.0 567.0 406.0 566.0 405.3 564.5 405.0 563.5 405.1 562.0 405.8 560.0 407.0 558.6 410.0 557.0 410.5 556.5 411.0 555.4 412.2 551.5 413.3 550.0 414.5 549.3 415.5 549.3 416.5 549.8 417.5 550.9 418.2 552.5 418.5 554.0 418.5 555.5 417.9 559.5 418.3 561.0 419.3 562.0 424.0 565.8 425.2 567.5 426.1 569.5 426.5 572.5 426.2 575.5 425.2 578.0 424.5 578.9 423.5 579.6ZM514.0 564.6 513.0 564.9 512.0 564.9 510.5 564.1 509.5 562.5 509.0 560.0 509.3 557.5 510.2 555.5 511.5 553.9 512.5 553.3 513.5 553.1 515.0 553.4 516.0 554.3 516.9 556.0 517.2 558.0 517.0 560.0 516.4 562.0 515.3 563.5 514.0 564.6ZM520.0 603.2 519.5 603.5 519.0 603.5 518.5 603.2 518.0 602.5 517.4 601.0 517.1 599.5 517.1 597.5 517.5 595.6 518.0 594.5 518.5 593.8 519.0 593.5 519.5 593.5 520.0 593.8 520.5 594.3 521.1 595.5 521.5 597.5 521.5 599.5 521.2 601.0 520.6 602.5 520.0 603.2ZM415.0 613.1 414.0 613.5 413.5 613.3 412.7 612.5 411.8 610.5 411.3 607.5 411.4 604.5 411.9 602.0 412.8 600.0 413.5 599.3 414.0 599.1 415.0 599.5 416.0 601.0 416.6 603.0 416.9 605.0 416.9 607.5 416.5 610.0 415.8 612.0 415.0 613.1ZM464.5 643.7 463.0 643.7 462.0 643.1 461.5 642.5 460.8 641.5 460.2 640.0 459.7 637.0 459.9 634.0 460.6 631.5 461.2 630.5 462.0 629.5 463.5 628.8 465.0 629.2 466.2 630.5 467.2 632.5 467.7 635.5 467.6 638.0 467.0 640.5 466.0 642.4 465.5 643.0 464.5 643.7ZM481.0 637.8 480.0 638.0 479.0 637.4 478.1 636.0 477.8 634.5 477.7 632.5 478.3 630.5 479.0 629.4 480.0 628.9 481.0 629.2 481.9 630.5 482.4 632.0 482.8 634.5 482.8 636.0 482.1 637.0 481.0 637.8ZM438.0 660.0 437.5 660.1 437.0 659.8 436.6 659.0 436.5 658.0 436.6 656.5 437.0 655.0 437.7 653.5 438.5 652.6 439.5 652.3 440.0 652.6 440.4 653.5 440.5 654.5 440.4 656.0 439.5 658.5 438.8 659.5 438.0 660.0ZM468.0 685.7 467.0 685.7 465.9 684.5 465.1 682.5 464.8 680.0 464.9 677.5 465.5 675.3 466.5 673.7 467.5 673.2 468.5 673.5 469.5 674.9 470.2 677.0 470.4 679.0 470.3 681.5 469.8 683.5 469.0 685.0 468.0 685.7ZM447.5 684.0 446.5 684.3 445.5 683.7 444.6 682.0 444.1 680.0 444.1 678.0 444.6 676.0 445.5 674.3 446.5 673.7 447.5 674.0 448.4 675.0 449.0 676.5 449.3 678.0 449.3 680.0 449.0 681.5 448.4 683.0 447.5 684.0ZM436.0 711.5 435.0 711.5 434.5 711.3 433.8 710.5 433.0 709.0 432.7 707.0 432.8 705.0 433.5 703.1 434.5 701.9 435.5 701.6 436.5 701.9 437.4 703.0 438.0 704.5 438.3 706.0 438.2 708.0 437.8 709.5 437.0 710.8 436.0 711.5Z" stroke-width="1.9"/>
<path d="M565.0 411.0 564.0 411.0 563.3 410.5 562.7 409.5 562.3 408.0 562.4 406.5 563.0 405.0 563.5 404.5 564.5 404.1 565.5 404.5 566.0 405.0 566.5 406.0 566.7 407.0 566.6 408.5 566.3 409.5 565.7 410.5 565.0 411.0ZM575.0 433.5 574.5 433.1 574.4 432.5 574.7 430.5 575.1 429.5 576.0 428.5 576.5 428.2 577.0 428.4 577.4 429.5 577.1 431.5 576.0 433.2 575.5 433.5 575.0 433.5ZM563.5 470.7 562.5 471.0 561.5 470.7 560.8 470.0 560.2 468.5 560.2 467.0 560.4 466.0 561.0 465.1 562.0 464.5 563.0 464.5 563.5 464.7 564.3 465.5 564.7 466.5 564.9 468.0 564.7 469.0 564.2 470.0 563.5 470.7ZM405.5 531.7 404.5 531.8 403.5 531.3 402.8 530.5 402.2 529.0 402.3 527.5 402.6 526.5 403.5 525.3 404.5 524.8 405.5 524.9 406.4 525.5 407.1 526.5 407.4 527.5 407.4 529.0 407.1 530.0 406.5 531.0 405.5 531.7ZM522.5 566.5 521.5 566.4 520.5 565.7 520.0 565.0 519.7 564.0 519.9 563.0 520.1 562.5 521.0 561.8 522.0 561.5 523.0 561.6 524.0 562.1 524.7 563.0 524.9 564.0 524.7 565.0 524.0 565.9 523.5 566.2 522.5 566.5ZM469.3 592.0 469.7 591.0 469.9 589.5 469.6 588.0 469.0 587.4 468.4 588.0 468.0 589.0 468.0 590.0 468.5 591.9 469.0 592.3 469.3 592.0ZM488.5 639.6 487.5 639.9 486.5 639.8 485.5 639.5 484.5 638.6 483.9 637.5 483.6 636.5 483.6 636.0 484.5 635.0 485.5 634.3 487.0 633.9 488.5 634.2 489.4 635.0 490.0 636.0 490.0 637.5 489.5 638.7 488.5 639.6ZM445.5 725.1 444.5 725.0 443.5 724.3 443.0 723.5 442.6 722.0 442.7 720.5 443.1 719.5 444.0 718.5 445.0 718.1 446.0 718.3 446.8 719.0 447.3 720.0 447.6 721.5 447.4 723.0 447.0 723.9 446.5 724.5 445.5 725.1Z" stroke-width="1.52"/>
<path d="M557.0 447.5 556.4 447.5 555.8 447.0 555.4 446.0 555.5 445.0 556.1 443.0 558.4 440.0 558.6 439.5 558.6 438.5 558.3 435.5 558.5 433.5 559.0 432.4 559.8 431.5 560.5 431.1 561.5 431.1 562.5 431.8 563.3 433.0 563.7 434.5 563.5 436.5 563.2 437.5 562.6 438.5 560.5 440.4 560.2 441.0 559.5 444.0 558.7 446.0 558.0 446.9 557.0 447.5ZM492.0 475.0 491.0 474.5 490.4 473.5 489.8 471.5 489.6 469.5 489.7 467.5 490.3 465.5 491.0 464.3 492.0 463.8 493.0 464.1 493.9 465.5 494.5 467.5 494.6 469.5 494.4 471.5 493.8 473.5 493.0 474.7 492.0 475.0ZM520.5 477.5 519.5 477.5 518.5 476.6 517.9 475.5 517.7 474.0 517.8 472.5 518.4 471.0 519.0 470.2 520.0 469.8 521.0 470.1 521.8 471.0 522.3 472.0 522.5 473.5 522.4 475.0 522.0 476.1 521.4 477.0 520.5 477.5ZM507.5 501.6 506.5 501.4 505.9 501.0 505.3 500.0 504.6 498.0 504.4 496.0 505.6 485.0 506.5 482.9 507.0 482.4 508.0 482.0 509.0 482.4 509.5 482.9 510.3 485.0 510.5 487.0 510.4 491.0 510.5 495.5 510.4 497.5 509.7 499.5 508.7 501.0 507.5 501.6ZM457.0 511.6 456.0 511.8 455.0 511.6 454.2 511.0 453.5 510.2 452.9 509.0 452.4 507.5 452.1 503.5 451.8 502.5 451.0 501.6 450.0 501.2 449.0 501.3 448.3 502.0 447.9 503.0 447.2 507.5 446.5 509.0 445.5 510.2 444.5 510.8 443.5 510.8 442.5 510.2 441.5 508.9 440.7 506.5 440.6 504.0 441.0 502.0 442.0 498.5 442.2 497.0 441.8 495.5 440.4 491.5 440.1 489.0 440.2 487.5 440.7 486.0 441.5 484.7 442.5 483.9 444.0 483.7 445.0 484.2 445.5 484.6 446.5 486.3 448.0 490.4 449.0 491.2 450.0 491.4 452.5 491.2 453.2 491.0 453.8 490.5 454.4 489.5 454.9 487.0 455.5 485.5 456.5 484.1 457.5 483.4 459.0 483.1 460.5 483.4 461.5 484.1 462.5 485.5 462.8 486.5 463.0 488.0 462.8 489.5 462.5 490.5 461.9 491.5 461.0 492.5 458.4 494.5 457.6 496.0 457.6 498.5 459.3 503.5 459.6 506.5 459.4 508.0 458.9 509.5 458.0 510.8 457.0 511.6ZM505.5 535.1 504.0 535.0 502.5 534.1 501.5 532.7 501.0 531.0 500.5 527.0 499.4 522.0 499.5 516.5 498.5 511.0 498.6 506.5 498.3 505.5 496.3 502.5 495.8 500.5 495.9 499.0 496.4 497.5 497.0 496.7 498.0 496.0 498.5 496.0 499.5 496.2 500.8 497.5 501.4 499.0 501.7 502.5 502.0 503.5 502.5 504.0 504.0 504.8 505.0 505.5 505.9 507.0 506.4 508.5 506.6 510.5 506.6 515.0 507.7 520.5 507.7 525.5 508.6 529.0 508.7 531.0 508.4 532.5 507.9 533.5 506.9 534.5 505.5 535.1ZM472.5 611.2 471.0 611.3 470.0 610.7 469.4 610.0 468.4 608.0 467.5 604.1 467.0 603.3 466.5 603.3 463.5 605.1 462.0 605.4 460.5 605.3 457.0 603.8 456.0 603.6 455.0 604.0 452.5 605.7 451.5 606.0 450.5 606.1 449.0 605.7 447.5 604.6 446.5 603.5 445.4 601.5 444.5 599.0 443.9 596.0 443.8 593.5 443.9 587.5 443.2 581.0 443.1 578.5 443.2 576.5 443.7 574.0 445.7 568.5 445.8 567.5 443.5 564.8 442.5 563.0 441.9 560.5 442.0 557.5 442.4 556.0 442.9 555.0 444.0 554.0 444.5 553.8 445.5 553.9 446.6 554.5 447.4 555.5 447.8 556.5 448.4 559.0 448.3 561.5 447.3 566.0 447.4 567.0 447.9 567.5 452.5 569.9 453.5 570.2 454.0 570.2 454.6 569.5 455.0 568.0 454.8 560.0 455.8 552.5 455.8 550.0 454.7 546.5 454.0 545.0 453.3 544.0 452.0 543.0 449.0 541.8 447.7 541.0 446.3 539.5 444.5 536.7 444.0 536.3 443.5 536.2 443.0 536.9 442.6 539.5 441.2 543.5 441.1 545.0 441.4 548.0 440.9 550.0 440.1 551.0 439.0 551.5 437.5 551.6 436.5 551.2 435.4 550.0 434.8 548.5 434.8 547.0 435.4 543.5 434.8 539.0 435.2 537.0 436.1 535.5 437.5 534.3 439.5 533.5 440.2 533.0 440.5 532.2 441.1 529.5 442.0 527.9 443.0 527.0 444.0 526.4 447.6 525.5 448.1 525.0 448.3 522.0 449.0 520.5 450.5 519.2 452.0 518.7 453.5 518.9 454.6 519.5 455.4 520.5 455.6 522.0 455.1 523.5 454.0 524.7 453.0 525.3 450.0 526.2 449.6 526.5 449.5 527.0 449.9 528.5 451.0 530.4 452.0 531.2 453.5 531.9 458.5 532.8 460.0 533.3 462.0 534.4 465.5 537.2 466.5 537.4 467.0 537.1 467.5 536.4 468.2 534.5 468.7 531.5 467.7 525.0 467.7 523.0 468.3 518.5 467.2 513.5 467.2 511.5 467.4 510.0 469.7 503.5 470.5 502.0 471.4 501.0 472.5 500.3 473.5 499.9 475.0 499.8 476.5 500.1 478.0 500.9 478.8 502.0 479.0 503.0 478.8 504.0 478.2 505.0 475.3 507.0 474.4 508.0 474.0 509.5 473.3 514.5 473.5 516.5 474.5 518.1 475.5 519.0 476.0 519.0 476.5 518.3 477.2 516.0 478.0 514.5 478.5 513.9 479.5 513.5 480.5 514.0 481.0 514.7 481.5 516.0 481.7 517.5 481.6 519.5 481.0 521.5 480.0 522.8 479.0 523.2 478.0 523.4 477.5 523.7 477.2 525.5 477.5 527.0 477.9 528.0 480.4 531.5 481.5 533.5 482.3 536.0 482.8 539.5 482.9 542.5 481.8 546.0 481.5 548.0 481.5 549.5 482.2 554.5 482.4 557.5 482.2 560.0 481.5 565.0 481.3 567.0 481.5 569.0 482.8 574.0 483.2 577.0 483.1 580.5 482.1 587.5 482.2 589.5 483.0 594.5 483.2 597.0 482.7 600.5 481.9 602.5 481.0 604.0 479.5 605.5 476.0 607.5 474.0 610.0 472.5 611.2ZM426.5 520.6 425.5 520.7 424.5 520.3 424.0 519.8 423.6 519.0 423.2 516.5 423.7 513.0 423.6 512.0 423.0 511.6 421.0 511.4 419.5 510.9 418.5 510.1 417.9 509.0 417.7 507.5 418.1 505.5 419.5 503.7 421.0 502.8 422.0 502.5 423.0 502.6 423.9 503.0 424.5 503.5 425.1 504.5 425.4 505.5 425.5 509.1 425.8 510.0 428.0 510.7 429.0 511.2 429.8 512.0 430.4 513.0 430.6 515.0 430.0 517.5 429.4 518.5 428.5 519.6 427.5 520.3 426.5 520.6ZM418.0 543.1 416.5 543.1 415.0 542.6 413.7 541.5 412.7 540.0 412.2 538.5 411.9 536.0 411.7 532.0 411.8 529.5 412.2 527.5 412.8 526.0 413.5 525.0 414.5 524.2 416.0 523.8 420.5 523.8 421.5 524.1 422.0 524.5 423.0 526.1 423.7 529.0 423.5 532.0 422.5 538.0 421.9 540.0 421.3 541.0 420.3 542.0 419.0 542.8 418.0 543.1ZM528.0 541.5 527.0 541.2 525.9 540.0 525.3 538.5 525.0 536.5 525.3 534.5 526.0 533.0 527.0 532.0 528.0 531.7 529.0 532.0 530.0 533.0 530.7 534.5 531.0 536.5 530.7 538.5 530.1 540.0 529.0 541.2 528.0 541.5ZM500.5 637.5 499.5 637.9 498.5 637.7 497.7 637.0 497.1 636.0 496.5 633.5 496.0 628.3 493.5 621.9 492.4 621.0 489.0 620.5 487.5 619.9 486.5 619.1 486.0 618.4 485.6 617.5 485.3 616.0 485.3 614.5 485.9 612.5 486.8 611.0 489.1 608.0 489.7 606.5 489.6 595.5 488.7 585.5 489.1 575.5 488.1 569.0 487.7 565.5 488.3 556.5 487.8 554.5 485.6 550.5 484.8 548.5 484.2 546.0 484.1 543.5 484.7 541.5 486.4 539.0 488.0 537.6 489.0 537.1 490.0 536.8 491.5 536.9 493.0 537.7 494.5 539.4 495.5 541.5 496.1 545.0 495.9 551.0 496.0 553.0 496.4 554.5 498.3 559.5 499.1 563.5 499.1 566.5 498.7 574.0 500.1 584.0 500.1 587.0 499.8 593.5 500.2 601.5 499.8 605.0 498.1 610.0 497.9 612.0 498.1 613.0 498.5 613.7 501.1 616.0 502.5 617.8 503.2 619.5 503.6 622.0 503.4 624.0 502.4 628.5 502.4 632.5 502.1 634.5 501.5 636.3 500.5 637.5ZM423.0 579.1 422.0 579.1 421.5 578.9 420.9 578.5 420.0 577.5 419.2 575.5 418.3 572.0 417.5 570.6 416.5 570.0 412.5 568.5 408.0 567.2 406.5 566.0 405.7 564.5 405.4 562.5 405.6 561.5 406.0 560.4 406.6 559.5 407.5 558.8 410.0 557.6 410.7 557.0 411.2 556.0 411.9 553.0 412.5 551.6 413.5 550.3 414.5 549.8 415.5 549.8 416.5 550.3 417.4 551.5 417.8 552.5 418.2 555.0 418.1 556.5 417.4 559.5 417.7 561.0 418.6 562.0 424.0 566.5 425.0 568.0 425.8 570.0 426.2 573.0 425.7 576.0 424.5 578.1 424.0 578.6 423.0 579.1ZM513.5 564.2 512.0 564.3 510.7 563.5 509.8 562.0 509.5 560.0 509.6 558.0 510.5 555.8 512.0 554.2 513.5 553.7 515.0 554.1 515.9 555.0 516.5 556.5 516.7 558.5 516.4 560.5 515.8 562.0 515.0 563.1 513.5 564.2ZM469.2 596.0 470.0 594.5 470.5 592.8 471.0 589.0 470.5 586.5 469.5 585.0 469.0 584.8 468.5 585.0 467.5 586.6 467.0 588.4 466.9 590.0 467.2 592.0 468.0 594.6 468.5 595.8 469.0 596.3 469.2 596.0ZM520.0 602.5 519.5 602.8 519.0 602.8 518.5 602.4 517.9 601.5 517.4 599.5 517.4 597.5 517.8 596.0 518.2 595.0 519.0 594.2 519.5 594.2 520.0 594.5 520.4 595.0 520.8 596.0 521.2 597.5 521.2 599.0 521.0 600.5 520.5 601.9 520.0 602.5ZM414.5 612.7 414.0 612.7 413.5 612.6 412.5 611.3 411.9 609.5 411.6 607.0 411.7 604.5 412.2 602.0 413.0 600.5 414.0 599.9 414.5 599.9 415.0 600.3 415.8 601.5 416.4 603.5 416.6 605.5 416.5 608.0 416.1 610.0 415.5 611.6 414.5 612.7ZM481.0 637.3 480.0 637.5 479.0 636.9 478.5 636.0 478.0 634.5 478.0 632.5 478.4 631.0 479.0 629.9 480.0 629.4 481.0 629.7 481.5 630.3 482.0 631.5 482.3 633.0 482.3 635.5 481.8 636.5 481.0 637.3ZM465.0 642.6 464.5 642.8 463.5 643.0 462.5 642.6 462.0 642.2 461.4 641.5 460.7 640.0 460.2 637.5 460.3 634.5 461.0 632.0 462.0 630.4 462.5 630.0 463.5 629.6 464.5 629.8 465.0 630.1 466.0 631.2 466.8 633.0 467.2 635.0 467.2 637.5 466.8 639.5 466.0 641.4 465.0 642.6ZM468.0 685.1 467.0 685.0 466.0 683.8 465.4 682.0 465.1 680.0 465.2 678.0 465.6 676.0 466.5 674.4 467.5 673.9 468.5 674.2 469.4 675.5 469.8 677.0 470.1 679.0 470.0 681.0 469.6 683.0 469.0 684.2 468.0 685.1ZM447.0 683.7 446.0 683.5 445.1 682.5 444.6 681.0 444.4 679.5 444.5 677.5 444.9 676.0 445.5 674.9 446.5 674.3 447.5 674.5 448.3 675.5 448.8 677.0 449.0 678.5 448.9 680.5 448.5 682.0 447.9 683.0 447.0 683.7ZM435.5 711.1 434.5 710.7 433.6 709.5 433.1 708.0 433.0 706.5 433.2 705.0 433.7 703.5 434.5 702.5 435.5 702.1 436.5 702.5 437.3 703.5 437.8 705.0 438.0 706.5 437.9 708.0 437.4 709.5 436.5 710.7 435.5 711.1Z" stroke-width="1.3"/>
<path d="M565.0 410.5 564.0 410.5 563.5 410.2 563.0 409.5 562.6 408.0 562.6 407.0 563.0 405.7 563.5 405.0 564.5 404.6 565.5 405.0 566.1 406.0 566.4 407.0 566.2 409.0 565.7 410.0 565.0 410.5ZM575.5 433.0 575.0 433.0 574.7 432.5 574.8 431.0 575.5 429.4 576.0 428.9 576.5 428.7 577.0 429.1 577.1 430.5 576.5 432.1 575.5 433.0ZM550.0 445.0 549.0 445.0 548.0 444.3 547.5 443.4 547.2 442.0 547.4 440.5 547.9 439.5 548.5 438.9 549.5 438.5 550.5 438.7 551.3 439.5 551.8 440.5 552.0 441.5 551.9 443.0 551.5 443.9 551.0 444.5 550.0 445.0ZM448.5 462.5 447.5 462.5 447.0 462.2 446.3 461.0 445.9 459.5 446.0 458.0 446.4 456.5 447.0 455.6 448.0 455.2 449.0 455.6 449.5 456.3 450.1 458.5 450.0 460.0 449.7 461.0 449.1 462.0 448.5 462.5ZM562.5 470.6 561.5 470.2 561.0 469.7 560.5 468.5 560.4 467.5 560.6 466.5 561.0 465.7 561.5 465.2 562.5 464.8 563.5 465.2 564.0 465.7 564.4 466.5 564.6 467.5 564.5 468.5 564.0 469.7 563.5 470.2 562.5 470.6ZM405.5 531.2 404.5 531.3 403.8 531.0 403.0 530.1 402.6 529.0 402.6 527.5 403.0 526.5 403.5 525.8 404.5 525.3 405.5 525.4 406.0 525.7 406.6 526.5 407.0 527.5 407.1 528.5 406.9 529.5 406.4 530.5 405.5 531.2ZM513.0 544.5 512.0 544.1 511.4 543.5 510.8 542.5 510.5 541.0 510.7 539.5 511.1 538.5 512.0 537.6 513.0 537.3 514.0 537.5 515.0 538.2 515.7 539.5 515.9 541.0 515.6 542.5 515.0 543.6 514.0 544.4 513.0 544.5ZM523.0 566.1 521.5 566.0 520.8 565.5 520.2 564.5 520.1 563.5 520.3 563.0 520.7 562.5 521.5 561.9 522.5 561.8 523.5 562.1 524.0 562.5 524.5 563.5 524.5 564.5 524.3 565.0 524.0 565.5 523.0 566.1ZM469.0 571.5 469.5 570.4 469.6 568.5 469.0 567.2 468.5 567.0 468.0 567.4 467.8 568.0 467.6 570.0 468.0 571.4 468.5 571.8 469.0 571.5ZM487.5 639.6 486.5 639.5 485.4 639.0 484.5 638.0 484.2 637.0 484.3 636.0 484.6 635.5 485.5 634.7 486.5 634.3 487.5 634.2 488.5 634.6 489.4 635.5 489.8 636.5 489.7 637.5 489.3 638.5 488.5 639.2 487.5 639.6ZM438.0 659.5 437.5 659.5 437.0 659.0 436.9 658.5 436.8 657.5 436.9 656.0 437.5 654.5 438.0 653.6 439.0 652.9 439.5 652.9 440.0 653.4 440.2 654.0 440.2 655.0 440.0 656.5 439.2 658.5 438.5 659.3 438.0 659.5ZM445.5 724.6 444.5 724.5 443.8 724.0 443.2 723.0 443.0 722.0 443.1 720.5 443.5 719.6 444.0 719.0 445.0 718.6 446.0 718.8 446.5 719.3 447.0 720.2 447.3 721.5 447.2 722.5 446.8 723.5 446.0 724.4 445.5 724.6Z" stroke-width="1.04"/>
<path d="M560.0 439.6 559.5 439.3 559.0 437.8 558.7 436.0 558.7 434.5 559.0 433.3 559.5 432.4 560.0 432.0 561.0 431.6 562.0 432.0 562.8 433.0 563.3 434.5 563.3 436.0 562.7 437.5 562.0 438.5 561.0 439.2 560.0 439.6ZM492.5 474.2 492.0 474.3 491.5 474.1 490.9 473.5 490.3 472.0 489.9 470.0 490.0 468.0 490.5 466.1 491.0 465.2 491.5 464.7 492.0 464.5 492.5 464.6 493.0 465.0 493.5 465.7 494.0 467.1 494.3 469.0 494.1 471.0 493.8 472.5 493.3 473.5 492.5 474.2ZM508.0 500.7 507.0 500.7 506.0 500.0 505.2 498.5 504.8 496.0 506.0 485.0 506.5 483.8 507.0 483.1 508.0 482.7 509.0 483.2 509.5 483.8 510.0 485.3 510.2 487.0 510.0 491.0 510.2 495.0 510.0 497.0 509.2 499.5 508.5 500.3 508.0 500.7ZM456.0 511.0 455.0 510.8 454.5 510.4 453.8 509.5 453.3 508.5 452.8 506.5 452.7 503.0 452.4 502.0 451.6 501.0 450.0 500.4 448.5 500.5 448.0 500.8 447.5 501.5 446.8 507.0 446.2 508.5 445.5 509.4 444.5 510.0 443.5 510.0 442.5 509.3 441.9 508.5 441.2 506.5 441.1 504.0 441.5 501.9 442.8 498.5 443.0 497.0 442.6 495.5 441.0 492.0 440.6 490.5 440.5 489.0 441.0 486.5 441.6 485.5 442.5 484.6 443.0 484.4 444.0 484.4 445.0 485.0 446.1 486.5 447.5 490.8 448.5 491.8 449.5 492.0 453.0 491.9 454.0 491.6 454.5 491.3 454.9 490.5 455.7 486.5 456.5 485.0 457.5 484.1 458.5 483.8 460.0 483.9 461.0 484.5 462.0 485.8 462.4 487.0 462.5 488.0 462.3 489.5 461.9 490.5 460.5 492.1 457.5 493.9 456.9 495.0 456.8 496.5 456.9 498.5 457.3 500.0 458.8 503.5 459.1 505.0 459.1 506.5 458.7 508.5 458.0 509.8 457.0 510.8 456.0 511.0ZM505.5 534.5 504.0 534.4 503.0 533.9 502.0 532.7 501.4 531.0 501.0 527.0 500.1 523.5 499.8 521.5 500.0 516.0 498.9 510.5 499.2 505.5 498.9 505.0 497.0 503.0 496.5 502.0 496.2 500.5 496.3 499.0 496.6 498.0 497.3 497.0 498.0 496.6 499.0 496.6 500.2 497.5 500.8 498.5 501.0 499.5 501.0 503.0 501.2 504.0 501.7 504.5 503.5 505.2 504.6 506.0 505.5 507.3 506.1 509.0 506.2 511.0 506.1 515.0 507.2 520.5 507.2 525.5 508.1 529.0 508.3 530.5 508.1 532.0 507.5 533.2 506.5 534.1 505.5 534.5ZM472.5 610.6 471.5 610.8 471.0 610.7 470.0 610.1 469.0 608.5 468.3 606.0 468.3 602.5 468.7 601.0 470.0 598.4 470.5 596.8 471.5 591.9 471.8 589.5 471.7 587.5 471.0 585.3 470.0 583.2 469.0 582.2 468.5 582.3 467.5 584.0 466.5 586.7 466.0 589.0 466.1 591.0 467.3 596.5 467.3 599.5 466.6 601.5 464.8 603.5 463.0 604.5 462.0 604.7 461.0 604.6 459.5 604.1 457.0 602.5 456.0 602.2 455.0 602.6 453.0 604.3 452.0 604.9 451.0 605.1 450.0 605.1 448.5 604.5 447.5 603.6 446.5 602.3 445.5 600.4 444.8 598.0 444.4 595.0 444.5 587.5 443.6 579.5 443.9 575.5 444.5 573.5 445.5 571.2 446.5 569.8 447.5 569.3 448.5 569.3 450.0 569.7 454.0 572.4 454.5 572.4 455.0 572.1 455.5 571.3 455.8 570.0 455.9 568.5 455.4 562.5 455.4 559.5 456.3 553.0 456.4 551.0 456.3 549.5 455.7 547.5 454.9 545.5 454.0 543.9 452.5 542.5 449.0 541.2 447.5 540.1 446.7 539.0 445.0 535.8 444.0 534.9 441.9 534.0 441.5 533.2 441.3 531.5 441.6 529.5 442.1 528.5 443.0 527.6 444.0 526.9 445.0 526.6 446.5 526.4 447.5 526.6 448.5 527.4 450.2 530.5 451.5 531.7 454.5 532.9 458.5 533.5 460.0 534.0 462.0 535.2 466.0 538.8 466.5 538.9 467.0 538.7 467.5 538.1 468.5 535.4 469.2 532.0 469.1 530.5 468.1 525.0 468.2 522.5 468.8 518.0 467.6 513.5 467.5 512.0 467.8 510.0 470.4 503.0 471.0 502.0 472.0 501.1 473.0 500.5 475.0 500.2 476.5 500.5 477.5 501.1 478.3 502.0 478.4 502.5 478.5 503.5 478.0 504.5 477.5 505.0 475.0 506.6 474.0 507.8 472.8 515.0 472.8 516.5 473.7 518.0 476.3 521.0 476.6 522.0 476.6 525.0 476.9 527.0 477.5 528.3 479.5 530.8 480.8 533.0 481.7 535.5 482.2 538.5 482.1 541.5 480.9 546.0 480.6 548.0 480.8 550.0 481.7 555.0 481.8 557.5 481.6 560.5 480.7 567.0 480.9 569.0 482.3 574.0 482.7 577.0 482.6 580.5 481.4 587.5 481.6 589.5 482.5 594.5 482.6 597.0 482.1 600.5 481.5 602.0 480.5 603.5 479.0 604.9 476.0 606.6 473.8 609.5 472.5 610.6ZM423.0 510.5 421.5 510.7 420.0 510.4 419.0 509.7 418.3 508.5 418.2 507.5 418.3 506.5 419.0 505.0 420.0 503.9 421.5 503.2 422.5 503.1 423.5 503.5 424.5 504.5 424.9 505.5 425.0 507.0 424.6 509.0 424.0 509.9 423.0 510.5ZM426.0 520.0 425.0 519.7 424.5 519.3 424.1 518.5 423.8 517.0 423.9 515.0 424.5 513.1 425.2 512.0 426.0 511.5 427.5 511.3 429.0 512.0 429.8 513.0 430.1 514.5 430.0 516.0 429.5 517.5 428.5 518.9 427.5 519.6 426.0 520.0ZM480.0 522.1 479.5 522.4 478.5 522.4 477.6 522.0 476.7 521.0 477.1 518.0 477.6 516.0 478.5 514.5 479.5 514.1 480.0 514.2 480.7 515.0 481.2 516.0 481.4 517.5 481.2 520.0 480.5 521.5 480.0 522.1ZM418.0 542.6 417.0 542.6 416.0 542.5 414.3 541.5 413.5 540.5 413.0 539.5 412.4 537.0 412.0 532.0 412.3 528.5 412.8 527.0 413.5 525.7 414.5 524.8 415.5 524.5 420.0 524.5 421.0 524.7 421.5 525.0 422.4 526.0 422.8 527.0 423.2 528.5 423.2 531.5 421.8 539.0 421.1 540.5 420.2 541.5 419.0 542.3 418.0 542.6ZM529.0 540.5 528.0 540.9 527.0 540.5 526.0 539.2 525.5 537.5 525.5 535.5 526.0 533.9 527.0 532.7 528.0 532.3 529.0 532.7 529.5 533.2 530.2 534.5 530.5 535.7 530.5 537.0 530.3 538.5 529.9 539.5 529.0 540.5ZM439.0 551.0 438.0 551.2 437.0 550.9 436.0 550.1 435.4 549.0 435.2 547.0 435.9 543.5 435.2 540.0 435.2 538.5 435.9 536.5 437.0 535.2 438.5 534.5 440.5 534.3 441.1 534.5 441.5 534.8 441.8 535.5 442.2 537.5 442.2 539.0 441.8 540.5 440.6 544.0 441.0 547.5 440.8 549.0 440.0 550.4 439.0 551.0ZM500.0 637.2 499.0 637.3 498.5 637.1 497.9 636.5 497.3 635.5 496.8 633.5 496.7 629.5 496.4 628.0 493.8 621.0 493.3 620.5 492.5 620.2 489.5 620.0 487.9 619.5 487.0 618.8 486.4 618.0 485.8 616.0 485.8 614.5 486.3 613.0 487.1 611.5 489.8 608.0 490.2 607.0 490.4 605.5 490.1 601.0 490.1 594.0 489.4 588.0 489.2 585.0 489.8 575.5 488.6 569.0 488.3 565.5 488.3 563.0 489.0 558.0 489.1 556.0 488.6 554.0 486.5 550.5 485.7 548.5 485.2 546.5 485.1 544.5 485.6 542.0 486.6 540.0 488.1 538.5 489.0 538.0 490.0 537.7 491.5 537.8 493.0 538.7 494.1 540.0 495.0 542.0 495.4 543.5 495.6 545.5 495.2 551.5 495.2 553.0 495.6 554.5 497.7 559.5 498.6 563.5 498.7 566.5 498.1 574.0 498.4 576.5 499.4 581.5 499.7 584.0 499.7 587.0 499.2 593.5 499.7 601.5 499.2 605.0 497.2 610.5 496.9 612.5 497.1 613.5 497.8 614.5 500.5 616.3 502.0 618.0 502.8 620.0 503.1 622.0 502.9 624.0 502.0 628.0 502.0 632.5 501.8 634.5 501.0 636.3 500.0 637.2ZM422.5 578.5 421.5 578.2 421.0 577.9 420.0 576.5 419.4 575.0 418.7 571.5 418.0 570.3 417.0 569.7 412.5 568.0 409.5 567.3 408.0 566.7 406.7 565.5 406.0 564.0 405.9 562.0 406.5 560.5 407.0 559.8 408.0 559.0 410.3 558.0 411.0 557.5 411.5 556.5 412.2 553.5 412.7 552.0 413.5 551.0 414.5 550.4 415.5 550.4 416.5 551.0 417.2 552.0 417.6 553.0 417.9 555.5 416.9 559.5 417.1 561.0 417.9 562.0 423.7 567.0 424.8 568.5 425.4 570.0 425.8 573.0 425.4 575.5 424.7 577.0 424.0 577.9 423.5 578.2 422.5 578.5ZM446.0 565.1 445.0 565.1 444.0 564.4 443.5 563.8 442.7 562.0 442.3 560.0 442.3 558.0 443.0 556.0 444.0 554.8 445.0 554.5 446.0 554.8 447.0 555.9 447.7 557.5 447.9 559.0 447.9 561.0 447.5 562.9 447.0 564.1 446.5 564.8 446.0 565.1ZM513.0 563.6 512.0 563.5 510.7 562.5 510.1 561.0 509.9 559.5 510.3 557.5 511.0 556.0 512.0 555.0 513.5 554.4 514.5 554.6 515.5 555.5 516.1 557.0 516.3 558.5 515.9 560.5 515.2 562.0 514.0 563.2 513.0 563.6ZM468.8 575.0 469.5 574.1 470.0 572.9 470.6 571.0 470.8 569.0 470.6 567.5 470.0 565.9 469.0 564.5 468.5 564.2 467.9 564.5 467.0 565.9 466.5 567.8 466.4 569.5 466.6 571.5 467.5 574.1 468.0 574.8 468.5 575.2 468.8 575.0ZM414.5 611.8 414.0 611.9 413.5 611.7 412.9 611.0 412.3 609.5 411.9 607.0 412.0 604.5 412.5 602.5 413.0 601.5 413.5 600.9 414.0 600.7 414.5 600.8 415.0 601.2 415.5 602.0 416.0 603.6 416.2 605.5 416.2 607.5 415.9 609.5 415.2 611.0 414.5 611.8ZM464.0 642.1 463.0 642.0 461.9 641.0 461.0 639.1 460.6 637.0 460.8 634.5 461.4 632.5 462.4 631.0 463.5 630.5 464.5 630.7 465.0 631.0 465.8 632.0 466.5 633.8 466.8 636.0 466.7 638.0 466.0 640.2 465.0 641.6 464.0 642.1ZM447.0 683.1 446.5 683.1 446.0 682.8 445.5 682.3 444.9 681.0 444.7 679.5 444.7 678.0 445.1 676.5 445.7 675.5 446.5 674.9 447.0 674.9 447.5 675.2 448.0 675.9 448.5 677.0 448.7 678.5 448.7 680.0 448.3 681.5 447.7 682.5 447.0 683.1ZM468.0 684.3 467.5 684.4 467.0 684.2 466.4 683.5 465.7 682.0 465.4 680.0 465.5 678.0 466.0 676.2 466.5 675.3 467.0 674.8 467.5 674.6 468.0 674.7 468.5 675.1 469.0 675.8 469.5 677.2 469.8 679.0 469.7 681.0 469.3 682.5 468.8 683.5 468.0 684.3ZM436.5 710.0 435.5 710.5 434.5 710.0 433.8 709.0 433.4 707.5 433.4 705.5 433.9 704.0 434.5 703.2 435.5 702.7 436.0 702.8 436.8 703.5 437.3 704.5 437.6 705.5 437.5 708.0 437.0 709.4 436.5 710.0ZM492.5 473.3 492.0 473.4 491.5 473.1 491.0 472.5 490.5 471.1 490.4 470.0 490.4 468.5 490.7 467.0 491.2 466.0 492.0 465.4 492.5 465.5 493.3 466.5 493.6 467.5 493.9 469.0 493.8 470.5 493.5 471.8 493.0 472.8 492.5 473.3ZM508.0 499.7 507.0 499.8 506.1 499.0 505.5 497.5 505.3 496.0 505.4 494.0 506.0 490.5 506.1 487.0 506.4 485.5 507.0 484.1 507.5 483.6 508.0 483.5 508.5 483.7 509.2 484.5 509.6 485.5 509.7 487.0 509.5 491.0 509.6 496.5 509.0 498.7 508.0 499.7ZM459.0 492.0 457.5 492.2 456.5 491.8 456.0 490.6 455.9 489.0 456.0 487.5 456.6 486.0 457.5 485.0 459.0 484.5 460.0 484.7 461.0 485.5 461.6 486.5 461.9 488.0 461.6 489.5 461.1 490.5 460.0 491.5 459.0 492.0ZM456.5 510.0 455.5 510.0 455.0 509.8 454.3 509.0 453.8 508.0 453.4 506.0 453.5 502.0 453.1 501.0 452.0 500.2 449.5 499.5 448.0 499.4 447.5 499.5 446.8 500.0 446.5 501.0 446.6 504.0 446.4 506.0 446.0 507.4 445.5 508.2 445.0 508.8 444.0 509.1 443.0 508.7 442.4 508.0 441.7 506.0 441.7 503.5 442.3 501.5 443.8 499.0 444.3 497.5 444.1 496.5 443.7 495.5 441.6 492.0 441.1 490.0 441.1 489.0 441.3 487.5 441.7 486.5 442.5 485.5 443.0 485.3 444.0 485.3 445.0 486.0 445.8 487.5 446.9 491.5 447.5 492.3 448.5 492.7 452.0 492.7 454.0 492.9 455.0 493.3 455.5 493.9 455.8 495.5 456.0 499.5 458.0 503.2 458.5 505.5 458.5 507.0 458.0 508.5 457.3 509.5 456.5 510.0ZM472.0 610.2 471.0 610.1 470.0 609.4 469.3 608.0 468.8 606.0 468.8 604.0 469.2 602.5 470.6 599.5 471.1 598.0 472.5 591.0 472.7 589.0 472.3 586.5 470.3 581.0 469.8 578.5 470.1 576.0 471.6 570.5 471.7 568.0 471.3 566.5 470.5 564.6 468.5 561.3 468.0 561.1 467.5 561.6 467.0 562.7 465.9 566.0 465.4 568.5 465.6 571.5 467.2 577.0 467.5 579.0 467.2 581.5 465.5 587.0 465.1 589.0 465.2 591.0 466.2 595.0 466.5 597.0 466.3 599.5 465.4 601.5 464.5 602.7 463.5 603.4 462.5 603.8 461.0 603.7 460.0 603.4 459.0 602.7 456.0 599.9 455.5 600.0 455.0 600.4 453.4 602.5 452.2 603.5 451.0 604.0 450.0 604.0 448.7 603.5 447.6 602.5 446.5 601.0 445.9 599.5 445.3 597.5 445.0 595.0 445.3 588.0 444.3 580.0 444.3 577.5 444.6 575.5 445.2 573.5 446.0 572.1 447.0 571.1 448.0 570.6 449.0 570.6 450.5 571.3 451.9 572.5 454.0 574.9 454.5 575.2 455.0 575.1 456.0 573.7 456.7 571.5 456.9 569.5 456.1 563.0 456.0 559.5 456.2 557.0 457.0 553.0 457.1 551.0 456.9 549.5 456.4 547.5 455.1 544.5 454.2 543.0 453.0 541.9 449.5 540.7 448.0 539.7 447.1 538.5 445.6 535.0 442.8 533.0 442.1 532.0 442.0 531.0 442.1 530.0 442.5 529.0 443.5 527.9 445.0 527.2 446.0 527.1 447.0 527.3 448.0 528.1 449.6 531.0 450.5 532.0 452.0 532.8 454.5 533.7 458.5 534.4 460.5 535.1 461.9 536.0 463.0 537.0 466.5 541.0 467.0 541.3 467.5 540.9 469.4 534.0 469.7 531.5 469.6 530.0 468.7 526.5 468.5 524.5 468.6 522.5 469.5 518.5 469.5 517.5 468.0 513.5 467.9 512.0 468.0 510.5 468.5 508.9 470.2 505.5 471.3 502.5 472.0 501.7 473.0 501.0 474.0 500.7 475.0 500.7 476.0 500.9 477.2 501.5 477.8 502.5 477.8 503.5 477.0 504.7 474.3 506.5 473.5 507.5 473.0 512.0 472.1 515.5 472.0 516.5 472.4 517.5 474.2 519.5 475.2 521.0 475.8 522.5 476.5 527.5 477.0 528.5 479.5 531.5 480.4 533.0 481.1 535.0 481.6 537.5 481.7 539.5 481.4 541.5 480.1 546.5 479.9 548.0 480.0 550.0 481.0 555.0 481.2 557.5 481.0 560.5 479.9 567.0 480.2 569.0 481.7 574.0 482.1 577.0 482.0 580.5 480.9 586.0 480.7 588.0 480.8 589.5 481.9 594.5 482.0 597.0 481.8 599.0 481.4 600.5 480.7 602.0 480.0 603.0 478.5 604.3 476.0 605.6 475.0 606.8 473.5 609.1 473.0 609.6 472.0 610.2ZM506.0 533.7 505.0 534.0 504.0 533.8 503.0 533.1 502.3 532.0 501.8 530.5 501.6 526.5 500.4 522.5 500.2 520.5 500.5 516.0 499.5 511.5 499.3 510.0 499.5 508.5 499.9 507.0 500.5 505.9 501.0 505.6 502.5 505.6 504.0 506.3 505.0 507.5 505.7 509.5 505.8 511.0 505.6 515.0 506.8 520.5 506.6 525.5 507.6 529.0 507.8 530.5 507.7 531.5 507.3 532.5 506.5 533.4 506.0 533.7ZM418.0 542.0 417.0 542.1 416.0 541.9 414.5 541.0 413.5 539.5 412.8 537.0 412.4 532.0 412.7 528.5 413.3 527.0 414.0 526.0 414.5 525.5 415.5 525.1 420.0 525.3 421.0 525.6 421.5 526.0 422.2 527.0 422.8 529.0 422.6 532.0 421.2 539.0 420.7 540.0 420.0 540.9 419.0 541.7 418.0 542.0ZM438.5 550.6 437.5 550.5 436.6 550.0 436.0 549.2 435.7 548.5 435.7 547.0 436.4 544.5 436.5 543.5 435.8 540.5 435.6 539.0 435.9 537.5 436.5 536.4 437.5 535.5 439.0 535.1 440.0 535.3 441.0 536.2 441.5 537.5 441.6 539.0 441.3 540.5 440.2 543.0 440.0 544.0 440.4 547.0 440.4 548.5 440.0 549.5 439.6 550.0 438.5 550.6ZM500.0 636.5 499.0 636.6 498.5 636.3 498.0 635.8 497.5 634.7 497.2 633.0 497.0 628.0 495.4 623.5 494.4 620.0 494.0 619.5 493.5 619.3 490.0 619.5 488.5 619.1 487.6 618.5 487.0 617.8 486.3 616.0 486.4 614.5 486.8 613.0 488.0 611.2 490.5 608.5 490.9 607.5 491.1 606.5 490.7 601.0 490.8 594.0 490.0 588.0 489.7 585.0 490.5 575.5 490.2 573.5 489.1 568.5 488.8 565.5 489.0 562.0 490.0 557.0 490.2 555.5 489.8 554.0 487.5 550.5 486.8 549.0 486.1 547.0 486.0 545.0 486.2 543.0 487.0 541.0 488.5 539.3 490.0 538.7 491.5 538.8 492.5 539.4 493.5 540.5 494.5 542.5 494.8 544.0 494.9 546.0 494.2 552.0 494.2 553.5 494.7 555.0 497.1 559.5 497.7 561.5 498.0 563.5 498.1 567.0 497.5 574.0 497.6 576.0 498.8 581.0 499.1 584.0 499.1 587.0 498.6 593.5 499.2 601.5 498.6 605.0 498.0 606.6 496.3 610.0 495.9 611.5 495.9 612.5 496.1 614.0 496.5 615.1 497.0 615.6 499.5 616.6 500.8 617.5 501.9 619.0 502.5 621.0 502.5 623.5 501.4 628.0 501.6 632.0 501.5 633.8 501.0 635.4 500.0 636.5ZM468.0 554.5 468.5 553.8 469.0 552.3 469.3 550.0 469.0 548.2 468.5 547.1 468.0 546.7 467.5 547.2 467.1 548.5 466.8 551.0 467.0 553.2 467.5 554.4 468.0 554.5ZM423.0 577.7 422.0 577.7 421.5 577.4 420.5 576.3 419.8 574.5 419.1 571.0 418.5 569.8 417.5 569.2 415.0 568.5 412.5 567.4 408.5 566.3 407.4 565.5 406.5 564.0 406.3 563.0 406.4 562.0 407.0 560.6 408.2 559.5 410.9 558.5 411.6 558.0 412.0 557.0 412.7 553.0 413.5 551.7 414.5 551.0 415.5 551.0 416.5 551.7 417.0 552.5 417.4 554.0 417.4 556.0 416.1 560.0 416.2 561.0 417.0 562.0 423.5 567.7 424.4 569.0 425.0 570.4 425.3 572.5 425.0 575.0 424.7 576.0 424.0 577.0 423.0 577.7ZM446.0 563.7 445.0 563.9 444.0 563.2 443.2 562.0 442.8 560.0 442.9 558.0 443.4 556.5 444.0 555.7 445.0 555.3 446.0 555.7 446.5 556.3 447.1 557.5 447.4 559.0 447.4 560.5 447.1 562.0 446.5 563.2 446.0 563.7ZM513.5 562.6 512.5 562.7 511.5 562.2 510.8 561.0 510.5 559.5 510.7 558.0 511.4 556.5 512.5 555.5 513.5 555.2 514.3 555.5 515.0 556.1 515.5 557.2 515.7 558.5 515.5 559.9 515.1 561.0 514.5 561.8 513.5 562.6ZM456.0 595.5 456.5 594.9 457.5 592.7 457.9 591.0 458.0 589.5 457.5 587.6 456.5 585.3 455.5 583.5 455.0 582.9 454.5 582.6 454.0 582.8 453.5 583.4 452.7 585.0 452.3 586.5 452.3 588.5 453.0 591.1 454.5 594.4 455.5 595.6 456.0 595.5ZM414.5 610.7 414.0 610.8 413.5 610.6 413.0 609.9 412.6 608.5 412.4 607.0 412.4 605.0 412.7 603.5 413.5 602.0 414.0 601.8 414.5 601.9 415.1 602.5 415.5 603.5 415.8 605.5 415.8 607.5 415.5 609.0 415.0 610.2 414.5 610.7ZM464.0 641.0 463.0 640.9 462.1 640.0 461.5 638.6 461.2 637.0 461.3 635.0 461.7 633.5 462.5 632.1 463.5 631.6 464.5 631.8 465.5 633.0 466.0 634.5 466.2 636.0 466.1 638.0 465.6 639.5 465.0 640.4 464.0 641.0ZM468.0 683.4 467.5 683.5 467.0 683.2 466.5 682.6 466.1 681.5 465.8 680.0 465.9 678.5 466.2 677.0 466.8 676.0 467.5 675.5 468.0 675.6 468.7 676.5 469.1 677.5 469.4 679.0 469.3 680.5 469.0 681.9 468.5 682.9 468.0 683.4ZM508.0 498.6 507.5 498.7 507.0 498.6 506.5 498.1 506.0 497.0 505.9 495.5 506.7 490.5 506.7 487.5 506.9 486.0 507.5 484.8 508.0 484.6 508.6 485.0 509.1 486.5 508.8 491.0 509.1 495.5 508.8 497.5 508.0 498.6ZM445.5 493.7 445.0 493.8 444.5 493.7 443.5 493.2 442.5 492.0 442.0 491.0 441.7 489.5 441.9 488.0 442.4 487.0 443.0 486.4 443.5 486.3 444.2 486.5 444.7 487.0 445.2 488.0 445.5 489.0 445.7 491.0 445.7 493.0 445.5 493.7ZM453.5 499.1 452.5 499.1 450.5 498.8 448.5 498.2 447.5 497.6 446.9 497.0 446.4 496.0 446.3 495.0 446.6 494.5 447.9 494.0 450.5 493.5 452.0 493.5 453.5 494.0 454.4 495.0 454.7 496.5 454.5 498.1 454.0 498.9 453.5 499.1ZM471.0 515.6 470.5 515.9 470.0 515.8 469.5 515.3 468.7 514.0 468.4 512.0 468.8 509.5 469.5 508.0 470.8 506.0 471.6 503.5 472.1 502.5 473.0 501.7 474.0 501.3 475.0 501.3 476.0 501.5 476.7 502.0 477.0 502.5 477.0 503.5 476.3 504.5 473.7 506.0 472.8 507.0 472.5 512.1 472.0 513.8 471.0 515.6ZM505.5 533.1 504.5 533.2 504.0 533.0 503.4 532.5 502.7 531.5 502.4 530.0 502.4 526.5 500.9 522.0 500.8 520.0 501.3 516.0 500.0 511.5 499.9 509.5 500.5 507.5 501.0 506.9 502.0 506.5 503.0 506.6 504.0 507.2 504.8 508.5 505.2 510.0 504.9 515.5 506.0 519.3 506.2 521.0 505.8 525.5 506.0 526.5 507.0 529.3 507.2 530.5 506.8 532.0 506.5 532.5 505.5 533.1ZM471.5 609.5 470.5 609.0 469.8 608.0 469.4 606.5 469.3 605.0 469.7 603.0 471.8 599.0 473.4 590.5 473.6 588.5 473.3 586.5 471.4 581.5 470.9 579.0 471.1 576.0 472.5 570.5 472.8 568.5 472.3 566.5 470.2 561.5 469.5 559.0 469.6 556.0 470.5 551.5 470.6 549.5 470.3 547.5 468.9 543.0 468.7 541.0 469.0 538.0 470.3 531.5 470.2 530.0 469.1 526.0 469.0 523.0 469.4 521.0 470.0 519.5 470.5 518.7 471.0 518.4 471.5 518.3 472.5 518.8 473.5 519.7 474.8 521.5 475.2 523.0 475.6 526.5 476.0 528.0 476.6 529.0 478.5 531.1 479.6 532.5 480.5 534.5 481.0 536.5 481.2 539.0 481.0 541.0 479.3 546.5 479.1 548.0 479.2 550.0 480.4 555.0 480.6 558.0 480.3 561.0 479.3 565.5 479.1 567.5 479.4 569.5 481.1 574.5 481.6 578.0 481.3 581.0 479.8 587.5 480.0 589.5 481.0 593.5 481.3 595.5 481.3 598.0 480.8 600.0 480.1 601.5 479.3 602.5 478.5 603.2 475.5 604.7 473.2 608.5 472.5 609.2 471.5 609.5ZM418.5 541.2 417.0 541.5 415.5 541.0 414.8 540.5 414.1 539.5 413.3 537.5 412.8 532.5 413.0 529.5 413.4 528.0 413.9 527.0 414.5 526.4 415.5 525.9 419.5 526.2 420.5 526.4 421.5 527.2 422.2 529.0 422.1 531.5 420.7 538.5 420.0 540.0 418.5 541.2ZM463.0 602.6 462.0 602.8 461.0 602.7 459.5 601.8 458.1 600.0 457.5 598.0 457.7 596.0 459.1 591.5 459.3 590.0 458.9 588.0 456.4 582.0 455.9 579.5 456.2 577.0 457.7 572.5 458.0 570.5 457.9 568.5 456.8 563.0 456.6 560.5 456.8 557.5 457.9 552.0 457.8 549.5 456.1 545.0 454.5 542.1 454.0 541.5 453.0 540.9 450.0 540.1 448.9 539.5 447.7 538.0 446.8 535.0 446.5 534.4 446.0 533.9 444.0 532.8 443.2 532.0 442.8 531.0 443.0 529.5 443.8 528.5 445.0 527.9 446.0 527.9 447.2 528.5 447.9 529.5 449.0 532.0 450.0 532.9 455.0 534.9 459.5 535.6 461.5 536.6 462.9 538.0 464.1 539.5 465.2 541.5 465.7 543.0 465.9 545.5 465.4 550.0 465.3 552.0 466.2 557.5 466.3 559.5 465.9 562.5 464.6 567.5 464.3 569.5 464.6 571.5 466.1 577.0 466.4 580.0 465.9 583.0 464.3 587.5 464.0 589.5 464.2 591.0 465.5 595.5 465.7 598.0 465.4 599.5 464.7 601.0 464.0 601.9 463.0 602.6ZM439.0 549.6 438.5 549.8 437.5 549.8 437.0 549.5 436.4 548.5 436.2 547.5 436.4 546.5 437.6 544.0 437.6 543.5 436.3 540.5 436.1 539.0 436.5 537.5 437.0 536.7 438.0 536.0 439.0 535.9 440.0 536.3 440.5 536.8 441.0 538.0 441.0 539.0 440.5 541.0 439.3 543.0 438.9 544.0 439.7 546.5 439.9 547.5 439.7 548.5 439.0 549.6ZM491.5 552.6 490.0 551.8 488.5 550.2 487.3 548.0 486.9 546.0 486.9 544.0 487.5 542.0 488.5 540.6 490.0 539.8 491.5 540.0 492.5 540.7 493.5 542.2 494.1 544.5 494.1 547.0 493.5 549.8 492.5 552.0 492.0 552.5 491.5 552.6ZM423.0 576.7 422.0 576.7 421.5 576.4 420.8 575.5 420.1 573.5 419.6 570.0 419.0 568.9 418.5 568.7 415.5 568.0 412.5 566.7 409.0 565.9 407.7 565.0 407.1 564.0 406.9 563.0 407.0 562.0 407.9 560.5 409.0 559.8 412.0 559.1 412.5 558.5 413.0 553.8 413.6 552.5 414.5 551.7 415.5 551.7 416.0 552.0 416.7 553.0 417.0 554.5 416.8 556.5 416.2 558.0 414.9 560.0 414.9 561.0 415.7 562.0 418.8 564.5 420.5 566.6 423.2 568.5 424.0 569.5 424.5 570.5 424.8 572.5 424.6 574.5 424.0 575.9 423.0 576.7ZM491.5 618.5 489.5 618.6 488.1 618.0 487.5 617.3 487.1 616.5 487.0 615.0 487.3 613.5 487.8 612.5 489.0 611.1 491.5 609.0 491.8 608.5 492.1 607.5 491.4 601.5 491.5 594.0 490.6 588.0 490.4 585.5 490.5 582.5 491.3 577.5 491.4 575.5 491.1 573.5 489.8 568.5 489.4 565.0 489.7 562.0 490.5 559.0 491.5 556.7 492.0 556.0 492.5 555.6 493.0 555.7 494.0 556.3 495.5 558.1 496.7 560.5 497.4 563.5 497.5 567.0 496.7 572.5 496.6 574.5 496.9 576.5 498.2 581.5 498.6 584.0 498.5 587.0 497.9 593.5 498.5 601.0 498.4 603.0 497.8 605.0 497.0 606.7 495.4 609.0 494.9 610.0 494.8 611.5 494.9 615.0 494.7 616.5 493.9 617.5 491.5 618.5ZM451.0 602.7 450.0 602.8 449.0 602.4 447.5 601.0 446.5 599.0 445.8 596.0 445.8 593.5 446.4 587.5 445.1 581.0 445.0 577.5 445.4 575.5 446.3 573.5 447.5 572.3 448.5 572.0 450.0 572.4 451.2 573.5 452.4 575.5 453.1 578.0 452.9 580.5 451.1 585.5 450.8 587.5 451.2 589.5 453.6 596.0 453.9 598.5 453.7 599.5 453.0 601.0 452.0 602.1 451.0 602.7ZM500.0 635.6 499.5 635.8 499.0 635.7 498.5 635.4 498.0 634.5 497.6 632.5 497.9 628.0 496.1 623.5 495.7 621.5 495.6 619.5 495.8 618.5 496.5 617.6 497.5 617.3 499.0 617.4 500.5 618.3 501.5 619.9 501.9 621.5 501.8 623.5 500.7 627.0 500.6 628.0 501.1 631.5 501.0 633.5 500.5 635.0 500.0 635.6ZM504.0 525.5 503.5 525.3 502.5 524.1 501.9 523.0 501.5 521.5 501.6 519.5 502.0 518.1 502.9 516.0 502.9 515.5 501.0 512.6 500.6 511.0 500.5 510.0 501.0 508.3 501.5 507.8 502.0 507.5 503.0 507.6 503.6 508.0 504.3 509.0 504.6 510.0 504.6 511.0 504.3 512.5 503.2 515.5 505.0 518.7 505.4 520.0 505.5 521.5 505.0 523.8 504.5 525.0 504.0 525.5ZM472.0 608.5 471.5 608.6 471.0 608.4 470.5 607.9 470.0 606.5 469.9 605.0 470.5 603.2 472.2 601.0 472.7 600.0 473.4 594.5 474.7 590.0 474.9 588.5 474.6 587.0 472.5 582.0 471.9 579.5 471.8 577.5 472.0 575.5 473.8 570.0 474.1 568.0 473.6 566.5 471.4 562.0 470.7 559.5 470.5 558.0 470.6 556.0 471.7 551.0 471.8 549.0 471.5 547.5 469.9 543.0 469.5 540.5 469.7 537.5 470.9 532.5 471.0 531.0 470.8 529.5 469.6 526.0 469.4 523.5 470.1 521.0 470.9 520.0 471.5 519.7 472.0 519.7 473.0 520.2 473.7 521.0 474.3 522.0 474.7 523.5 475.0 527.1 475.3 528.5 476.1 529.5 478.5 531.8 479.6 533.5 480.5 536.0 480.7 538.5 480.2 542.0 478.5 546.5 478.1 548.0 478.2 550.0 479.6 554.5 480.0 558.0 479.5 561.5 478.1 566.0 477.8 567.5 478.1 569.0 480.3 574.0 480.9 577.0 480.9 579.0 480.6 581.0 478.8 586.5 478.6 588.0 478.8 589.5 480.4 594.5 480.6 596.5 480.5 597.9 480.0 599.8 479.0 601.4 478.0 602.2 475.0 603.4 474.5 604.1 473.1 607.5 472.0 608.5ZM418.0 540.6 416.5 540.6 415.3 540.0 414.5 539.0 413.8 537.0 413.3 533.0 413.4 530.0 414.1 528.0 414.5 527.4 415.5 526.9 416.5 526.9 420.0 527.5 421.0 528.3 421.4 529.5 421.4 531.0 420.5 534.5 420.0 538.3 419.5 539.4 419.0 540.0 418.0 540.6ZM462.0 588.2 461.5 588.3 461.0 588.1 459.0 585.4 457.7 582.5 457.3 580.0 457.5 577.0 459.2 572.0 459.5 570.5 459.3 568.5 457.7 563.5 457.4 560.5 457.6 557.5 459.0 552.0 458.9 550.0 458.3 548.0 455.8 542.5 454.5 540.2 453.5 539.6 451.0 539.4 450.0 539.1 448.8 538.0 448.4 537.0 448.3 535.5 448.5 535.0 448.9 534.5 449.5 534.3 451.5 534.7 455.0 536.4 458.5 536.4 460.5 537.1 462.0 538.3 463.0 539.5 463.9 541.0 464.5 543.0 464.7 546.0 463.9 551.5 464.1 553.0 465.0 557.5 465.1 560.5 464.6 563.5 463.1 568.5 462.9 570.0 463.2 571.5 465.0 576.5 465.4 578.5 465.4 580.0 465.1 582.0 464.5 584.2 463.5 586.3 462.0 588.2ZM491.5 549.8 490.5 549.9 489.5 549.3 488.6 548.0 488.0 546.4 487.9 544.5 488.3 543.0 489.0 542.0 490.0 541.3 491.0 541.3 492.0 542.0 492.7 543.0 493.1 544.5 493.2 546.0 492.9 547.5 492.3 549.0 491.5 549.8ZM495.5 606.5 494.5 606.9 493.7 606.5 493.0 605.3 492.5 603.5 492.1 600.5 492.5 594.0 491.4 588.5 491.1 586.0 491.3 582.0 492.7 575.5 492.3 573.5 491.0 570.2 490.5 568.3 490.2 566.0 490.2 564.0 490.5 562.0 491.2 560.0 492.0 558.7 493.0 558.1 494.0 558.4 495.0 559.2 496.0 560.9 496.6 563.0 496.8 565.0 496.7 567.5 495.4 573.5 495.3 575.0 495.7 576.5 497.3 581.0 497.9 584.5 497.8 587.5 497.0 593.5 497.1 595.5 497.7 599.5 497.7 602.0 497.0 604.5 496.5 605.4 495.5 606.5ZM418.0 567.2 417.0 567.4 416.0 567.3 413.0 565.8 410.0 565.4 409.0 565.1 408.2 564.5 407.7 563.5 407.6 562.5 408.0 561.5 408.5 560.9 409.5 560.4 411.0 560.4 412.0 560.7 414.1 562.5 416.9 564.0 418.0 564.9 418.5 566.0 418.6 566.5 418.3 567.0 418.0 567.2ZM449.0 585.1 448.5 585.3 448.0 585.1 447.0 583.6 446.3 581.5 445.9 579.0 446.1 577.0 446.5 575.5 447.5 574.1 448.5 573.7 449.5 573.9 450.6 575.0 451.3 576.5 451.7 578.5 451.5 580.0 450.9 582.0 450.0 583.9 449.0 585.1ZM450.5 601.2 449.5 601.1 448.5 600.4 447.5 598.9 446.9 597.0 446.7 595.0 447.0 592.6 447.5 591.1 448.0 590.2 448.5 589.8 449.0 589.8 449.5 590.2 450.5 591.5 451.5 593.5 452.4 596.0 452.5 598.0 452.2 599.5 451.5 600.6 450.5 601.2ZM462.0 601.6 461.0 601.4 459.8 600.5 459.0 599.0 458.8 597.5 458.9 596.0 459.5 594.2 460.5 592.2 461.5 591.1 462.0 591.1 462.5 591.5 463.5 592.9 464.4 595.0 464.7 597.0 464.5 599.0 464.0 600.2 463.0 601.2 462.0 601.6ZM499.5 626.2 499.0 626.3 498.0 625.4 497.0 623.5 496.7 622.0 496.7 620.5 497.0 619.7 497.6 619.0 498.5 618.7 499.5 618.9 500.2 619.5 500.8 620.5 501.1 621.5 501.1 623.0 500.8 624.0 500.0 625.6 499.5 626.2ZM476.0 566.7 475.5 566.6 474.5 565.8 472.8 563.5 471.7 561.0 471.2 558.5 471.4 555.5 472.6 551.0 472.8 549.5 472.5 548.0 470.6 543.5 470.1 541.0 470.0 539.0 470.2 537.0 471.5 532.0 471.7 530.5 471.5 529.5 470.1 526.0 469.8 524.0 470.0 522.8 470.5 521.5 471.0 520.9 471.5 520.6 472.5 520.7 473.0 521.1 473.7 522.0 474.3 524.0 474.6 528.5 475.2 529.5 477.5 531.4 478.9 533.0 479.9 535.0 480.3 537.0 480.3 539.5 479.9 541.5 479.2 543.5 477.6 547.0 477.2 548.5 477.4 550.0 478.7 553.5 479.2 555.5 479.4 557.5 479.3 560.0 478.8 562.0 478.0 564.0 477.0 565.7 476.0 566.7ZM417.5 540.0 416.5 540.0 416.0 539.7 415.2 539.0 414.5 537.7 414.1 536.0 413.7 532.5 413.9 530.0 414.5 528.4 415.5 527.7 416.5 527.7 419.5 528.5 420.2 529.0 420.6 530.0 420.5 531.3 419.7 534.0 419.4 538.0 419.0 539.0 418.5 539.5 417.5 540.0ZM461.5 567.7 461.0 567.7 460.5 567.5 459.5 566.1 458.5 563.8 458.0 561.5 458.0 559.5 458.3 557.5 459.0 555.2 460.2 552.5 460.4 551.5 460.1 550.0 457.2 544.0 455.7 539.5 455.9 538.5 456.3 538.0 458.0 537.4 459.0 537.4 460.0 537.7 461.7 539.0 463.1 541.0 463.9 543.5 463.9 545.0 463.8 546.5 462.7 550.0 462.5 551.5 464.2 557.5 464.4 559.5 464.3 561.0 464.0 563.0 463.3 565.0 462.5 566.5 461.5 567.7ZM494.0 572.4 493.5 572.4 493.0 572.0 492.0 570.6 491.1 568.0 490.7 565.5 490.9 563.0 491.5 561.2 492.5 559.8 493.5 559.6 494.5 560.1 495.5 561.5 496.0 563.0 496.3 565.0 496.1 567.5 495.7 569.5 495.0 571.2 494.5 572.0 494.0 572.4ZM477.0 586.8 476.5 586.8 476.0 586.5 475.0 585.4 474.0 583.8 472.8 581.0 472.4 578.5 472.6 576.0 473.3 573.5 475.0 570.2 476.0 569.3 476.5 569.4 477.5 570.3 479.0 572.5 480.0 575.0 480.4 577.5 480.2 580.0 479.6 582.5 478.5 584.9 477.5 586.3 477.0 586.8ZM461.5 586.0 461.0 585.9 460.0 585.1 459.0 583.5 458.3 581.5 458.1 579.5 458.4 577.0 459.3 574.5 460.5 572.6 461.0 572.2 461.5 572.2 462.5 573.0 463.6 575.0 464.3 577.0 464.7 579.5 464.4 582.0 463.7 584.0 462.5 585.6 461.5 586.0ZM495.0 605.1 494.5 605.0 493.9 604.5 493.3 603.5 493.0 602.2 492.9 600.0 493.5 595.5 493.5 594.0 492.0 588.4 491.6 585.5 491.8 583.0 492.3 580.5 493.0 578.8 493.5 578.0 494.0 577.6 494.5 577.6 495.0 578.0 496.5 580.5 497.1 582.5 497.3 585.0 497.1 588.0 496.1 592.5 496.0 594.0 496.1 595.5 496.9 599.5 497.0 601.5 496.5 603.5 496.0 604.4 495.0 605.1ZM477.0 601.6 475.5 601.7 474.5 601.4 474.0 600.7 473.8 598.0 473.9 595.5 474.6 593.0 476.0 590.3 476.5 589.8 477.0 589.8 478.0 590.7 479.0 592.4 479.7 594.5 480.0 596.5 479.7 598.5 479.1 600.0 478.0 601.2 477.0 601.6ZM417.5 539.0 416.5 539.0 415.8 538.5 415.2 537.5 414.8 536.0 414.3 533.0 414.3 531.0 414.7 529.5 415.5 528.7 416.5 528.8 417.6 529.5 418.4 530.5 418.5 531.0 418.3 534.0 418.6 537.5 418.2 538.5 417.5 539.0ZM475.5 564.5 474.5 564.1 473.5 563.0 472.7 561.5 472.1 559.5 471.9 557.5 472.2 555.0 473.0 552.6 474.3 550.0 474.4 549.0 471.5 544.0 470.8 542.0 470.5 540.0 470.5 537.5 471.1 535.0 473.0 529.7 473.5 529.5 476.5 531.2 478.1 532.5 479.3 534.5 479.8 536.0 480.0 537.5 479.9 540.0 479.2 542.5 478.0 544.8 476.0 548.0 475.6 549.0 475.7 549.5 477.5 552.6 478.1 554.0 478.7 556.0 478.9 558.0 478.5 560.5 477.8 562.5 477.2 563.5 476.5 564.2 475.5 564.5ZM461.5 547.8 461.0 547.9 460.5 547.6 459.5 546.6 458.5 545.0 457.6 543.0 457.2 541.5 457.2 540.0 457.8 539.0 458.5 538.7 459.5 538.7 461.0 539.5 462.0 540.7 462.6 542.0 463.0 543.9 462.9 545.5 462.3 547.0 461.5 547.8ZM461.5 565.1 461.0 565.2 460.5 565.0 459.5 563.7 458.9 562.0 458.8 560.0 459.0 558.1 459.6 556.5 460.5 555.1 461.0 554.8 461.5 554.8 462.0 555.1 462.5 555.7 463.0 556.8 463.4 558.5 463.5 560.0 463.4 561.5 463.0 563.0 462.5 564.0 461.5 565.1ZM494.0 569.9 493.5 570.0 493.0 569.7 492.5 569.2 492.0 568.0 491.5 565.8 491.6 564.0 492.0 562.5 492.5 561.7 493.0 561.3 493.5 561.2 494.2 561.5 494.9 562.5 495.5 565.0 495.5 566.5 495.2 568.0 494.5 569.4 494.0 569.9ZM477.0 584.5 476.0 584.5 475.5 584.2 474.5 583.0 473.5 580.9 473.0 578.5 473.2 576.0 473.9 574.0 475.0 572.2 476.0 571.5 477.0 571.7 478.5 573.2 479.5 575.5 479.8 577.5 479.6 580.0 479.0 582.0 478.0 583.8 477.0 584.5ZM462.0 584.0 461.0 584.1 460.0 583.1 459.4 582.0 459.0 580.0 459.1 578.5 459.7 576.5 460.5 575.2 461.0 574.8 461.5 574.8 462.5 575.4 463.0 576.2 463.5 577.5 463.8 579.0 463.8 580.5 463.5 582.0 463.0 583.0 462.0 584.0ZM495.0 590.9 494.5 591.0 494.0 590.7 493.5 590.0 492.7 588.0 492.4 585.5 492.5 583.1 493.0 581.4 493.5 580.5 494.0 580.1 494.5 580.0 495.3 580.5 496.0 581.7 496.5 583.5 496.6 585.0 496.5 587.0 496.2 588.5 495.5 590.2 495.0 590.9ZM477.5 600.1 476.5 600.3 475.5 599.8 475.0 599.0 474.7 597.5 474.8 595.5 475.3 594.0 476.0 592.8 476.5 592.4 477.0 592.3 478.0 592.9 478.5 593.7 479.1 596.0 479.1 597.5 478.8 598.5 478.2 599.5 477.5 600.1ZM476.0 546.1 475.5 546.3 474.5 546.4 473.0 545.2 471.7 543.0 471.0 540.5 470.9 538.0 471.5 535.0 472.6 532.5 473.4 531.5 474.0 531.1 475.0 531.2 476.0 531.5 477.0 532.1 477.9 533.0 479.0 534.7 479.6 537.0 479.6 539.5 478.9 542.0 477.5 544.5 476.0 546.1ZM476.5 562.5 475.5 562.9 474.5 562.5 473.4 561.0 472.8 559.0 472.7 557.0 473.1 555.0 474.0 553.2 475.0 552.4 476.0 552.6 476.9 553.5 477.5 554.7 478.0 556.5 478.1 558.5 477.9 560.0 477.3 561.5 476.5 562.5ZM477.5 582.5 476.5 582.9 475.5 582.5 474.5 581.1 473.9 579.0 473.9 577.0 474.2 575.5 475.0 574.0 476.0 573.2 477.0 573.3 478.0 574.2 478.6 575.5 479.0 576.9 479.1 578.5 478.8 580.0 478.3 581.5 477.5 582.5ZM475.5 545.1 475.0 545.1 474.0 544.8 473.0 543.9 471.9 542.0 471.4 539.5 471.5 537.0 472.2 534.5 473.5 532.5 474.5 532.0 476.0 532.2 477.0 532.8 477.7 533.5 478.9 535.5 479.3 537.5 479.1 540.0 478.4 542.0 477.0 544.1 475.5 545.1ZM475.0 544.0 474.0 543.7 472.9 542.5 472.1 540.5 471.8 538.5 472.1 536.5 472.8 534.5 474.0 533.1 475.0 532.8 476.5 533.2 477.9 534.5 478.6 536.0 478.8 538.0 478.5 540.3 477.5 542.4 476.5 543.5 476.0 543.8 475.0 544.0ZM476.0 542.7 475.0 542.9 474.5 542.8 473.5 542.0 472.7 540.5 472.4 539.0 472.5 537.0 473.0 535.5 474.0 534.1 475.0 533.6 476.0 533.7 477.1 534.5 478.0 536.0 478.3 537.5 478.3 539.0 477.8 540.5 477.0 541.9 476.0 542.7Z" stroke-width="0.95"/>
<path d="M564.5 410.1 564.0 409.9 563.5 409.5 563.1 408.5 562.9 407.5 563.1 406.5 563.5 405.7 564.0 405.3 564.5 405.1 565.0 405.3 565.5 405.7 565.9 406.5 566.1 407.5 565.9 408.5 565.5 409.5 565.0 409.9 564.5 410.1ZM576.0 432.2 575.5 432.4 575.1 432.0 575.0 431.5 575.5 430.0 576.0 429.5 576.5 429.4 576.7 430.5 576.5 431.4 576.0 432.2ZM550.5 444.2 550.0 444.4 549.0 444.4 548.5 444.0 547.8 443.0 547.6 442.0 547.7 441.0 548.1 440.0 549.0 439.2 550.0 439.2 550.5 439.4 551.1 440.0 551.5 441.0 551.6 442.0 551.4 443.0 550.5 444.2ZM557.5 446.8 557.0 447.0 556.5 446.9 556.1 446.5 555.8 445.5 555.9 444.5 556.3 443.5 557.0 442.3 558.0 441.3 559.0 440.9 559.4 442.0 559.2 444.0 558.5 445.6 557.5 446.8ZM448.5 461.8 448.0 461.9 447.5 461.8 447.0 461.4 446.6 460.5 446.3 459.5 446.4 458.0 446.7 457.0 447.5 456.0 448.0 455.9 448.5 456.0 449.0 456.5 449.5 457.5 449.7 458.5 449.4 460.5 449.0 461.4 448.5 461.8ZM562.5 470.0 562.0 469.9 561.4 469.5 560.9 468.5 560.8 467.5 561.4 466.0 562.0 465.5 562.5 465.4 563.0 465.5 563.6 466.0 564.2 467.5 564.1 468.5 563.6 469.5 563.0 469.9 562.5 470.0ZM521.0 476.5 520.5 476.8 519.5 476.7 518.7 476.0 518.2 474.5 518.2 473.0 518.5 471.8 519.1 471.0 520.0 470.5 520.5 470.6 521.1 471.0 521.8 472.0 522.0 473.0 521.9 475.0 521.5 475.9 521.0 476.5ZM452.0 525.1 450.5 525.2 449.5 524.9 449.1 524.5 448.7 523.5 448.8 522.0 449.5 520.5 450.5 519.7 451.5 519.3 453.0 519.2 453.8 519.5 454.5 520.1 455.0 521.0 455.1 522.0 454.8 523.0 454.1 524.0 453.0 524.8 452.0 525.1ZM405.5 530.6 404.5 530.7 404.0 530.5 403.5 530.0 403.0 529.0 403.0 528.0 403.2 527.0 404.0 526.1 404.5 525.9 405.5 526.0 406.1 526.5 406.6 527.5 406.6 528.5 406.5 529.3 406.1 530.0 405.5 530.6ZM513.0 544.0 512.0 543.6 511.5 543.0 511.0 542.0 510.9 541.0 511.0 539.8 511.5 538.7 512.0 538.2 513.0 537.8 514.0 538.0 514.7 538.5 515.3 539.5 515.5 541.0 515.4 542.0 514.9 543.0 514.0 543.8 513.0 544.0ZM523.0 565.7 522.0 565.7 521.5 565.5 520.9 565.0 520.6 564.5 520.6 563.5 520.8 563.0 521.5 562.4 522.0 562.2 523.0 562.3 523.5 562.6 524.0 563.3 524.1 564.5 523.5 565.4 523.0 565.7ZM456.0 592.0 456.6 590.5 456.5 588.5 455.5 586.4 455.0 586.0 454.5 585.9 454.0 586.3 453.6 587.5 453.8 589.5 454.3 591.0 455.0 592.0 455.5 592.3 456.0 592.0ZM519.5 602.0 519.0 602.0 518.2 601.0 517.9 600.0 517.8 598.5 517.9 597.0 518.2 596.0 519.0 595.0 519.5 595.0 520.0 595.3 520.5 596.3 520.8 598.5 520.5 600.7 520.0 601.7 519.5 602.0ZM481.0 636.7 480.0 636.9 479.5 636.7 478.9 636.0 478.3 634.5 478.3 633.0 478.5 631.5 479.1 630.5 480.0 629.9 480.5 630.0 481.0 630.3 481.5 631.0 482.0 633.0 482.0 635.0 481.6 636.0 481.0 636.7ZM488.0 639.0 486.5 639.1 485.5 638.6 485.0 638.0 484.7 637.0 484.8 636.0 485.1 635.5 486.0 634.8 487.0 634.6 488.0 634.8 489.0 635.5 489.2 636.0 489.4 637.0 489.1 638.0 488.8 638.5 488.0 639.0ZM438.5 658.7 438.0 658.9 437.5 658.8 437.2 658.0 437.1 657.0 437.4 655.5 437.8 654.5 438.5 653.7 439.0 653.5 439.5 653.6 439.7 654.0 439.9 655.5 439.5 657.2 438.5 658.7ZM445.5 724.0 444.5 723.9 444.0 723.5 443.4 722.0 443.4 721.0 443.8 720.0 444.5 719.3 445.0 719.1 446.0 719.5 446.4 720.0 446.9 721.5 446.5 723.1 446.0 723.7 445.5 724.0ZM565.0 409.1 564.5 409.3 564.0 409.1 563.4 408.0 563.5 407.0 563.7 406.5 564.0 406.0 564.5 405.9 565.0 406.0 565.5 407.0 565.5 408.3 565.0 409.1ZM561.5 438.1 560.5 438.5 560.0 438.3 559.5 437.5 559.1 436.0 559.1 434.5 559.5 433.4 560.0 432.7 561.0 432.3 561.5 432.4 562.3 433.0 562.7 434.0 562.9 435.0 562.5 437.0 561.5 438.1ZM550.0 443.6 549.5 443.7 549.0 443.5 548.5 443.0 548.2 442.0 548.5 440.6 549.0 440.1 549.5 439.9 550.0 440.0 550.5 440.4 551.0 441.5 550.7 443.0 550.0 443.6ZM557.5 446.1 557.0 446.2 556.5 445.9 556.4 444.5 556.7 443.5 557.5 442.5 558.0 442.2 558.5 442.2 558.8 443.0 558.7 444.0 558.1 445.5 557.5 446.1ZM448.0 461.0 447.5 460.8 447.2 460.5 446.8 459.0 447.1 457.5 447.5 456.9 448.0 456.8 448.5 456.9 448.9 457.5 449.2 459.0 448.8 460.5 448.5 460.8 448.0 461.0ZM563.0 469.2 562.5 469.3 562.0 469.2 561.5 468.6 561.3 468.0 561.5 466.8 562.0 466.2 562.5 466.1 563.3 466.5 563.7 467.5 563.5 468.5 563.0 469.2ZM520.5 475.8 520.0 475.9 519.5 475.7 519.0 475.0 518.7 474.0 519.0 472.3 519.5 471.7 520.0 471.5 520.5 471.5 521.0 472.0 521.5 473.5 521.2 475.0 520.5 475.8ZM499.5 503.7 498.5 503.6 497.5 502.8 497.0 502.0 496.6 500.5 496.6 499.5 497.0 498.2 497.6 497.5 498.5 497.1 499.5 497.5 500.0 498.0 500.5 499.5 500.5 502.0 500.0 503.3 499.5 503.7ZM422.5 509.8 421.0 510.0 420.0 509.7 419.3 509.0 418.9 508.0 418.9 506.5 419.3 505.5 420.2 504.5 421.5 503.8 422.5 503.8 423.5 504.4 424.0 505.0 424.3 506.0 424.3 507.0 424.0 508.2 423.5 509.0 422.5 509.8ZM427.0 519.1 426.0 519.2 425.0 518.6 424.5 517.5 424.4 516.0 424.7 514.5 425.5 513.0 426.5 512.3 427.5 512.2 428.4 512.5 429.0 513.1 429.4 514.0 429.5 515.5 429.1 517.0 428.5 518.0 428.0 518.5 427.0 519.1ZM479.5 521.6 478.6 521.5 478.1 521.0 477.6 520.0 477.5 519.0 477.6 517.5 478.1 516.0 478.9 515.0 479.5 514.8 480.0 515.0 480.5 515.5 480.9 516.5 481.1 518.0 481.0 519.2 480.6 520.5 480.0 521.3 479.5 521.6ZM452.0 524.5 451.0 524.6 450.0 524.1 449.5 523.5 449.3 522.5 449.5 521.5 450.2 520.5 451.5 519.8 452.5 519.7 453.5 520.0 454.1 520.5 454.4 521.0 454.6 522.0 453.9 523.5 453.0 524.2 452.0 524.5ZM405.0 530.0 404.5 530.0 404.0 529.7 403.5 528.5 403.7 527.5 404.0 526.9 404.5 526.6 405.0 526.6 405.5 526.8 406.1 528.0 406.0 529.0 405.5 529.8 405.0 530.0ZM528.0 540.1 527.0 539.6 526.5 539.0 526.1 538.0 525.9 536.5 526.0 535.5 526.5 534.2 527.1 533.5 528.0 533.1 528.9 533.5 529.5 534.2 530.0 535.5 530.1 536.5 529.9 538.0 529.5 539.0 529.0 539.6 528.0 540.1ZM514.0 543.2 513.5 543.4 512.5 543.2 511.7 542.5 511.4 541.5 511.3 540.5 511.6 539.5 512.0 538.9 513.0 538.4 514.0 538.6 514.5 539.1 515.0 540.1 515.1 541.0 514.9 542.0 514.5 542.7 514.0 543.2ZM523.0 565.1 522.0 565.2 521.2 564.5 521.2 563.5 521.6 563.0 522.5 562.7 523.0 562.9 523.5 563.4 523.5 564.5 523.0 565.1ZM519.5 601.0 519.0 600.9 518.5 600.2 518.2 598.5 518.5 596.8 519.0 596.1 519.5 596.0 520.2 597.0 520.4 598.5 520.2 600.0 519.5 601.0ZM480.5 636.2 480.0 636.3 479.5 636.0 479.0 635.4 478.6 634.0 478.7 632.5 479.0 631.5 479.5 630.8 480.0 630.6 480.5 630.7 481.0 631.1 481.4 632.0 481.7 633.0 481.5 635.0 481.0 635.9 480.5 636.2ZM488.0 638.6 487.5 638.7 486.5 638.7 485.5 638.0 485.1 637.0 485.2 636.5 485.4 636.0 486.0 635.3 486.5 635.1 487.5 635.0 488.4 635.5 488.8 636.0 489.0 636.5 488.9 637.5 488.5 638.2 488.0 638.6ZM438.0 658.1 437.6 657.5 437.6 656.0 438.0 655.0 438.5 654.4 439.0 654.3 439.5 655.0 439.3 656.5 439.0 657.3 438.5 658.0 438.0 658.1ZM447.0 682.3 446.5 682.3 446.0 682.0 445.6 681.5 445.1 679.5 445.1 678.0 445.4 677.0 446.0 676.0 446.5 675.7 447.0 675.7 447.8 676.5 448.3 678.5 448.3 680.0 448.0 681.0 447.5 681.9 447.0 682.3ZM436.0 709.6 435.5 709.8 435.0 709.6 434.5 709.2 434.0 708.3 433.7 707.0 433.8 705.5 434.2 704.5 435.0 703.6 435.5 703.4 436.0 703.6 436.5 704.0 437.0 704.9 437.2 706.0 437.0 708.3 436.5 709.2 436.0 709.6ZM445.5 723.2 445.0 723.3 444.5 723.1 443.9 722.0 443.9 721.0 444.2 720.5 444.5 720.1 445.0 719.9 445.5 719.9 446.0 720.4 446.3 721.5 446.2 722.5 445.5 723.2ZM561.5 437.2 561.0 437.4 560.5 437.4 560.0 436.9 559.6 435.5 559.7 434.5 560.0 433.8 560.5 433.2 561.0 433.1 561.5 433.2 562.0 433.8 562.3 435.0 562.0 436.5 561.5 437.2ZM557.5 444.8 557.3 444.5 557.5 443.8 557.8 444.0 557.5 444.8ZM492.5 472.1 492.0 472.2 491.5 471.9 491.1 471.0 490.9 470.0 491.0 468.0 491.5 466.9 492.0 466.6 492.5 466.7 493.0 467.4 493.3 469.0 493.1 471.0 492.5 472.1ZM459.5 490.7 458.5 490.9 457.5 490.5 457.1 490.0 456.8 489.0 456.9 487.5 457.4 486.5 458.0 485.8 459.0 485.5 460.0 485.9 460.5 486.4 461.0 487.7 461.0 488.5 460.7 489.5 460.0 490.3 459.5 490.7ZM499.0 502.5 498.5 502.5 498.0 502.2 497.4 501.5 497.2 500.5 497.2 499.5 497.5 498.6 498.0 498.1 498.5 497.9 499.0 498.1 499.5 498.5 500.0 500.0 499.9 501.5 499.5 502.2 499.0 502.5ZM444.5 507.8 444.0 507.9 443.5 507.8 443.0 507.4 442.5 506.4 442.3 505.0 442.4 503.5 443.0 502.1 443.5 501.5 444.0 501.1 444.5 501.0 445.0 501.3 445.4 502.0 445.8 504.0 445.5 506.5 445.0 507.4 444.5 507.8ZM456.5 508.8 455.5 508.8 455.0 508.4 454.5 507.6 454.2 506.5 454.1 505.0 454.4 503.5 455.0 502.4 455.5 502.1 456.0 502.2 457.0 503.2 457.7 505.0 457.8 506.5 457.5 507.5 457.0 508.4 456.5 508.8ZM421.5 509.1 420.5 508.9 420.0 508.5 419.7 508.0 419.6 507.0 419.9 506.0 420.5 505.2 421.0 504.9 422.0 504.7 422.8 505.0 423.3 505.5 423.5 506.0 423.5 507.0 423.1 508.0 422.7 508.5 421.5 509.1ZM427.0 518.1 426.0 518.1 425.5 517.7 425.2 517.0 425.1 516.0 425.3 515.0 426.0 513.9 426.5 513.5 427.5 513.3 428.0 513.4 428.5 514.0 428.8 515.5 428.3 517.0 427.5 517.9 427.0 518.1ZM479.5 520.6 479.0 520.6 478.5 520.2 478.1 518.5 478.5 516.5 479.0 515.8 479.5 515.7 480.0 515.9 480.3 516.5 480.6 518.0 480.4 519.5 480.0 520.3 479.5 520.6ZM452.5 523.7 451.5 523.8 451.0 523.7 450.2 523.0 450.1 522.5 450.3 521.5 450.6 521.0 451.5 520.4 452.5 520.4 453.0 520.5 453.6 521.0 453.8 521.5 453.9 522.0 453.5 522.9 452.5 523.7ZM528.0 539.1 527.5 538.9 527.0 538.4 526.6 537.5 526.5 536.5 527.0 534.8 527.5 534.3 528.0 534.1 528.5 534.3 529.0 534.8 529.5 536.5 529.4 537.5 529.0 538.4 528.5 538.9 528.0 539.1ZM513.5 542.6 513.0 542.7 512.5 542.4 512.0 541.7 511.9 541.0 512.0 540.0 512.5 539.4 513.0 539.1 513.5 539.2 514.0 539.5 514.5 540.5 514.5 541.5 514.2 542.0 513.5 542.6ZM445.5 562.5 445.0 562.6 444.2 562.0 443.6 561.0 443.4 560.0 443.4 558.5 443.7 557.5 444.5 556.6 445.0 556.4 445.5 556.5 446.0 557.0 446.5 557.9 446.7 559.0 446.5 561.3 446.0 562.2 445.5 562.5ZM513.0 561.6 512.3 561.5 511.7 561.0 511.3 560.0 511.3 559.0 511.5 558.0 512.0 557.1 512.8 556.5 513.5 556.4 514.0 556.5 514.5 557.0 514.9 558.0 514.9 559.0 514.7 560.0 514.1 561.0 513.0 561.6ZM522.5 564.1 522.4 564.0 522.5 563.9 522.5 564.1ZM414.0 609.5 413.5 609.1 413.2 608.5 412.9 606.5 413.1 604.5 413.5 603.5 414.0 603.1 414.5 603.3 415.0 604.1 415.3 606.5 415.0 608.5 414.5 609.3 414.0 609.5ZM480.5 635.4 480.0 635.5 479.5 635.1 479.1 634.0 479.2 632.5 479.5 631.7 480.0 631.4 480.5 631.5 480.9 632.0 481.2 633.0 481.1 634.5 480.5 635.4ZM464.0 639.6 463.5 639.6 462.7 639.0 462.2 638.0 462.0 637.0 462.0 635.5 462.2 634.5 462.7 633.5 463.5 633.0 464.0 633.0 464.5 633.3 465.0 634.0 465.5 636.0 465.4 637.5 465.0 638.5 464.5 639.3 464.0 639.6ZM487.5 638.2 486.5 638.1 485.9 637.5 485.8 636.5 486.5 635.7 487.5 635.6 488.1 636.0 488.4 636.5 488.3 637.5 487.5 638.2ZM447.0 681.3 446.5 681.3 446.0 680.9 445.6 679.5 445.6 678.5 445.8 677.5 446.5 676.7 447.0 676.7 447.5 677.3 447.8 678.5 447.6 680.5 447.0 681.3ZM468.0 682.2 467.5 682.3 467.0 682.0 466.5 681.0 466.4 680.0 466.5 678.0 467.0 677.0 467.5 676.7 468.0 676.8 468.5 677.5 468.8 679.0 468.6 681.0 468.0 682.2ZM436.0 708.6 435.5 708.8 435.0 708.6 434.5 707.9 434.3 707.0 434.5 705.3 435.0 704.6 435.5 704.4 436.0 704.6 436.3 705.0 436.7 706.0 436.6 707.5 436.0 708.6ZM561.0 435.7 560.8 435.0 561.0 434.8 561.2 435.0 561.0 435.7ZM459.0 488.7 458.6 488.5 458.5 488.0 459.0 487.5 459.4 488.0 459.0 488.7ZM444.0 490.8 443.5 490.8 443.0 490.0 442.9 489.0 443.5 488.3 444.0 488.5 444.3 489.0 444.4 490.0 444.0 490.8ZM507.5 496.9 507.0 496.4 506.9 495.5 507.0 494.3 507.5 493.6 508.0 494.0 508.2 495.5 508.0 496.5 507.5 496.9ZM452.0 497.6 450.5 497.5 449.6 497.0 449.2 496.5 449.1 496.0 449.2 495.5 450.0 494.9 451.0 494.7 452.0 494.8 452.5 495.1 453.0 495.7 453.1 496.5 453.0 497.0 452.5 497.5 452.0 497.6ZM499.0 500.5 498.5 500.9 498.2 500.5 498.1 500.0 498.5 499.4 499.0 499.9 499.0 500.5ZM474.5 504.5 473.5 504.8 473.0 504.7 472.6 504.0 472.7 503.5 472.9 503.0 473.5 502.4 474.5 502.1 475.0 502.2 475.7 502.5 476.0 503.0 475.9 503.5 475.5 504.0 474.5 504.5ZM444.0 505.5 443.8 505.0 444.0 504.0 444.3 505.0 444.0 505.5ZM456.0 506.5 455.7 506.0 455.7 505.5 456.0 505.2 456.3 506.0 456.0 506.5ZM421.5 507.2 421.3 507.0 421.5 506.5 421.8 507.0 421.5 507.2ZM470.5 514.2 470.0 514.2 469.5 513.7 469.0 512.5 468.9 511.5 469.5 509.3 470.0 508.6 471.0 507.8 471.5 508.0 472.0 509.0 472.1 511.0 471.5 513.2 471.0 513.9 470.5 514.2ZM427.0 516.1 426.8 516.0 427.0 515.4 427.2 515.5 427.0 516.1ZM479.5 519.0 479.0 518.6 479.0 518.0 479.2 517.5 479.5 517.2 479.8 518.0 479.5 519.0ZM452.0 522.6 451.5 522.3 451.4 522.0 452.0 521.5 452.6 522.0 452.0 522.6ZM505.5 532.0 504.5 532.1 504.0 531.8 503.5 531.0 503.3 530.0 503.4 529.0 504.0 527.2 504.5 527.1 505.0 527.5 506.2 529.5 506.2 531.0 506.0 531.6 505.5 532.0ZM446.5 532.1 446.0 532.2 445.0 532.0 444.0 531.1 443.9 530.0 444.5 529.2 445.5 528.9 446.0 529.0 446.6 529.5 446.9 530.0 447.1 531.0 447.0 531.6 446.5 532.1ZM439.0 541.6 438.5 541.8 438.0 541.7 437.5 541.3 437.0 540.3 436.8 539.5 436.9 538.5 437.3 537.5 438.0 536.9 438.5 536.8 439.5 537.1 440.0 537.6 440.3 538.5 440.3 539.5 440.0 540.4 439.0 541.6ZM438.5 548.6 438.0 548.7 437.5 548.5 437.2 548.0 437.3 547.0 437.5 546.6 438.0 546.3 438.5 546.5 438.9 547.5 438.9 548.0 438.5 548.6ZM414.5 558.0 414.0 557.8 413.6 557.0 413.4 555.0 413.6 554.0 414.0 553.1 414.5 552.7 415.0 552.5 415.5 552.7 416.2 553.5 416.4 554.5 416.4 555.5 416.0 556.8 415.5 557.5 415.0 557.9 414.5 558.0ZM445.0 560.5 444.5 560.0 444.4 559.5 444.5 558.9 445.0 558.3 445.5 558.7 445.6 559.5 445.5 560.2 445.0 560.5ZM423.0 575.5 422.5 575.7 422.0 575.5 421.5 575.1 420.8 573.5 420.7 572.0 420.7 570.5 421.0 569.6 421.5 569.1 422.0 569.1 423.0 569.6 423.5 570.3 424.0 571.5 424.1 573.0 424.0 574.0 423.5 575.0 423.0 575.5ZM491.5 617.5 490.0 617.8 489.0 617.5 488.0 616.5 487.7 615.0 488.1 613.5 489.0 612.3 490.5 611.2 492.0 610.8 492.7 611.0 493.3 612.0 493.6 613.0 493.6 614.5 493.4 615.5 493.0 616.3 492.4 617.0 491.5 617.5ZM499.5 634.6 499.0 634.5 498.7 634.0 498.3 632.5 498.5 631.2 498.8 630.5 499.0 630.1 499.5 630.0 500.0 630.6 500.4 632.5 500.1 634.0 499.5 634.6ZM480.0 633.6 480.0 633.4 480.0 633.6ZM503.0 513.1 502.5 513.1 502.0 512.8 501.5 512.0 501.1 510.5 501.5 508.9 502.0 508.4 502.5 508.3 503.0 508.5 503.5 508.9 504.0 510.4 503.7 512.0 503.5 512.6 503.0 513.1ZM470.5 513.0 470.0 512.9 469.8 512.5 469.6 511.0 470.0 509.8 470.5 509.3 471.0 509.3 471.4 510.0 471.5 511.1 471.1 512.5 470.5 513.0ZM504.0 523.2 503.5 523.4 503.0 523.1 502.5 522.3 502.2 521.0 502.5 519.3 503.0 518.6 503.5 518.5 504.0 518.8 504.5 519.5 504.7 520.5 504.7 522.0 504.0 523.2ZM452.0 538.1 451.0 538.3 450.0 537.8 449.5 537.0 449.5 536.5 449.7 536.0 450.5 535.6 451.0 535.7 452.3 536.5 452.6 537.0 452.7 537.5 452.0 538.1ZM439.0 540.5 438.5 540.7 438.0 540.5 437.5 539.5 437.6 538.5 438.0 537.9 438.5 537.7 439.0 537.8 439.6 538.5 439.6 539.5 439.0 540.5ZM491.0 548.0 490.5 548.1 490.0 547.8 489.5 547.3 489.1 546.5 488.9 545.5 489.0 544.5 489.4 543.5 490.0 542.9 490.5 542.8 491.0 542.9 491.5 543.3 491.9 544.0 492.2 545.0 492.0 546.8 491.5 547.7 491.0 548.0ZM415.0 556.7 414.4 556.5 414.0 555.5 414.3 554.0 414.5 553.7 415.0 553.5 415.7 554.0 415.9 555.0 415.6 556.0 415.0 556.7ZM412.0 564.5 410.5 564.7 409.5 564.6 409.0 564.3 408.5 563.7 408.3 563.0 408.5 562.0 409.0 561.5 410.0 561.1 411.0 561.3 411.5 561.6 412.3 562.5 412.8 563.5 412.8 564.0 412.0 564.5ZM416.5 566.2 415.4 566.0 414.6 565.0 415.0 564.6 415.5 564.6 416.5 564.9 417.0 565.5 417.0 566.0 416.5 566.2ZM423.0 574.2 422.5 574.4 422.0 574.2 421.5 573.2 421.5 571.5 422.0 570.7 422.5 570.7 422.9 571.0 423.4 572.0 423.4 573.0 423.0 574.2ZM449.0 582.3 448.5 582.4 448.0 582.2 447.5 581.6 447.0 580.3 446.8 579.0 446.9 577.5 447.2 576.5 448.0 575.5 448.5 575.3 449.0 575.4 449.8 576.0 450.3 577.0 450.5 578.0 450.5 579.3 450.2 580.5 449.5 581.9 449.0 582.3ZM450.0 599.6 449.0 599.3 448.5 598.7 448.0 597.7 447.7 596.5 447.7 595.0 448.0 593.6 448.5 592.8 449.0 592.6 449.5 592.8 450.5 593.9 451.0 595.0 451.4 596.5 451.4 597.5 451.2 598.5 450.5 599.5 450.0 599.6ZM462.5 600.3 461.5 600.4 460.8 600.0 460.1 599.0 459.8 598.0 459.7 597.0 460.1 595.5 460.5 594.5 461.5 593.6 462.0 593.6 462.5 593.8 463.0 594.3 463.5 595.2 463.9 596.5 463.9 598.0 463.6 599.0 463.0 599.9 462.5 600.3ZM472.0 607.7 471.5 607.8 471.0 607.5 470.7 607.0 470.4 606.0 470.5 605.0 471.0 603.7 471.5 603.1 472.5 602.6 473.0 602.6 473.3 603.0 473.4 603.5 473.3 605.5 472.7 607.0 472.0 607.7ZM491.5 616.5 490.5 616.9 489.5 616.8 489.0 616.5 488.5 615.5 488.5 614.5 489.0 613.4 490.0 612.4 491.0 612.1 491.5 612.1 492.2 612.5 492.5 613.0 492.7 614.0 492.4 615.5 491.5 616.5ZM499.5 624.2 499.0 624.4 498.5 624.2 497.9 623.5 497.6 622.5 497.6 621.0 498.0 620.3 498.5 620.0 499.0 620.0 499.5 620.2 500.0 620.8 500.2 621.5 500.2 623.0 500.0 623.6 499.5 624.2ZM502.5 510.8 502.5 510.2 502.6 510.5 502.5 510.8ZM473.0 528.9 472.5 528.7 471.5 527.7 470.8 526.5 470.4 525.0 470.4 523.5 470.7 522.5 471.5 521.6 472.0 521.5 473.0 522.1 473.5 522.9 473.8 524.0 473.7 526.5 473.5 527.8 473.0 528.9ZM410.0 563.1 410.0 562.9 410.1 563.0 410.0 563.1ZM462.0 598.2 461.5 598.0 461.3 597.5 461.5 596.6 462.0 596.4 462.4 597.0 462.4 597.5 462.0 598.2ZM495.0 602.6 494.5 602.4 494.3 602.0 494.0 600.5 494.5 598.7 495.0 598.4 495.5 599.0 495.8 600.5 495.6 602.0 495.0 602.6ZM472.0 605.7 471.5 605.5 472.0 605.1 472.0 605.7ZM491.0 615.1 490.5 615.4 490.0 615.3 489.8 614.5 490.2 614.0 490.5 613.8 491.1 614.0 491.2 614.5 491.0 615.1ZM472.5 526.3 472.0 526.3 471.7 526.0 471.2 525.0 471.3 523.5 471.5 523.1 472.0 522.8 472.5 523.1 473.0 524.1 473.0 525.4 472.5 526.3ZM416.0 534.7 415.5 533.3 415.3 532.0 415.5 531.0 416.0 530.9 416.4 531.5 416.5 532.5 416.0 534.7ZM416.5 536.1 416.5 535.8 416.5 536.1ZM461.0 545.1 460.5 545.1 460.0 544.8 459.5 544.3 458.9 543.0 458.7 541.5 459.0 540.7 459.4 540.5 460.0 540.5 460.5 540.8 461.1 541.5 461.5 542.4 461.6 544.0 461.5 544.6 461.0 545.1ZM461.5 562.1 461.0 562.3 460.5 562.0 460.0 560.5 460.2 559.0 460.5 558.3 461.0 557.8 461.5 558.0 462.0 558.7 462.2 559.5 462.1 561.0 461.5 562.1ZM494.0 566.6 493.5 566.9 493.0 566.5 492.9 566.0 492.9 564.5 493.5 563.8 494.0 564.3 494.2 565.0 494.0 566.6ZM461.5 581.6 461.0 581.4 460.8 581.0 460.5 580.4 460.4 579.5 460.6 578.5 461.0 577.9 461.5 577.7 462.0 578.1 462.2 578.5 462.5 579.5 462.2 581.0 461.5 581.6ZM494.5 587.7 493.8 587.0 493.5 586.0 493.4 585.0 493.7 583.5 494.0 583.0 494.5 582.8 495.0 583.1 495.2 583.5 495.5 585.0 495.5 586.0 495.2 587.0 495.0 587.4 494.5 587.7ZM477.5 597.6 477.0 597.9 476.5 597.7 476.2 597.0 476.4 595.5 477.0 595.2 477.5 595.5 477.7 596.0 477.7 597.0 477.5 597.6ZM476.0 560.8 475.5 561.0 475.0 560.8 474.5 560.4 474.0 559.5 473.7 558.0 473.9 556.5 474.2 555.5 475.0 554.7 475.5 554.6 476.0 554.8 476.5 555.4 477.0 556.5 477.1 557.5 476.9 559.5 476.5 560.3 476.0 560.8ZM477.0 580.8 476.5 580.9 476.0 580.8 475.5 580.3 475.1 579.5 474.9 578.5 474.9 577.0 475.3 576.0 476.0 575.2 476.5 575.1 477.0 575.3 477.5 575.8 478.1 577.5 477.8 579.5 477.5 580.3 477.0 580.8ZM476.0 541.6 475.0 541.7 474.0 541.1 473.5 540.4 473.1 539.0 473.1 537.5 473.5 536.1 474.0 535.3 475.0 534.6 476.0 534.7 476.5 535.0 477.3 536.0 477.6 537.0 477.7 538.0 477.5 539.5 477.0 540.6 476.0 541.6ZM476.0 540.1 475.5 540.3 474.7 540.0 474.3 539.5 474.0 538.5 474.0 537.5 474.4 536.5 475.0 535.9 475.5 535.8 476.0 536.0 476.5 536.5 476.8 537.5 476.7 539.0 476.0 540.1Z" stroke-width="0.76"/>
</g>
<g fill="none" stroke="#000" stroke-linejoin="round">
<path d="M538.5 500.7 537.5 500.9 536.7 500.5 536.3 500.0 536.1 499.0 536.5 498.3 537.0 497.9 538.0 497.7 538.6 498.0 539.1 498.5 539.3 499.5 539.0 500.2 538.5 500.7ZM533.5 655.9 533.0 656.0 532.5 655.8 532.1 655.0 532.3 654.5 533.0 654.0 533.5 654.1 534.0 654.6 534.0 655.5 533.5 655.9ZM521.0 708.2 520.5 708.1 520.3 707.5 520.5 705.8 521.5 703.9 522.0 703.6 522.5 703.7 522.7 704.5 522.5 706.0 522.0 707.2 521.0 708.2ZM527.5 725.6 527.0 725.5 526.6 725.0 526.3 723.5 526.5 722.0 527.0 721.3 527.5 721.3 528.1 722.0 528.3 723.5 528.0 725.0 527.5 725.6Z" stroke-width="0.88"/>
<path d="M538.0 500.1 537.1 500.0 536.8 499.5 537.0 498.7 537.5 498.4 538.1 498.5 538.6 499.0 538.5 499.7 538.0 500.1ZM533.5 655.6 533.0 655.7 532.7 655.5 532.4 655.0 532.7 654.5 533.0 654.3 533.6 654.5 533.8 655.0 533.5 655.6ZM521.0 707.6 520.7 707.0 520.8 706.0 521.5 704.5 522.0 704.2 522.4 705.0 522.2 706.0 521.5 707.3 521.0 707.6ZM527.5 724.6 527.0 724.5 526.8 723.5 527.0 722.3 527.5 722.2 527.8 723.5 527.5 724.6Z" stroke-width="0.72"/>
</g>
<g fill="none" stroke="#ff8c00" stroke-linejoin="round">
<path d="M586.0 551.8 585.0 551.8 584.0 551.1 583.5 550.0 583.2 548.5 583.4 547.0 584.0 545.5 584.5 545.0 585.5 544.7 586.5 545.2 587.0 545.8 587.4 547.0 587.6 548.0 587.5 549.5 587.1 550.5 586.5 551.4 586.0 551.8Z" stroke-width="1.12"/>
<path d="M586.0 550.6 585.5 550.8 585.0 550.8 584.5 550.4 584.0 549.5 583.9 548.5 583.9 547.5 584.3 546.5 585.0 545.8 585.5 545.8 586.0 546.0 586.5 546.5 586.9 548.0 586.8 549.5 586.0 550.6Z" stroke-width="0.8"/>
</g>
<path d="M574.0 559.0 573.0 559.0 571.8 558.5 571.2 558.0 571.1 557.5 571.2 557.0 572.0 556.4 573.0 556.0 574.5 556.1 575.7 556.5 576.2 557.0 576.4 557.5 576.3 558.0 575.5 558.7 574.0 559.0ZM585.5 576.0 582.5 575.9 581.0 575.6 579.5 574.9 578.3 574.0 577.5 573.1 577.0 572.0 576.8 571.0 577.0 569.5 577.6 567.5 578.8 564.5 579.9 562.5 580.8 561.5 582.0 560.6 583.0 560.2 584.5 559.9 586.0 560.0 587.5 560.6 588.8 561.5 589.7 562.5 590.9 565.0 591.7 568.0 592.0 570.0 591.7 572.0 591.2 573.0 590.4 574.0 588.5 575.2 587.0 575.8 585.5 576.0Z" fill="#ff8c00" stroke="#ff8c00" stroke-width="0.8"/>
<path d="M571.5 642.1 571.0 641.9 570.5 641.3 570.0 640.0 570.1 634.5 570.4 633.0 571.5 631.5 572.5 630.8 574.0 630.5 575.5 630.8 577.0 631.7 577.8 633.0 578.1 634.5 577.8 636.0 577.2 637.0 576.5 637.7 574.0 638.8 573.5 639.4 572.5 641.5 572.0 642.0 571.5 642.1ZM571.5 656.6 570.0 656.9 568.9 656.5 568.4 656.0 568.0 655.1 567.8 653.5 568.2 651.5 569.0 650.0 570.5 648.6 572.0 648.3 573.0 648.6 573.8 649.5 574.1 650.5 574.2 652.0 573.9 653.5 573.4 654.5 572.5 655.8 571.5 656.6Z" fill="#7b7bff" stroke="#7b7bff" stroke-width="0.8"/>
<g fill="none" stroke="#7b7bff" stroke-linejoin="round">
<path d="M576.5 648.1 575.5 648.0 574.6 647.5 574.0 646.8 573.7 646.0 573.8 645.0 574.3 644.0 575.0 643.4 576.0 643.1 577.0 643.2 578.0 643.9 578.4 644.5 578.7 645.5 578.5 646.5 578.0 647.3 577.5 647.7 576.5 648.1Z" stroke-width="1.12"/>
<path d="M577.0 647.2 576.5 647.3 575.5 647.2 574.7 646.5 574.5 646.0 574.5 645.0 575.0 644.3 575.5 644.0 576.5 643.9 577.0 644.0 577.6 644.5 577.9 645.0 577.9 646.0 577.5 646.8 577.0 647.2Z" stroke-width="1.04"/>
</g>
<circle cx="580.9" cy="665.5" r="1.2" fill="#7b7bff"/>
<circle cx="538.2" cy="511" r="0.8" fill="#7b7bff"/>
<circle cx="538.2" cy="516.3" r="1.1" fill="#7b7bff"/>
<circle cx="563.4" cy="521.7" r="0.8" fill="#7b7bff"/>
<circle cx="464.7" cy="504.8" r="0.9" fill="#22cc22"/>
<circle cx="562.3" cy="718.1" r="0.7" fill="#22cc22"/>
<text x="578" y="536.3" class="lab2" fill="#c87010" stroke="#402000" stroke-width="0.35">Lys</text>
<text x="567.1" y="626.4" class="lab" fill="#5a4ac0" stroke="#202050" stroke-width="0.35">Arg</text>
<text x="411.2" y="645.9" class="lab3">Pro N–Ca</text>
<text x="508.6" y="645.9" class="lab3">Pro N–Cd</text>
<rect x="423.4" y="648" width="32" height="82" fill="none" stroke="#333" stroke-width="0.9"/>
<rect x="512.6" y="648" width="31.5" height="82" fill="none" stroke="#333" stroke-width="0.9"/>
<path d="M318.3 47.9L343.29999999999995 47.9L351.3 70.5" fill="none" stroke="#ff1010" stroke-width="4.4" stroke-linejoin="round"/><path d="M318.8 48.3L342.9 48.3L350.8 70.7L331.1 84.2L311.8 70.7ZM308.9 33.8L318.8 48.3M354.7 33.5L342.9 48.3M350.8 70.7L368 76.3M331.1 84.2L331.1 103" fill="none" stroke="#000" stroke-width="1.3" stroke-linejoin="round"/><path d="M321.6 50.8L315.2 69.6M331.8 81.0L347.8 70.0" fill="none" stroke="#000" stroke-width="0.8"/><circle cx="342.9" cy="48.3" r="2.6" fill="#0a0a9a"/><circle cx="311.8" cy="70.7" r="2.6" fill="#0a0a9a"/><text x="301.7" y="33.1" class="sm">He1</text><text x="352.8" y="33.1" class="sm">He2</text><text x="303.8" y="51.6" class="sm">Ce1</text><text x="352.6" y="70.4" class="sm">Cd2</text><text x="369.1" y="79.7" class="sm">Hd2</text><text x="333" y="89.9" class="sm">Cg</text><text x="327.6" y="110.0" class="sm">Cb</text><text x="347.1" y="51.8" class="smb">Ne2</text><text x="295.6" y="73.8" class="smb">Nd1</text>
<path d="M318.3 429.8L343.29999999999995 429.8L351.3 452.4" fill="none" stroke="#ff1010" stroke-width="4.4" stroke-linejoin="round"/><path d="M318.2 430.7L311.2 452.59999999999997" fill="none" stroke="#22aa22" stroke-width="3.4"/><path d="M318.8 430.2L342.9 430.2L350.8 452.59999999999997L331.1 466.09999999999997L311.8 452.59999999999997ZM308.9 415.7L318.8 430.2M354.7 415.4L342.9 430.2M350.8 452.59999999999997L368 458.2M331.1 466.09999999999997L331.1 484.9" fill="none" stroke="#000" stroke-width="1.3" stroke-linejoin="round"/><path d="M321.6 432.7L315.2 451.5M331.8 462.9L347.8 451.9" fill="none" stroke="#000" stroke-width="0.8"/><circle cx="342.9" cy="430.2" r="2.6" fill="#0a0a9a"/><circle cx="311.8" cy="452.59999999999997" r="2.6" fill="#0a0a9a"/><text x="301.7" y="415.0" class="sm">He1</text><text x="352.8" y="415.0" class="sm">He2</text><text x="303.8" y="433.5" class="sm">Ce1</text><text x="352.6" y="452.3" class="sm">Cd2</text><text x="369.1" y="461.6" class="sm">Hd2</text><text x="333" y="471.8" class="sm">Cg</text><text x="327.6" y="491.9" class="sm">Cb</text><text x="347.1" y="433.7" class="smb">Ne2</text><text x="295.6" y="455.7" class="smb">Nd1</text>
<path d="M225.0 222.5 224.5 222.7 223.5 222.5 222.9 222.0 222.1 221.0 221.1 218.5 220.5 215.0 220.6 212.5 221.3 210.5 222.5 209.0 224.0 208.5 225.5 208.8 226.5 209.6 227.6 211.5 228.0 213.5 227.8 216.5 227.1 219.5 226.1 221.5 225.0 222.5Z" fill="#ee1111" stroke="#ee1111" stroke-width="0.8"/>
<path d="M237.5 214.0 237.0 213.9 236.5 213.0 235.5 208.6 235.2 208.5 235.0 208.4 234.5 209.0 233.5 210.9 232.5 211.9 232.0 212.1 231.5 211.9 231.0 211.5 230.4 210.5 230.0 209.1 229.6 206.0 229.8 204.0 230.2 202.0 230.8 200.5 231.5 199.6 233.0 198.8 237.5 198.1 239.0 198.4 240.5 199.5 241.3 201.0 241.5 202.5 241.0 204.3 239.5 206.3 239.2 207.0 238.5 212.2 238.0 213.6 237.5 214.0Z" fill="#ee1111" stroke="#ee1111" stroke-width="0.8"/>
<g fill="none" stroke="#fff" stroke-linejoin="round">
<path d="M237.0 205.1 236.5 205.3 236.0 205.1 235.4 204.0 235.5 202.5 236.0 201.9 236.5 201.7 237.1 202.0 237.6 203.0 237.5 204.5 237.0 205.1ZM224.5 215.2 224.0 214.9 223.8 214.0 224.0 213.1 224.5 212.8 224.9 213.5 225.0 214.0 224.9 214.5 224.5 215.2Z" stroke-width="0.72"/>
<path d="M237.0 204.5 236.5 204.8 236.0 204.5 235.7 204.0 235.7 203.0 236.0 202.5 236.5 202.2 237.0 202.5 237.3 203.0 237.3 204.0 237.0 204.5ZM224.5 214.8 224.1 214.5 224.0 214.0 224.1 213.5 224.5 213.2 224.8 214.0 224.5 214.8Z" stroke-width="0.48"/>
</g>
<g fill="none" stroke="#ee1111" stroke-linejoin="round">
<path d="M366.5 212.6 366.0 212.4 365.4 211.5 363.2 205.5 362.9 204.0 363.1 202.5 363.5 201.5 364.5 200.6 365.5 200.3 366.5 200.5 367.5 201.1 368.2 202.5 368.5 204.0 368.5 206.5 368.0 210.1 367.5 211.7 367.0 212.4 366.5 212.6Z" stroke-width="1.2"/>
<path d="M358.5 203.6 358.0 203.6 357.5 202.5 357.5 201.0 358.0 200.0 358.5 200.1 359.0 201.5 359.0 202.5 358.5 203.6Z" stroke-width="0.96"/>
<path d="M367.0 211.6 366.5 211.9 366.0 211.7 365.5 210.9 363.4 204.5 363.4 203.0 363.7 202.0 364.5 201.1 365.0 200.8 366.0 200.8 367.0 201.2 367.6 202.0 368.1 203.5 368.2 205.5 368.0 208.5 367.6 210.5 367.0 211.6Z" stroke-width="0.9"/>
<path d="M367.0 210.6 366.5 210.9 366.0 210.7 365.6 210.0 363.8 204.5 363.8 203.5 364.0 202.5 364.5 201.8 365.5 201.3 366.4 201.5 367.0 202.0 367.5 202.8 367.8 204.0 367.9 205.5 367.7 208.0 367.5 209.2 367.0 210.6Z" stroke-width="0.8"/>
<path d="M358.5 203.0 358.0 203.0 357.8 202.5 357.7 201.5 358.0 200.6 358.5 200.7 358.8 201.5 358.5 203.0Z" stroke-width="0.72"/>
<path d="M366.5 209.6 366.0 209.3 365.5 208.2 364.4 204.5 364.5 203.0 365.0 202.3 365.5 202.1 366.0 202.1 366.6 202.5 367.0 203.0 367.4 204.5 367.4 206.0 367.2 208.0 367.0 208.9 366.5 209.6ZM366.5 207.1 366.0 207.0 365.3 205.5 365.2 204.5 365.5 203.4 366.0 203.4 366.6 204.0 366.8 205.5 366.5 207.1Z" stroke-width="0.64"/>
</g>
<circle cx="365.3" cy="216.6" r="1.0" fill="#ee1111"/>
<g fill="none" stroke="#000" stroke-linejoin="round">
<path d="M212.5 264.1 211.0 264.1 210.0 263.8 208.7 262.5 208.2 261.5 208.1 260.5 208.5 258.0 209.8 255.5 211.0 254.1 212.0 253.4 213.0 252.8 214.5 252.3 215.5 252.2 216.5 252.4 217.6 253.0 218.6 254.5 218.9 256.5 218.5 258.5 217.5 260.5 216.0 262.3 214.5 263.4 212.5 264.1Z" stroke-width="1.9"/>
<path d="M213.0 263.7 211.0 263.7 210.0 263.3 209.1 262.5 208.6 261.5 208.4 260.5 208.6 258.5 209.7 256.0 211.5 254.1 212.5 253.4 214.0 252.7 216.0 252.7 217.5 253.4 218.2 254.5 218.6 256.0 218.4 258.0 217.8 259.5 216.4 261.5 215.0 262.7 213.0 263.7Z" stroke-width="1.3"/>
<path d="M213.5 263.2 211.5 263.4 210.5 263.2 209.6 262.5 209.0 261.5 208.8 260.5 208.9 258.5 209.2 257.5 210.1 256.0 212.0 254.1 214.0 253.1 215.0 252.9 216.0 253.1 217.0 253.5 217.5 254.0 218.0 255.0 218.3 256.5 218.1 258.0 217.5 259.5 216.5 261.0 215.0 262.4 213.5 263.2ZM212.5 263.0 211.5 263.0 210.5 262.7 209.5 261.6 209.1 260.0 209.4 258.0 210.5 256.0 212.0 254.4 214.0 253.5 215.0 253.3 216.0 253.5 217.0 254.1 217.8 255.5 217.9 257.0 217.6 258.5 216.8 260.0 215.5 261.6 214.0 262.6 212.5 263.0ZM213.0 262.5 212.0 262.6 211.3 262.5 210.5 262.1 210.0 261.6 209.5 260.0 209.6 258.5 210.5 256.5 212.0 254.9 213.0 254.2 214.0 253.9 215.5 253.8 216.5 254.3 217.3 255.5 217.5 256.5 217.4 258.0 216.7 259.5 215.6 261.0 214.5 261.9 213.0 262.5ZM213.0 262.1 211.5 262.0 210.5 261.4 209.9 260.0 210.2 258.0 211.0 256.4 212.5 255.0 214.0 254.3 215.5 254.4 216.5 255.0 217.0 256.0 217.1 257.0 216.8 258.5 216.0 260.0 215.1 261.0 214.0 261.7 213.0 262.1Z" stroke-width="1.2"/>
<path d="M213.5 261.6 212.0 261.8 211.0 261.3 210.5 260.7 210.3 260.0 210.3 258.5 210.9 257.0 212.0 255.7 213.5 254.8 215.0 254.6 215.9 255.0 216.5 255.7 216.8 257.0 216.7 258.0 216.3 259.0 215.5 260.2 214.5 261.1 213.5 261.6ZM214.0 261.0 212.5 261.4 211.5 261.1 210.9 260.5 210.6 259.0 211.0 257.5 212.0 256.2 213.0 255.4 214.5 255.0 215.5 255.3 216.0 255.7 216.4 256.5 216.4 257.5 216.2 258.5 215.6 259.5 215.0 260.2 214.0 261.0ZM214.0 260.6 213.0 260.9 212.0 260.8 211.5 260.5 211.2 260.0 211.0 259.0 211.4 257.5 212.2 256.5 213.5 255.6 214.5 255.4 215.0 255.6 215.6 256.0 215.9 256.5 216.0 257.5 215.5 259.0 214.7 260.0 214.0 260.6ZM214.0 260.0 213.0 260.4 212.0 260.1 211.6 259.5 211.5 258.5 211.9 257.5 212.8 256.5 213.5 256.1 214.5 256.0 215.2 256.5 215.5 257.0 215.5 257.7 215.0 259.0 214.0 260.0ZM213.5 259.6 212.5 259.5 212.2 259.0 212.2 258.5 212.5 257.6 213.0 257.1 214.0 256.7 214.6 257.0 214.8 258.0 214.3 259.0 213.5 259.6Z" stroke-width="0.96"/>
</g>
<g fill="none" stroke="#000" stroke-linejoin="round">
<path d="M310.0 260.0 309.0 260.5 308.0 260.0 307.5 259.0 307.3 257.5 307.6 256.0 308.3 254.5 309.0 253.8 310.0 253.6 310.5 253.8 311.1 254.5 311.5 256.5 311.0 258.5 310.0 260.0Z" stroke-width="0.96"/>
<path d="M309.5 259.4 309.0 259.4 308.5 259.2 308.1 258.5 307.9 257.5 308.1 256.5 308.5 255.5 309.0 254.8 309.5 254.6 310.0 254.6 310.5 255.1 310.8 256.5 310.5 258.2 310.0 259.0 309.5 259.4Z" stroke-width="0.8"/>
</g>
<ellipse cx="211.1" cy="268.2" rx="1.4" ry="0.6" fill="#f5c518"/>
<text x="210.1" y="188.8" class="lab4" fill="#b00000" stroke="#500000" stroke-width="0.3">His Ne2–Ce1</text>
<text x="318.2" y="189.0" class="lab4" fill="#b00000" stroke="#500000" stroke-width="0.3">His Ne2–Cd2</text>
<text x="207.4" y="278.7" class="lab4">Trp</text><text x="207.6" y="290.7" class="lab4">Ne1–Ce2</text>
<text x="305.1" y="278.7" class="lab4">Trp</text><text x="305.1" y="290.7" class="lab4">Ne1–Cd1</text>
<g fill="none" stroke="#1fb01f" stroke-linejoin="round">
<path d="M230.0 575.6 229.0 575.7 227.5 575.4 225.0 574.2 223.5 573.0 222.5 571.5 221.9 570.0 221.3 567.5 221.0 565.0 221.0 562.5 221.3 560.0 222.9 554.5 223.1 553.0 222.3 547.0 222.1 543.5 222.3 537.0 222.7 532.5 223.3 530.0 224.7 526.5 226.0 524.9 227.0 524.2 227.5 524.1 228.5 524.4 229.5 525.6 230.1 527.5 230.2 530.0 229.8 533.5 228.2 540.0 227.6 547.0 226.4 553.0 226.5 555.0 227.5 558.5 228.6 561.0 229.0 561.5 229.5 561.6 232.5 560.7 233.5 560.7 234.0 561.0 234.8 562.0 235.2 563.0 235.4 564.5 235.1 568.0 233.9 571.5 233.0 573.2 232.0 574.4 231.0 575.2 230.0 575.6ZM229.5 605.5 228.0 605.8 227.0 605.7 225.9 605.0 225.0 603.5 224.7 602.0 224.8 600.5 225.3 598.5 226.0 597.0 227.5 595.2 229.0 594.3 232.5 593.1 236.0 591.1 237.0 590.9 238.0 591.1 238.6 591.5 239.4 592.5 239.8 593.5 240.1 595.0 239.9 598.0 239.5 599.5 238.7 601.0 237.5 602.4 236.5 603.1 232.5 604.0 229.5 605.5Z" stroke-width="1.6"/>
<path d="M230.5 574.7 229.5 575.0 228.0 574.6 224.5 572.9 223.5 572.0 222.6 570.5 222.0 569.0 221.4 565.0 221.4 562.5 221.9 559.5 222.5 557.4 223.7 554.5 223.9 553.5 223.8 552.0 222.8 548.0 222.4 544.5 222.5 538.5 223.0 533.0 223.7 530.0 225.0 527.0 226.0 525.7 227.0 525.0 227.5 524.9 228.5 525.3 229.3 526.5 229.7 528.5 229.8 531.0 229.3 534.0 227.9 539.5 227.3 547.0 226.7 549.5 225.6 553.0 225.7 554.5 227.7 560.5 228.5 562.1 229.0 562.5 229.5 562.5 232.0 561.5 233.0 561.4 233.5 561.6 234.0 562.0 234.5 562.7 235.0 565.0 234.7 568.0 233.7 571.0 232.2 573.5 230.5 574.7ZM229.0 605.1 228.0 605.2 227.0 605.0 226.0 604.2 225.4 603.0 225.2 601.5 225.3 600.0 225.7 598.5 226.5 597.0 227.5 595.9 228.5 595.1 232.5 593.7 235.5 591.9 237.0 591.5 238.0 591.8 238.8 592.5 239.3 593.5 239.7 596.0 239.4 598.5 238.2 601.0 237.5 601.8 236.5 602.5 235.5 602.9 232.5 603.4 229.0 605.1Z" stroke-width="1.2"/>
<path d="M225.0 551.2 224.5 551.1 223.9 550.0 223.2 548.0 222.9 546.0 222.7 542.5 223.2 535.0 223.7 531.5 224.7 528.5 226.0 526.6 227.0 525.9 227.5 525.9 228.5 526.5 229.0 527.5 229.4 529.5 229.3 531.5 228.9 534.0 227.5 539.5 227.1 545.0 226.8 547.5 226.0 550.0 225.5 550.8 225.0 551.2ZM230.0 574.1 228.5 573.8 226.5 572.6 224.5 571.7 223.3 570.5 222.4 568.5 221.8 565.0 222.0 561.3 222.4 559.5 223.0 557.8 224.0 556.3 224.5 556.0 225.0 556.1 226.0 557.6 227.6 562.0 228.0 562.9 228.5 563.5 229.0 563.6 229.5 563.5 231.5 562.5 232.5 562.2 233.5 562.6 234.3 564.0 234.5 565.5 234.5 567.0 234.0 569.0 233.5 570.5 232.0 572.9 231.0 573.7 230.0 574.1ZM228.5 604.5 227.5 604.4 226.8 604.0 226.0 603.0 225.7 602.0 225.7 601.0 225.9 599.5 226.5 598.0 227.2 597.0 228.0 596.2 229.0 595.5 232.5 594.5 236.0 592.3 237.0 592.2 238.0 592.6 239.0 594.0 239.3 596.0 239.0 598.5 238.0 600.5 237.0 601.5 236.0 602.1 232.5 602.7 230.0 604.1 228.5 604.5ZM225.5 549.1 225.0 549.5 224.5 549.3 224.3 549.0 223.8 548.0 223.3 546.0 223.2 542.5 223.7 535.0 224.2 531.5 225.1 529.0 225.7 528.0 226.5 527.2 227.5 527.0 228.1 527.5 228.6 528.5 228.8 530.0 228.8 531.5 228.5 533.6 227.1 539.0 226.5 546.5 226.0 548.3 225.5 549.1ZM230.0 573.1 229.0 572.8 227.0 571.2 224.5 570.4 223.5 569.4 223.0 568.4 222.4 565.5 222.4 562.0 222.9 560.0 223.3 559.0 224.0 558.0 224.5 557.8 225.0 558.0 225.5 558.5 226.0 559.4 227.5 564.0 228.0 564.8 228.5 565.1 229.0 565.0 231.0 563.7 232.0 563.3 233.0 563.5 233.7 564.5 233.9 565.5 233.9 567.0 233.2 570.0 232.5 571.2 231.5 572.4 230.5 573.0 230.0 573.1ZM229.5 603.5 228.5 603.7 227.5 603.5 226.9 603.0 226.5 602.2 226.3 601.0 226.4 600.0 226.9 598.5 227.5 597.5 229.0 596.3 232.5 595.4 235.0 593.6 236.0 593.1 237.0 593.0 237.9 593.5 238.5 594.5 238.8 596.5 238.5 598.5 237.5 600.2 236.0 601.3 232.5 601.8 229.5 603.5ZM225.0 547.6 224.5 547.4 224.0 546.2 223.7 544.0 224.4 534.0 224.8 531.5 225.4 530.0 226.1 529.0 227.0 528.5 227.5 528.7 228.0 529.6 228.1 532.0 226.4 539.0 226.2 544.0 226.0 545.9 225.5 547.2 225.0 547.6ZM226.0 568.6 225.0 568.9 224.0 568.2 223.5 567.3 223.0 565.5 222.9 563.5 223.1 562.0 224.0 560.0 224.5 559.7 225.0 559.9 225.7 561.0 226.2 562.5 226.6 564.5 226.8 566.5 226.8 567.5 226.0 568.6ZM229.5 602.5 228.5 602.7 228.0 602.6 227.5 602.1 227.2 601.5 227.1 600.5 227.3 599.5 228.1 598.0 229.5 597.1 232.5 596.6 235.0 594.5 236.0 594.0 237.0 594.0 237.5 594.3 238.1 595.5 238.2 597.0 237.8 598.5 237.0 599.7 236.5 600.2 235.5 600.5 233.5 600.4 232.5 600.5 229.5 602.5Z" stroke-width="0.9"/>
<path d="M231.0 571.6 230.0 571.7 229.0 571.0 228.4 569.5 228.3 568.5 228.7 567.5 229.8 566.0 231.0 564.9 232.0 564.5 232.5 564.6 233.0 565.2 233.3 566.5 233.2 567.5 232.5 569.9 232.0 570.7 231.0 571.6ZM226.0 535.3 225.5 535.0 225.5 533.1 226.0 531.4 226.5 530.9 227.0 531.3 227.1 532.5 226.5 534.5 226.0 535.3ZM224.5 565.6 224.2 564.0 224.5 563.0 225.0 563.4 225.2 564.5 225.0 565.5 224.5 565.6ZM231.0 569.6 230.5 569.5 230.2 568.5 230.5 567.5 231.0 566.9 231.5 566.6 232.0 567.0 232.0 568.0 231.5 569.2 231.0 569.6ZM236.0 599.1 235.0 599.1 234.5 598.8 234.1 598.0 234.1 597.5 235.0 596.0 235.6 595.5 236.5 595.3 237.0 595.6 237.2 596.0 237.3 597.0 237.0 598.1 236.5 598.8 236.0 599.1ZM230.0 600.5 229.0 601.0 228.5 600.5 228.6 599.5 229.0 599.0 229.5 598.7 230.0 598.7 230.5 599.2 230.4 600.0 230.0 600.5Z" stroke-width="0.72"/>
</g>
<path d="M232.5 495.1 232.0 495.2 231.4 495.0 230.9 494.5 230.5 493.5 230.5 492.5 230.9 491.5 231.5 491.0 232.0 490.8 233.0 491.2 233.7 492.5 233.5 494.0 233.0 494.8 232.5 495.1ZM212.5 552.4 212.0 552.2 211.6 551.5 211.4 550.0 211.6 548.5 212.0 547.8 212.5 547.6 213.2 548.5 213.4 550.0 213.2 551.5 212.5 552.4Z" fill="#1fb01f" stroke="#1fb01f" stroke-width="0.8"/>
<circle cx="240.6" cy="589" r="1.0" fill="#1fb01f"/>
<g fill="none" stroke="#ee1111" stroke-linejoin="round">
<path d="M365.0 586.1 363.5 585.8 362.5 585.2 360.0 583.1 357.0 581.1 355.6 579.5 355.0 577.5 355.2 575.5 356.0 574.0 357.5 572.7 359.0 572.1 360.5 571.9 362.5 572.1 365.0 572.6 366.5 573.1 367.5 573.8 368.9 575.5 369.5 577.0 369.7 578.5 369.6 580.5 369.3 582.0 368.6 583.5 367.5 584.9 366.5 585.6 365.0 586.1ZM239.0 583.1 238.0 583.4 237.0 583.5 235.5 583.0 234.0 581.6 233.3 580.0 233.1 579.0 233.1 577.5 233.8 575.5 235.0 574.0 236.5 573.2 238.0 573.1 239.5 573.8 240.7 575.0 241.6 577.0 241.7 579.0 241.3 580.5 240.4 582.0 239.0 583.1ZM226.5 591.7 225.0 591.7 223.6 591.0 222.8 590.0 222.1 588.0 221.8 587.5 221.5 582.5 221.0 579.0 221.0 577.0 221.5 575.0 222.0 574.3 223.0 573.7 224.0 573.9 225.2 575.5 226.4 580.5 228.5 584.0 229.1 586.0 229.2 587.5 228.7 589.5 227.6 591.0 226.5 591.7ZM376.5 596.6 375.0 596.2 373.7 595.0 372.7 593.0 372.3 590.5 372.5 588.0 373.1 586.0 373.7 585.0 374.5 584.2 376.0 583.5 377.5 583.8 378.4 584.5 379.0 585.2 379.9 587.0 380.3 589.5 380.1 592.0 379.2 594.5 378.0 595.9 376.5 596.6ZM382.0 619.5 380.5 619.8 379.5 619.6 378.5 619.0 377.0 617.5 375.7 615.0 375.1 612.0 375.3 609.5 376.1 607.5 377.5 606.3 379.0 606.2 380.0 606.5 381.0 607.2 382.5 609.0 383.5 611.0 384.1 613.5 384.0 616.0 383.4 618.0 382.7 619.0 382.0 619.5ZM211.5 618.2 211.0 618.3 210.5 618.2 210.0 617.8 209.3 616.5 209.0 615.0 209.1 613.0 209.5 611.7 210.0 610.8 210.5 610.4 211.0 610.3 211.5 610.4 212.0 610.8 212.4 611.5 212.8 612.5 213.0 614.0 212.7 616.5 212.2 617.5 211.5 618.2Z" stroke-width="1.6"/>
<path d="M365.5 585.5 364.5 585.6 363.0 585.0 360.5 583.0 357.5 581.0 356.1 579.5 355.5 578.0 355.5 576.0 356.2 574.5 357.5 573.2 358.5 572.6 360.0 572.3 361.5 572.3 363.5 572.7 366.5 573.6 367.5 574.3 368.5 575.5 369.1 577.0 369.4 578.5 369.4 580.0 369.1 581.5 368.4 583.0 367.5 584.3 366.5 585.1 365.5 585.5ZM238.5 582.6 237.0 582.8 235.5 582.2 234.4 581.0 233.7 579.0 233.8 577.0 234.5 575.5 235.5 574.4 237.0 573.8 238.5 574.0 239.5 574.6 240.5 575.8 241.1 577.5 241.1 579.0 240.6 580.5 239.5 582.0 238.5 582.6ZM226.5 591.0 225.0 591.1 224.0 590.6 223.1 589.5 222.6 588.0 222.2 587.5 222.1 582.5 221.5 579.0 221.5 577.5 222.0 575.7 222.5 575.1 223.0 574.8 224.0 575.1 224.5 575.7 225.0 577.1 225.7 580.5 226.2 581.5 228.0 584.2 228.6 586.0 228.7 587.5 228.3 589.0 227.5 590.3 226.5 591.0ZM377.0 595.7 376.0 595.8 375.5 595.7 374.5 595.0 373.4 593.5 372.8 591.0 372.8 588.5 373.4 586.5 374.5 585.0 376.0 584.2 377.5 584.5 378.5 585.4 379.4 587.0 379.8 589.0 379.8 591.5 379.2 593.5 378.1 595.0 377.0 595.7ZM381.0 619.1 379.5 618.9 378.0 617.9 376.7 616.0 375.9 614.0 375.5 611.5 375.8 609.5 376.5 608.0 377.0 607.5 378.0 606.9 379.5 607.0 381.0 607.9 382.5 609.9 383.3 612.0 383.7 614.5 383.4 616.5 382.5 618.2 382.0 618.7 381.0 619.1Z" stroke-width="1.2"/>
<path d="M211.0 617.6 210.5 617.4 210.0 616.9 209.5 615.6 209.4 614.5 209.5 613.0 209.9 612.0 210.5 611.2 211.0 611.0 211.5 611.2 212.1 612.0 212.5 613.0 212.6 614.5 212.5 615.6 212.0 616.9 211.5 617.4 211.0 617.6Z" stroke-width="0.96"/>
<path d="M365.0 585.1 364.0 584.9 363.0 584.5 360.5 582.5 357.6 580.5 356.5 579.2 355.9 577.5 356.0 576.0 356.8 574.5 358.0 573.4 359.0 573.0 360.5 572.8 362.0 572.9 364.5 573.4 366.0 573.9 367.0 574.5 368.3 576.0 368.7 577.0 369.0 578.5 369.0 580.0 368.7 581.5 368.0 583.0 367.2 584.0 366.0 584.8 365.0 585.1ZM226.5 590.3 225.5 590.5 224.5 590.1 223.8 589.5 223.2 588.0 222.8 587.5 222.6 585.5 222.9 581.5 222.4 578.0 222.5 577.4 223.0 576.6 223.5 576.6 224.0 577.2 224.8 581.0 227.2 584.0 228.1 586.0 228.2 587.5 227.9 588.5 227.4 589.5 226.5 590.3ZM376.5 595.0 375.5 594.9 374.4 594.0 373.6 592.5 373.2 590.5 373.3 588.5 374.0 586.6 375.0 585.4 376.0 585.0 377.0 585.1 378.2 586.0 379.0 587.5 379.4 589.5 379.3 591.5 378.5 593.5 377.5 594.6 376.5 595.0ZM381.5 618.0 380.5 618.3 379.0 617.8 377.6 616.5 376.6 614.5 376.1 612.5 376.2 610.5 376.5 609.5 377.0 608.6 378.0 607.8 379.0 607.7 380.5 608.4 381.6 609.5 382.6 611.5 383.1 613.5 383.0 615.5 382.5 617.0 381.5 618.0ZM366.0 584.2 365.0 584.5 363.5 584.2 358.5 580.5 357.4 579.5 356.6 578.0 356.5 576.5 357.1 575.0 358.0 574.0 359.0 573.5 360.0 573.3 362.5 573.5 365.5 574.2 366.5 574.8 367.5 575.7 368.2 577.0 368.5 578.0 368.5 580.5 368.0 582.0 367.5 582.9 366.0 584.2ZM376.5 594.1 375.5 593.9 374.6 593.0 374.1 592.0 373.8 590.5 373.8 589.0 374.3 587.5 375.0 586.5 376.0 585.9 377.0 586.1 378.0 587.0 378.5 588.0 378.8 589.5 378.7 591.0 378.3 592.5 377.5 593.6 376.5 594.1ZM381.0 617.2 380.0 617.3 379.0 616.9 378.0 615.9 377.1 614.0 376.7 612.0 376.9 610.5 377.5 609.4 378.5 608.7 379.5 608.8 380.5 609.3 381.5 610.6 382.1 612.0 382.4 613.5 382.4 615.0 382.0 616.2 381.0 617.2ZM366.0 583.5 365.0 583.8 363.5 583.5 358.0 579.3 357.2 578.0 357.1 577.0 357.3 576.0 358.0 574.8 359.5 574.0 361.5 573.9 365.0 574.7 366.0 575.1 367.0 575.9 367.7 577.0 368.0 577.9 368.1 580.0 367.5 582.0 366.7 583.0 366.0 583.5ZM365.0 583.1 364.0 582.9 363.2 582.5 358.5 578.8 357.9 577.5 357.9 576.5 358.4 575.5 359.0 575.0 360.5 574.6 363.0 574.8 365.3 575.5 366.7 576.5 367.3 577.5 367.6 578.5 367.5 580.5 367.1 581.5 366.5 582.3 366.0 582.7 365.0 583.1ZM366.0 582.1 365.0 582.5 364.0 582.3 359.5 579.0 359.0 578.4 358.6 577.5 358.6 576.5 358.9 576.0 360.0 575.3 361.5 575.1 364.5 575.7 366.0 576.5 367.0 578.0 367.2 579.5 366.8 581.0 366.0 582.1Z" stroke-width="0.9"/>
<path d="M238.5 581.7 237.0 581.9 236.0 581.6 235.0 580.5 234.4 579.0 234.4 577.5 235.0 576.0 236.0 575.0 237.0 574.7 238.0 574.7 239.0 575.2 239.8 576.0 240.4 577.5 240.4 579.0 240.1 580.0 239.5 581.0 238.5 581.7ZM211.0 616.6 210.5 616.4 210.3 616.0 209.9 614.5 210.1 613.0 210.5 612.2 211.0 612.0 211.5 612.2 211.9 613.0 212.1 614.5 211.7 616.0 211.5 616.4 211.0 616.6ZM238.5 580.5 238.0 580.8 237.0 580.8 236.0 580.3 235.5 579.5 235.3 578.5 235.5 577.1 236.0 576.3 237.0 575.8 238.0 575.8 238.5 576.1 239.0 576.6 239.4 577.5 239.5 579.0 239.0 580.0 238.5 580.5ZM225.5 589.5 224.5 589.0 223.9 588.0 223.4 587.5 223.3 587.0 223.5 584.7 224.0 583.5 224.5 583.2 225.5 583.5 226.5 584.4 227.2 585.5 227.5 586.5 227.5 587.5 227.0 588.7 226.5 589.2 225.5 589.5ZM226.0 587.8 225.5 587.9 224.5 587.5 224.4 586.0 225.0 585.2 225.5 585.3 226.0 585.6 226.4 586.5 226.4 587.5 226.0 587.8ZM377.0 592.7 376.0 592.9 375.5 592.6 375.0 592.0 374.6 591.0 374.5 589.5 374.8 588.5 375.4 587.5 376.0 587.1 376.5 587.1 377.2 587.5 377.6 588.0 378.0 589.1 378.0 591.0 377.6 592.0 377.0 592.7ZM380.0 616.1 379.0 615.6 378.5 615.1 377.9 614.0 377.6 613.0 377.6 612.0 377.8 611.0 378.5 610.1 379.0 609.9 379.5 610.0 380.5 610.7 381.1 611.5 381.6 613.0 381.6 614.0 381.4 615.0 381.0 615.7 380.5 616.0 380.0 616.1ZM365.5 581.6 365.0 581.7 364.0 581.6 360.7 579.0 360.0 578.3 359.6 577.5 359.5 577.0 359.8 576.5 360.6 576.0 362.0 575.9 364.5 576.4 365.6 577.0 366.3 578.0 366.6 579.5 366.4 580.5 365.5 581.6ZM365.0 580.7 364.0 580.6 363.2 580.0 361.9 578.5 361.6 578.0 361.7 577.5 362.5 577.1 363.5 577.1 364.5 577.4 365.4 578.0 365.7 578.5 365.8 579.5 365.5 580.3 365.0 580.7Z" stroke-width="0.72"/>
</g>
<g fill="none" stroke="#000" stroke-linejoin="round">
<path d="M212.5 643.1 211.0 643.0 210.2 642.5 209.9 642.0 209.5 641.0 209.4 640.0 209.8 637.0 210.6 634.5 212.0 632.5 213.5 631.5 214.5 631.2 215.5 631.3 217.0 632.1 218.0 633.5 218.5 635.5 218.3 637.5 217.4 639.5 216.0 641.3 214.5 642.5 212.5 643.1ZM309.5 643.1 308.5 643.1 308.0 642.7 307.6 642.0 307.2 640.5 307.3 638.5 307.9 636.5 308.7 635.0 310.0 633.7 311.0 633.4 312.0 633.9 312.5 634.7 312.8 636.0 312.7 638.0 312.2 640.0 311.5 641.3 310.5 642.5 309.5 643.1Z" stroke-width="1.5"/>
<path d="M213.0 642.5 211.5 642.4 210.4 641.5 210.0 640.5 209.9 639.5 210.2 637.0 210.8 635.0 212.0 633.0 213.5 631.9 214.5 631.7 215.5 631.8 216.8 632.5 217.8 634.0 218.1 635.5 217.9 637.5 217.3 639.0 216.0 640.8 214.5 641.9 213.0 642.5ZM310.0 642.1 309.0 642.3 308.5 642.0 308.1 641.5 307.7 640.0 307.8 638.5 308.2 637.0 309.0 635.5 310.0 634.5 311.0 634.3 311.5 634.6 312.1 635.5 312.3 636.5 312.2 638.0 311.5 640.3 311.0 641.1 310.0 642.1Z" stroke-width="1.1"/>
<path d="M214.0 641.5 212.5 641.8 211.5 641.5 211.0 641.0 210.5 639.6 210.5 638.0 211.0 635.5 212.0 633.7 213.5 632.4 215.0 632.1 216.0 632.5 217.1 633.5 217.7 635.0 217.7 636.5 217.3 638.0 216.5 639.5 215.5 640.6 214.0 641.5ZM214.5 640.6 213.0 641.0 212.0 640.7 211.5 640.2 211.2 639.5 211.0 638.0 211.3 636.0 212.0 634.4 213.0 633.3 214.5 632.7 215.5 632.8 216.5 633.6 217.0 634.5 217.3 636.0 217.0 637.5 216.5 638.7 215.5 639.9 214.5 640.6Z" stroke-width="0.9"/>
<path d="M309.5 641.1 309.0 641.0 308.5 640.2 308.4 638.5 309.2 636.5 310.0 635.7 310.5 635.5 311.0 635.6 311.5 636.4 311.5 638.5 311.0 639.8 310.5 640.5 310.0 641.0 309.5 641.1ZM214.0 640.0 213.0 640.0 212.2 639.5 211.7 638.5 211.7 637.0 212.0 635.5 213.0 634.0 214.0 633.4 215.0 633.3 216.0 633.9 216.4 634.5 216.7 635.5 216.7 636.5 216.5 637.5 216.0 638.5 215.0 639.5 214.0 640.0ZM214.0 639.0 213.4 639.0 212.8 638.5 212.4 637.5 212.4 636.5 213.0 635.0 213.5 634.5 214.5 634.1 215.5 634.5 215.9 635.0 216.1 636.5 215.5 638.0 215.0 638.5 214.0 639.0ZM214.0 638.1 213.5 638.0 213.2 637.5 213.1 636.5 213.5 635.4 214.0 635.0 214.5 634.9 215.0 635.0 215.4 635.5 215.5 636.5 215.0 637.6 214.5 638.0 214.0 638.1Z" stroke-width="0.72"/>
</g>
<text x="209" y="484" class="lab4" fill="#108a10" stroke="#003000" stroke-width="0.3">His Nd1–Ce1</text>
<text x="246.8" y="582.6" class="lab4" fill="#b00000" stroke="#500000" stroke-width="0.3">His Ne2–Ce1</text>
<text x="322.4" y="564.2" class="lab4" fill="#b00000" stroke="#500000" stroke-width="0.3">His Ne2–Cd2</text>
<text x="207.4" y="655.2" class="lab4">Trp</text><text x="207.6" y="666.6" class="lab4">Ne1–Ce2</text>
<text x="305.1" y="655.2" class="lab4">Trp</text><text x="305.1" y="666.6" class="lab4">Ne1–Cd1</text>
</svg></body></html>
